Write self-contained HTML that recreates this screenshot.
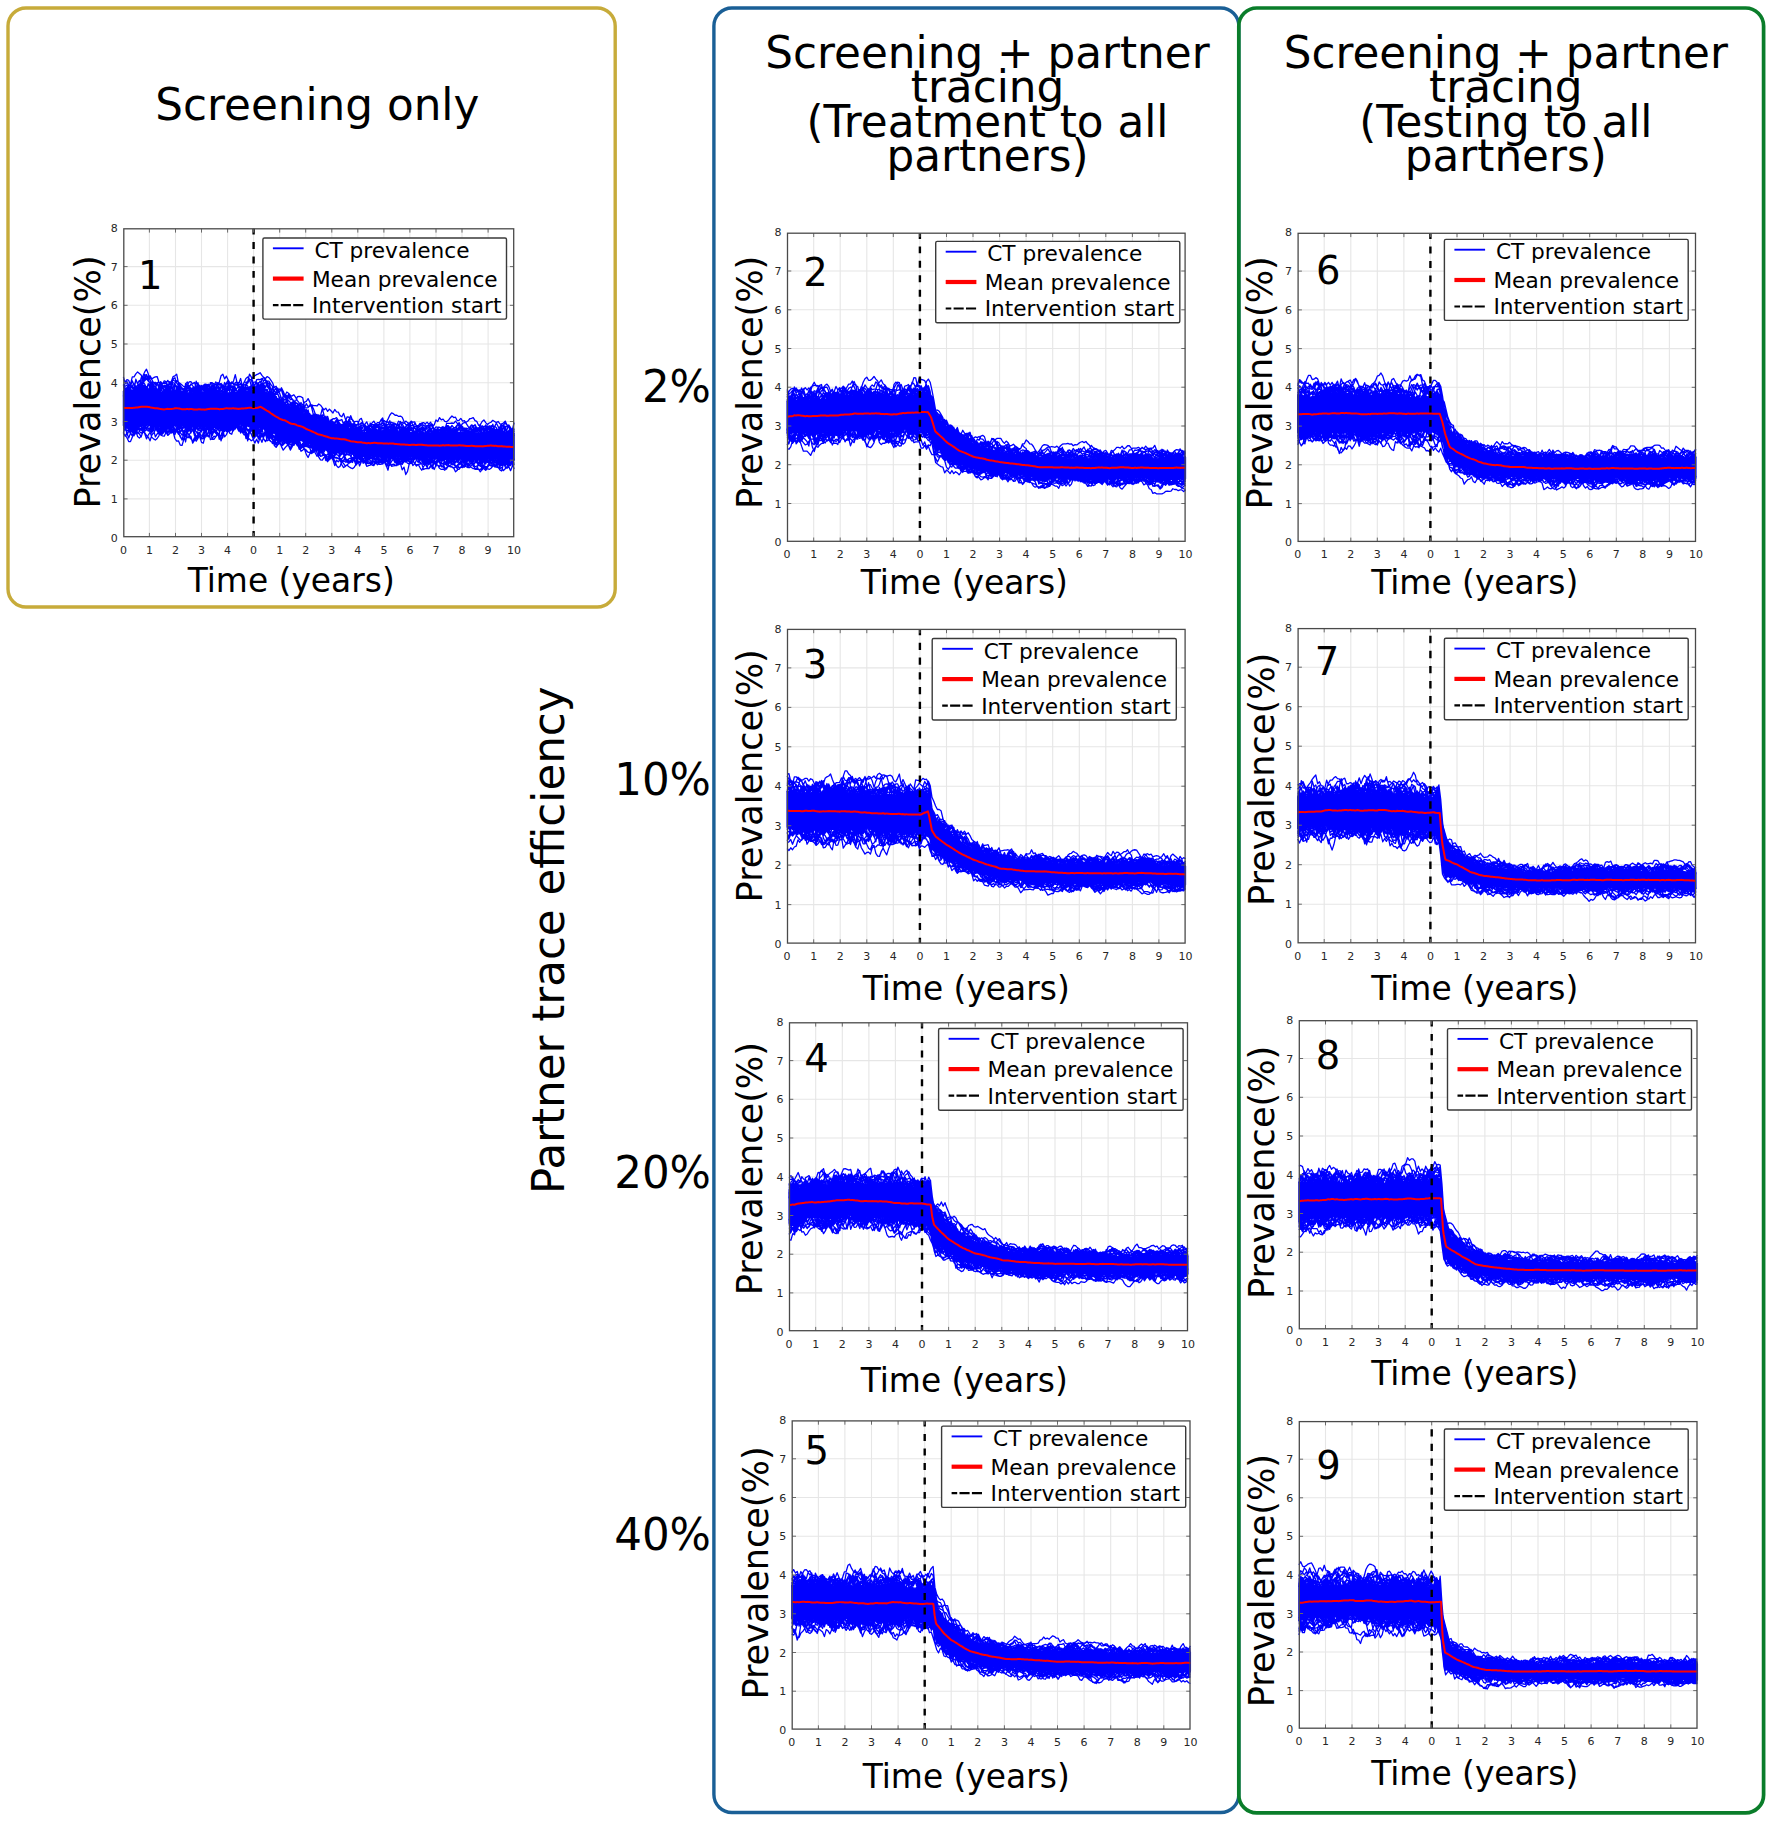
<!DOCTYPE html>
<html lang="en"><head><meta charset="utf-8"><title>Partner trace efficiency</title>
<style>
html,body{margin:0;padding:0;background:#fff}
body{width:1772px;height:1821px;overflow:hidden}
svg{display:block}
text{font-family:'DejaVu Sans','Liberation Sans',sans-serif;fill:#000}
.tk text{font-size:11px;fill:#262626}
.lg text{font-size:21.66px}
.num{font-size:38.5px}
.xl{font-size:32.9px}
.yl{font-size:35.1px}
.hd{font-size:43.7px}
.sd{font-size:43.55px}
</style></head><body>
<svg width="1772" height="1821" viewBox="0 0 1772 1821">
<rect width="1772" height="1821" fill="#fff"/>
<rect x="8" y="8" width="607.2" height="599" rx="18" fill="none" stroke="#c7ab3a" stroke-width="3.4"/>
<rect x="713.9" y="8" width="524.9" height="1804.5" rx="18" fill="none" stroke="#1a5f96" stroke-width="3.4"/>
<rect x="1238.8" y="8" width="524.8" height="1804.9" rx="18" fill="none" stroke="#0a7d2a" stroke-width="3.7"/>
<text class="hd" text-anchor="middle" x="317.3" y="119.8">Screening only</text>
<g class="hd" text-anchor="middle"><text x="987.5" y="67.9">Screening + partner</text><text x="987.5" y="101.9">tracing</text><text x="987.5" y="136.9">(Treatment to all</text><text x="987.5" y="170.9">partners)</text></g>
<g class="hd" text-anchor="middle"><text x="1505.8" y="68.3">Screening + partner</text><text x="1505.8" y="102.3">tracing</text><text x="1505.8" y="137.3">(Testing to all</text><text x="1505.8" y="171.3">partners)</text></g>
<text class="sd" text-anchor="middle" transform="translate(563.5 940.2) rotate(-90)">Partner trace efficiency</text>
<text class="sd" text-anchor="end" x="711" y="401.5">2%</text>
<text class="sd" text-anchor="end" x="711" y="794.6">10%</text>
<text class="sd" text-anchor="end" x="711" y="1187.6">20%</text>
<text class="sd" text-anchor="end" x="711" y="1550">40%</text>
<g>
<path d="M149.4 228.8V536.7M175.5 228.8V536.7M201.5 228.8V536.7M227.6 228.8V536.7M253.6 228.8V536.7M279.7 228.8V536.7M305.7 228.8V536.7M331.8 228.8V536.7M357.8 228.8V536.7M383.9 228.8V536.7M409.9 228.8V536.7M436 228.8V536.7M462 228.8V536.7M488.1 228.8V536.7M123.8 498.9H513.7M123.8 460.2H513.7M123.8 421.5H513.7M123.8 382.8H513.7M123.8 344H513.7M123.8 305.3H513.7M123.8 266.6H513.7" stroke="#e6e6e6" stroke-width="1.1" fill="none"/>
<g transform="translate(123.4 537.6) scale(1.77591 -0.38713)" fill="none" stroke="#00f" stroke-width="1.3" stroke-linejoin="round"><path d="M0 378L1 378L2 378L3 378L4 379L5 380L6 381L7 382L8 383L9 383L10 384L11 385L12 385L13 385L14 384L15 383L16 382L17 380L18 379L19 378L20 377L21 376L22 376L23 377L24 377L25 376L26 377L27 379L28 379L29 378L30 378L31 378L32 377L33 377L34 377L35 375L36 374L37 374L38 374L39 374L40 374L41 375L42 374L43 375L44 376L45 376L46 376L47 376L48 376L49 376L50 375L51 375L52 374L53 374L54 374L55 374L56 374L57 374L58 374L59 374L60 374L61 375L62 375L63 376L64 375L65 376L66 377L67 377L68 378L69 379L70 379L71 380L72 380L73 381L74 382L75 381L76 380L77 380L78 379L79 377L80 375L81 373L82 370L83 366L84 363L85 360L86 357L87 354L88 352L89 349L90 346L91 343L92 341L93 340L94 338L95 336L96 333L97 331L98 329L99 328L100 326L101 323L102 320L103 318L104 316L105 314L106 311L107 309L108 307L109 305L110 304L111 302L112 300L113 298L114 297L115 295L116 293L117 291L118 290L119 289L120 287L121 287L122 286L123 286L124 285L125 285L126 284L127 283L128 282L129 281L130 280L131 278L132 276L133 275L134 274L135 273L136 272L137 272L138 271L139 271L140 272L141 273L142 273L143 274L144 275L145 275L146 276L147 276L148 277L149 277L150 277L151 277L152 277L153 276L154 276L155 275L156 275L157 274L158 273L159 273L160 272L161 272L162 272L163 272L164 271L165 270L166 270L167 269L168 268L169 268L170 267L171 267L172 267L173 268L174 268L175 269L176 270L177 271L178 271L179 272L180 272L181 273L182 273L183 273L184 273L185 273L186 273L187 273L188 273L189 272L190 272L191 272L192 271L193 271L194 270L195 270L196 269L197 269L198 269L199 269L200 269L201 269L202 270L203 270L204 271L205 272L206 273L207 273L208 273L209 274L210 274L211 273L212 273L213 272L214 272L215 271L216 270L217 270L218 269L219 269L220 269L220 200L219 200L218 200L217 200L216 200L215 200L214 200L213 199L212 199L211 200L210 201L209 201L208 201L207 201L206 201L205 201L204 202L203 202L202 202L201 202L200 201L199 201L198 202L197 202L196 202L195 201L194 201L193 202L192 202L191 203L190 203L189 203L188 203L187 203L186 204L185 204L184 203L183 203L182 203L181 203L180 204L179 204L178 204L177 204L176 204L175 205L174 205L173 205L172 206L171 206L170 207L169 208L168 208L167 209L166 209L165 209L164 209L163 209L162 209L161 208L160 208L159 208L158 207L157 207L156 208L155 208L154 209L153 209L152 209L151 210L150 210L149 209L148 210L147 209L146 209L145 208L144 208L143 209L142 209L141 210L140 210L139 211L138 211L137 212L136 213L135 213L134 213L133 214L132 214L131 215L130 216L129 216L128 217L127 218L126 219L125 221L124 221L123 222L122 222L121 223L120 223L119 224L118 225L117 225L116 226L115 226L114 228L113 229L112 230L111 231L110 233L109 234L108 235L107 237L106 239L105 242L104 244L103 246L102 248L101 249L100 251L99 252L98 253L97 254L96 255L95 255L94 256L93 257L92 258L91 259L90 260L89 262L88 264L87 265L86 267L85 270L84 273L83 276L82 278L81 280L80 281L79 283L78 284L77 284L76 284L75 284L74 284L73 285L72 285L71 286L70 288L69 289L68 290L67 291L66 293L65 293L64 294L63 294L62 294L61 294L60 294L59 294L58 293L57 292L56 292L55 291L54 291L53 290L52 290L51 290L50 289L49 289L48 288L47 287L46 287L45 286L44 286L43 286L42 287L41 287L40 287L39 287L38 287L37 288L36 288L35 288L34 288L33 288L32 287L31 288L30 289L29 290L28 290L27 289L26 289L25 289L24 288L23 289L22 289L21 289L20 288L19 289L18 290L17 291L16 292L15 293L14 294L13 294L12 295L11 295L10 294L9 293L8 293L7 291L6 291L5 291L4 290L3 290L2 290L1 290L0 289Z" fill="#00f" stroke="#00f" vector-effect="non-scaling-stroke"/><path d="M0 289l1-4 1 9M9 297l1-6 1-1 1 3 1 9M33 302l1-19 1 5M36 292l1-17 1 14M64 357l1 21 1 3 1 10 1-15M88 351l1 6 1-20M105 312l1 1 1 6 1-17M110 301l1 3 1 8 1-21M124 275l1 11 1 3 1-6M131 272l1 6 1 7 1-1 1 2 1 6 1-7 1-20M140 272l1 13 1 2 1-2 1 1 1 3 1 14 1-1 1-4 1 8 1 10 1 6 1-2 1-4 1 0 1-3 1 1 1-3 1-11 1-8 1 0 1-15 1 0 1-1 1-2 1-4M1 372l1 12 1 1 1 3 1-16M7 370l1 19 1-3 1 7 1 7 1 12 1 1 1-5 1-10 1-5 1-5 1-21M18 367l1 16 1-6M20 377l1 17 1 4 1 1 1-1 1 8 1-8 1-7 1-17M43 371l1 15 1 2 1 4 1 4 1-2 1-7 1 8 1-21M72 379l1 20 1-7 1 16 1 1 1-1 1 3 1-6 1 5 1-21 1 3 1-11 1 3 1-21 1-3 1-11M20 315l1-32 1 14M41 302l1-21 1 4 1 14M124 282l1 7 1 8 1-8 1-5 1-2 1-2M130 280l1 4 1-7 1-5M147 270l1 16 1-10M6 379l1 30 1-11 1 8 1-11 1 23 1 10 1 7 1-12 1-15 1-13 1-10 1-7M19 371l1 11 1-19M29 372l1 17 1-1 1-7 1-4M64 309l1-21 1-10 1 0 1 11 1 13M116 238l1-24 1 17M168 266l1 17 1-10 1-4 1 6 1 4 1-8 1 2 1 6 1 3 1-3 1 2 1-14M184 217l1-17 1-7 1-7 1-9 1-1 1 6 1 8 1 5 1-5 1 14M195 205l1-10 1 12M201 203l1-14 1-5 1-6 1 3 1 8 1 14M207 203l1-8 1-12 1 7 1 9 1-11 1-2 1 4 1-6 1 11 1 11M53 292l1-11 1 29M55 310l1-24 1 17M85 282l1-16 1-7 1-10 1 8 1 5M90 262l1-15 1-4 1-6 1-11 1 8 1 14 1-2 1-3 1 10M99 253l1-13 1-4 1 0 1-1 1 3 1-7 1-14 1 4 1 9 1-11 1-11 1-7 1-1 1 7 1-1 1-4 1 15 1-7 1 6 1 4 1-3 1 4 1 4M203 267l1 12 1-6 1 0M211 271l1 3 1 3 1 4 1 3 1-9 1 0 1 5 1-10 1-8M34 359l1 21 1 11 1-7 1-3 1-7M101 249l1-5 1-4 1-1 1 16M106 243l1-7 1-8 1 8M205 265l1 12 1 12 1-1 1-7 1-20M1 293l1-10 1 8M29 366l1 25 1-6 1 1 1 1 1-5 1-2 1-12M40 366l1 14 1-2 1-5M73 360l1 29 1-5 1 5 1 2 1 17 1 6 1-6 1-13 1 5 1-17 1 0 1-3 1 6 1 0 1-14 1-12 1-14M109 242l1-13 1-4 1 7M177 207l1-13 1-7 1-3 1 7 1-4 1 11 1 0 1 0 1-4 1 17M211 267l1 9 1 15 1-1 1-3 1-1 1 5 1-7 1-6 1 19M37 288l1-18 1 11 1-17 1-9 1 5 1 0 1-5 1 17 1-14 1 22 1 1 1 10M50 300l1-27 1 4 1-8 1 0 1 17 1 17M109 243l1-13 1-20 1 2 1 1 1-3 1-14 1 7 1 5 1-7 1-15 1 14 1-4 1 5 1-13 1-7 1 3 1 4 1 4 1 3 1 6 1 7 1 6 1 9M132 223l1-14 1-8 1 1 1-2 1-7 1-2 1 3 1-7 1-1 1 7 1 15 1-15 1 7 1-4 1 7 1-18 1 6 1-4 1 10 1 6 1 3 1 17M160 210l1-7 1-2 1-15 1 5 1-6 1 4 1 1 1 1 1-15 1 2 1 0 1 0 1 5 1 3 1 13 1 6M27 302l1-16 1-11 1 9 1 8M96 329l1 6 1 2 1-12M123 229l1-9 1-8 1 3 1-2 1 7M190 268l1 5 1 8 1-4 1-7M196 268l1 8 1 5 1 2 1-4 1-7 1 7 1-2 1 6 1-3 1-2 1-4 1-1M0 271l1-9 1 9 1-14 1 13 1-5 1-2 1 16 1-18 1-4 1 5 1 10 1 3 1 3 1 10 1 4 1-22 1 13 1 22M42 296l1-13 1-3 1 3 1 8M86 280l1-24 1 4 1-4 1 2 1-8 1 5 1 0 1 2M108 236l1-9 1 11M112 237l1-16 1 10M118 227l1-5 1-7 1-3 1-7 1-2 1 7 1-9 1 1 1-5 1 3 1 6 1-3 1-8 1 17 1-10 1 3 1-13 1 3 1-11 1 2 1 1 1 10 1 7 1 0 1-3 1-3 1 1 1 2 1-6 1-9 1-12 1 22 1-12 1 1 1 1 1 0 1 5 1 0 1-16 1 7 1-19 1 8 1 21 1 7 1 2 1-10 1-3 1 1 1-8 1-7 1 9 1 7 1-9 1-3 1 9 1 0 1-11 1 11 1 0 1-3 1 9 1 11M180 204l1-11 1 4 1 8M0 409l1-7 1 6 1-2 1-12 1-5 1-8M23 370l1 13 1-6 1 11 1 7 1 14 1 4 1-14 1-6 1-17M35 371l1 13 1 3 1-19M48 376l1 1 1 3 1 12 1-9 1-10M81 368l1 9 1-10 1-26M87 349l1 14 1-18M89 345l1 20 1 2 1 0 1-31M106 311l1 8 1 0 1-18M11 378l1 12 1-2 1-10M15 375l1 10 1-2 1 2 1-14M34 373l1 23 1 6 1-16 1 11 1-5 1-5 1-6 1-6 1 5 1 0 1 2 1 0 1-2 1 1 1-2 1 15 1-20M74 287l1-6 1-2 1 2 1 0 1 11M79 292l1-14 1-12 1-12 1-5 1-6 1 12 1-13 1 9 1 5 1 7M103 318l1 6 1-11M123 286l1 10 1 5 1-15 1 15 1-7 1-16M194 206l1-7 1-8 1-2 1-13 1 0 1 1 1-7 1 7 1 10 1-4 1 1 1 10 1-1 1-7 1-2 1 2 1 6 1-11 1 21M216 201l1-18 1-10 1 11 1 20M73 376l1 9 1 7 1 7 1 4 1-7 1 2 1-28M81 364l1 9 1 3 1 13 1-11 1-2 1 1 1 0 1 8 1-13 1-8 1-5 1-5 1-5 1-10 1-22M143 272l1 6 1 5 1-3 1 0 1 2 1 2 1 1 1-4 1-7M152 274l1 3 1 5 1 0 1 2 1 2 1-3 1-1 1-5 1-1 1-14M192 268l1 8 1-8M14 300l1-12 1 4M16 292l1-4 1-3 1-1 1-2 1 3 1 14M26 291l1-15 1-5 1 9 1-6 1-5 1 17 1-6 1-17 1 23 1 5M39 289l1-16 1 11 1-7 1 10M50 362l1 17 1 7 1-6 1-16M68 360l1 22 1 2 1-6M171 248l1 27 1-2 1-6M174 267l1 10 1-7M182 271l1 4 1 3 1-3 1 9 1-3 1-9M39 364l1 17 1 23 1-16 1 6 1-18M46 373l1 9 1 10 1 5 1-1 1-24M67 374l1 12 1-2 1 1 1 3 1-14M123 281l1 16 1-3 1 5 1-5 1-3 1 0 1 5 1-19M27 290l1-7 1 9M29 292l1-10 1 7M64 297l1-9 1 8M72 287l1-9 1 17M121 283l1 4 1 5 1-18M190 214l1-18 1-1 1 5 1 3M29 372l1 10 1-1 1 2 1-13M51 375l1 4 1-5M103 253l1-14 1-4 1 8M106 243l1-11 1 8M0 292l1-9 1 12M2 295l1-17 1 18M28 290l1-11 1-3 1 6 1 13M53 369l1 12 1 5 1 4 1 2 1-19M115 295l1 4 1-3 1-5 1 3 1-6 1 0 1 2 1 2 1-8M124 284l1 8 1-6 1-9M172 206l1-6 1 6M176 214l1-17 1 5 1 5M190 206l1-8 1 14M192 212l1-17 1 3 1 12M1 364l1 21 1-14M19 309l1-26 1-4 1 25M22 304l1-18 1-10 1 18M30 291l1-11 1-2 1-3 1-1 1-12 1-4 1 1 1-4 1-6 1 9 1-9 1 7 1 16 1 1 1 22M55 294l1-14 1 6 1 8M115 288l1 10 1 7 1-17M137 265l1 24 1 1 1-7 1 5 1 2 1 7 1 0 1 5 1 3 1-10 1-10 1-8M0 377l1 10 1-12M38 369l1 18 1-4 1-7 1 17 1-3 1 0 1 3 1 4 1-9 1-32M68 366l1 23 1-4 1 5 1-7 1-10M113 296l1 18 1-24M192 207l1-11 1 5M195 204l1-8 1 3 1 8M3 352l1 36 1-17M71 296l1-13 1-15 1-5 1 6 1-14 1 6 1 18 1 16M95 327l1 16 1 3 1 1 1-7 1 0 1-12 1 4 1-9 1 6 1-19M105 310l1 6 1-5 1 0 1-5 1 1 1-3 1-3 1-10M121 283l1 11 1-5 1 5 1 1 1 0 1 8 1 12 1-12 1-7 1-9 1 6 1 12 1 3 1-13 1-11 1 3 1 0 1-8 1 0 1-5 1 6 1-13M147 276l1 2 1 0 1 0 1 6 1 0 1-2 1-1 1-19M162 266l1 11 1 7 1-8 1 4 1-10 1-1 1-3M173 255l1 18 1 7 1-9 1-2M180 269l1 10 1-8M15 302l1-22 1 10 1-5 1-5 1-11 1 4 1 21M83 358l1 7 1 7 1-12 1-28M90 335l1 14 1-10M94 321l1 27 1-5 1-7 1 7 1-8 1 1 1 1 1-11 1-4 1-8M66 377l1 3 1-1 1 7 1-2 1-9M75 379l1 6 1-5M93 339l1 2 1 6 1-1 1-9 1-22M113 298l1 4 1 10 1-20M116 292l1 0 1 2 1 1 1-4 1-22M164 216l1-14 1-8 1 14 1-3 1 8M0 282l1-4 1 10 1-12 1-7 1-6 1 15 1 29M58 368l1 19 1-2 1-5 1-23M124 224l1-12 1 4 1-3 1 11M140 211l1-3 1-8 1 3 1-14 1 0 1 4 1 12 1-7 1 16M151 210l1-2 1-10 1-4 1 11 1-5 1 2 1 2 1 15M167 219l1-20 1-10 1 4 1-11 1 11 1 0 1 8 1 13M8 293l1-12 1 1 1-5 1-6 1-7 1-4 1-10 1 15 1 5 1 8 1 3 1-13 1 0 1 9 1 3 1-7 1 2 1-3 1 17M186 270l1 6 1 14 1 7 1-9 1-1 1-11 1-9M194 267l1 8 1-5 1-5M197 265l1 16 1-4 1-2 1 6 1-10 1-2M205 268l1 8 1 6 1-6 1-10M18 290l1-4 1-12 1 1 1 12 1-13 1-2 1 11 1 6M31 296l1-12 1-4 1 5 1 12M39 295l1-15 1-6 1-1 1-13 1-14 1-2 1 18 1 8 1-10 1 14 1 26M62 306l1-19 1 6 1 13M96 255l1-5 1-1 1-14 1 1 1 7 1-4 1 0 1 2 1-8 1 0 1 0 1 2M129 220l1-10 1-2 1 4 1 0 1-2 1 0 1 10M140 220l1-13 1-2 1-1 1 1 1-7 1 11M158 214l1-13 1 16M168 208l1-9 1 9M1 295l1-6 1-9 1 15M9 310l1-23 1 6 1-5 1 1 1-6 1-10 1-14 1-4 1-3 1 4 1 7 1 16 1-10 1 10 1 21M44 293l1-17 1 3 1-18 1 16 1-3 1-20 1 0 1 6 1 12 1-18 1 11 1 12 1-17 1 6 1 10 1 18M64 301l1-11 1-9 1 1 1 8M68 290l1-15 1-11 1 14 1-11 1-11 1-12 1 10 1-10 1 17 1 5 1-11 1-7 1 9 1 13 1 0 1 18M119 287l1 5 1 9 1-7 1-7 1-3M142 259l1 18 1 6 1 0 1 7 1 3 1-9 1 1 1 1 1-9M159 266l1 11 1-5M73 380l1 10 1-7 1-1 1-5M131 276l1 10 1 0 1 2 1 4 1-2 1-15 1-13M159 216l1-14 1 13M165 211l1-4 1-5 1 11M0 394l1-21M2 376l1 16 1-1 1 14 1-12 1-1 1-23M10 382l1 5 1 5 1-5 1-7M31 364l1 20 1-23M146 269l1 12 1 16 1 2 1-7 1 6 1-2 1-1 1-6 1 2 1 3 1 0 1-9 1 1 1-1 1 0 1-4 1-1 1-8 1 1 1-5M167 269l1 6 1-11M0 415l1-16 1 0 1-5 1-2 1 0 1-11M7 380l1 8 1-4 1-1M10 383l1 19 1-5 1-11 1-27M60 302l1-16 1-10 1 17 1 6M68 301l1-14 1-12 1 1 1 25M74 288l1-11 1 4 1 10M77 291l1-10 1-16 1 3 1-18 1 3 1 9 1 2 1-1 1-9 1 15M87 269l1-10 1-11 1-8 1 16 1-10 1 6 1-12 1 1 1 4 1 13M105 258l1-25 1-11 1 9 1 0 1-13 1 9 1 17M2 378l1 5 1-6M8 366l1 27 1-25M13 377l1 19 1-7 1 13 1-9 1-5 1 13 1-1 1-2 1-5 1-5 1 6 1 2 1 0 1-1 1 5 1-2 1-11 1-9M64 373l1 11 1-3 1-41M135 218l1-11 1-11 1 2 1-7 1 2 1 3 1 3 1 14M149 258l1 20 1 0 1 2 1-3 1 5 1 4 1 14 1-16 1-4 1 7 1 6 1 2 1-5 1-1 1-3 1 3 1-15 1 2 1-4 1-7M172 259l1 10 1 16 1-4 1-12M176 269l1 11 1-2 1 2 1-8M181 273l1 5 1 3 1-8M184 273l1 7 1-2 1-7M187 271l1 9 1 6 1-16M195 259l1 12 1 3 1-22M0 365l1 18 1 3 1 2 1-3 1 8 1 4 1-10 1 7 1-3 1-8M14 374l1 10 1 13 1-28M19 370l1 22 1-24M23 368l1 14 1 13 1-6 1-13M90 332l1 17 1 2 1 13 1-8 1 3 1-13 1-5 1-3 1-18M116 292l1 8 1-11M138 264l1 12 1-9M152 212l1-9 1-3 1-1 1-4 1 5 1 7M219 261l1 15M0 300l1-17 1-7 1 1 1 5 1 5 1 9M6 296l1-24 1 16 1-12 1 3 1-5 1 20 1 11M61 299l1-22 1 6 1 2 1-2 1 5 1 8M45 290l1-9 1 4 1-9 1-23 1 3 1 6 1-2 1 6 1 0 1-13 1 6 1 35M57 294l1-2 1-9 1-7 1 2 1 4 1 20M82 279l1-8 1-5 1 11M92 259l1-12 1 4 1-5 1 9M97 254l1-9 1 8M158 272l1 8 1 3 1-2 1-3 1-3 1-11M12 310l1-21 1 19M57 373l1 5 1 17 1-14 1 11 1-18M101 322l1 8 1-7 1 7 1-18M150 215l1-9 1-4 1-9 1 12 1-1 1-3 1 5 1-8 1 7 1-3 1-8 1-3 1 5 1 8 1 12M189 206l1-11 1 8M30 366l1 17 1 1 1-10M144 218l1-11 1-4 1 1 1 15M149 218l1-23 1 14 1 0M32 301l1-19 1-15 1 7 1-2 1-7 1 8 1 3 1 15M48 290l1-9 1-4 1 12 1 4M58 297l1-9 1 12M95 316l1 18 1 2 1-6 1-15M126 284l1 8 1-2 1-3 1 4 1 1 1-1 1 2 1 4 1-3 1-4 1-9 1-24M6 307l1-17 1-5 1 21M91 266l1-17 1 7 1 9M132 219l1-8 1-5 1-4 1 8 1 3M154 217l1-17 1 4 1 10M160 209l1-7 1-1 1 0 1-11 1 10 1 14M177 207l1-11 1-1 1-6 1 12 1 14M83 282l1-16 1 9M126 284l1 4 1 1 1-17M133 259l1 20 1 8 1 6 1 6 1-11 1 4 1 4 1 5 1-8 1-9 1 2 1-23M154 276l1 16 1-14 1-8M170 267l1 3 1 7 1 15 1-6 1-4 1-7 1-2 1 3 1 8 1 3 1-20M181 267l1 10 1 7 1-16M214 271l1 12 1-15M48 293l1-12 1 14M102 311l1 14 1-6 1-9M124 281l1 9 1-26M171 260l1 21 1 9 1 3 1-14 1 7 1-1 1 0 1-2 1-6 1 0 1 10 1-10 1 2 1 1 1-6 1-8M18 302l1-19 1-4 1 2 1 6 1 2M23 289l1-15 1 8 1 11M26 293l1-9 1-11 1 7 1 0 1-8 1-12 1-7 1 16 1-22 1 24 1 8 1 10M39 292l1-11 1 17M54 297l1-13 1-11 1 7 1 10 1-6 1 19M151 211l1-3 1 0 1-4 1 6M14 298l1-7 1-17 1 6 1 13M20 296l1-8 1-9 1 14M168 256l1 17 1-12M51 372l1 11 1 17 1-3 1 1 1-5 1-7 1 13 1 8 1-7 1-2 1 6 1 17 1-21 1 1 1-3 1-15 1-8M68 375l1 22 1-6 1-9 1 4 1 3 1-11M74 378l1 9 1 11 1 6 1-10 1 12 1 1 1-3 1 0 1-8 1-6 1-2 1-5 1-12 1-13 1-5 1 7 1-21M152 272l1 9 1-9M7 309l1-28 1 8 1 6M10 295l1-16 1 16M37 369l1 18 1-6 1 2 1 5 1 12 1-21 1 1 1 14 1-5 1 7 1-19 1-1M49 376l1 1 1 20 1-3 1 3 1-3 1 0 1-11 1-2 1-18M74 295l1-19 1-2 1 6 1 23M93 267l1-16 1-5 1 8 1-6 1 8M102 265l1-27 1-3 1 26M187 213l1-11 1-7 1-2 1 2 1 9M201 203l1-8 1 2 1 0 1 7M33 373l1 12 1-14M40 371l1 8 1 4 1-14M106 309l1 7 1 0 1-1 1 2 1-5 1-16M142 225l1-18 1-4 1-3 1-2 1 10 1-5 1-11 1 11 1 6 1-8 1-2 1-10 1 8 1-2 1-6 1 8 1-2 1 17M173 211l1-13 1-2 1 15M206 273l1 1 1 4 1 8 1 10 1-9 1-12 1 0 1-17M4 315l1-29 1-14 1 12 1-2 1 13M11 311l1-26 1-3 1-7 1 9 1 4 1 7M17 295l1-10 1 8M57 369l1 17 1 3 1-4 1 6 1 1 1-30M65 368l1 12 1 1 1 5 1 6 1 9 1 8 1-1 1-17 1-1 1-6 1 4 1 4 1-12 1 17 1 5 1-12 1-6 1 0 1-13 1-12M90 336l1 10 1 12 1 13 1-8 1-5 1-8 1 3 1 11 1 1 1-1 1-3 1-25 1 10 1-8 1 1 1 4 1-2 1 0 1-1 1 5 1-3 1-6 1-6 1 4 1-8 1 6 1-5 1-5 1 9 1-6 1-1 1-9 1-3 1 9 1-15 1-7 1-5 1-8 1-4 1 6 1-10M131 278l1 6 1-8 1 0 1-12M138 270l1 6 1-10M148 271l1 7 1 7 1-3 1-3 1-7M196 208l1-11 1 6M203 203l1-13 1 13M208 204l1-4 1-11 1-7 1-7 1-3 1 19 1 3 1 3 1 12M14 360l1 39 1-23M16 376l1 7 1-2 1 0 1 7 1 10 1-7 1-15M179 272l1 9 1 4 1-7 1-5M183 273l1 13 1-8 1-16M206 205l1-12 1 2 1 5 1-1 1-3 1 6M214 207l1-14 1-5 1-3 1 10 1-4 1-4M77 286l1-6 1-16 1 14 1 11M97 254l1-7 1-10 1-3 1 2 1 5 1 8M137 268l1 13 1 7 1 4 1 0 1-2 1-2 1-7 1-5 1-7M168 213l1-13 1 15M177 209l1-13 1 7 1 2M183 206l1-9 1 19M188 205l1-13 1-2 1-9 1 5 1 5 1 15M195 204l1-5 1-15 1 11 1 6M204 210l1-10 1-9 1-6 1 2 1 1 1-1 1 3 1 8 1 0 1-7 1-2 1 1 1 4 1 6M20 375l1 4 1 8 1-8 1-6M101 252l1-10 1 1 1-10 1-1 1-14 1 6 1 20M108 244l1-18 1 0 1 7M161 214l1-12 1 11M173 212l1-10 1-9 1 0 1 4 1 3 1-1 1 8M42 371l1 19 1-13 1-8M49 372l1 6 1 15 1-21M52 372l1 7 1-10M54 369l1 11 1-5 1-6M88 269l1-13 1 14M92 262l1-9 1-7 1 5 1 11M107 304l1 11 1-11M215 271l1 0 1 0 1 3 1 1 1-1M34 306l1-25 1-11 1-5 1-6 1-13 1 9 1 7 1 2 1 7 1-9 1-1 1 29M84 358l1 7 1-6 1-3 1-4M89 345l1 6 1-6 1 9 1-18M96 329l1 7 1-10M112 290l1 10 1 5 1 8 1-14 1 3 1 5 1 0 1 3 1-7 1 0 1 2 1-13 1 1 1-29M146 210l1-7 1-13 1-5 1 5 1-2 1 2 1-2 1-1 1 8 1 12 1-3 1 6M170 210l1-15 1 5 1 1 1 3 1 19M8 383l1 12 1-3 1 1 1 1 1-14M14 368l1 17 1 9 1-17M77 363l1 26 1-12M82 367l1 11 1-10 1-11M100 325l1 0 1 0 1-16M111 235l1-14 1 0 1 11M122 226l1-10 1 5M127 226l1-17 1 10M204 266l1 19 1-6 1-2 1-8M213 270l1 3 1 5 1-6 1-5M12 370l1 20 1-12M14 378l1 14 1-8 1-7M54 295l1-11 1-2 1 6 1-9 1 18M80 286l1-27 1 5 1-7 1-5 1-14 1-5 1 7 1 4 1 7 1 1 1 1 1 2 1 1 1 9M94 265l1-18 1 6 1 5M97 258l1-15 1-15 1 5 1 11 1-16 1-13 1-8 1 10 1 3 1 3 1 2 1 6 1-1 1-3 1-4 1 14M213 272l1 16 1-9 1-11M216 268l1 6 1 9 1-8 1-2M50 299l1-14 1 11M53 294l1-11 1 22M55 305l1-18 1 9M94 261l1-11 1 2 1 0 1-14 1-5 1 8 1-2 1 2 1 6M103 247l1-10 1-6 1 5 1-12 1 2 1 8M109 234l1-10 1 2 1-11 1-2 1 1 1-6 1-7 1 5 1 1 1 9 1 0 1 6 1-6 1 9M123 225l1-11 1-7 1-12 1 9 1 1 1-5 1 11 1 0 1 6M147 216l1-9 1-9 1 11 1-2 1-4 1 5 1-9 1-7 1 0 1-2 1 10 1-2 1 4 1-5 1-2 1 10 1-3 1 7M165 209l1-7 1 4 1-5 1-6 1 10 1-3 1 7M172 209l1-13 1 1 1-2 1-3 1 6 1 0 1 7M179 205l1-6 1 9M184 203l1-5 1 7M206 201l1-10 1-5 1 7 1 2 1 6M156 274l1 5 1-15M5 305l1-21 1 16M74 371l1 18 1-1 1 6 1-1 1-16M88 349l1 4 1 13 1 1 1-11 1-12 1 1 1 5 1-9 1-4 1-14M130 220l1-15 1 0 1 11M156 208l1-7 1 7M166 211l1-9 1 9M168 211l1-10 1 0 1-11 1 3 1 16M6 307l1-21 1 8M50 373l1 16 1-4 1-5 1-23M58 363l1 35 1-1 1 5 1-6 1 1 1-4 1-6 1 0 1-1 1-3 1-4M81 369l1 3 1 1 1-9 1-4M86 356l1 3 1-12M135 220l1-10 1-10 1 10 1 3M160 216l1-15 1 0 1 7 1 3M187 264l1 11 1 4 1 10 1-12 1-1 1 0 1-3 1 13 1-12 1 5 1-5 1 5 1 3 1-7 1-7M0 282l1 1 1 8M2 291l1-15 1 3 1-7 1 0 1 2 1 16 1 8M47 292l1-10 1-3 1 17M91 272l1-19 1 3 1-1 1-6 1-11 1 11 1 4M157 213l1-10 1-5 1-6 1-2 1 7 1 10 1 7M164 214l1-11 1 10M200 202l1-9 1-18 1 6 1 0 1 1 1 5 1-1 1 2 1-5 1-1 1-1 1-3 1 3 1-8 1 5 1 5 1 8 1-5 1 8 1-17M49 298l1-18 1 9 1-3 1 18M59 298l1-10 1 19M92 258l1-18 1-10 1 15 1 20M134 219l1-22 1-1 1-5 1 2 1-2 1 1 1 33M187 268l1 9 1 4 1-3 1 4 1 1 1-2 1-8 1 7 1 0 1-11M197 269l1 3 1 9 1 1 1 8 1-7 1-12 1 20 1-12 1 10 1-4 1-4 1-1 1-4 1 0 1 4 1-2 1-9M219 261l1 19M1 296l1-9 1-11 1-1 1 5 1 5 1 0 1-6 1 1 1-1 1-7 1 9 1 22M31 295l1-9 1-2 1 2 1-3 1-5 1 37M39 297l1-17 1-6 1-9 1 7 1 6 1 8M45 286l1-11 1 7 1 8M48 290l1-4 1-14 1 4 1 0 1-11 1 3 1-18 1 22 1 2 1 11 1 9M68 292l1-12 1-2 1 2 1 7M72 287l1-11 1 8M74 284l1-19 1 10 1-17 1 3 1 3 1 15 1-2 1 12M108 305l1 5 1 7 1-9 1-1 1-13M117 285l1 11 1 2 1 7 1-8 1-12M16 296l1-13 1-3 1 9M23 290l1-13 1-9 1 16 1 26M64 314l1-30 1-14 1 33M72 292l1-16 1-3 1-1 1 7 1-7 1-4 1-8 1 8 1 10 1 1M152 265l1 16 1 2 1 2 1-10M177 205l1-8 1-5 1-1 1-11 1-1 1 5 1 0 1-2 1-3 1 3 1 5 1 1 1 5 1-6 1 0 1-4 1-2 1 0 1 6 1 4 1-8 1 2 1-9 1 0 1 5 1-3 1-4 1 4 1-2 1 3 1 6 1 10 1-4 1 3 1 2 1-6 1 1 1 7 1-3 1-7 1 15M25 300l1-23 1-6 1 0 1-5 1 12 1 9 1 20M63 327l1-38 1-3 1 15M67 305l1-20 1 10M108 303l1 8 1 1 1 1 1 4 1-3 1-8 1-2 1-13M207 206l1-14 1-3 1-4 1 5 1 7 1 6M9 366l1 30 1-19M24 374l1 9 1-2 1-12M94 277l1-29 1 11M149 277l1 12 1-3 1 5 1-8 1-10M155 274l1 3 1 7 1-2 1-2 1-13M176 266l1 10 1-4 1 2 1 3 1 1 1 17 1 0 1 0 1 1 1-1 1 6 1-6 1-8 1-5 1-1 1 1 1 1 1-2 1-1 1 1 1-7 1-12M217 266l1 7 1 3 1 6M45 288l1-10 1 4 1-5 1 20M50 299l1-22 1-8 1 17 1-12 1 8 1 14M58 295l1-15 1-11 1-2 1 15 1 16M63 298l1-10 1-7 1 8 1-12 1-6 1 13 1-7 1 0 1 6 1 2M98 316l1 14 1 5 1-23M102 313l1 10 1-19M215 209l1-15 1 9M0 285l1-1 1 3 1 9M37 367l1 19 1-18M45 371l1 11 1-1 1 0 1-4 1-2M56 365l1 16 1-4 1-13M60 372l1 6 1 7 1-1 1-5 1-1 1-8M165 263l1 12 1-5 1 2 1 10 1-2 1 2 1 4 1-3 1-13 1 4 1 3 1-15M178 271l1 3 1 7 1-15M184 268l1 9 1 2 1-10M218 268l1 6 1-5M6 292l1-8 1-14 1 4 1-4 1 3 1 17 1-10 1-4 1 2 1 5 1-4 1-19 1 8 1 3 1-3 1-1 1 7 1 16M25 295l1-10 1-3 1 3 1-12 1 9 1 0 1-11 1-6 1 7 1 10 1 1 1 8M53 294l1-8 1 11M67 291l1-9 1 23M106 310l1 2 1 8 1-25M133 268l1 9 1-1 1 2 1-4 1-2 1 5 1 5 1-10M164 264l1 13 1 11 1 7 1-5 1-9 1-1 1-19M106 246l1-21 1 10M144 272l1 8 1 1 1 7 1 6 1-13 1-2 1 0 1-6M195 203l1-5 1-13 1 9 1 0 1-8 1 18M201 204l1-12 1 16M52 311l1-32 1-2 1 0 1 22M59 307l1-17 1-8 1-1 1 18M80 372l1 7 1-7 1 4 1 12 1-10 1-8 1 0 1-13 1-10M99 320l1 14 1-18M106 307l1 8 1-15M123 283l1 14 1 3 1 12 1-1 1-5 1-1 1-6 1 1 1 0 1-17 1-9M137 271l1 2 1 9 1-8 1 6 1 8 1 4 1-3 1-6 1 1 1-2 1 11 1-2 1 11 1-13 1 7 1-14 1 10 1 9 1-5 1 2 1-3 1 6 1-4 1-2 1 6 1-3 1 1 1-10 1-2 1-11 1-20M23 292l1-7 1-2 1 1 1 10M31 292l1-10 1 15M35 288l1-5 1 4 1 4M41 291l1-13 1-1 1 15M46 290l1-6 1-3 1-3 1-11 1 5 1 12 1 18M63 300l1-16 1-9 1 6 1-1 1 11M116 279l1 24 1-4 1-7 1-8M24 294l1-13 1 21M28 294l1-17 1 5 1 14M45 297l1-20 1 5 1 4 1 0 1 1 1 13M127 224l1-14 1-6 1-5 1-12 1 6 1 2 1 10 1-4 1 6 1 5M205 271l1 5 1 7 1-7 1 0 1-8M1 294l1-29 1 10 1 5 1-2 1-10 1 0 1 3 1-3 1-8 1 15 1-6 1-14 1 10 1 7 1 8 1 13M19 289l1-13 1 7 1-3 1 10M79 367l1 15 1 1 1-19M89 338l1 14 1 6 1-6 1-7 1-8M114 291l1 14 1-17M118 286l1 9 1 6 1-13 1-17M155 208l1-6 1 8M214 269l1 9 1-2 1-2 1 2 1 4 1 1M3 294l1-16 1 5 1 4 1 13M8 294l1-8 1 24M56 307l1-18 1-4 1-11 1 1 1 6 1 10 1 15M68 291l1-13 1 21M122 272l1 16 1-1 1 8 1-1 1 12 1-8 1-13 1 13 1-14 1-3 1 0 1 14 1 0 1-16 1-5 1 0 1-12M153 272l1 13 1-3 1-10M184 203l1-8 1 2 1-2 1 7 1 2M218 263l1 11 1 0M56 371l1 5 1 10 1-6 1 8 1 13 1-5 1-1 1 1 1 0 1-1 1-2 1 8 1 10 1 4 1-6 1-17 1 5 1-7 1-2 1-8M78 377l1 14 1-22M84 356l1 10 1-1 1-12M91 339l1 5 1-2 1 4 1-5 1 10 1-2 1-4 1-4 1 8 1-7 1-17 1-4 1-15M157 215l1-12 1-4 1 2 1 1 1 10M212 264l1 24 1 3 1 5 1-6 1 0 1-10 1-14M219 266l1 9M2 298l1-16 1 3 1 10M49 296l1-8 1-1 1-5 1 9M53 291l1-7 1-8 1 9 1 6 1-5 1 2 1-2 1 0 1-7 1 7 1 14M66 316l1-28 1-1 1-3 1 11M101 323l1 8 1-2 1-10 1 1 1-11M132 271l1 9 1-20M164 214l1-12 1 8M168 213l1-9 1-11 1 17M173 208l1-13 1-4 1-1 1-3 1-8 1-3 1 1 1-3 1 7 1 6 1-1 1 6 1-3 1-4 1 0 1-4 1 1 1-1 1 7 1 13 1 1M195 201l1-4 1 0 1 13M200 203l1-14 1-7 1 5 1 12 1-4 1 3 1 5M8 371l1 26 1-17M10 380l1 17 1 10 1 11 1-2 1 2 1-8 1 3 1 2 1 1 1-14 1-9 1-6 1-4 1-9M30 371l1 12 1 10 1-6 1-11M163 215l1-12 1 1 1-1 1-10 1 3 1-1 1-3 1-1 1-2 1 2 1-13 1 19 1-13 1 13 1-3 1-11 1 0 1-5 1-1 1 12 1-6 1 0 1-3 1-10 1 4 1 20 1-4 1-6 1-2 1 8 1-8 1 7 1 6 1 19M0 391l1 7 1 5 1-9 1-6 1 2 1-3 1 2 1-1 1 2 1 23 1-4 1-4 1 5 1-6 1-4 1-2 1-17 1-11M48 367l1 16 1-1 1-27M98 329l1 5 1-12M110 236l1-10 1 0 1 1 1 3M115 229l1-8 1 3 1-2 1 8M179 208l1-7 1-6 1-2 1 8 1-6 1-7 1 1 1-6 1 4 1 5 1-1 1-2 1-7 1 11 1-6 1 0 1 9 1 7M213 202l1-8 1-12 1-3 1 4 1 9 1 8M219 200l1-10M24 288l1-2 1-12 1-4 1 11 1-10 1 4 1-8 1 5 1 8 1-5 1-1 1 1 1 16M37 291l1-11 1-4 1 6 1 23M82 285l1-12 1-19 1-13 1 13 1 4 1 8M129 279l1 9 1-3 1-3 1 0 1 0 1-2 1 1 1-6 1-9M143 266l1 16 1-3 1-14M147 270l1 13 1-12M151 272l1 11 1-11M47 372l1 11 1-11M55 362l1 29 1-8 1 14 1 3 1-12 1-12 1 4 1 15 1 2 1 2 1 12 1-22 1-7 1-8M155 275l1 2 1 9 1-19M171 251l1 18 1 9 1-3 1-5 1 7 1 6 1-7 1-2 1 3 1 4 1 0 1-10M183 271l1 8 1 11 1-6 1 1 1 6 1 0 1-3 1-6 1-9 1-9M193 264l1 12 1 9 1 6 1-2 1 1 1-8 1-19M11 304l1-25 1 5 1 4 1 21M45 287l1-7 1 7M56 308l1-18 1-5 1-3 1 2 1 8 1-5 1 9M113 240l1-13 1-4 1-2 1-2 1 10M178 263l1 15 1 6 1 0 1 5 1 0 1-8 1-7 1 3 1-3 1 7 1 3 1 4 1 7 1 2 1 1 1 3 1 6 1 1 1 2 1-8 1-2 1-10 1 2 1 8 1 4 1-7 1-5 1 4 1 2 1 5 1-3 1-3 1 3 1-6 1-3 1-5 1-11 1 4 1 10 1-10 1-8 1-2M9 297l1-12 1-2 1 16M17 297l1-11 1-11 1-7 1-3 1-2 1-1 1 10 1-8 1 4 1 6 1-1 1-17 1-7 1 1 1-11 1-1 1 15 1 12 1 12 1 13M40 289l1-8 1 8M176 268l1 12 1-8 1-10M205 202l1-8 1 4 1 8M64 299l1-22 1-5 1 1 1 3 1-2 1-21 1 2 1-5 1 3 1 6 1 9 1-6 1-5 1-11 1 14 1 10 1 9 1-19 1 0 1-1 1-17 1-3 1 3 1 6 1 6 1 13M96 260l1-12 1 2 1 11M113 296l1 10 1 1 1-9 1-18M118 284l1 12 1-10M120 286l1 5 1-3 1 3 1-9M138 270l1 6 1-7M140 269l1 11 1 2 1-6 1-7M194 255l1 16 1 3 1 7 1 3 1 0 1-2 1-10 1-9M207 273l1 5 1-1 1 1 1-1 1 9 1 8 1 2 1 5 1-10 1-2 1-19 1 8 1-10M0 280l1 7 1 7M47 299l1-23 1 5 1-17 1 12 1 7 1 15M63 297l1-10 1 20M79 285l1-13 1-12 1 11 1-10 1 11 1 4M127 218l1-8 1-4 1 2 1 0 1-6 1 12M141 215l1-14 1 3 1 9M197 203l1-3 1-3 1-9 1-4 1 2 1 0 1 26M19 369l1 20 1 6 1 1 1 9 1-2 1-11 1 8 1-11 1-2 1 12 1 6 1-3 1-10 1-9 1 1 1 0 1-12M25 300l1-13 1-3 1 2 1 25M75 373l1 20 1-8 1-8M92 331l1 12 1 3 1 1 1-10 1-20M110 238l1-13 1 16M129 220l1-12 1 11M138 263l1 9 1 9 1 4 1-14M143 273l1 7 1-12M16 300l1-10 1-2 1-11 1 13M20 290l1-5 1-5 1 6 1-5 1 15M25 296l1-12 1-3 1-5 1-1 1 0 1-7 1-5 1-11 1 5 1 4 1 2 1-1 1 0 1-18 1 7 1 7 1-2 1 12 1-6 1 0 1 20 1 4 1 11M55 292l1-6 1 4 1-16 1 8 1 9 1 9M103 318l1 5 1-6 1-5 1 4 1-14M108 302l1 12 1-8 1 6 1-12M112 300l1 6 1-5 1-4 1-5M172 210l1-6 1-5 1 14M202 269l1 8 1 3 1 0 1-2 1 5 1-6 1 11 1-4 1-9 1 4 1 4 1-13M37 292l1-14 1 16M39 294l1-20 1-14 1 2 1 1 1-8 1 1 1 20 1 14M81 302l1-29 1-3 1-18 1-5 1 16 1-15 1-2 1 25M134 217l1-6 1-3 1 5M139 212l1-8 1 6M141 210l1-10 1 4 1 16M154 210l1-22 1 3 1 2 1 6 1 3 1-4 1 7 1-1 1-3 1 5 1 4M165 210l1-3 1-6 1 11M168 212l1-6 1-5 1 0 1-5 1 2 1-2 1 5 1 5M181 212l1-13 1-4 1 4 1-5 1 7 1 3M108 299l1 9 1 0 1 4 1 1 1-6 1-5 1-14M198 262l1 14 1 5 1 3 1-1 1-2 1-5 1-5M208 266l1 9 1 4 1-3 1-2 1-2M23 366l1 23 1-14M37 374l1 8 1-11M52 373l1 16 1-6 1-30M81 293l1-20 1-8 1-3 1-1 1-4 1-13 1 2 1 5 1 5 1-4 1 3 1-14 1 12 1-8 1 5 1-2 1-9 1-3 1-13 1 3 1 4 1-6 1-3 1-1 1-2 1 2 1 15M199 266l1 4 1 7 1 9 1 1 1 2 1-1 1-3 1-6 1 14 1-16 1-5M96 255l1-6 1 5M98 254l1-5 1-19 1 4 1-5 1-3 1-6 1 1 1 3 1 3 1-8 1-9 1 4 1-4 1 1 1 6 1-18 1 0 1 7 1 4 1 0 1-4 1-1 1-1 1-3 1-4 1-6 1-6 1 2 1-4 1-3 1-2 1 4 1 7 1 11 1-15 1 11 1 20M212 203l1-10 1-3 1 8 1-5 1 6 1 9M3 378l1 16 1-6 1-12M6 376l1 14 1-11M76 364l1 21 1-20M79 370l1 14 1-6 1-11M83 360l1 9 1-5 1 9 1 2 1 2 1 10 1-9 1-11 1 9 1-3 1-5 1-12 1-1 1-15 1-3 1 9 1-3 1-10 1 3 1-1 1 1 1 7 1-1 1-9 1-13 1-5 1-2 1-2 1 0 1-8 1 6 1-3 1-21M35 299l1-16 1 5M56 293l1-14 1 16M63 305l1-16 1-8 1 0 1 0 1-3 1 0 1 2 1-8 1-4 1-12 1 10 1 9 1 8 1 5M85 274l1-14 1 7M87 267l1-21 1-11 1-9 1 6 1 5 1 3 1 5 1 4 1-5 1 0 1-7 1 10 1 10M104 247l1-12 1 5M114 244l1-20 1-14 1-1 1 4 1-2 1 6 1 4 1-11 1 16M136 221l1-18 1 2 1 7M187 204l1-10 1 7 1 5M190 206l1-8 1 0 1-1 1-6 1-6 1-4 1-3 1 1 1 0 1 14 1 4 1 4 1-6 1 13M24 374l1 8 1 8 1 12 1 5 1-3 1 1 1-4 1-3 1-4 1-4 1-2 1-11 1 6 1-7 1-12M49 371l1 14 1-9 1-7M80 282l1-15 1-9 1 39M123 231l1-17 1-13 1-7 1 4 1 0 1 6 1 5 1-5 1-6 1-4 1 3 1 6 1-7 1 6 1 0 1 2 1 2 1-11 1-2 1-4 1 4 1 4 1 4 1-6 1 11 1 18M181 204l1-3 1-10 1 2 1 4 1 6 1 6M195 205l1-5 1-4 1-1 1 8M199 203l1-13 1 4 1-4 1 9 1 1 1 12M41 364l1 20 1-7 1-1M46 356l1 21 1 6 1 1 1 6 1 1 1-21M58 374l1 9 1 1 1 6 1-2 1-9 1 7 1 6 1-3 1-2 1-2 1-2 1 4 1-3 1 7 1 4 1 1 1 1 1 3 1-11 1-3 1-24M10 295l1-5 1 18M112 298l1 3 1 3 1-23M158 265l1 9 1 10 1-17M164 270l1 5 1 1 1-7M180 209l1-12 1-5 1 3 1-1 1 3 1-2 1-2 1 14M204 269l1 8 1-21M209 268l1 7 1 4 1-8M53 315l1-26 1-4 1-8 1 17M67 292l1-8 1-28 1 3 1 12 1 7 1 2 1-13 1-5 1 7 1 0 1 22M82 287l1-14 1-10 1-5 1 0 1-6 1-5 1-9 1 14 1 8M168 259l1 13 1-4 1 6 1-4 1-2M24 372l1 10 1-8M29 362l1 18 1 13 1-11 1 3 1-1 1 0 1 4 1-5 1-3 1 5 1 0 1-8 1 2 1 5 1-2 1 8 1-7 1 8 1-13 1 22 1 0 1-4 1-16 1-8M64 370l1 10 1-1 1 1 1 14 1 3 1 2 1 9 1 1 1 5 1 4 1 3 1 2 1 3 1-7 1-5 1-3 1 5 1-3 1-6 1-7 1-12 1 3 1-11 1 4 1-3 1-15 1-4 1 5 1-2 1 2 1-1 1 3 1-7 1-8 1-6 1-16 1 7 1 11 1 2 1 7 1-9 1-14 1-19 1-16M108 301l1 6 1 8 1-6 1-7 1-13M180 266l1 14 1 6 1 2 1-4 1-11M6 292l1-8 1-6 1 7 1 4 1 12M76 380l1 4 1 0 1 12 1-8 1 15 1-19 1-13 1-30M135 266l1 11 1 1 1-8M3 366l1 19 1-16M35 300l1-16 1-2 1 28M61 297l1-17 1 7 1-1 1-8 1 2 1-8 1-7 1 5 1-20 1 24 1 16M72 290l1-12 1 2 1-7 1 7 1-3 1 0 1 5 1-3 1 23M140 267l1 11 1-14M185 204l1-5 1 8M190 206l1-9 1 5M192 202l1-8 1-6 1 8 1 3 1-7 1 1 1 6 1 16M212 199l1-3 1-1 1-4 1 3 1 10M67 293l1-17 1 18M72 285l1-13 1 2 1 3 1 19M112 292l1 12 1-8M151 270l1 17 1 5 1 1 1 0 1-7 1-4 1-5 1 5 1-8 1 10 1 16 1-9 1-8 1 0 1 5 1-1 1 9 1 1 1-3 1 4 1-5 1 5 1-11 1-9 1-12M0 269l1-5 1-6 1-10 1 0 1 11 1 18 1 0 1 18M46 372l1 19 1-7 1 2 1 4 1 1 1 11 1-7 1-10 1 6 1-6 1 16 1-12 1 1 1-16M118 235l1-16 1-2 1 15M121 232l1-20 1 3 1 6M140 221l1-15 1-3 1-15 1 5 1 1 1 1 1-1 1 2 1 2 1 2 1 4 1 14M204 268l1 10 1 8 1-11 1-5M208 270l1 7 1 3 1-5 1-13M217 269l1 5 1-22M66 374l1 15 1 13 1-1 1 2 1 19 1-7 1-15 1 2 1 0 1-24M83 366l1 6 1-13M112 230l1-7 1 5M186 262l1 12 1 6 1 1 1-7 1 6 1 3 1-10 1-3M195 263l1 20 1 2 1 7 1-9 1-2 1 0 1 8 1-6 1-6 1 8 1-7 1 1 1 0 1-22M0 367l1 13 1 8 1-6 1-12M6 363l1 20 1 1 1 13 1-1 1-17M39 358l1 18 1 4 1-1 1 10 1-15M59 308l1-30 1 19M100 312l1 20 1-5 1 4 1-15M106 310l1 0 1 3 1 5 1-13 1 10 1 18 1-17 1-21M185 263l1 15 1-9M18 376l1 4 1 10 1 13 1-6 1 3 1 3 1-20 1 0 1 2 1 0 1-11M33 366l1 12 1 5 1-3 1-1 1-7M38 372l1 15 1-13M43 374l1 14 1-5 1 4 1-1 1 10 1-9 1-28M53 369l1 20 1-9 1-2 1 3 1-3 1 4 1 6 1 14 1-3 1-11 1-11 1-2M96 327l1 10 1-12M138 213l1-4 1-6 1 5 1-13 1 0 1 8 1 0 1 5 1 8M213 201l1-2 1-1 1-1 1 1 1-7 1 8 1-6M0 269l1 23M2 294l1-16 1-7 1 19 1 3M23 372l1 12 1-5 1 0 1 19 1-18 1-3M39 363l1 21 1 1 1-14M42 371l1 9 1-3 1-2M46 368l1 15 1-12M57 297l1-15 1 13M115 235l1-15 1 3 1-3 1 3 1 1M129 218l1-7 1-7 1 6 1 0 1-4 1-7 1-1 1-8 1 14 1-5 1-2 1 7 1 8M166 211l1-12 1 6 1-13 1 2 1 5 1 3 1 8M173 210l1-17 1 8 1-8 1 15M13 300l1-12 1 6M15 294l1-8 1-6 1 1 1-1 1-5 1 11 1-5 1 0 1 26M114 229l1-7 1-13 1 0 1 17M130 273l1 12 1-11M193 202l1-2 1-4 1 5 1 4M200 214l1-14 1-5 1 10M204 205l1-11 1 2 1 19M208 211l1-17 1 1 1 11M211 206l1-13 1-4 1 13M77 375l1 11 1-7 1-29M138 212l1-6 1-1 1 10M144 213l1-6 1-4 1 5 1-5 1 11M154 209l1-14 1 11 1-11 1 12M160 208l1-7 1 10M209 264l1 17 1-10M216 262l1 15 1 2 1-15M109 236l1-13 1 9M115 226l1-7 1-9 1-2 1-10 1-12 1-5 1 3 1 14 1 2 1-5 1 2 1-4 1 4 1-3 1 13 1-4 1 6 1-5 1 14M135 213l1-1 1-5 1 15M16 374l1 22 1-10 1 12 1-5 1 3 1-22M24 373l1 16 1 14 1-3 1-6 1-3 1-2 1 2 1-13 1-6M40 371l1 6 1 8 1 2 1 6 1-13 1 0 1 13 1 1 1-11 1-6 1 5 1 6 1 10 1 3 1 17 1 4 1-12 1 7 1-10 1-20 1-6 1 4 1 16 1 0 1-9 1-8 1-2 1-5M68 377l1 8 1-2 1 3 1 8 1-9 1-15M141 270l1 14 1 0 1 7 1 3 1 2 1-8 1-10 1 7 1 5 1-13M0 397l1-14 1-2 1 13 1 2 1 19 1 0 1 8 1 5 1-4 1-4 1-15 1 16 1-3 1-3 1 1 1-8 1-8 1 1 1-4 1-10 1-11M23 372l1 22 1-13 1-29M119 235l1-18 1 17M137 271l1 6 1-12M162 262l1 13 1 0 1 2 1-3 1 9 1-1 1 2 1 3 1-8 1-6 1-13M0 395l1-4 1 3 1-13 1 0 1-2M8 381l1 8 1 10 1-23M13 384l1 14 1-7 1-4 1-18M29 378l1 6 1 0 1-1 1 1 1-1 1 7 1 1 1-5 1-6 1 0 1-5 1-11M143 219l1-15 1-7 1-7 1 6 1 12 1-3 1 12M219 205l1-18M2 362l1 19 1 3 1-18M14 317l1-26 1-12 1 26M62 304l1-12 1-4 1 9M71 296l1-20 1-4 1 6 1 9M91 274l1-22 1 1 1 14M101 253l1-7 1-4 1-9 1-1 1 1 1-10 1 0 1 8 1 14M129 270l1 11 1 3 1-10M132 274l1 10 1-19M166 252l1 19 1 13 1-23M180 267l1 7 1 5 1-6M183 273l1 7 1 0 1 4 1-7 1-24M40 290l1-7 1-4 1 4 1-3 1 16M145 226l1-23 1-9 1-5 1 3 1 4 1 11 1 8M34 369l1 29 1-5 1 9 1 1 1-6 1 4 1-14 1 0 1-8 1-2 1-1M76 374l1 14 1-4 1 2 1-38M115 285l1 11 1 1 1 0 1 1 1-12M137 271l1 5 1 20 1-10 1 4 1 4 1-8 1 8 1 10 1 5 1-18 1-9 1 0 1-4 1 0 1-1M164 266l1 7 1-1 1 8 1 5 1-8 1 5 1 5 1 3 1-12 1-6 1-1 1 2 1-12M14 375l1 14 1-16M20 370l1 15 1 3 1 6 1-8 1-16M28 363l1 30 1-1 1-4 1-4 1-9M76 376l1 12 1 3 1-13 1-13M84 359l1 6 1-6 1-8M90 341l1 5 1 5 1-14M100 318l1 6 1 0 1 1 1-28M110 241l1-14 1-7 1-3 1-9 1 8 1-5 1-1 1 3 1-5 1-1 1-2 1-1 1-5 1-2 1 18 1 4M135 219l1-7 1-4 1 2 1-11 1-7 1-3 1 6 1 0 1-1 1 11 1 13M156 209l1-8 1 17M158 218l1-15 1 1 1 10M1 369l1 15 1 0 1-11M5 378l1 8 1 23 1-12 1-3 1 5 1-9 1 2 1-3 1-8M51 366l1 9 1 13 1 1 1-10 1-2 1-15M122 281l1 6 1 2 1 4 1-4 1 6 1-1 1 0 1-5 1-3 1-8 1-18M139 267l1 12 1-21M159 265l1 18 1 11 1-9 1-3 1 13 1-6 1 1 1 2 1 4 1-7 1 2 1-3 1 4 1-3 1-1 1 3 1 13 1-4 1 10 1-6 1 2 1-6 1-1 1 4 1 6 1 5 1-4 1 1 1-9 1 1 1 5 1-7 1 1 1-7 1-7 1-8 1 11 1-7 1-22M207 212l1-12 1-5 1 12M215 202l1-8 1-3 1-5 1 8 1 0M37 290l1-9 1 19M50 308l1-22 1-2 1-4 1 6 1 16M59 308l1-18 1-7 1 16M62 299l1-19 1 21M80 289l1-20 1-17 1-4 1-1 1 1 1 8 1-7 1-5 1-8 1 4 1 5 1-2 1 5 1 5 1 27M198 210l1-14 1 15M218 208l1-11 1-11M76 371l1 15 1-19M122 285l1 3 1 3 1-1 1-5 1-6M163 214l1-11 1 0 1 14M166 217l1-12 1 1 1-11 1 2 1-7 1 7 1-8 1 14 1 12M10 371l1 27 1 13 1 10 1-9 1-4 1-13 1 0 1 4 1-24M19 375l1 7 1-15M21 367l1 10 1 4 1 2 1 4 1 15 1 1 1 13 1 2 1 4 1-23 1-9 1-5 1-7 1 14 1-5 1 6 1-12 1 0 1-11M109 237l1-20 1 1 1 25M131 275l1 11 1-16M177 206l1-8 1 7M179 205l1-2 1-9 1-3 1 11 1 8M185 205l1-5 1-3 1 0 1 15" vector-effect="non-scaling-stroke"/><path d="M0 335.1L0.37 335.1L0.73 335L1.1 335L1.47 334.9L1.83 334.9L2.2 334.7L2.57 334.6L2.93 334.5L3.3 334.5L3.67 334.6L4.03 334.8L4.4 334.7L4.77 334.7L5.13 334.8L5.5 335.1L5.87 335.4L6.23 335.6L6.6 335.7L6.97 335.8L7.33 335.9L7.7 335.9L8.07 336.1L8.43 336.5L8.8 336.9L9.17 337.3L9.53 337.5L9.9 337.7L10.27 337.8L10.63 337.9L11 337.9L11.37 337.8L11.73 337.8L12.1 337.8L12.47 337.8L12.83 337.8L13.2 337.8L13.57 337.7L13.93 337.6L14.3 337.4L14.67 337.1L15.03 336.6L15.4 336.2L15.77 335.8L16.13 335.4L16.5 335.2L16.87 334.9L17.23 334.6L17.6 334.3L17.97 334L18.33 334L18.7 334L19.07 334L19.43 333.6L19.8 333.3L20.17 332.9L20.53 332.5L20.9 332.1L21.27 331.9L21.63 331.7L22 331.5L22.37 331.4L22.73 331.2L23.1 331.2L23.47 331.6L23.83 331.9L24.2 332.2L24.57 332.4L24.93 332.6L25.3 332.5L25.67 332.5L26.03 332.4L26.4 332.3L26.77 332.3L27.13 332.3L27.5 332.5L27.87 332.7L28.23 333.1L28.6 333.5L28.97 334L29.33 334.2L29.7 334.3L30.07 334.3L30.43 334L30.8 333.8L31.17 333.5L31.53 333.2L31.9 332.9L32.27 332.5L32.63 332.1L33 331.8L33.37 331.7L33.73 331.5L34.1 331.5L34.47 331.6L34.83 331.8L35.2 331.8L35.57 331.9L35.93 331.9L36.3 331.9L36.67 331.8L37.03 331.7L37.4 332L37.77 332.3L38.13 332.3L38.5 332L38.87 331.7L39.23 331.4L39.6 331.1L39.97 330.8L40.33 330.8L40.7 330.8L41.07 330.8L41.43 331L41.8 331.2L42.17 331.4L42.53 331.5L42.9 331.5L43.27 331.4L43.63 331.2L44 331.1L44.37 331.1L44.73 331.2L45.1 331.1L45.47 330.8L45.83 330.5L46.2 330.6L46.57 331.1L46.93 331.6L47.3 331.8L47.67 332L48.03 332.2L48.4 332.4L48.77 332.6L49.13 332.8L49.5 332.7L49.87 332.7L50.23 332.8L50.6 332.8L50.97 332.8L51.33 332.8L51.7 332.7L52.07 332.6L52.43 332.6L52.8 332.7L53.17 332.5L53.53 332.2L53.9 331.8L54.27 331.8L54.63 331.9L55 331.9L55.37 332L55.73 332.1L56.1 332.3L56.47 332.7L56.83 333.2L57.2 333.6L57.57 333.8L57.93 334L58.3 334L58.67 333.8L59.03 333.7L59.4 333.6L59.77 333.4L60.13 333.4L60.5 333.6L60.87 333.8L61.23 333.8L61.6 333.9L61.97 333.9L62.33 333.7L62.7 333.4L63.07 333.2L63.43 333.2L63.8 333.1L64.17 332.9L64.53 332.7L64.9 332.4L65.27 332.6L65.63 332.8L66 333.1L66.37 333.2L66.73 333.2L67.1 333.3L67.47 333.5L67.83 333.7L68.2 333.8L68.57 334L68.93 334.1L69.3 334.4L69.67 334.6L70.03 334.9L70.4 335.1L70.77 335.4L71.13 335.5L71.5 335.4L71.87 335.3L72.23 335.1L72.6 334.7L72.97 334.3L73.33 334.2L73.7 334.5L74.07 334.7L74.43 334.8L74.8 334.9L75.17 335.1L75.53 335.4L75.9 335.7L76.27 336.4L76.63 337.1L77 337.8L77.37 337.4L77.73 336.6L78.1 335.7L78.47 334.6L78.83 333.6L79.2 332.5L79.57 331.4L79.93 330.3L80.3 329.3L80.67 328.3L81.03 327.4L81.4 326.5L81.77 325.5L82.13 324.5L82.5 323.1L82.87 321.7L83.23 320.5L83.6 319.4L83.97 318.3L84.33 317.2L84.7 316.1L85.07 315L85.43 313.9L85.8 312.9L86.17 312L86.53 311.2L86.9 310.4L87.27 309.4L87.63 308.2L88 307.1L88.37 306.3L88.73 305.6L89.1 304.9L89.47 304.4L89.83 303.8L90.2 303.4L90.57 303.2L90.93 302.9L91.3 302.1L91.67 301.1L92.03 300.2L92.4 299.2L92.77 298.2L93.13 297.2L93.5 296.3L93.87 295.4L94.23 294.8L94.6 294.3L94.97 293.9L95.33 293.7L95.7 293.6L96.07 293.3L96.43 292.9L96.8 292.4L97.17 291.7L97.53 290.7L97.9 289.8L98.27 289.3L98.63 288.9L99 288.5L99.37 288.1L99.73 287.7L100.1 287.2L100.47 286.6L100.83 286L101.2 285.3L101.57 284.4L101.93 283.6L102.3 282.6L102.67 281.4L103.03 280.5L103.4 279.8L103.77 279.1L104.13 278.4L104.5 277.8L104.87 277.1L105.23 276.3L105.6 275.5L105.97 274.6L106.33 273.9L106.7 273.3L107.07 272.6L107.43 271.9L107.8 271.3L108.17 270.4L108.53 269.3L108.9 268.2L109.27 267.5L109.63 266.9L110 266.4L110.37 266.1L110.73 265.7L111.1 265.4L111.47 265L111.83 264.6L112.2 264L112.57 263.3L112.93 262.6L113.3 262.2L113.67 261.8L114.03 261.4L114.4 260.9L114.77 260.5L115.13 260L115.5 259.3L115.87 258.7L116.23 258.2L116.6 257.6L116.97 257.1L117.33 256.8L117.7 256.8L118.07 256.7L118.43 256.4L118.8 256.1L119.17 256L119.53 256.1L119.9 256.2L120.27 256L120.63 255.7L121 255.4L121.37 255.1L121.73 254.8L122.1 254.5L122.47 254.3L122.83 254.2L123.2 254.1L123.57 254L123.93 254L124.3 253.8L124.67 253.5L125.03 253.3L125.4 252.7L125.77 252.1L126.13 251.6L126.5 251.1L126.87 250.6L127.23 250.1L127.6 249.5L127.97 248.9L128.33 248.6L128.7 248.3L129.07 248.1L129.43 248.1L129.8 248.1L130.17 247.9L130.53 247.5L130.9 247.1L131.27 246.8L131.63 246.5L132 246.2L132.37 246.1L132.73 246.1L133.1 246L133.47 246.1L133.83 246.2L134.2 246L134.57 245.4L134.93 244.9L135.3 244.8L135.67 244.7L136.03 244.6L136.4 244.2L136.77 243.9L137.13 243.8L137.5 243.9L137.87 244.1L138.23 244.1L138.6 244L138.97 243.9L139.33 244L139.7 244.1L140.07 244.3L140.43 244.5L140.8 244.7L141.17 244.8L141.53 244.7L141.9 244.7L142.27 244.5L142.63 244.2L143 243.9L143.37 243.8L143.73 243.7L144.1 243.6L144.47 243.7L144.83 243.7L145.2 243.7L145.57 243.5L145.93 243.4L146.3 243.2L146.67 243L147.03 242.8L147.4 243L147.77 243.2L148.13 243.3L148.5 243.1L148.87 242.8L149.23 242.7L149.6 242.8L149.97 242.8L150.33 242.9L150.7 243L151.07 243.1L151.43 243.1L151.8 243.1L152.17 242.9L152.53 242.3L152.9 241.8L153.27 241.6L153.63 241.6L154 241.5L154.37 241.4L154.73 241.4L155.1 241.2L155.47 240.9L155.83 240.6L156.2 240.4L156.57 240.4L156.93 240.4L157.3 240.4L157.67 240.4L158.03 240.4L158.4 240.2L158.77 240L159.13 239.9L159.5 239.8L159.87 239.7L160.23 239.6L160.6 239.4L160.97 239.3L161.33 239.4L161.7 239.5L162.07 239.6L162.43 239.8L162.8 240L163.17 240L163.53 239.8L163.9 239.6L164.27 239.4L164.63 239.3L165 239.1L165.37 239.4L165.73 239.8L166.1 240L166.47 239.8L166.83 239.7L167.2 239.6L167.57 239.7L167.93 239.9L168.3 239.6L168.67 239.3L169.03 239.1L169.4 238.9L169.77 238.8L170.13 238.7L170.5 238.5L170.87 238.3L171.23 238.1L171.6 238.1L171.97 238L172.33 237.9L172.7 237.9L173.07 237.8L173.43 237.7L173.8 237.6L174.17 237.6L174.53 237.6L174.9 237.7L175.27 237.7L175.63 237.7L176 237.7L176.37 237.9L176.73 238.1L177.1 238.1L177.47 237.8L177.83 237.5L178.2 237.4L178.57 237.6L178.93 237.7L179.3 238L179.67 238.4L180.03 238.6L180.4 238.4L180.77 238.2L181.13 238.1L181.5 238.3L181.87 238.5L182.23 238.6L182.6 238.7L182.97 238.9L183.33 238.7L183.7 238.4L184.07 238.2L184.43 238L184.8 237.8L185.17 237.6L185.53 237.6L185.9 237.6L186.27 237.7L186.63 237.8L187 238L187.37 237.9L187.73 237.8L188.1 237.8L188.47 238.2L188.83 238.5L189.2 238.5L189.57 238.3L189.93 238.1L190.3 238L190.67 237.8L191.03 237.7L191.4 237.6L191.77 237.5L192.13 237.4L192.5 237.1L192.87 236.8L193.23 236.7L193.6 236.5L193.97 236.4L194.33 236.5L194.7 236.5L195.07 236.6L195.43 236.9L195.8 237.2L196.17 237.2L196.53 237L196.9 236.8L197.27 236.6L197.63 236.4L198 236.2L198.37 236.1L198.73 235.9L199.1 235.9L199.47 235.9L199.83 235.9L200.2 235.9L200.57 235.9L200.93 235.9L201.3 235.8L201.67 235.7L202.03 235.6L202.4 235.8L202.77 236L203.13 236.2L203.5 236.3L203.87 236.3L204.23 236.6L204.6 236.9L204.97 237.2L205.33 237.3L205.7 237.4L206.07 237.5L206.43 237.6L206.8 237.7L207.17 237.7L207.53 237.4L207.9 237.1L208.27 237L208.63 237L209 236.9L209.37 237L209.73 237L210.1 236.9L210.47 236.5L210.83 236.2L211.2 236L211.57 235.9L211.93 235.9L212.3 236L212.67 236.2L213.03 236.3L213.4 235.9L213.77 235.5L214.13 235.2L214.5 235.2L214.87 235.2L215.23 235L215.6 234.8L215.97 234.5L216.33 234.7L216.7 234.9L217.07 235L217.43 234.8L217.8 234.5L218.17 234.3L218.53 234.2L218.9 234.1L219.27 234L219.63 233.9L220 233.7" stroke="#f00" stroke-width="2" vector-effect="non-scaling-stroke"/></g>
<path d="M253.6 228.8V536.7" stroke="#000" stroke-width="2.4" stroke-dasharray="6.95 7.5" stroke-dashoffset="1.25" fill="none"/>
<path d="M149.4 536.7v-3.8M149.4 228.8v3.8M175.5 536.7v-3.8M175.5 228.8v3.8M201.5 536.7v-3.8M201.5 228.8v3.8M227.6 536.7v-3.8M227.6 228.8v3.8M253.6 536.7v-3.8M253.6 228.8v3.8M279.7 536.7v-3.8M279.7 228.8v3.8M305.7 536.7v-3.8M305.7 228.8v3.8M331.8 536.7v-3.8M331.8 228.8v3.8M357.8 536.7v-3.8M357.8 228.8v3.8M383.9 536.7v-3.8M383.9 228.8v3.8M409.9 536.7v-3.8M409.9 228.8v3.8M436 536.7v-3.8M436 228.8v3.8M462 536.7v-3.8M462 228.8v3.8M488.1 536.7v-3.8M488.1 228.8v3.8M123.8 498.9h3.8M513.7 498.9h-3.8M123.8 460.2h3.8M513.7 460.2h-3.8M123.8 421.5h3.8M513.7 421.5h-3.8M123.8 382.8h3.8M513.7 382.8h-3.8M123.8 344h3.8M513.7 344h-3.8M123.8 305.3h3.8M513.7 305.3h-3.8M123.8 266.6h3.8M513.7 266.6h-3.8" stroke="#6a6a6a" stroke-width="1" fill="none"/>
<rect x="123.8" y="228.8" width="389.9" height="307.9" fill="none" stroke="#4a4a4a" stroke-width="1.3"/>
<g class="tk" text-anchor="middle"><text x="123.4" y="553.7">0</text><text x="149.4" y="553.7">1</text><text x="175.5" y="553.7">2</text><text x="201.5" y="553.7">3</text><text x="227.6" y="553.7">4</text><text x="253.6" y="553.7">0</text><text x="279.7" y="553.7">1</text><text x="305.7" y="553.7">2</text><text x="331.8" y="553.7">3</text><text x="357.8" y="553.7">4</text><text x="383.9" y="553.7">5</text><text x="409.9" y="553.7">6</text><text x="436" y="553.7">7</text><text x="462" y="553.7">8</text><text x="488.1" y="553.7">9</text><text x="514.1" y="553.7">10</text></g>
<g class="tk" text-anchor="end"><text x="117.8" y="541.6">0</text><text x="117.8" y="502.9">1</text><text x="117.8" y="464.2">2</text><text x="117.8" y="425.5">3</text><text x="117.8" y="386.8">4</text><text x="117.8" y="348">5</text><text x="117.8" y="309.3">6</text><text x="117.8" y="270.6">7</text><text x="117.8" y="231.9">8</text></g>
<rect x="262.9" y="238" width="243.6" height="81.1" rx="1.5" fill="#fff" stroke="#3a3a3a" stroke-width="1.4"/>
<path d="M272.9 248.3H303.6" stroke="#00f" stroke-width="1.9"/>
<path d="M272.9 278.6H303.6" stroke="#f00" stroke-width="4.2"/>
<path d="M272.9 305.1H303.6" stroke="#000" stroke-width="2.2" stroke-dasharray="10.1 2.3" stroke-dashoffset="4.5"/>
<g class="lg"><text x="314.4" y="258">CT prevalence</text><text x="311.9" y="286.5">Mean prevalence</text><text x="311.9" y="313">Intervention start</text></g>
<text class="num" text-anchor="middle" x="150.3" y="288.7">1</text>
<text class="xl" text-anchor="middle" x="291.2" y="591.9">Time (years)</text>
<text class="yl" text-anchor="middle" transform="translate(99.5 382) rotate(-90)">Prevalence(%)</text>
</g>
<g>
<path d="M813.7 233.2V541.3M840.2 233.2V541.3M866.8 233.2V541.3M893.3 233.2V541.3M919.9 233.2V541.3M946.5 233.2V541.3M973 233.2V541.3M999.6 233.2V541.3M1026.1 233.2V541.3M1052.7 233.2V541.3M1079.3 233.2V541.3M1105.8 233.2V541.3M1132.4 233.2V541.3M1158.9 233.2V541.3M787.5 503.5H1185.1M787.5 464.7H1185.1M787.5 426H1185.1M787.5 387.2H1185.1M787.5 348.5H1185.1M787.5 309.8H1185.1M787.5 271H1185.1" stroke="#e6e6e6" stroke-width="1.1" fill="none"/>
<g transform="translate(787.1 542.2) scale(1.81091 -0.38737)" fill="none" stroke="#00f" stroke-width="1.3" stroke-linejoin="round"><path d="M0 365L1 365L2 365L3 366L4 367L5 367L6 367L7 367L8 367L9 367L10 367L11 367L12 367L13 367L14 367L15 368L16 368L17 368L18 368L19 369L20 369L21 369L22 369L23 369L24 369L25 370L26 371L27 371L28 372L29 372L30 373L31 374L32 374L33 375L34 376L35 376L36 377L37 378L38 378L39 379L40 379L41 380L42 380L43 380L44 380L45 379L46 379L47 379L48 378L49 378L50 376L51 376L52 375L53 375L54 375L55 374L56 373L57 372L58 372L59 372L60 373L61 374L62 374L63 374L64 374L65 375L66 377L67 378L68 379L69 380L70 380L71 381L72 382L73 382L74 382L75 381L76 379L77 375L78 368L79 362L80 354L81 347L82 338L83 329L84 321L85 313L86 308L87 303L88 299L89 295L90 291L91 287L92 284L93 280L94 276L95 273L96 270L97 267L98 265L99 263L100 260L101 258L102 256L103 254L104 253L105 251L106 250L107 248L108 246L109 244L110 242L111 241L112 239L113 238L114 237L115 235L116 234L117 233L118 233L119 233L120 232L121 231L122 230L123 229L124 228L125 227L126 226L127 225L128 224L129 224L130 224L131 224L132 223L133 223L134 223L135 223L136 222L137 222L138 221L139 220L140 219L141 219L142 219L143 219L144 219L145 220L146 220L147 220L148 220L149 220L150 220L151 220L152 219L153 219L154 218L155 217L156 217L157 217L158 217L159 217L160 217L161 216L162 217L163 217L164 217L165 217L166 217L167 217L168 217L169 217L170 217L171 217L172 218L173 218L174 218L175 218L176 217L177 217L178 216L179 216L180 216L181 217L182 217L183 217L184 217L185 217L186 218L187 218L188 218L189 218L190 218L191 218L192 218L193 219L194 219L195 219L196 219L197 219L198 219L199 218L200 217L201 217L202 217L203 217L204 217L205 217L206 217L207 217L208 218L209 218L210 218L211 218L212 219L213 219L214 220L215 219L216 220L217 220L218 220L219 220L220 220L220 164L219 164L218 163L217 163L216 162L215 162L214 162L213 162L212 162L211 162L210 162L209 163L208 163L207 163L206 164L205 164L204 165L203 165L202 165L201 166L200 166L199 166L198 166L197 166L196 166L195 166L194 166L193 166L192 166L191 166L190 166L189 166L188 166L187 165L186 166L185 165L184 165L183 165L182 165L181 165L180 165L179 165L178 165L177 165L176 165L175 165L174 164L173 164L172 163L171 163L170 163L169 163L168 162L167 162L166 163L165 164L164 165L163 166L162 166L161 167L160 167L159 168L158 168L157 168L156 168L155 167L154 167L153 167L152 166L151 167L150 166L149 166L148 166L147 166L146 166L145 166L144 165L143 165L142 165L141 165L140 166L139 166L138 167L137 167L136 168L135 169L134 170L133 171L132 172L131 173L130 174L129 175L128 176L127 177L126 177L125 178L124 179L123 179L122 180L121 180L120 181L119 181L118 182L117 182L116 183L115 183L114 184L113 184L112 185L111 185L110 185L109 185L108 185L107 185L106 186L105 186L104 187L103 189L102 190L101 192L100 194L99 195L98 198L97 200L96 202L95 204L94 205L93 208L92 210L91 213L90 217L89 220L88 224L87 228L86 232L85 238L84 245L83 251L82 258L81 264L80 270L79 276L78 281L77 286L76 289L75 290L74 291L73 291L72 291L71 291L70 291L69 291L68 291L67 291L66 290L65 290L64 290L63 289L62 288L61 287L60 286L59 285L58 285L57 286L56 286L55 287L54 288L53 290L52 291L51 291L50 291L49 292L48 291L47 291L46 290L45 289L44 288L43 287L42 288L41 288L40 288L39 288L38 288L37 288L36 288L35 288L34 288L33 288L32 287L31 287L30 287L29 287L28 286L27 286L26 286L25 286L24 286L23 286L22 285L21 284L20 283L19 282L18 282L17 281L16 281L15 281L14 282L13 282L12 283L11 284L10 285L9 285L8 285L7 283L6 283L5 282L4 282L3 282L2 281L1 281L0 281Z" fill="#00f" stroke="#00f" vector-effect="non-scaling-stroke"/><path d="M23 349l1 22 1 15 1 3 1 13 1-9 1 6 1-9 1 0 1-3 1-4 1 3 1-10M35 376l1 6 1-3 1 7 1-9M39 377l1 9 1 7 1-11 1 0 1-2M58 371l1 8 1-38M67 292l1-7 1-4 1 0 1-2 1 25M124 221l1 16 1-3 1-9M127 225l1 8 1-12M144 217l1 10 1 4 1-3 1 3 1 2 1-4 1-11M151 218l1 15 1-8 1 2 1-2 1-5 1-13M175 166l1-7 1 20M187 166l1-6 1 3 1-7 1 15M200 212l1 10 1-11M209 206l1 14 1 7 1-7 1 1 1 3 1 5 1 0 1 9 1-4 1-6 1 3M19 282l1-5 1 13M36 292l1-9 1-3 1-9 1 2 1 13 1-17 1-6 1-17 1 12 1 11 1 8 1-10 1 1 1 22 1-7 1-9 1-1 1 12 1 11M70 310l1-30 1-17 1-1 1 14 1-5 1 13 1-9 1 3 1 3M98 198l1-12 1 1 1-3 1-3 1-1 1-4 1 7 1 4M108 189l1-9 1 5M111 190l1-13 1-5 1 6 1 0 1 6M134 213l1 16 1-4 1-17M142 215l1 7 1 6 1-5 1-5M0 370l1-7M55 360l1 16 1 6 1-3 1 0 1 2 1-18M64 372l1 5 1 15 1 7 1-7 1-15M69 377l1 9 1 0 1-6M153 183l1-22 1 7M155 168l1-9 1 13M157 172l1-12 1 3 1 4M178 169l1-13 1-5 1-7 1 5 1-1 1-8 1-3 1 6 1 5 1 6 1 2 1 2 1 6 1 2M53 372l1 10 1 7 1-17M77 369l1 2 1-3 1-31M204 174l1-12 1-3 1-3 1 5 1-11 1 9 1-3 1-1 1-2 1 3 1-9 1-3 1 1 1-4 1-3 1-2M0 279l1-5 1 24M2 298l1-30 1 11 1 0 1-3 1 3 1 12M8 291l1-12 1 9M10 288l1-5 1-13 1 16M13 286l1-13 1 0 1-9 1 10 1 1 1 6 1-10 1 0 1 12 1-16 1-6 1 2 1 0 1-3 1 4 1 10 1 11 1 4M75 377l1 12 1 10 1 5 1-15 1-34 1-14M86 298l1 6 1 1 1-3 1-8 1 1 1-11M92 284l1 1 1-3 1-6 1-7M97 262l1 14 1-2 1-4 1-7 1 12 1-13 1-12M165 216l1 5 1-1 1 0 1 4 1-1 1 5 1-9 1 2 1-4M218 165l1-6 1 13M12 346l1 23 1 6 1-3 1-7M61 289l1-11 1 11M66 306l1-18 1 1 1-13 1 11 1 26M124 179l1-10 1 2 1 13M147 220l1 7 1 3 1 0 1-4 1-7M159 216l1 8 1 7 1 1 1 4 1-2 1-1 1 5 1-4 1-3 1 6 1-5 1-7 1-7M172 218l1 3 1 9 1-1 1-7 1 7 1-5 1 13 1-2 1 4 1 6 1 0 1-2 1 5 1-7 1 3 1 5 1 0 1-6 1-10 1-6 1 1 1 7 1 1 1-1 1-2 1-3 1-5 1-8M53 293l1-11 1 7M55 289l1-18 1-9 1 10 1 9 1 7M72 371l1 14 1 0 1 5 1-6 1-11M77 373l1 5 1 9 1-23 1-22M85 309l1 6 1-5 1 5 1-11 1-9 1-24M126 218l1 14 1-13M162 216l1 9 1-1 1 7 1 1 1 3 1-9 1 1 1 8 1-4 1-3 1 4 1-2 1-11 1-4M177 217l1 3 1 5 1-8 1 4 1-5M184 216l1 8 1-9M205 206l1 16 1 13 1-9 1 9 1-10 1-8M213 211l1 15 1 1 1-2 1-3 1-1 1-4M32 363l1 17 1-1 1 6 1-8M42 377l1 5 1 1 1 2 1-4 1-2M122 187l1-11 1-2 1 2 1-2 1 2 1-1 1 13M14 287l1-12 1 10M82 259l1-15 1 1M88 232l1-14 1-13 1 10M116 192l1-16 1-6 1 5 1 6M152 166l1-1 1-5 1 3 1 4 1 4M56 372l1 3 1 3 1 29 1 6 1-2 1-11 1 7 1-14 1-2 1-8 1 2 1-8M87 303l1 8 1-8 1-4 1-3 1 1 1-16 1-8M150 171l1-5 1-5 1 14M158 169l1-11 1 9M162 169l1-4 1-9 1 4 1 3M166 163l1-7 1-2 1 1 1-4 1 3 1 3 1 0 1 2 1 8M39 291l1-7 1-13 1-2 1 17 1 5M51 304l1-14 1-3 1-4 1 3 1 10M85 248l1-29 1 10M88 230l1-16 1-4 1-2 1-3 1 1 1 3M147 217l1 8 1-4 1-6M184 208l1 17 1-6 1-3M193 219l1 5 1-5M5 359l1 10 1 12 1-4 1-5 1-5M10 367l1 10 1 15 1-5 1-15 1 11 1-12 1 5 1-2 1 6 1-11M20 369l1 6 1 11 1-3 1-3 1 3 1 4 1 0 1 0 1-15M101 198l1-14 1 8M106 187l1-7 1-1 1 3 1-8 1-2 1 2 1 8 1-2 1-6 1 8 1-8 1-9 1-4 1 6 1-2 1 2 1-6 1 2 1-6 1 1 1 10 1 13M130 178l1-10 1 4M189 171l1-8 1 0 1-4 1-7 1 3 1 3 1-2 1-8 1 3 1-2 1-11 1-2 1-10 1 2 1-3 1 0 1 0 1 0 1 2 1 4 1 1 1-1 1 1 1 6 1-2 1 0 1-3 1 2 1 0 1-4 1 4M20 298l1-17 1-3 1 8M26 296l1-12 1-7 1-5 1-4 1 8 1 12M153 219l1 12 1-8 1-1 1 1 1-2 1-7M182 211l1 11 1-18M190 218l1 8 1 2 1 1 1-3 1-11M214 219l1 9 1-3 1 5 1-6 1 11 1-6M116 232l1 10 1-3 1-5 1 13 1-7 1 2 1-10 1-5M129 220l1 10 1 0 1 3 1-3 1-9M172 165l1-5 1-8 1 8 1 9M5 353l1 18 1-2 1 11 1-21M18 355l1 16 1 8 1-13M61 302l1-15 1-3 1-1 1 26M146 166l1-5 1 6M194 175l1-11 1-4 1 17M44 368l1 19 1-24M94 267l1 9 1 3 1-2 1 1 1 3 1-4 1 7 1-16 1-11 1-5M123 185l1-14 1 3 1-8 1-2 1-11 1 1 1-2 1 5 1 0 1-1 1-2 1 9 1-1 1 4 1-5 1 0 1 2 1-6 1 6 1-1 1-1 1 5M51 301l1-27 1 13 1 9M57 293l1-13 1-2 1 3 1 8M64 294l1-14 1 10M67 292l1-14 1 5 1 3 1 17M93 214l1-21 1-3 1 0 1-10 1 12 1-5 1-9 1 13 1-9 1-4 1-9 1-3 1 8 1-5 1-1 1 1 1 1 1-4 1 9 1 1 1 13M184 216l1 6 1-3 1-6M190 218l1 9 1-4 1 1 1-3 1-4M51 299l1-18 1 13M53 294l1-23 1 0 1 12 1-3 1 3 1-8 1-3 1 6 1 0 1 2 1 9 1-9 1 14M196 173l1-8 1-12 1 1 1-6 1 2 1 18M28 368l1 10 1 8 1 6 1-19M69 294l1-10 1 3 1 6M94 206l1-12 1-2 1-4 1 9 1 7M128 182l1-8 1-9 1-8 1 3 1 3 1 0 1-3 1 0 1-4 1-11 1-5 1 0 1 5 1-6 1 2 1 12 1 1 1 0 1 3 1 4 1 10M15 364l1 15 1 14 1-10 1 8 1 4 1-7 1-16 1-3M23 369l1 8 1 1 1 1 1-8M85 307l1 10 1 0 1-11 1-8 1 5 1-2 1-11 1-2 1 8 1-15 1-15M117 229l1 19 1-6 1 1 1 1 1-12 1-8M151 168l1-10 1-5 1-8 1 6 1 5 1 6 1 6M161 169l1-8 1 14M178 165l1-3 1-4 1 1 1 9M53 372l1 18 1-6 1-4 1-5 1 4 1 0 1-16M128 183l1-14 1 1 1 6M137 167l1-6 1 7M191 173l1-14 1 1 1 1 1 7M47 373l1 7 1 15 1 15 1 3 1 6 1-10 1-3 1-7 1-3 1-7 1-2 1-7 1 7 1 18 1-4 1-19 1-1 1-10M73 379l1 15 1-2 1-21M77 361l1 9 1-4 1-4 1-10 1-13 1-7 1-2 1-12 1-8 1-7M168 170l1-12 1 1 1-1 1 2 1 4M177 168l1-6 1-1 1-6 1-1 1-2 1 1 1-3 1 1 1 0 1 1 1 0 1-1 1 9 1-8 1 2 1 4 1-5 1 10 1-3 1 4 1-4 1-2 1-6 1 1 1 11 1 5M31 364l1 15 1-3 1-3M39 358l1 24 1 3 1 14 1-2 1-6 1 5 1-16 1-7M84 246l1-11 1-8 1-2 1 1M192 180l1-15 1-6 1 5 1 12M203 213l1 6 1 1 1 2 1-1 1-3M12 290l1-23 1-1 1-1 1 16M16 281l1-5 1-14 1 0 1 9 1 0 1-10 1 3 1-6 1 19 1 10M30 293l1-12 1 2 1 10M72 381l1 8 1-5 1 7 1 10 1-6 1-16 1-2 1-17 1-21M109 186l1-2 1-3 1 3 1-5 1 19M124 183l1-7 1-2 1-9 1-2 1-3 1-11 1 5 1 9 1 1 1 0 1-1 1 5M206 213l1 8 1 6 1 2 1-8 1 1 1 8 1-1 1-1 1-6 1 2 1 1 1-6M55 291l1-9 1-16 1 24M66 291l1-20 1-4 1-6 1 3 1 1 1 24 1-16 1-9 1-14 1 9 1-13 1 5 1-2 1 14 1 11M81 274l1-24 1-3 1-1M84 246l1-17 1 3M86 232l1-11 1 3M178 213l1 4 1 2 1 8 1-5 1-6M116 184l1-6 1-6 1-7 1-2 1 0 1-7 1 11 1-4 1-6 1 13 1-2 1 11M0 277l1-7 1 12M5 284l1-13 1 3 1-7 1 6 1 0 1 4 1-9 1-3 1-10 1-3 1 12 1 1 1 17M20 285l1-3 1-1 1 3 1 0 1 0 1-15 1 19M58 362l1 16 1 5 1-19M77 363l1 6 1 4 1-7 1-31M143 208l1 13 1 4 1-4 1-3M1 364l1 14 1 8 1 15 1-15 1 3 1-10 1-7 1-8M9 364l1 7 1 0 1-1 1 3 1-21M20 287l1-12 1-2 1 16M23 289l1-9 1 19M27 288l1-10 1 22M34 299l1-23 1 27M39 291l1-5 1-11 1 21M43 294l1-13 1-6 1-11 1 8 1-6 1 1 1 6 1-16 1-5 1 4 1-1 1 14 1-13 1 4 1-7 1-9 1 16 1 0 1 1 1 12 1 2 1 8 1 4 1-10 1-9 1 7 1-18 1 2 1 0 1 0 1-16 1 0 1 7 1-10 1 8 1-13 1-9 1 0 1-9 1-10 1 10 1 6 1-7 1-5 1-17 1-6 1 8 1-2 1 12 1 1 1 5M210 215l1 5 1 0 1 3 1 3 1-1 1 6 1 10 1-8 1-4 1-1M0 251l1 9 1 13 1-5 1 6 1 15M7 287l1-8 1 0 1-4 1 3 1 14M24 368l1 15 1-10 1-14M144 170l1-7 1 0 1-6 1 4 1-3 1 3 1 5 1 1M152 167l1-6 1-4 1 8 1 16M177 170l1-8 1-3 1-7 1-1 1 7 1 1 1 1 1 7M185 167l1-4 1-6 1-2 1 4 1-8 1-2 1 6 1 8 1 0 1 1 1-1 1 1 1-2 1-3 1-5 1-1 1-7 1-2 1 3 1 1 1-8 1 9 1 2 1 10 1 1M30 295l1-17 1 13M68 378l1 18 1-9 1 16 1 7 1-12 1-16M74 382l1 4 1-12M160 169l1-7 1 7M175 216l1 7 1-6M182 209l1 20 1-14M184 215l1 7 1 4 1-6 1-13M209 164l1-7 1-1 1-2 1-4 1 4 1 0 1-3 1 1 1-6 1 5 1 0M1 348l1 23 1 0 1-7M74 293l1-14 1 2 1-12 1-7 1 2 1 2 1 3M81 269l1-21 1 1 1-5 1 6M130 213l1 22 1-3 1-7 1 2 1-19M197 166l1-5 1 5M199 166l1-2 1-6 1-5 1-3 1 8 1-3 1 5 1-9 1 2 1 10M210 163l1-7 1 8M218 168l1-12 1 16M0 270l1 6 1-15 1 5 1 0 1-8 1 6 1 6 1 21M28 294l1-19 1 4 1 11M33 296l1-27 1-20 1 12 1-4 1 16 1-3 1 6 1 11 1 11M42 298l1-12 1-6 1 24M56 298l1-22 1-11 1-7 1-2 1-2 1 5 1-5 1 10 1 0 1 4 1 10 1 9 1 12M182 214l1 16 1-17M197 169l1-8 1-7 1 4 1-4 1 11M202 165l1-8 1-1 1 1 1 5 1 5M0 366l1 3 1 2 1 17 1 10 1-14 1-10 1 4 1-5 1-5 1-1M11 361l1 9 1 20 1 15 1 8 1-10 1 0 1-10 1 5 1-3 1 5 1 0 1-10 1-8 1-5 1-15M101 254l1 3 1-1 1 4 1-10M120 223l1 12 1-1 1 3 1 4 1 0 1-2 1-15M213 162l1-7 1 7M1 351l1 26 1 1 1 5 1-32M7 362l1 10 1-9M9 363l1 17 1-8 1 6 1-11M13 367l1 11 1-2 1 7 1-23M17 360l1 13 1 5 1 7 1-3 1-3 1-14M23 365l1 8 1 4 1-5 1 1 1-1M39 375l1 9 1 5 1-36M70 370l1 16 1 11 1-12 1-10M110 187l1-4 1-5 1 3 1-2 1-8 1 8 1-2 1-5 1 0 1 5 1-5 1 8M165 164l1-4 1 0 1-3 1 9M169 166l1-4 1-7 1 0 1-2 1-4 1 7 1 1 1 13M72 380l1 14 1 10 1-12 1-12 1-9M89 293l1 10 1-17M93 280l1 4 1-20M105 239l1 13 1 6 1 0 1-19M118 224l1 13 1 4 1 5 1 8 1-10 1-12 1 4 1 2 1-1 1-7 1 6 1 2 1-1 1-7 1-6 1-1M187 209l1 16 1 1 1-15M191 216l1 7 1-7M22 352l1 26 1-9M39 373l1 8 1 4 1-8M60 353l1 28 1-7M62 374l1 12 1 3 1 14 1 1 1 3 1-12 1 18 1-4 1-11 1-12 1-13M89 289l1 9 1-8 1-14M93 280l1 3 1 0 1-5 1 11 1-8 1-4 1-8 1-9 1 6 1 3 1 3 1-2 1 3 1-6 1-1 1-6 1-1 1-3 1-7 1 19 1-2 1-9 1-1 1-16 1 0 1-10M189 213l1 11 1 8 1-6 1-1 1 7 1 7 1-11 1-9M198 219l1 6 1 14 1 2 1-7 1-4 1 3 1-3 1-4 1 2 1-6 1 4 1-16M44 293l1-17 1 18M46 294l1-8 1 3 1 2 1-8 1-14 1 4 1-8 1 0 1-8 1 5 1 8 1-2 1 13 1 27M87 303l1 4 1-7 1-17M109 237l1 11 1-3 1-12M112 233l1 10 1 3 1-2 1-5 1-7M161 167l1-8 1 4 1-5 1-1 1-5 1 6 1 0 1 1 1-7 1 10 1 4M6 357l1 15 1-3 1-3M16 368l1 5 1-37M29 372l1 5 1 5 1-16M39 367l1 16 1 2 1-4 1-8M127 224l1 7 1-3 1 1 1-9M131 220l1 10 1-1 1-10M134 219l1 13 1 1 1 2 1-5 1 5 1 6 1 8 1 3 1-1 1-1 1-5 1-13 1-1 1-1 1-1 1 7 1 2 1 5 1-8 1-4 1 4 1-9 1-2 1-3 1 5 1-3 1-5 1 5 1-14M213 167l1-9 1 2 1-9 1-1 1-1 1 17M0 284l1-13 1-3 1-13 1 18 1 3 1 19M17 283l1-7 1 7M21 288l1-6 1-6 1 22M81 267l1-16 1 9M110 188l1-8 1 18M193 210l1 11 1 1 1 5 1 6 1 3 1-1 1 0 1-3 1-3 1-2 1-3 1 11 1-9 1-14M3 365l1 8 1-16M121 181l1-2 1-6 1 4 1 0 1 4M126 181l1-9 1 11M141 168l1-13 1 3 1 6 1 7M149 173l1-12 1 0 1 3 1 3M164 216l1 11 1-1 1-3 1-5 1 4 1 10 1 1 1-7 1-1 1-10M0 379l1 10 1 6 1 2 1-5 1 1 1-4 1 1 1-22 1 6 1-13M10 361l1 8 1 13 1-6 1-6 1 2 1-21M20 366l1 19 1-6 1-15M23 364l1 21 1-22M28 371l1 12 1-5 1 14 1 5 1-5 1-4 1 2 1 12 1 13 1-11 1-2 1-20 1 16 1 15 1 9 1 4 1-8 1 0 1 4 1 6 1-7 1-5 1-11 1-6 1-4 1 2 1 0 1-27M118 186l1-10 1-9 1-4 1 7 1 1 1-2 1 8 1-4 1 6M135 174l1-8 1-7 1 9M138 168l1-18 1 5 1-2 1-2 1 0 1 1 1 0 1-2 1-2 1-3 1 0 1-6 1 12 1 7 1 5 1 6M159 170l1-11 1-1 1 6 1 5M165 164l1-10 1 2 1-5 1-5 1 2 1 9 1 7M215 219l1 3 1-1 1 4 1 0 1-1M0 367l1 10 1-19M10 353l1 22 1-7 1 6 1 14 1-2 1-2 1-23M40 371l1 15 1 14 1-14 1-5 1 2 1 2 1-4 1 9 1-12M62 363l1 22 1-16M126 223l1 9 1-7 1-8M132 219l1 9 1-13M142 215l1 12 1-12M193 216l1 5 1 7 1-9M3 361l1 8 1 14 1-9 1 2 1-16M19 368l1 7 1-16M22 357l1 25 1-9 1-6M74 375l1 11 1 9 1 8 1-6 1-37M82 321l1 13 1-9 1 5 1-17 1 3 1-10 1-12M89 294l1 2 1-8 1-2 1-3 1-5 1-8M111 190l1-8 1-3 1 1 1-7 1-4 1 11 1-12 1 8 1 6M40 301l1-23 1-6 1-13 1-7 1-6 1-2 1 5 1 8 1 21 1-4 1-11 1 7 1 3 1 12 1-18 1 7 1 2 1 3 1-11 1 25M168 207l1 12 1 0 1 6 1 4 1-2 1-3 1-1 1-5 1-1M216 167l1-10 1 6M218 163l1-2 1-6M170 214l1 5 1 2 1 4 1-1 1-16M196 219l1 6 1-9M198 216l1 4 1 4 1-11M204 217l1 14 1-2 1 11 1-4 1-3 1-11 1 6 1 2 1 1 1 5 1 3 1-1 1-1 1 0 1-3 1 2M31 294l1-13 1 16M34 303l1-20 1-12 1 10 1-11 1-2 1 30M147 218l1 3 1 10 1 4 1-3 1 3 1-2 1-2 1 3 1 4 1-4 1-3 1-4 1 0 1-10 1 3 1 0 1-6M169 214l1 10 1-5 1 4 1 4 1-5 1 2 1 6 1-3 1 1 1 2 1 4 1-11 1 2 1 1 1-2 1 0 1-9M6 289l1-21 1 14 1-1 1 0 1 23M26 360l1 25 1-2 1-18M30 367l1 16 1-3 1-7M91 285l1 1 1-4 1 5 1-4 1-12 1 6 1-7 1 0 1-5 1-18M29 291l1-9 1 11M76 372l1 15 1 6 1-15 1-21 1-8 1-13M105 249l1 4 1-2 1 0 1-3 1-3 1 5 1-7 1-8M113 235l1 12 1 7 1 6 1-4 1-7 1-5 1 3 1-3 1 1 1-13 1-3 1-11M58 362l1 15 1-22M130 221l1 13 1 4 1-2 1-4 1-4 1-6M136 222l1 2 1-1 1 1 1 3 1-7 1-3M146 213l1 8 1 5 1-7M0 276l1 7M1 283l1-18 1-10 1 6 1 0 1 5 1 18M7 284l1-23 1 9 1-5 1-5 1-12 1 34M13 282l1-2 1-23 1 0 1 16 1 10M41 307l1-24 1 15M61 359l1 28 1-20M68 376l1 15 1-2 1-14M71 375l1 9 1 10 1-20M76 370l1 16 1-6 1-2 1-18 1-22M90 280l1 16 1 0 1-9 1-9 1 3 1 0 1-20M198 210l1 15 1-4 1 2 1-8M5 335l1 37 1 0 1-7M34 358l1 19 1 16 1-10 1 4 1-29M40 370l1 16 1-5 1-10M44 379l1 14 1-14M47 377l1 6 1 6 1-1 1-1 1 6 1-13 1-3 1 2 1-5 1-5M57 369l1 9 1-3 1-4M60 371l1 8 1-1 1 7 1 1 1 10 1-4 1 10 1 2 1-16 1 9 1-17M77 371l1 1 1-4 1-6 1-22M93 213l1-10 1-9 1 1 1 3 1 4M216 211l1 16 1 7 1-8 1-2M0 267l1-1 1 0 1-7 1 16 1-21 1 6 1 3 1-15 1-13 1 0 1 0 1-5 1-6 1 11 1 6 1 7 1-3 1 6 1 4 1 0 1 27 1 11M42 301l1-18 1-9 1-8 1 6 1-3 1-10 1 11 1 14 1-13 1 4 1 5 1 8M54 288l1-21 1 0 1-3 1-6 1-5 1 13 1 8 1 10 1-7 1-6 1 10 1 5 1-8 1-10 1 1 1 7 1 23M80 283l1-30 1-3 1-15 1 6 1-10 1-4 1-17 1 3 1 0 1-15 1 4 1 10M92 212l1-12 1 2 1-1 1 6M99 198l1-14 1-3 1 3 1-6 1-1 1 9M105 186l1-12 1 2 1 6 1 2 1 8M42 300l1-25 1 0 1 17M45 292l1-11 1 15M51 300l1-14 1 12M89 293l1 4 1-7 1-5 1-7M94 271l1 12 1-7 1-9M97 267l1 6 1 3 1 6 1-4 1-7 1-6 1-9 1 0 1-8M106 248l1 5 1-5 1 5 1 2 1 4 1-5 1-1 1 9 1 3 1 3 1 0 1 0 1-8 1-5 1 6 1-4 1-9 1 2 1 3 1-6 1-9 1 0 1 4 1 9 1-6 1-3 1-15 1-12M138 211l1 11 1 6 1 9 1 1 1 4 1 4 1-1 1 2 1-1 1-1 1 3 1-4 1-7 1 8 1-19 1-7 1 7 1 6 1 2 1 1 1 1 1 3 1-5 1-1 1 7 1 6 1-11 1 3 1-2 1 0 1 4 1 0 1-2 1-4 1-2 1-7 1 5 1 1 1-10 1 4 1 5 1-14M33 375l1 4 1 7 1-14M54 295l1-11 1-2 1-15 1-3 1-5 1 4 1 17 1-12 1 14 1 16M69 294l1-11 1-5 1-13 1 17 1 13M74 295l1-12 1 10M133 220l1 11 1-10M191 214l1 14 1 3 1-7 1-2 1-8M2 296l1-29 1 5 1-5 1 5 1 14M95 271l1 4 1-1 1-3 1-21M122 222l1 11 1 3 1-8 1-4M209 163l1-5 1-9 1 1 1 8 1 3 1-2 1 3M0 272l1-2 1 5 1-15 1 14 1 7 1 17M7 285l1-5 1-10 1 12 1 5M12 293l1-14 1-1 1-16 1-10 1-1 1 18 1 9 1-17 1-5 1 8 1 1 1-5 1 2 1 23 1-9 1 7 1 4M46 298l1-12 1-4 1 18M49 300l1-17 1-4 1 1 1 11M84 320l1-4 1-1 1-19M26 309l1-32 1-3 1 23M63 365l1 12 1 0 1 6 1-12M107 238l1 9 1 1 1 4 1-2 1-10 1 2 1 5 1-8 1 1 1-4 1-1 1 6 1-10M124 226l1 2 1 8 1-8 1 3 1 0 1-17M185 175l1-14 1-1 1 10M0 242l1-2 1 6 1 16 1 1 1-5 1 10 1-10 1 14 1 19M43 375l1 8 1 6 1 12 1 5 1-4 1 12 1-5 1-9 1 6 1-9 1 8 1-15 1 7 1-3 1 0 1 3 1 9 1 7 1-1 1-20 1-13 1 0 1 5 1-9M70 371l1 24 1-3 1-8 1 13 1 0 1-3 1-4 1-21 1 13 1-7 1-24 1-29M88 296l1 3 1 3 1-13 1-5M101 254l1 12 1-3 1-8 1 11 1-3 1 11 1 2 1-4 1-15 1-7 1 8 1 6 1 3 1-3 1-20 1 7 1-2 1-1 1 0 1 4 1-6 1-8 1 1 1 4 1-2 1-8 1-10M54 359l1 16 1 7 1 1 1 5 1-20M77 373l1 2 1-14M86 305l1 3 1-15M89 293l1 1 1 3 1-13M103 238l1 22 1-7 1-7M107 248l1 0 1-1 1 7 1 7 1-5 1-2 1-6 1-8 1 5 1 0 1-1 1-2 1-4 1-7M133 223l1 5 1-4 1-8M142 205l1 16 1 1 1 5 1-2 1-5M147 220l1 13 1-10 1-1 1-3M153 212l1 7 1 3 1-4 1-11M7 301l1-20 1-1 1-7 1 7 1 9M46 295l1-10 1 7M153 213l1 8 1 5 1-4 1-3 1 2 1 9 1-3 1-10 1 0M175 207l1 11 1 4 1-2 1-3 1-1M181 215l1 10 1-13M187 214l1 7 1 7 1-1 1-10M191 217l1 9 1-2 1-8M207 209l1 13 1 4 1 6 1 0 1-2 1-15M0 389l1-10 1-10 1-19M22 295l1-10 1-10 1 9 1 6M32 288l1-9 1-10 1 17 1 6M74 380l1 17 1 3 1-13 1-18 1-5 1-13M89 222l1-11 1-3 1-12 1-5 1 0 1 9 1-3 1-2 1 7M110 192l1-13 1-5 1-9 1 14 1-9 1 6 1-1 1-6 1 1 1-6 1 6 1-8 1 4 1 16M16 356l1 15 1 21 1 9 1-2 1 6 1 3 1-6 1-12 1 5 1-19 1-7M27 369l1 10 1-2 1-7M30 370l1 9 1-16M78 367l1-1 1 7 1-14 1-24M83 312l1 12 1 3 1-17 1 2 1-1 1-14 1-5 1 6 1-3 1-22M169 163l1-10 1 2 1 5 1 5M176 174l1-21 1-2 1 5 1-2 1-3 1 3 1 5 1-1 1 3 1-1 1-4 1 17M45 377l1 23 1-6 1 1 1 1 1-3 1 3 1-23M52 373l1 7 1-23M102 190l1-8 1-13 1 1 1-3 1-6 1 2 1 4 1 0 1-6 1 17 1 10M132 177l1-8 1-5 1 1 1 2 1 13M137 180l1-16 1-4 1 2 1 3M141 165l1-7 1 3 1 6M144 167l1-11 1 0 1 1 1 8 1-9 1 8 1 11M163 217l1 3 1 3 1-12M167 214l1 10 1-13M3 355l1 20 1-28M17 288l1-11 1-2 1 1 1 4 1 3 1 2 1 19M155 216l1 8 1 3 1-2 1 6 1 3 1 0 1 8 1-6 1-2 1-3 1 9 1 1 1 9 1-6 1-2 1-1 1-5 1 2 1-10 1 7 1 2 1-7 1-7 1-15M22 365l1 7 1 8 1-9 1-12M78 367l1 2 1-36M94 276l1 0 1 2 1-4 1-10M98 264l1 9 1 9 1-8 1-9 1 3 1-7 1-2 1-7 1 8 1-9 1 9 1-11 1 6 1-11 1 3 1 3 1-13 1-2 1-7M131 217l1 8 1 4 1 1 1-1 1-3 1 4 1 0 1-10M147 216l1 7 1 2 1 13 1 4 1-7 1-15 1 3 1-5 1 1 1-8M162 217l1 5 1-5M188 208l1 17 1 3 1-7 1-2 1 2 1 2 1 0 1 2 1-5 1-8M47 303l1-21 1 6 1 9M94 269l1 14 1-16M126 178l1-7 1 4 1 4M130 178l1-10 1 4M205 212l1 12 1 2 1-14M133 222l1 7 1-3 1 3 1 2 1 1 1-7 1-2 1-2 1-1 1-4M145 219l1 4 1 10 1-14M149 218l1 7 1-3 1 11 1-4 1-3 1-3 1 4 1 5 1-5 1-11M25 361l1 16 1 7 1-20M61 288l1-23 1-2 1-10 1 4 1 12 1 13 1 1 1 0 1-10 1-3 1 4 1 10 1 8M74 292l1-4 1-12 1-8 1 5 1-15 1-2 1-19 1-12 1 4 1 17M123 220l1 13 1 8 1 7 1-3 1-4 1 1 1 12 1 0 1 10 1-4 1-6 1-1 1-6 1-9 1-6 1 1 1 9 1-13 1 1 1 5 1 6 1-8 1 1 1-7 1 6 1-9 1-14M159 212l1 11 1-5 1 2 1 2 1-13M0 369l1 2 1-20M19 284l1-11 1 29M63 374l1 6 1-12M114 229l1 8 1-1 1 5 1-6 1-4M175 205l1 19 1-3 1-7M0 363l1 6 1 3 1-19M191 167l1-5 1-2 1 6M196 172l1-15 1 5 1 5M199 167l1-9 1 3 1-17 1 3 1-1 1-2 1-7 1 4 1 10 1-4 1 6 1-6 1 2 1 3 1 1 1-1 1 0 1 8 1-3 1 2 1 5M50 376l1 12 1-8 1-15M54 370l1 13 1-5 1-8M58 371l1 12 1-7 1-6M137 167l1-6 1 2 1 8M22 367l1 17 1-24M31 361l1 23 1 3 1-22M38 367l1 21 1-12M49 365l1 25 1-10 1-18M55 371l1 12 1-7 1 0 1-10M98 261l1 6 1 0 1-4 1-18M115 232l1 8 1-8M125 221l1 16 1 6 1-12 1-8M140 213l1 8 1 2 1 1 1-4 1-13M160 173l1-12 1 5M162 166l1-1 1-5 1-9 1-5 1 6 1 4 1 12M188 167l1-7 1-6 1 6 1-4 1 1 1 2 1 5 1 4M207 167l1-8 1-1 1-1 1 4 1 3M11 354l1 15 1 27 1-17 1 1 1-2 1 12 1-7 1 0 1-22M22 365l1 16 1 7 1 4 1-6 1-15M28 365l1 11 1 11 1-1 1 7 1-5 1 9 1 3 1 1 1 6 1 0 1-30M39 377l1 8 1 3 1-16M161 174l1-12 1-7 1 8 1 4M17 283l1-7 1 10M22 294l1-13 1-18 1-12 1 11 1 4 1-2 1 13 1 12M30 289l1-15 1-15 1 8 1-4 1 10 1 6 1-10 1 9 1-7 1 10 1 2 1 8M42 291l1-15 1 18M44 294l1-12 1 3 1 8M89 225l1-14 1 1 1 0M93 212l1-12 1-1 1-1 1 9M97 207l1-12 1-3 1-12 1 0 1 7 1 14M35 372l1 15 1-2 1-4 1-16M136 168l1-6 1 0 1 2 1 0 1-3 1 2 1-3 1-7 1-3 1 11 1 6M147 167l1-3 1-10 1 4 1-8 1-4 1 3 1 5 1 12 1-3 1 16M31 357l1 18 1 9 1 3 1 5 1-3 1-10 1 2 1 2 1-2 1-4M45 376l1 7 1 2 1 4 1-22M63 369l1 12 1 3 1-3 1 17 1-13 1 0 1 3 1-7M189 216l1 6 1 2 1-5 1 4 1-4M6 365l1 14 1 2 1 11 1 7 1-6 1 5 1-9 1-12 1 14 1-2 1 7 1 9 1 2 1-21 1-6 1-12M22 368l1 9 1-6 1-16M26 370l1 2 1 21 1 5 1-1 1 6 1-5 1-9 1-5 1 7 1-20M36 371l1 12 1 5 1-11M64 367l1 27 1-2 1-1 1 13 1 4 1 17 1-1 1-22 1 3 1-7 1-6 1 9 1-9 1-15 1-3 1-10 1-15 1-29M155 169l1-10 1 2 1 0 1 5 1-5 1 0 1 1 1-1 1 9M70 298l1-15 1-5 1 16M85 245l1-23 1 0 1 12M116 184l1-7 1-7 1 8 1 7M122 191l1-15 1-3 1 2 1 3M126 178l1-5 1-8 1 3 1-1 1-7 1 7 1 0 1-11 1-3 1-2 1-1 1-5 1-6 1 6 1-4 1 6 1 3 1-4 1-2 1 8 1 1 1-1 1 4 1-4 1 0 1-1 1 5 1 10 1 1M155 167l1-8 1 7 1 5M208 165l1-10 1 5 1-4 1-8 1 7 1 3 1 3 1-6 1-6 1 5 1-4 1 13M77 356l1 19 1-8 1-26M101 192l1-6 1-6 1 0 1 1 1 0 1-2 1 0 1 4 1 19M115 189l1-12 1 5M127 185l1-10 1-10 1 6 1-2 1 2 1-6 1-9 1-3 1-8 1-3 1 2 1-1 1-1 1 6 1-9 1 3 1 0 1 7 1 8 1 4 1 5M173 164l1-5 1-3 1 7 1-2 1 4M178 165l1-13 1-3 1 7 1-7 1 11 1-7 1-5 1 5 1-4 1 8 1-2 1-1 1-1 1-2 1 9 1-6 1 8 1-4 1 9M211 216l1 8 1-2 1-2M214 220l1 2 1 7 1-3 1 1 1-15M2 364l1 16 1 13 1 5 1-6 1 1 1-5 1-30M77 362l1 7 1 5 1 1 1-24 1-23M114 230l1 7 1 7 1-7 1 5 1-1 1 5 1-2 1-11 1-3 1-7M125 227l1 7 1-13M138 221l1 8 1 4 1 2 1-11 1-14M183 209l1 15 1 14 1-13 1 5 1-3 1-11M44 365l1 18 1 4 1-4 1-1 1 1 1-9M50 374l1 14 1-13M52 375l1 16 1 7 1-24M75 380l1 0 1 7 1-8 1-27M151 218l1 7 1-2 1-9M183 209l1 13 1 3 1-8M186 217l1 3 1-1 1 2 1 4 1 6 1 7 1-1 1 2 1-1 1 7 1-4 1-2 1 2 1-4 1-3 1-1 1 6 1-5 1-3 1 6 1 1 1-3 1-3 1-6 1-9M1 364l1 6 1 0 1 5 1-4 1 9 1 7 1 11 1-14 1-10 1-1 1-16M25 361l1 23 1 1 1-8 1 16 1-8 1 15 1-9 1 9 1 8 1 0 1 8 1-15 1-11 1-1 1 0 1 13 1-8 1 12 1-7 1-8 1 7 1-18 1-14M70 293l1-11 1 3 1-1 1-1 1 16M75 299l1-29 1 8 1 26M80 275l1-12 1-15 1 11M101 196l1-16 1 1 1-5 1 3 1 0 1 4 1 2M8 354l1 16 1 5 1-6 1 7 1-6 1-6M14 364l1 9 1-1 1 2 1-13M28 368l1 8 1 8 1 5 1 0 1-6 1 2 1 1 1 5 1-3 1-22M84 246l1-10 1-9 1 7M87 234l1-15 1-1 1-13 1 10M91 215l1-7 1-1 1-4 1-8 1-12 1 1 1-1 1 0 1-5 1 4 1-1 1-3 1 3 1-1 1 8M106 188l1-4 1-5 1 8M133 176l1-16 1 5 1 2 1-7 1 13M183 213l1 6 1 14 1 1 1-1 1-5 1 10 1 1 1 4 1 0 1 0 1 2 1-4 1 3 1-3 1 7 1-5 1-1 1 1 1 0 1 7 1-12 1-3 1-4 1-2 1 9 1-9 1 4 1-7 1-3 1-4M80 284l1-24 1-22 1 2 1 5M88 231l1-14 1-10 1 15M182 166l1-4 1-4 1 8M185 166l1-12 1 5 1-1 1 11M190 166l1-5 1 5M201 166l1-6 1 6M21 360l1 17 1 13 1-10 1-4 1-2 1-28M38 372l1 12 1 6 1 9 1-3 1-11 1-3 1 9 1-5 1-2 1-14M49 369l1 11 1 2 1-3 1-4M76 364l1 12 1-2 1-13M80 352l1 0 1-42M109 187l1-20 1 0 1-2 1 0 1 5 1 9 1 23M140 169l1-11 1 1 1 12M154 167l1-11 1-11 1 5 1 13 1-2 1 13M161 167l1-11 1 7 1-2 1 4M199 167l1-6 1-2 1-3 1 1 1 4 1 13M74 303l1-17 1 0 1-5 1-8 1-14 1-4 1-25 1-24 1-4 1-4 1-3 1-1 1-15 1 7 1-3 1-6 1 8 1-8 1 5 1-3 1-5 1 6 1 17 1 10M99 207l1-20 1-9 1 7 1-4 1-4 1-3 1 4 1 7M205 169l1-14 1 4 1 2 1 6M49 372l1 5 1 7 1-14M57 366l1 15 1 13 1-1 1-1 1 2 1-3 1 2 1-19M10 363l1 10 1-12M42 373l1 11 1 5 1 3 1-13M48 362l1 18 1 5 1-10M51 375l1 4 1 15 1 0 1 1 1-2 1-9 1-1 1 15 1-24 1-7M66 374l1 6 1 3 1 3 1 7 1 6 1 7 1 18 1-4 1-1 1-2 1-11 1-14 1-20 1-11 1-27M125 184l1-14 1-7 1 4 1-3 1 3 1-2 1-6 1-4 1 7 1 10M137 168l1-4 1-6 1-6 1 0 1-10 1 0 1 6 1 3 1 11 1 6M147 168l1-9 1-1 1 4 1 11M155 173l1-11 1 10M13 348l1 20 1 15 1 3 1 13 1-10 1-8 1-8 1-16M42 372l1 13 1 7 1-4 1-12M101 249l1 19 1-8 1-5 1-17M141 217l1 11 1-9M143 219l1 7 1-3 1 1 1-9M215 214l1 7 1 4 1-7M24 288l1-20 1-13 1 1 1-4 1 19 1 10 1-2 1 10M44 297l1-10 1 2 1-8 1 19M104 195l1-18 1 1 1 8M116 201l1-21 1-5 1-6 1 9 1 3M121 181l1-10 1-10 1 5 1 2 1 11M131 177l1-15 1-3 1 5 1-1 1 0 1 2 1-6 1 4 1-4 1 3 1 3M143 166l1-12 1-6 1 3 1 5 1 3 1 11M162 168l1-8 1 0 1 4M166 167l1-12 1 0 1 10M169 165l1-5 1-4 1 12M22 296l1-12 1-27 1 21 1 15M27 293l1-14 1-2 1 20M39 290l1-4 1-11 1 14M61 294l1-17 1 9 1 8M66 294l1-9 1-5 1 13M69 293l1-12 1 9 1-15 1 5 1 13M95 210l1-19 1 1 1 10M189 166l1-5 1 0 1 2 1 8M2 358l1 12 1 2 1-8M6 357l1 19 1-3 1-8M9 365l1 14 1-24M28 290l1-4 1-2 1-12 1 4 1 5 1 1 1 17M90 223l1-17 1-5 1 2 1 8M101 194l1-8 1-7 1-2 1 8 1-10 1 4 1 0 1 13M133 223l1 5 1-11M161 214l1 9 1 2 1-1 1-16M57 292l1-17 1-7 1-10 1-4 1-6 1 1 1 19 1 15 1-9 1-6 1 17 1 2 1 7M70 294l1-6 1 2 1-14 1 19M78 293l1-19 1-13 1-8 1-12 1-7 1-3 1 6 1-11 1-13 1 6 1-5 1-3 1-4 1-7 1 7 1 7M109 232l1 16 1-3 1 6 1-7 1-13M158 217l1 7 1-5 1-3M161 216l1 8 1-12M164 216l1 4 1 0 1 6 1-7 1 1 1-9M172 217l1 7 1-8M182 209l1 14 1-9M184 214l1 10 1-2 1 4 1-5 1-4M195 219l1 7 1-2 1 4 1-4 1 4 1-3 1-11M11 296l1-19 1 8M38 301l1-17 1-6 1 0 1-10 1-6 1 15 1 3 1 4 1 0 1-3 1 28M76 368l1 22 1-14 1-11 1-20M97 214l1-26 1 14M174 171l1-13 1-4 1-7 1 8 1-7 1-5 1 10 1-4 1 2 1-5 1 7 1-3 1 7 1 12M197 171l1-12 1 5 1 8M0 253l1 1 1 19 1-11 1 2 1 17 1 7M6 288l1-27 1 2 1-6 1-6 1 2 1 7 1 7 1-22 1-11 1 16 1 9 1 4 1 16 1 12M131 174l1-7 1 2 1-3 1 13M23 362l1 14 1-8M45 296l1-9 1-15 1 21M52 294l1-14 1-16 1-3 1 29M99 261l1 0 1 6 1-1 1-7 1-5 1-2 1-4M138 214l1 8 1 8 1-7 1 3 1 1 1 2 1 1 1 2 1 0 1-19M149 219l1 2 1 6 1 1 1-2 1-4 1 15 1 1 1-4 1 8 1-6 1-2 1 8 1-9 1-6 1 3 1 4 1 1 1-7 1 5 1-8 1 2 1-4 1-17M200 209l1 10 1 6 1-6 1 9 1-5 1-5 1-2M0 293l1-25 1-5 1 7 1 9 1 14M63 370l1 9 1 12 1-10 1-1 1-4M68 376l1 10 1 12 1-9 1 0 1 0 1 9 1 0 1-3 1 20 1 6 1-8 1-21 1-24 1-27 1 0 1-3 1-8 1-8 1-32M129 223l1 10 1-7 1-6M133 219l1 9 1 2 1-1 1 2 1-17M178 169l1-5 1-6 1-2 1-2 1 6 1 1 1 3 1 3M216 169l1-11 1-1 1-7 1-4M10 295l1-19 1 3 1 2 1 1M67 370l1 16 1-6M69 380l1 9 1-14M73 368l1 15 1 1 1 4 1-9 1-1 1-12 1-36M144 216l1 13 1 5 1-11 1 3 1 4 1 13 1 6 1 4 1 1 1 0 1 1 1-2 1 1 1-5 1 3 1-1 1 4 1 3 1 2 1-3 1 3 1-6 1-4 1-10 1-14 1 8 1 0 1 4 1-3 1-3 1-2 1-6 1-1 1 1 1 0 1 0 1 2 1-8 1 7 1 0 1 7 1 4 1-3 1-9 1-2 1 0 1-4M0 378l1-4 1-4 1 5 1 6 1-25M25 359l1 29 1-11 1 1 1-3 1 0 1-19M109 190l1-14 1 4 1-1 1 8M208 213l1 7 1 3 1 3 1-3 1-5M214 218l1 10 1-11M68 298l1-11 1-9 1 19M71 297l1-14 1-5 1 8 1 19M80 280l1-19 1-18 1-4 1 10M87 237l1-19 1-13 1 3 1 15M194 216l1 9 1 9 1-2 1 1 1 3 1 1 1-6 1-6 1 8 1-1 1 1 1-14 1-6M208 214l1 6 1 18 1-8 1-14M63 357l1 27 1-3 1-25M136 169l1-7 1 3 1 4M163 172l1-12 1-2 1-5 1 9M167 162l1-11 1 4 1 2 1-2 1 1 1 2 1 3 1-4 1-2 1-3 1 0 1 6 1-9 1-5 1-1 1 7 1 8 1 8M186 169l1-10 1-2 1-2 1-4 1 8 1 3 1 15M200 173l1-13 1-4 1-8 1 11 1 3 1-10 1 8 1-2 1 5M209 163l1-2 1-10 1-3 1 1 1 1 1 11 1 5M29 291l1-17 1-8 1-2 1-1 1 7 1 24M39 290l1-11 1-2 1 11M79 292l1-23 1-10 1-8 1 3M160 184l1-19 1-9 1 6 1-3 1-8 1-7 1 2 1-1 1 8 1 0 1 7 1 0 1-1 1 16M206 215l1 9 1 1 1-2 1-6M26 298l1-19 1 13M44 295l1-7 1-6 1 5 1-19 1 12 1 10 1 1M54 306l1-30 1 9 1 7M80 297l1-35 1-16 1 1 1 3M99 263l1 2 1-11M120 229l1 3 1 6 1-12M135 203l1 24 1-3 1-13M198 213l1 6 1 3 1 2 1 3 1-10M203 217l1 2 1 1 1 4 1-8M207 216l1 5 1 7 1-2 1-10M211 216l1 5 1 7 1 8 1-12 1-6M84 321l1-2 1-16M96 268l1 6 1 2 1-4 1 3 1-19M101 256l1 4 1 2 1-17M105 249l1 5 1 1 1 1 1 0 1-4 1-5 1-10M134 221l1 3 1 0 1 4 1-21M147 173l1-13 1-5 1-5 1 4 1 9 1-8 1-3 1 3 1 1 1 9 1-1 1-2 1 3 1-6 1 5 1 5M216 208l1 15 1-1 1 7 1-10M0 377l1-13M33 295l1-17 1-1 1 0 1 25M38 295l1-15 1-5 1-5 1 10 1-8 1 12 1-1 1 9M78 294l1-30 1 9M80 273l1-22 1-18 1-5 1-5 1 1 1-6 1-4 1 0 1-4 1 10M91 213l1-8 1-1 1-4 1-1 1 3M187 218l1 6 1-4 1-5M211 163l1-8 1 5 1-2 1-3 1 0 1 5 1-3 1 2 1 7M14 285l1-19 1 19M16 285l1-11 1-1 1-6 1 2 1 5 1 9 1-5 1 11M29 288l1-9 1-1 1-1 1 3 1 8M34 288l1-1 1-17 1 10 1-13 1-1 1 33M45 290l1-13 1 11 1-13 1 0 1 3 1 7 1 6M52 291l1-22 1-3 1-4 1-3 1 4 1-4 1 5 1-18 1 6 1 8 1 5 1 2 1 16 1 4 1 2 1-3 1-4 1 16M70 298l1-12 1 8M72 294l1-14 1-7 1 14 1 14M130 218l1 8 1 3 1-1 1 1 1-1 1-11M160 212l1 11 1 2 1-9M204 165l1-6 1 5M206 164l1-7 1-6 1 10 1-2 1 2 1-5 1 1 1-1 1-4 1-5 1-3 1-5 1 6 1 1M2 287l1-14 1 9M33 300l1-25 1 12 1 4M53 300l1-20 1 12M104 191l1-7 1-6 1 0 1 1 1 12M127 211l1 18 1-3 1 3 1 3 1 2 1 2 1-10 1-5M135 221l1 6 1-3 1-14M43 362l1 24 1-11M62 365l1 11 1 14 1-16M78 366l1 2 1 0 1-17 1-15M92 284l1 2 1 4 1-12 1-3 1-4 1-3 1-3 1-6M174 213l1 8 1 5 1 2 1-3 1-8 1-14M182 203l1 15 1 5 1-3 1-6M197 214l1 10 1-1 1-17M11 292l1-14 1 0 1 1 1-11 1 1 1 2 1 8 1 12M25 290l1-9 1 12M37 296l1-21 1-1 1 13 1-11 1 13M42 289l1-15 1 4 1-1 1 15M59 285l1-12 1 14M145 170l1-8 1-1 1 0 1-9 1 0 1 6 1-1 1-5 1 12 1 5M49 368l1 23 1-9 1 1 1 9 1-17M54 375l1 9 1-3 1 7 1 3 1-26M62 374l1 3 1 9 1-11M112 186l1-7 1 12M32 287l1-10 1-13 1 3 1-5 1 4 1 3 1 9 1-10 1 2 1-7 1 29M101 194l1-13 1 1 1 2 1 4M114 186l1-8 1-2 1 7M117 183l1-3 1-7 1-1 1-2 1 7 1 3M155 171l1-8 1 4 1 5M173 171l1-16 1 6 1-6 1 4 1-2 1-4 1 8 1 0 1 4M4 291l1-14 1 0 1 5 1 2 1-1 1 10M38 375l1 9 1 10 1-4 1 2 1-8 1-15M46 367l1 16 1 0 1 6 1-6 1-23M100 254l1 7 1-1 1 2 1-9M168 172l1-18 1-1 1 8 1-6 1 1 1 0 1 7 1 1 1 7M181 176l1-12 1-7 1 1 1 6 1-7 1 0 1-5 1 3 1-1 1-2 1 0 1 1 1 6 1 0 1 4 1 5M197 168l1-12 1 11M199 167l1-7 1-8 1 1 1 12M203 165l1-8 1 5 1-2 1 1 1 11M10 294l1-17 1-6 1 9 1-6 1-7 1-6 1-1 1 14 1-8 1-10 1 9 1 7 1 2 1 13M27 286l1-1 1-3 1-3 1 11M158 177l1-11 1-2 1-3 1 0 1 1 1-10 1 4 1 2 1-2 1-4 1 3 1-2 1-1 1 4 1 13M0 394l1-11 1 3 1 6 1-9 1-13 1 5 1 2 1 11 1 8 1-16 1 3 1 4 1 13 1 3 1 2 1 0 1-1 1-2 1-4 1 0 1-8 1-9 1-21M34 376l1 10 1 6 1 0 1-10 1-21M75 293l1-11 1 5M80 284l1-24 1-24 1-15 1-2 1 3 1 10M86 232l1-7 1-6 1-9 1-11 1 7 1-5 1-1 1 1 1 6M95 207l1-10 1-5 1 5 1-2M99 195l1-6 1 1 1 3M102 193l1-15 1 21M175 213l1 5 1 2 1 3 1 3 1-3 1-3 1 8 1-2 1 1 1-2 1-3 1 5 1-1 1-14M209 212l1 12 1 0 1 0 1-20M40 372l1 19 1-10 1-6M44 374l1 9 1 7 1-17M47 373l1 11 1 4 1-2 1-25M86 239l1-21 1 2 1 3M152 171l1-8 1-2 1 13M193 215l1 11 1-3 1 2 1-10M8 291l1-11 1-4 1 4 1 0 1 13M24 293l1-9 1-7 1 12M27 289l1-15 1-17 1 10 1 12 1 6 1 8M39 295l1-12 1-3 1 9M124 185l1-10 1-7 1-5 1-8 1 11 1 1 1 20M162 169l1-12 1 1 1 6M170 163l1-1 1 0 1-6 1 8M174 164l1-5 1 1 1-7 1-5 1 17M179 165l1-5 1 6" vector-effect="non-scaling-stroke"/><path d="M0 324.8L0.37 324.7L0.73 324.7L1.1 324.7L1.47 325L1.83 325.2L2.2 325.4L2.57 325.4L2.93 325.4L3.3 326.1L3.67 326.9L4.03 327.6L4.4 327.4L4.77 327.1L5.13 327.1L5.5 327.5L5.87 327.9L6.23 327.9L6.6 327.7L6.97 327.4L7.33 327.1L7.7 326.8L8.07 326.6L8.43 326.4L8.8 326.2L9.17 325.9L9.53 325.6L9.9 325.3L10.27 325.4L10.63 325.6L11 325.8L11.37 325.6L11.73 325.4L12.1 325.2L12.47 325.1L12.83 325.1L13.2 325.2L13.57 325.3L13.93 325.5L14.3 325.6L14.67 325.6L15.03 325.6L15.4 325.7L15.77 325.7L16.13 325.8L16.5 326L16.87 326.1L17.23 326.2L17.6 326.4L17.97 326.5L18.33 326.8L18.7 327.1L19.07 327.3L19.43 327.2L19.8 327.1L20.17 327.1L20.53 327.2L20.9 327.3L21.27 327L21.63 326.7L22 326.3L22.37 326.4L22.73 326.6L23.1 326.7L23.47 326.9L23.83 327.1L24.2 327.2L24.57 327.2L24.93 327.2L25.3 327.2L25.67 327.2L26.03 327.1L26.4 327.2L26.77 327.3L27.13 327.3L27.5 327.1L27.87 326.9L28.23 327.2L28.6 327.6L28.97 328.1L29.33 328.5L29.7 328.8L30.07 329.1L30.43 329.1L30.8 329.1L31.17 329.2L31.53 329.4L31.9 329.6L32.27 329.6L32.63 329.7L33 329.7L33.37 329.7L33.73 329.6L34.1 329.6L34.47 329.9L34.83 330.2L35.2 330.4L35.57 330.5L35.93 330.7L36.3 331.1L36.67 331.6L37.03 332L37.4 332.1L37.77 332.1L38.13 332.1L38.5 331.9L38.87 331.8L39.23 331.7L39.6 331.6L39.97 331.5L40.33 331.6L40.7 331.8L41.07 331.9L41.43 331.9L41.8 331.8L42.17 331.8L42.53 332L42.9 332.1L43.27 332.1L43.63 332.1L44 332L44.37 332L44.73 332L45.1 332L45.47 331.9L45.83 331.8L46.2 331.9L46.57 332.2L46.93 332.5L47.3 332.4L47.67 332.2L48.03 332.1L48.4 332.3L48.77 332.6L49.13 332.7L49.5 332.4L49.87 332.1L50.23 332L50.6 332L50.97 332L51.33 331.6L51.7 331.1L52.07 330.7L52.43 330.8L52.8 330.8L53.17 330.8L53.53 330.7L53.9 330.5L54.27 330.7L54.63 330.9L55 331.1L55.37 330.8L55.73 330.4L56.1 330.1L56.47 330L56.83 329.8L57.2 329.7L57.57 329.6L57.93 329.5L58.3 329.8L58.67 330.2L59.03 330.5L59.4 330.3L59.77 330L60.13 329.9L60.5 330.2L60.87 330.4L61.23 330.8L61.6 331.3L61.97 331.8L62.33 332L62.7 332.1L63.07 332.3L63.43 332.8L63.8 333.3L64.17 333.5L64.53 333.3L64.9 333.2L65.27 333.2L65.63 333.4L66 333.6L66.37 333.9L66.73 334.2L67.1 334.4L67.47 334.3L67.83 334.2L68.2 334.2L68.57 334.3L68.93 334.5L69.3 334.5L69.67 334.4L70.03 334.4L70.4 334.5L70.77 334.6L71.13 334.7L71.5 334.8L71.87 334.9L72.23 334.9L72.6 334.9L72.97 334.9L73.33 335.2L73.7 335.7L74.07 336.2L74.43 336.3L74.8 336.4L75.17 336.4L75.53 336.4L75.9 336.4L76.27 336.1L76.63 335.8L77 335.5L77.37 335.8L77.73 336.2L78.1 333.5L78.47 330.6L78.83 327.7L79.2 324.9L79.57 321.6L79.93 315.8L80.3 310L80.67 304.3L81.03 298.5L81.4 292.8L81.77 287.1L82.13 284.8L82.5 283.3L82.87 281.8L83.23 280.2L83.6 278.6L83.97 277.1L84.33 275.4L84.7 273.8L85.07 272.2L85.43 270.7L85.8 269.3L86.17 267.6L86.53 265.8L86.9 263.9L87.27 262.2L87.63 260.6L88 259L88.37 257.6L88.73 256.2L89.1 254.9L89.47 253.8L89.83 252.8L90.2 251.7L90.57 250.6L90.93 249.6L91.3 248.4L91.67 247.3L92.03 246.1L92.4 244.9L92.77 243.7L93.13 242.5L93.5 241.2L93.87 239.9L94.23 238.7L94.6 237.7L94.97 236.6L95.33 235.7L95.7 235.1L96.07 234.4L96.43 233.7L96.8 233L97.17 232.4L97.53 231.8L97.9 231.2L98.27 230.5L98.63 229.7L99 228.9L99.37 228.1L99.73 227.3L100.1 226.5L100.47 225.7L100.83 225L101.2 224.2L101.57 223.5L101.93 222.7L102.3 221.8L102.67 221L103.03 220.5L103.4 220L103.77 219.6L104.13 219.2L104.5 218.9L104.87 218.6L105.23 218.3L105.6 217.9L105.97 217.5L106.33 217.2L106.7 216.9L107.07 216.7L107.43 216.5L107.8 216.3L108.17 216L108.53 215.6L108.9 215.2L109.27 214.7L109.63 214.1L110 213.5L110.37 213L110.73 212.5L111.1 212.1L111.47 211.7L111.83 211.3L112.2 211.1L112.57 211L112.93 210.9L113.3 210.6L113.67 210.3L114.03 210L114.4 209.6L114.77 209.2L115.13 208.8L115.5 208.6L115.87 208.4L116.23 208.1L116.6 207.8L116.97 207.4L117.33 207L117.7 206.7L118.07 206.4L118.43 206.3L118.8 206.1L119.17 205.8L119.53 205.5L119.9 205.1L120.27 205L120.63 204.8L121 204.7L121.37 204.7L121.73 204.6L122.1 204.5L122.47 204L122.83 203.6L123.2 203.3L123.57 203.2L123.93 203.2L124.3 203L124.67 202.9L125.03 202.7L125.4 202.5L125.77 202.3L126.13 202.1L126.5 201.7L126.87 201.3L127.23 201.1L127.6 201.1L127.97 201.1L128.33 200.7L128.7 200.4L129.07 200L129.43 199.8L129.8 199.6L130.17 199.5L130.53 199.3L130.9 199.2L131.27 199L131.63 198.7L132 198.4L132.37 198.5L132.73 198.5L133.1 198.5L133.47 198.2L133.83 197.9L134.2 197.6L134.57 197.3L134.93 197L135.3 196.7L135.67 196.5L136.03 196.3L136.4 196.1L136.77 195.9L137.13 195.5L137.5 195.1L137.87 194.6L138.23 194.3L138.6 194L138.97 193.8L139.33 193.6L139.7 193.4L140.07 193.3L140.43 193.3L140.8 193.3L141.17 193.3L141.53 193.4L141.9 193.4L142.27 193.4L142.63 193.4L143 193.4L143.37 193.5L143.73 193.5L144.1 193.6L144.47 193.5L144.83 193.5L145.2 193.4L145.57 193.5L145.93 193.5L146.3 193.4L146.67 193.2L147.03 193L147.4 192.9L147.77 192.7L148.13 192.7L148.5 192.9L148.87 193L149.23 193L149.6 192.9L149.97 192.8L150.33 193L150.7 193.1L151.07 193.3L151.43 193.4L151.8 193.5L152.17 193.5L152.53 193.2L152.9 192.9L153.27 192.8L153.63 192.7L154 192.6L154.37 192.7L154.73 192.8L155.1 192.9L155.47 192.7L155.83 192.5L156.2 192.5L156.57 192.5L156.93 192.6L157.3 192.5L157.67 192.3L158.03 192.2L158.4 192.2L158.77 192.3L159.13 192.4L159.5 192.7L159.87 193L160.23 192.9L160.6 192.7L160.97 192.5L161.33 192.5L161.7 192.5L162.07 192.5L162.43 192.4L162.8 192.3L163.17 192.2L163.53 191.9L163.9 191.7L164.27 191.7L164.63 191.7L165 191.7L165.37 191.7L165.73 191.6L166.1 191.5L166.47 191.5L166.83 191.4L167.2 191.3L167.57 191.2L167.93 191.1L168.3 191.3L168.67 191.4L169.03 191.6L169.4 191.6L169.77 191.6L170.13 191.7L170.5 192L170.87 192.3L171.23 192.5L171.6 192.7L171.97 193L172.33 192.8L172.7 192.7L173.07 192.5L173.43 192.6L173.8 192.6L174.17 192.6L174.53 192.4L174.9 192.3L175.27 192.3L175.63 192.4L176 192.5L176.37 192.3L176.73 192.1L177.1 191.8L177.47 191.5L177.83 191.2L178.2 191.2L178.57 191.6L178.93 191.9L179.3 192L179.67 192.1L180.03 192.2L180.4 192.1L180.77 192.1L181.13 192.1L181.5 192.2L181.87 192.3L182.23 192.4L182.6 192.6L182.97 192.8L183.33 193L183.7 193.2L184.07 193.3L184.43 193.4L184.8 193.5L185.17 193.5L185.53 193.3L185.9 193.2L186.27 193.1L186.63 193L187 193L187.37 193L187.73 193.1L188.1 193L188.47 192.7L188.83 192.3L189.2 192.1L189.57 192L189.93 191.8L190.3 191.7L190.67 191.6L191.03 191.6L191.4 191.8L191.77 192L192.13 192L192.5 191.9L192.87 191.8L193.23 191.8L193.6 192L193.97 192.2L194.33 192.4L194.7 192.5L195.07 192.6L195.43 192.7L195.8 192.7L196.17 192.7L196.53 192.6L196.9 192.5L197.27 192.5L197.63 192.5L198 192.5L198.37 192.5L198.73 192.5L199.1 192.4L199.47 192.1L199.83 191.9L200.2 191.8L200.57 191.8L200.93 191.7L201.3 191.7L201.67 191.7L202.03 191.7L202.4 191.6L202.77 191.6L203.13 191.5L203.5 191.5L203.87 191.4L204.23 191.3L204.6 191.2L204.97 191.1L205.33 191.2L205.7 191.3L206.07 191.3L206.43 191.3L206.8 191.3L207.17 191.4L207.53 191.5L207.9 191.6L208.27 191.7L208.63 191.7L209 191.8L209.37 191.6L209.73 191.4L210.1 191.3L210.47 191.5L210.83 191.6L211.2 191.7L211.57 191.6L211.93 191.6L212.3 191.6L212.67 191.6L213.03 191.6L213.4 191.8L213.77 192L214.13 192.2L214.5 192.4L214.87 192.6L215.23 192.6L215.6 192.4L215.97 192.2L216.33 192L216.7 191.9L217.07 191.8L217.43 192L217.8 192.1L218.17 192.2L218.53 192.2L218.9 192.1L219.27 192.2L219.63 192.4L220 192.5" stroke="#f00" stroke-width="2" vector-effect="non-scaling-stroke"/></g>
<path d="M919.9 233.2V541.3" stroke="#000" stroke-width="2.4" stroke-dasharray="6.95 7.5" stroke-dashoffset="1.25" fill="none"/>
<path d="M813.7 541.3v-3.8M813.7 233.2v3.8M840.2 541.3v-3.8M840.2 233.2v3.8M866.8 541.3v-3.8M866.8 233.2v3.8M893.3 541.3v-3.8M893.3 233.2v3.8M919.9 541.3v-3.8M919.9 233.2v3.8M946.5 541.3v-3.8M946.5 233.2v3.8M973 541.3v-3.8M973 233.2v3.8M999.6 541.3v-3.8M999.6 233.2v3.8M1026.1 541.3v-3.8M1026.1 233.2v3.8M1052.7 541.3v-3.8M1052.7 233.2v3.8M1079.3 541.3v-3.8M1079.3 233.2v3.8M1105.8 541.3v-3.8M1105.8 233.2v3.8M1132.4 541.3v-3.8M1132.4 233.2v3.8M1158.9 541.3v-3.8M1158.9 233.2v3.8M787.5 503.5h3.8M1185.1 503.5h-3.8M787.5 464.7h3.8M1185.1 464.7h-3.8M787.5 426h3.8M1185.1 426h-3.8M787.5 387.2h3.8M1185.1 387.2h-3.8M787.5 348.5h3.8M1185.1 348.5h-3.8M787.5 309.8h3.8M1185.1 309.8h-3.8M787.5 271h3.8M1185.1 271h-3.8" stroke="#6a6a6a" stroke-width="1" fill="none"/>
<rect x="787.5" y="233.2" width="397.6" height="308.1" fill="none" stroke="#4a4a4a" stroke-width="1.3"/>
<g class="tk" text-anchor="middle"><text x="787.1" y="558.3">0</text><text x="813.7" y="558.3">1</text><text x="840.2" y="558.3">2</text><text x="866.8" y="558.3">3</text><text x="893.3" y="558.3">4</text><text x="919.9" y="558.3">0</text><text x="946.5" y="558.3">1</text><text x="973" y="558.3">2</text><text x="999.6" y="558.3">3</text><text x="1026.1" y="558.3">4</text><text x="1052.7" y="558.3">5</text><text x="1079.3" y="558.3">6</text><text x="1105.8" y="558.3">7</text><text x="1132.4" y="558.3">8</text><text x="1158.9" y="558.3">9</text><text x="1185.5" y="558.3">10</text></g>
<g class="tk" text-anchor="end"><text x="781.5" y="546.2">0</text><text x="781.5" y="507.5">1</text><text x="781.5" y="468.7">2</text><text x="781.5" y="430">3</text><text x="781.5" y="391.2">4</text><text x="781.5" y="352.5">5</text><text x="781.5" y="313.8">6</text><text x="781.5" y="275">7</text><text x="781.5" y="236.3">8</text></g>
<rect x="935.7" y="241.4" width="244.1" height="81.3" rx="1.5" fill="#fff" stroke="#3a3a3a" stroke-width="1.4"/>
<path d="M945.7 251.7H976.4" stroke="#00f" stroke-width="1.9"/>
<path d="M945.7 282H976.4" stroke="#f00" stroke-width="4.2"/>
<path d="M945.7 308.5H976.4" stroke="#000" stroke-width="2.2" stroke-dasharray="10.1 2.3" stroke-dashoffset="4.5"/>
<g class="lg"><text x="987.2" y="261.4">CT prevalence</text><text x="984.7" y="289.9">Mean prevalence</text><text x="984.7" y="316.4">Intervention start</text></g>
<text class="num" text-anchor="middle" x="815.5" y="286.1">2</text>
<text class="xl" text-anchor="middle" x="964.3" y="593.6">Time (years)</text>
<text class="yl" text-anchor="middle" transform="translate(762 382.3) rotate(-90)">Prevalence(%)</text>
</g>
<g>
<path d="M813.7 629.4V943.1M840.2 629.4V943.1M866.8 629.4V943.1M893.3 629.4V943.1M919.9 629.4V943.1M946.5 629.4V943.1M973 629.4V943.1M999.6 629.4V943.1M1026.1 629.4V943.1M1052.7 629.4V943.1M1079.3 629.4V943.1M1105.8 629.4V943.1M1132.4 629.4V943.1M1158.9 629.4V943.1M787.5 904.6H1185.1M787.5 865.1H1185.1M787.5 825.7H1185.1M787.5 786.2H1185.1M787.5 746.8H1185.1M787.5 707.4H1185.1M787.5 667.9H1185.1" stroke="#e6e6e6" stroke-width="1.1" fill="none"/>
<g transform="translate(787.1 944) scale(1.81091 -0.39437)" fill="none" stroke="#00f" stroke-width="1.3" stroke-linejoin="round"><path d="M0 387L1 387L2 386L3 386L4 386L5 385L6 385L7 385L8 385L9 384L10 383L11 383L12 384L13 383L14 384L15 383L16 383L17 383L18 383L19 384L20 384L21 384L22 384L23 385L24 385L25 386L26 387L27 388L28 387L29 387L30 387L31 387L32 386L33 385L34 385L35 384L36 383L37 382L38 382L39 382L40 381L41 381L42 380L43 379L44 379L45 378L46 378L47 378L48 378L49 379L50 378L51 378L52 378L53 377L54 378L55 379L56 379L57 379L58 378L59 378L60 378L61 378L62 379L63 379L64 378L65 377L66 375L67 374L68 375L69 374L70 373L71 373L72 373L73 373L74 374L75 372L76 368L77 361L78 355L79 348L80 339L81 330L82 321L83 311L84 304L85 298L86 293L87 289L88 285L89 282L90 279L91 275L92 271L93 267L94 264L95 261L96 258L97 255L98 252L99 249L100 247L101 245L102 243L103 241L104 239L105 237L106 234L107 233L108 231L109 230L110 228L111 226L112 225L113 224L114 223L115 221L116 220L117 219L118 218L119 218L120 217L121 216L122 216L123 216L124 215L125 215L126 214L127 214L128 213L129 212L130 211L131 211L132 211L133 211L134 211L135 211L136 211L137 211L138 211L139 211L140 211L141 211L142 211L143 210L144 209L145 208L146 208L147 207L148 206L149 206L150 205L151 205L152 205L153 205L154 205L155 205L156 205L157 205L158 205L159 205L160 205L161 204L162 204L163 204L164 204L165 205L166 205L167 205L168 204L169 204L170 204L171 204L172 204L173 204L174 203L175 203L176 203L177 204L178 204L179 204L180 204L181 205L182 205L183 205L184 204L185 204L186 205L187 205L188 205L189 205L190 205L191 206L192 206L193 207L194 207L195 207L196 207L197 206L198 206L199 205L200 204L201 203L202 202L203 202L204 201L205 201L206 200L207 200L208 200L209 200L210 200L211 200L212 200L213 200L214 200L215 200L216 200L217 199L218 199L219 198L220 198L220 150L219 151L218 151L217 151L216 151L215 151L214 152L213 152L212 152L211 153L210 153L209 153L208 153L207 154L206 154L205 155L204 156L203 156L202 157L201 157L200 158L199 158L198 158L197 158L196 158L195 157L194 157L193 156L192 156L191 156L190 156L189 156L188 156L187 156L186 156L185 155L184 155L183 155L182 154L181 154L180 154L179 153L178 153L177 153L176 153L175 153L174 153L173 153L172 153L171 153L170 153L169 153L168 153L167 154L166 154L165 154L164 154L163 154L162 154L161 154L160 154L159 154L158 153L157 153L156 154L155 153L154 154L153 154L152 154L151 154L150 155L149 155L148 156L147 156L146 156L145 156L144 156L143 156L142 156L141 156L140 155L139 155L138 156L137 156L136 156L135 157L134 158L133 159L132 160L131 161L130 161L129 162L128 162L127 163L126 163L125 164L124 164L123 164L122 164L121 165L120 165L119 166L118 166L117 167L116 167L115 168L114 169L113 171L112 172L111 174L110 175L109 177L108 179L107 181L106 183L105 185L104 187L103 189L102 191L101 193L100 195L99 197L98 199L97 201L96 203L95 205L94 207L93 209L92 212L91 214L90 216L89 219L88 222L87 225L86 228L85 230L84 234L83 241L82 248L81 256L80 262L79 268L78 272L77 277L76 282L75 285L74 286L73 285L72 284L71 283L70 283L69 283L68 284L67 284L66 284L65 283L64 283L63 282L62 282L61 282L60 283L59 283L58 283L57 284L56 284L55 285L54 286L53 287L52 288L51 288L50 289L49 289L48 289L47 290L46 291L45 292L44 292L43 291L42 292L41 291L40 291L39 290L38 290L37 290L36 290L35 290L34 290L33 290L32 291L31 291L30 292L29 292L28 291L27 291L26 291L25 291L24 290L23 289L22 289L21 289L20 288L19 289L18 289L17 290L16 289L15 289L14 290L13 290L12 290L11 291L10 291L9 291L8 291L7 293L6 295L5 295L4 295L3 296L2 296L1 296L0 296Z" fill="#00f" stroke="#00f" vector-effect="non-scaling-stroke"/><path d="M166 158l1-6 1-4 1-3 1-9 1 6 1 3 1-6 1-1 1 6 1 2 1 13M87 229l1-13 1-4 1 7M91 214l1-10 1-5 1-1 1-2 1 2 1-10 1-2 1 8 1 9M131 165l1-7 1-6 1 11M134 163l1-9 1-1 1 1 1-6 1 4 1 4M165 156l1-5 1-4 1 7M168 154l1-5 1-5 1-7 1-1 1 12 1 10M182 154l1-1 1-5 1 1 1-4 1 4 1 4 1-7 1-3 1 6 1 0 1 9M193 158l1-5 1 0 1 4 1-5 1 13M71 286l1-8 1-1 1 5 1 23M79 268l1-20 1-9 1 4 1-4 1 21M115 180l1-23 1-3 1 4 1 4 1 5M120 167l1-7 1-1 1 10M183 204l1 4 1-1 1 6 1-1 1-5 1 3 1-2 1-9M0 274l1-1 1 18 1 5M25 367l1 21 1 10 1-20M99 235l1 13 1 4 1-1 1-17M179 203l1 5 1 0 1 2 1-2 1 8 1-1 1 3 1-1 1-9 1-9M190 201l1 7 1 6 1-7M200 200l1 15 1-5 1 2 1-13M0 403l1 5 1 3 1-4 1 2 1 4 1 10 1-4 1-4 1 2 1 3 1 0 1-7 1 6 1-2 1-10 1-16 1-16M64 363l1 15 1 2 1-3 1 4 1-10M73 373l1 16 1-25M76 362l1 5 1-26M98 200l1-10 1 13M107 224l1 10 1 8 1-9 1 0 1 9 1-4 1-2 1 2 1-11 1-6 1-4M118 217l1 7 1-8M120 216l1 2 1 2 1-1 1 3 1-7M128 203l1 12 1 3 1-1 1-9M66 302l1-26 1 2 1 3 1-7 1-6 1 14 1-11 1 17M118 216l1 5 1-1 1 2 1 9 1 7 1-4 1 1 1-11 1-9 1-18M203 159l1-7 1-14 1-1 1 1 1 6 1 0 1-1 1 2 1 1 1-9 1-1 1 0 1 1 1 0 1 2 1 0 1 1M28 384l1 7 1-2 1 3 1-10M205 191l1 14 1-13M80 266l1-15 1-11 1 1M88 222l1-9 1 2 1-10 1 6 1 7M105 186l1-6 1-10 1 0 1-10 1 1 1-3 1 13 1-8 1 2 1-9 1 5 1-2 1 4 1 2 1 12M189 156l1-10 1 2 1 3 1 4 1 17M17 296l1-21 1-14 1-17 1 1 1 7 1 7 1-14 1-6 1 27 1-7 1 13 1 7 1-2 1-8 1 10 1-10 1 4 1-9 1 4 1-3 1-7 1 33M39 291l1-5 1 11M73 302l1-23 1-7 1 19M111 175l1-8 1 6M115 171l1-7 1-9 1-3 1-5 1 4 1-1 1 3 1 3 1 2 1 12M137 161l1-10 1-5 1 6 1-2 1 3 1 4M144 156l1-2 1-9 1 6 1 8M172 155l1-9 1-3 1-1 1 2 1 0 1 1 1-6 1 9 1-3 1 3 1-8 1 9 1 7M34 293l1-8 1-3 1 0 1 16M56 374l1 17 1 12 1-3 1-8 1-9 1-19M63 375l1 8 1-4 1-23M76 367l1 14 1-11 1-9 1-42M83 309l1 0 1-11M128 212l1 4 1-2 1 6 1 7 1-9 1-2 1-3 1 2 1 9 1 2 1-12 1 0 1 1 1 1 1-13M16 293l1-6 1-7 1 12M19 292l1-23 1-9 1 5 1 2 1-2 1 9 1 10 1 5 1 10M30 307l1-18 1-6 1 20M41 291l1-22 1-13 1 10 1-6 1 9 1 8 1 21M80 266l1-26 1 8M95 207l1-13 1-1 1 5 1 1M100 203l1-15 1 6M167 199l1 6 1 9 1 6 1 1 1-10 1-4 1-5M176 202l1 5 1 4 1-3 1-12M17 379l1 9 1 16 1-3 1 0 1-2 1 0 1-23M64 284l1-13 1 1 1 3 1 6 1 0 1 16M104 198l1-17 1-3 1-1 1-1 1-5 1-8 1-4 1-4 1-5 1 3 1-3 1 9 1 2 1 2 1-3 1 2 1 8M122 169l1-14 1 8 1-5 1 13M174 200l1 7 1 10 1-4 1-2 1-8M79 275l1-27 1-7 1 2 1 5M97 208l1-12 1-7 1-1 1-3 1 3 1-1 1-7 1 0 1 4M106 184l1-13 1-4 1-3 1 6 1 7M140 201l1 14 1 2 1 2 1-6 1 0 1 0 1-4 1-1 1-15M184 156l1-10 1-5 1-1 1 10 1-5 1-4 1 1 1-1 1-2 1-3 1-4 1-5 1 3 1-2 1-2 1 0 1 4 1-1 1 13 1 8 1-5 1 1 1 7 1-6 1 1 1 5M210 153l1-7 1 3 1 2 1-3 1 1 1 12M17 383l1 13 1-15M110 220l1 12 1-5 1-11M195 158l1-6 1 8M197 160l1-3 1-4 1 13M218 192l1 11 1-4M9 300l1-14 1-18 1 4 1-2 1-8 1 4 1 3 1 10 1-9 1-1 1-13 1 3 1 10 1-2 1-8 1 7 1-9 1 20 1 4 1 4 1 17M43 361l1 29 1-9 1-9M47 367l1 25 1-17M50 367l1 22 1 3 1-17M57 366l1 21 1 3 1-5 1 7 1 6 1 5 1-2 1-7 1 6 1-13 1-17M76 365l1 4 1-4 1-33M131 166l1-12 1 8M179 196l1 12 1 7 1 4 1 7 1 0 1-6 1-11 1-9M188 198l1 9 1 6 1-6 1 5 1 0 1-2 1 6 1-8 1 1 1-9M54 286l1-12 1 7 1-21 1 14 1-8 1 20M80 267l1-14 1-17 1 0 1-9 1-12 1 4 1 13M111 224l1 2 1 0 1 11 1-9 1-4 1 0 1-4 1-7M120 209l1 8 1 4 1 9 1-1 1 1 1-12 1-1 1-5M155 205l1 9 1 0 1 0 1-9M159 205l1 4 1 7 1 6 1 3 1 1 1-2 1-6 1-10 1 0 1 4 1-1 1-1 1 1 1-1 1-9M38 301l1-17 1 6 1-9 1 15M43 302l1-14 1-24 1 7 1 15 1 6M81 256l1-16 1 7M136 160l1-7 1 0 1-1 1-2 1 3 1 5M143 157l1-7 1 3 1 7M0 413l1-2 1 3 1-10 1 20 1 0 1-5 1-5 1 0 1-10 1-7 1-12 1-9M64 361l1 20 1-2 1 12 1-11 1 2 1-7 1-3M137 207l1 9 1-4 1-12M143 195l1 15 1-1 1 2 1 4 1 1 1 4 1 4 1-6 1-7 1-2 1-14M0 403l1-8 1-9M83 306l1 2 1 1 1 2 1 2 1-13 1-15 1 1 1-9 1-14M106 224l1 14 1 13 1-1 1 1 1 1 1-13 1-6 1-10M157 203l1 9 1 1 1 1 1 1 1-3 1-3 1-3 1-4M165 202l1 4 1 2 1 11 1-8 1 3 1 3 1-6 1-1 1 3 1-8 1-6M52 291l1-18 1 6 1 10M74 295l1-22 1-2 1 15M78 283l1-20 1-23 1-3 1 15M119 212l1 7 1-2 1 2 1-2 1 0 1 3 1-1 1-8M129 207l1 6 1 5 1-5 1 7 1-6 1 6 1 1 1 1 1 1 1 5 1-5 1-12M195 159l1-3 1-3 1-3 1 8M202 158l1-8 1 1 1 12M29 377l1 18 1-4 1-21M65 292l1-15 1 16M97 255l1 13 1-13 1-18M156 202l1 11 1-13M79 280l1-26 1-7 1-21 1 11 1 3M86 228l1-23 1 1 1 12 1-1M90 217l1-11 1-1 1 5M105 186l1-9 1 12M141 209l1 3 1 0 1 9 1-16M3 377l1 14 1-1 1-1 1 2 1-1 1 13 1 11 1-13 1-12 1 0 1 5 1 3 1 15 1-12 1 2 1 6 1-3 1 15 1 4 1 2 1 5 1-14 1-11 1-14 1 11 1 2 1 1 1 5 1-12 1-14M50 290l1-7 1 2 1 7M88 232l1-16 1-9 1 10M123 170l1-11 1 2 1 3M140 209l1 6 1-3 1 9 1-4 1-1 1 4 1-7 1 2 1-6 1 6 1-3 1-8M167 193l1 13 1 11 1 0 1 8 1-3 1 0 1-1 1-2 1 1 1 4 1-7 1-7 1-13M15 383l1 3 1 7 1-26M137 210l1 8 1-5 1-2M27 363l1 33 1 1 1-18M30 379l1 12 1 13 1 8 1 6 1 1 1-8 1 5 1-8 1 7 1 0 1 2 1-7 1 15 1-25 1 3 1 1 1-9 1-3 1 4 1-8 1-1 1-2 1 10 1-13 1-11M59 378l1 18 1 2 1-5 1-14M113 219l1 9 1-3 1 8 1-1 1 4 1 1 1 1 1 0 1 1 1-2 1 4 1-13 1-1 1-15M127 212l1 6 1-8M129 210l1 10 1 1 1 8 1-1 1 1 1 10 1-10 1 2 1-9 1 4 1 2 1 2 1-6 1-5 1-3 1-2 1-1 1 0 1 1 1 1 1-2 1 3 1-6 1-3 1-8M162 160l1-12 1 5 1 7M172 160l1-14 1 2 1 3 1-5 1-1 1 5 1 9M14 379l1 13 1-5 1-16M75 364l1 17 1 2 1 6 1-32 1-23M110 183l1-11 1-3 1-6 1 4 1 3M186 205l1 8 1-1 1 6 1-3 1-8 1-2M193 206l1 5 1 7 1-7 1-3 1-5M7 379l1 11 1 11 1-8 1 12 1-8 1-10 1 18 1-18 1-4M16 383l1 6 1 9 1 17 1-19 1-15M22 381l1 9 1-9M24 381l1 11 1 4 1-18M39 361l1 26 1 13 1-16 1 14 1-5 1 16 1-21 1-7 1 0 1 7 1 2 1-7 1 12 1-8 1-10M74 358l1 16 1 12 1-15 1-1 1-17 1-26M97 242l1 15 1-1 1-5 1-8M155 202l1 13 1-6 1 7 1 2 1 5 1 1 1-5 1 4 1-10 1-1 1-5 1 0 1-7M201 198l1 9 1-11M206 192l1 16 1 4 1-6 1 4 1 1 1 13 1 4 1-4 1-4 1-5 1-6 1 0 1-6 1 3M10 304l1-17 1-8 1 17M26 300l1-22 1 17M75 362l1 12 1 16 1 1 1-35 1-21M85 288l1 8 1-6 1 2 1-14M91 273l1 5 1-10 1-2 1-5M58 358l1 25 1 4 1 5 1-19M68 375l1 2 1 11 1 8 1 5 1 7 1-5 1-4 1 13 1-8 1 9 1-11 1-30 1-10 1-12 1-9 1 0 1-3 1-19 1-21 1-1 1 4 1-18 1-10M92 269l1 5 1-10M169 164l1-13 1 1 1-11 1-1 1 10 1-1 1-9 1 10 1 1 1 6M179 157l1-7 1-3 1 6 1-1 1 9M7 376l1 22 1-18M9 380l1 14 1-8 1-8M82 250l1-18 1 1 1 15M86 237l1-18 1-1 1-1 1 1M90 218l1-8 1-12 1 2 1-4 1 16M0 286l1-1 1-8 1 6 1-4 1 21M9 300l1-28 1 5 1-2 1-15 1 0 1-3 1-7 1 4 1 6 1-4 1-4 1 3 1-1 1-3 1 14 1 16 1 7 1 15M160 162l1-10 1-6 1 2 1 3 1-4 1-2 1 3 1 4 1 3M5 300l1-9 1-12 1 3 1 17M11 292l1-15 1-3 1-6 1 7 1-13 1-2 1 20 1 12M36 304l1-15 1-5 1-15 1 15 1 12M54 363l1 20 1 2 1 1 1-9M64 377l1 2 1 14 1 7 1-16 1-11M71 363l1 29 1-15 1-8M75 355l1 15 1-5 1 17 1-22 1-32M93 263l1 3 1-3 1 24 1-9 1 2 1-7 1-7 1-11 1-2 1 7 1-12 1-2 1 5 1-13 1-1 1-12M164 204l1 3 1 5 1 4 1-4 1-5 1 2 1 1 1-11M186 159l1-8 1-7 1 3 1 7 1-3 1 10M215 195l1 8 1-1 1 5 1-4 1 8M0 262l1 9 1 7 1 0 1 1 1 7 1 15M26 385l1 11 1-22M29 386l1 11 1-10M41 375l1 16 1-11 1-2M44 378l1 7 1 1 1-3 1 3 1 2 1 3 1-15M123 168l1-5 1-10 1-4 1-3 1-7 1-9 1 5 1 6 1 6 1 16M53 291l1-19 1-5 1-4 1 4 1-6 1 2 1-7 1 8 1-6 1 8 1 46M99 237l1 17 1 3 1-5 1 2 1-19M166 160l1-7 1-10 1-5 1-7 1 4 1 11 1 8M33 383l1 8 1 6 1-4 1-2 1 0 1 4 1-15M150 190l1 16 1 2 1 2 1-12M160 202l1 8 1 1 1 3 1 2 1-7 1 3 1 4 1-1 1-4 1-5 1 6 1-4 1-4M173 204l1 6 1 4 1 4 1-7 1 6 1-9 1-6M182 203l1 8 1 6 1-6 1-9M5 381l1 18 1 14 1 0 1-13 1-4 1-1 1 8 1-14 1 0 1-26M78 302l1-39 1-10 1-14 1-11 1-8 1-10 1-7 1-1 1 7 1 9 1 2M91 219l1-13 1-1 1-1 1 5M109 178l1-15 1 1 1-2 1 0 1 2 1 3 1-4 1-1 1-5 1 3 1-3 1-2 1 5 1 9M123 169l1-6 1-4 1 6M210 156l1-4 1-2 1-5 1-6 1 18M215 157l1-9 1-5 1 1 1 4 1-2M18 291l1-12 1-3 1 5 1 7 1-9 1-7 1 9 1 0 1 9 1 5M158 157l1-15 1-1 1 2 1 6 1-3 1 5 1 0 1 6M194 198l1 10 1 9 1-9 1-11M27 294l1-31 1 27 1 11M31 306l1-21 1 0 1-15 1-8 1 1 1-7 1-11 1-4 1 16 1 17 1 20M79 288l1-30 1-3 1-25 1 14M83 244l1-14 1-2 1-8 1-4 1-5 1 1 1 16M106 225l1 13 1 0 1-2 1-8M110 228l1 9 1-7 1-2 1 3 1 2 1 1 1-12 1-1 1 3 1-1 1-5 1-8M164 202l1 9 1 5 1 6 1-3 1-7 1 0 1-1 1-8M177 195l1 15 1 4 1 7 1-10 1-6M186 200l1 8 1 5 1 4 1-10 1-3M201 158l1-6 1 9M0 402l1 6 1-16 1-6M3 386l1 5 1 0 1-12M72 291l1-11 1-3 1 4 1 29M79 287l1-43 1-8 1-2 1 5 1-1M115 218l1 7 1 5 1-10 1-7M121 216l1 3 1 4 1-10M152 205l1 5 1 3 1 12 1 4 1 1 1 5 1-3 1-2 1-6 1-8 1 2 1-3 1 0 1 1 1 1 1 2 1-3 1-4 1-14M179 201l1 9 1-8M215 199l1 8 1 2 1 3 1-9 1 3M0 257l1 2 1 6 1-12 1 12 1 9 1 8 1 0 1 8 1 0 1-6 1 0 1 1 1-7 1-1 1 21M22 293l1-11 1 20M71 364l1 18 1 14 1-7 1-7 1-4 1 1 1 3 1-28 1-23M82 310l1 11 1-14 1-9M86 293l1 10 1-3 1-6 1 7 1-5 1-13 1-6 1 3 1-13 1-11M102 239l1 9 1-2 1-4 1-8M106 234l1 6 1-11M108 229l1 6 1 9 1-10 1-5 1-14M132 205l1 11 1-1 1 8 1 0 1-11 1-7M156 205l1 2 1 4 1 3 1-6 1-1 1-11M180 160l1-8 1 1 1 0 1 1 1-6 1 13M191 161l1-12 1 3 1-3 1-6 1 0 1 12 1-3 1 5 1 4M34 303l1-18 1-5 1-2 1 18M41 300l1-15 1 5 1 13M44 303l1-14 1-5 1 5 1 18M48 307l1-26 1-12 1 3 1-4 1 16 1 3M219 158l1-13M0 290l1 15M23 385l1 5 1 2 1 16 1-12 1 3 1 2 1 3 1 21 1 14 1 0 1-8 1-4 1-12 1-7 1 7 1-11 1-6 1 10 1-9 1-33M49 378l1 10 1 2 1-1 1 3 1-17M75 365l1 18 1 1 1-30M129 167l1-10 1 1 1 0 1-15 1 3 1-1 1-2 1 4 1-2 1 7 1-1 1 3 1 1 1 13M147 157l1-6 1 0 1 5M64 352l1 36 1 0 1 15 1-9 1-3 1-10 1-23M74 372l1 26 1 1 1 2 1 10 1-30 1-38 1-8 1-10 1 3 1-8 1-6 1 4 1-11 1-2 1-9 1-18M100 247l1 7 1 2 1-13 1-3 1-2 1 1 1-5 1 11 1-4 1-5 1-10M111 226l1 7 1-8 1-4M151 155l1-6 1-3 1-10 1-2 1 8 1-6 1-3 1 5 1-1 1 7 1 10M11 380l1 9 1-20M31 297l1-16 1-13 1-4 1-12 1 16 1 5 1 3 1 5 1-10 1-7 1 0 1 5 1 6 1-4 1-4 1-14 1 3 1 8 1 5 1 7 1 14M85 245l1-22 1 7M189 156l1-9 1 5 1 5M192 157l1-7 1 4 1-5 1-4 1 7 1 11M0 430l1 2 1-20 1-4 1-18 1-6M5 384l1 15 1 1 1 1 1-12 1-10M10 379l1 12 1-7M12 384l1 5 1 1 1 4 1-10 1 0 1-22M58 371l1 13 1-2 1 3 1 5 1-31M72 359l1 16 1 12 1 2 1-13 1-8 1-9 1-19M100 202l1-14 1-7 1 14M178 201l1 7 1 3 1 3 1-2 1 2 1-7 1-10M194 206l1 4 1 10 1-2 1 9 1-7 1-3 1 0 1 1 1-9 1 2 1-4 1 2 1-11M36 381l1 8 1 10 1-3 1-5 1 3 1 0 1-10 1 0 1 5 1-14M76 348l1 31 1-11 1-20M84 304l1 6 1-12 1 1 1 5 1-7 1-3 1-1 1 3 1-18 1-8 1-6 1 7 1-1 1-2 1-10 1-17M177 160l1-10 1-7 1 1 1 0 1-1 1-3 1 2 1-5 1 3 1-1 1 4 1-3 1 6 1-3 1-4 1 3 1-2 1 1 1-1 1-7 1 0 1 0 1-2 1-2 1 12 1 0 1-10 1 12 1-11 1-2 1 0 1 1 1 2 1-3 1 6 1-3 1 4 1 10 1-6 1-1 1-4 1-1 1 5M3 301l1-11 1 1 1 14M71 358l1 26 1-21M75 365l1 10 1 2 1 5 1-34M100 247l1 4 1-4 1-8M105 233l1 6 1-10M129 162l1-4 1-2 1-5 1 3 1 2 1 0 1-6 1 0 1 1 1-3 1 0 1-1 1-5 1 5 1 12M3 299l1-9 1 13M95 213l1-14 1-9 1 5 1 2M99 197l1-4 1-4 1 0 1-12 1 8 1 7M132 205l1 8 1-1 1 0 1 9 1-1 1 4 1-8 1 2 1-2 1-2 1-6M146 207l1 11 1-5 1-8M9 296l1-22 1-21 1 8 1 7 1-7 1 2 1-3 1 14 1 5 1 7 1 5M39 292l1-6 1-15 1-4 1-1 1-13 1-10 1-4 1 13 1-7 1 1 1 5 1 0 1-2 1 19 1-4 1 6 1-16 1 18 1-20 1 1 1 5 1 13 1-14 1 2 1-8 1 5 1-9 1 7 1 3 1 6 1 8 1-20 1 4 1 22 1 16M129 208l1 9 1-13M135 209l1 3 1 8 1 1 1-1 1 2 1-4 1-4 1 4 1 0 1 4 1-2 1-4 1 1 1-10 1-11M28 295l1-9 1-4 1-2 1-5 1 20M33 295l1-17 1 9 1 7M42 295l1-5 1-11 1-5 1-4 1 9 1-1 1 2 1 21M137 206l1 11 1-7M189 158l1-8 1-1 1 3 1-1 1-3 1 4 1 4 1 4M74 371l1 9 1-4 1-17M77 359l1 2 1-29M154 158l1-6 1-9 1-6 1-2 1 9 1 13M21 310l1-25 1-6 1-10 1 15 1-10 1 13 1 4M30 312l1-29 1 28M73 293l1-19 1 13M88 223l1-9 1 1 1-6 1 0 1 7M202 163l1-11 1-1 1-6 1-1 1-1 1 4 1 1 1-3 1-4 1 2 1-4 1 8 1 3 1 4M216 154l1-12 1 8 1-1 1 6M75 355l1 16 1 1 1 1 1-27M87 277l1 14 1-11M90 278l1-1 1 0 1-1 1 14 1-10 1-12 1-3 1 8 1-6 1-10 1-4 1-8 1-5M103 240l1 6 1 4 1-16M112 212l1 13 1 4 1-8M122 206l1 13 1 4 1 1 1-6 1-2 1 1 1 4 1-4 1-4 1-5M29 310l1-27 1 5 1-1 1 13M36 291l1-16 1 7 1 16M86 231l1-7 1-4 1-9 1-12 1-13 1 5 1-2 1-8 1 8 1 21M101 199l1-16 1-10 1 19M166 156l1-3 1-11 1 6 1-1 1-2 1 5 1 9M174 155l1-10 1 6 1-3 1 1 1 13M199 202l1 14 1-8 1-11M205 200l1 6 1-1 1 6 1 6 1 3 1-6 1-12 1-5M4 302l1-15 1 4 1 7M65 289l1-16 1-16 1 13 1 6 1-9 1 8 1-11 1 4 1-11 1 10 1 3 1 5 1-2M112 179l1-9 1-9 1 4 1 0 1-2 1-6 1 2 1-5 1 5 1 4 1-6 1-2 1 8 1 7M149 155l1-5 1 8M199 198l1 13 1 4 1-2 1 0 1 2 1 0 1 4 1 3 1 7 1-9 1 4 1-12 1-4 1-3 1 2 1-4 1 1 1-2 1-3M114 221l1 6 1-4 1 0 1-1 1-2 1-2 1-5M122 213l1 11 1-1 1-1 1-3 1-7M140 211l1 2 1 4 1-6 1-5M147 205l1 9 1-1 1 1 1 3 1-5 1-2 1 1 1 5 1-6 1-1 1-11M161 201l1 9 1-9M172 188l1 17 1 3 1-5M179 200l1 9 1-8M189 199l1 12 1-2 1-9M201 202l1 5 1 0 1-3 1 2 1 0 1-6M207 200l1 6 1-3 1-6M87 227l1-12 1-17 1 2 1-4 1 0 1 0 1-9 1 6 1 13M96 206l1-12 1-8 1-4 1-4 1 2 1 8 1 1M179 156l1-13 1 1 1 2 1 10M29 297l1-11 1 2 1 12M72 298l1-16 1-3 1 6M132 169l1-13 1-1 1-4 1-1 1 9M69 371l1 5 1 7 1-7 1 20 1-16 1 12 1-7 1-11 1 3 1-21 1-26M99 243l1 5 1-2 1 1 1-3 1-4 1-2 1 7 1-2 1 11 1-12 1 1 1-2 1-8 1 12 1-12 1-10 1-6M116 217l1 3 1 9 1-4 1 0 1-8 1 5 1 11 1-5 1-4 1 6 1-6 1-5 1 8 1-4 1-6 1 2 1-5 1-6M136 208l1 6 1 6 1 3 1-7 1-7M201 161l1-9 1 6M203 158l1-8 1 15M16 370l1 22 1 8 1 8 1 6 1-25 1 5 1 6 1-10 1-14M164 203l1 10 1-3 1-7M186 170l1-15 1-1 1-1 1-6 1 9M212 152l1-6 1 12M12 384l1 7 1 3 1-22M20 383l1 8 1 2 1-10M23 383l1 9 1 2 1 2 1 13 1 0 1 1 1 11 1-7 1-18 1 8 1 18 1-23 1-1 1-2 1-15M79 289l1-35 1-3 1 0M102 192l1-6 1-7 1 6M205 198l1 8 1 1 1-3 1-1 1 2 1 3 1 2 1-6 1-7M214 197l1 8 1 6 1 11 1-7 1 4 1-3M11 373l1 16 1-25M32 379l1 7 1 11 1 1 1-15M36 383l1 11 1-8 1-11M85 290l1 6 1-6 1-3 1 2 1-13M91 273l1-1 1 0 1 2 1 4 1-3 1-20M102 235l1 10 1-1 1-8M157 167l1-15 1-7 1 4 1 10M28 297l1-12 1 18M36 302l1-17 1-5 1 13M41 299l1-15 1 14M57 292l1-10 1-11 1 3 1 9M28 294l1-13 1 6 1 21M76 368l1 15 1-4 1-38M200 158l1-9 1-3 1 8 1 1 1 2M218 156l1-11 1 4M22 300l1-17 1 16M50 365l1 22 1-5 1 13 1 3 1-7 1 5 1 5 1 10 1-6 1-14 1-3 1-4 1-5M65 358l1 20 1 10 1-1 1 0 1-18M70 369l1 9 1 3 1-5 1-15M75 372l1 11 1-5 1-22 1-21M95 208l1-13 1-7 1-2 1 9 1 8M197 206l1 1 1-1 1 4 1-8M0 283l1-17 1 12 1-4 1 5 1 6 1-7 1 19M10 295l1-15 1 2 1 19M73 285l1-6 1 7M84 234l1-10 1 14M173 204l1 0 1 9 1 5 1 2 1-13 1-2 1-4M211 153l1-6 1 4 1 0 1 11M215 162l1-13 1-6 1 2 1 1 1-6M0 385l1 11 1 2 1-14M4 385l1 7 1 3 1-12M7 383l1 14 1-1 1-2 1-10 1 5 1 11 1-4 1-18M22 381l1 25 1-12 1 8 1-9 1-4 1 2 1-1 1 19 1 16 1-10 1-1 1 7 1 1 1-9 1 4 1 3 1-14 1-22 1 7 1 8 1-9 1-5 1 6 1 1 1-2 1-6 1-1 1-12M50 371l1 26 1-15 1-11M53 371l1 9 1 18 1 2 1 8 1-9 1-2 1 9 1 0 1-9 1-7 1 17 1-17 1-10 1-7M71 373l1 5 1 15 1-2 1 2 1-17 1 5 1-18 1-13 1-26M98 204l1-8 1-2 1-10 1-7 1-17 1 5 1-6 1 6 1-2 1 2 1-8 1 2 1-2 1 3 1 4 1 8M143 209l1 1 1 4 1-5 1 1 1 1 1 4 1-4 1-7M156 201l1 11 1-6 1-3M174 199l1 12 1-8M0 290l1 12M1 302l1-14 1-14 1 25M5 295l1-14 1 1 1-11 1 7 1-15 1 6 1 1 1-5 1 3 1 6 1-21 1 15 1-5 1-11 1 0 1 2 1 6 1 11 1-3 1-9 1 5 1-14 1 1 1 14 1-1 1 3 1-8 1-6 1 18 1-3 1 3 1 1 1-19 1 7 1-1 1 8 1-13 1 0 1 7 1 10 1 9 1 9 1-1 1-6 1-7 1-11 1 2 1-21 1 14 1 24 1-16 1-6 1 8 1-15 1 1 1 19 1-11 1-9 1-1 1 13 1 9 1 1 1-2 1-4 1 2 1-18 1 2 1-14 1 7 1-1 1-3 1 5 1 3 1-17 1-10 1-1 1-11 1 8 1 4 1 5M109 177l1-9 1 1 1-4 1 19M165 154l1-8 1 6 1-2 1 1 1 1 1-3 1 11M70 287l1-11 1-8 1-11 1 5 1 10 1-5 1-1 1-11 1-7 1-16 1-3 1-5 1 3 1-1 1-6 1 1 1 3 1-2M88 222l1-8 1-5 1 12M105 185l1-3 1-6 1-1 1 3M143 160l1-13 1-3 1 5 1 2 1 3 1 4M151 161l1-9 1-3 1-2 1 3 1 2 1 5M181 205l1 3 1 4 1-6 1 5 1 1 1 0 1-14M212 154l1-7 1-5 1 12M215 154l1-5 1-9 1 7 1 1 1-2M3 386l1 6 1-15M7 385l1 2 1 5 1 5 1-9 1 8 1-10 1-9M46 294l1-6 1-11 1 1 1-5 1-7 1 14 1 22M79 280l1-28 1 1 1 2M107 182l1-12 1-11 1 3 1-2 1-8 1 6 1 8 1 5M116 174l1-8 1-8 1 0 1 10M173 203l1 5 1 5 1-11M193 207l1 3 1 4 1 5 1-2 1-5 1 1 1-10M96 250l1 15 1 5 1-6 1-7 1-6 1 2 1-1 1 2 1-11 1-9M106 234l1 2 1 0 1-11M216 152l1-3 1-6 1 3 1 7M7 294l1-12 1-4 1-2 1 7 1 17M19 296l1-18 1 6 1 2 1 11M28 293l1-6 1 0 1-9 1 1 1 13M46 374l1 15 1-5 1 10 1-8 1-8M52 367l1 14 1-1 1 14 1 1 1-5 1-5 1 0 1-14M60 371l1 19 1 0 1 3 1-6 1 5 1 0 1-1 1-16M202 159l1-4 1-4 1-3 1 6M208 157l1-8 1-14 1 0 1 5 1-2 1-5 1 6 1 0 1-4 1 2 1 2 1 0M13 295l1-19 1 18M34 294l1-15 1-2 1 8 1 12M38 297l1-13 1 17M42 298l1-13 1-13 1 6 1-7 1 14 1-14 1 4 1 14M53 296l1-12 1-4 1 7M62 285l1-15 1-4 1-9 1 5 1-4 1 2 1-7 1 6 1 0 1 1 1-12 1 12 1 6 1 11 1-3 1 19M96 212l1-12 1-12 1-6 1 3 1 9M105 186l1-5 1-5 1 10M115 170l1-9 1 5 1-1 1-8 1 0 1 2 1 5M150 194l1 18 1-2 1 3 1 7 1-6 1-6 1-3M175 153l1-8 1-7 1 5 1 2 1-4 1-1 1-2 1 5 1-1 1 11 1 5M10 302l1-18 1 3 1 10M14 290l1-15 1-12 1 11 1-1 1 10 1-3 1 14M25 302l1-14 1-12 1 8 1-4 1-7 1-30 1 7 1 8 1-3 1 5 1 8 1 15 1-8 1 6 1 6 1 4M113 217l1 8 1 13 1-1 1-12 1-10M195 157l1-4 1 2 1 15M213 199l1 3 1 9 1 1 1-11 1 8 1-3 1-4M19 384l1 1 1 1 1 14 1-4 1-9 1-11M26 385l1 18 1-29M50 378l1 2 1 3 1 7 1-2 1-4 1 12 1-10 1 7 1 13 1-17 1-7 1-9M65 374l1 12 1-7 1-1 1-7M93 263l1 10 1-5 1 9 1-6 1-17 1 0 1-13M145 164l1-22 1-6 1 7 1 1 1-2 1 3 1-9 1 8 1 3 1-1 1 4 1 7M193 205l1 3 1 9 1-15M28 387l1 6 1 10 1-19M33 382l1 12 1-9 1-12M89 275l1 5 1 7 1 3 1-3 1-4 1 0 1 3 1-5 1 5 1-8 1 4 1-7 1-10 1-4 1-3 1-4 1-9 1-1 1 1 1-4 1-9 1-15M123 214l1 6 1-7M125 213l1 8 1-3 1 1 1-4 1 6 1-9 1 1 1 2 1 1 1 4 1 0 1 6 1-3 1-4 1-5 1-1 1-1 1-2M202 159l1-7 1-5 1 4 1 2 1 2M210 154l1-7 1-2 1 3 1 6M2 304l1-14 1 13M62 287l1-6 1-8 1-4 1 7 1 17M68 289l1-15 1 5 1 25M98 199l1-7 1 9M72 284l1-12 1 0 1 19M117 168l1-4 1 1 1-4 1-6 1 5 1 5M124 166l1-7 1-3 1 0 1 5 1-16 1 3 1 7 1 0 1 2 1 3M137 156l1-8 1-3 1 6 1 1 1 6M146 160l1-12 1 11M149 157l1-7 1 2 1 5M162 160l1-10 1-4 1-2 1 7 1-2 1-7 1-4 1 3 1 1 1-10 1 6 1 5 1 0 1-4 1 11 1 4M208 195l1 10 1 2 1 0 1-6 1 6 1 8 1-2 1-2 1 3 1-12 1-7M23 291l1-13 1-3 1 2 1 4 1 15M30 295l1-22 1 2 1 0 1 21M38 291l1-6 1 1 1 15M79 281l1-24 1-15 1 2 1-7 1-6 1 7M86 232l1-19 1 0 1 3 1 6M90 222l1-11 1-9 1-1 1-8 1 1 1-10 1 4 1 1 1 2 1 4M104 187l1-7 1 1 1 2M121 174l1-13 1-1 1-2 1 5 1 2M152 198l1 9 1 0 1 5 1-12M162 198l1 12 1-7M164 203l1 10 1-11M166 202l1 9 1 2 1 6 1-5 1 1 1 8 1-2 1-6 1 3 1 7 1 7 1-5 1-3 1 11 1-7 1 5 1-1 1-5 1 3 1 4 1 0 1 5 1-9 1 5 1 3 1 1 1-1 1-7 1-7 1-6 1 10 1-1 1 2 1-3 1 2 1-7 1 2 1 1 1-1 1-4 1-3 1-12 1-13M26 375l1 18 1 11 1-5 1-7 1-13M41 367l1 22 1-2 1-11M44 376l1 16 1-25M50 372l1 17 1-1 1 11 1 6 1 1 1-2 1-12 1-9 1 4 1-15M60 372l1 16 1-1 1-13M65 377l1 4 1-19M97 241l1 14 1 6 1-5 1-16M139 162l1-10 1-8 1 0 1 2 1 3 1-2 1 5 1 1 1 0 1 7M3 386l1 13 1-12 1-11M40 377l1 12 1 6 1 9 1 13 1 8 1-2 1-9 1-17 1 16 1 8 1-3 1 8 1 3 1-1 1-3 1 2 1 1 1-3 1-11 1-3 1 9 1 11 1-26 1 12 1-10 1-12 1 2 1-9 1-7 1-10M76 364l1 4 1-11 1-28M92 215l1-13 1 4 1-16 1 8 1-2 1 4M194 206l1 5 1 2 1 5 1-3 1-2 1-3 1-17M0 426l1-8 1-22 1 6 1-9 1 12 1-8 1-26M14 369l1 15 1 6 1-3 1-28M56 294l1-26 1-9 1-2 1 11 1 28M64 283l1-5 1 6M67 284l1-3 1-5 1 17M77 358l1 3 1-38M91 219l1-11 1-6 1 2 1 6M210 194l1 9 1 1 1 5 1-10M18 295l1-14 1 0 1-6 1-9 1-3 1 14 1-3 1-1 1-5 1 23M49 364l1 28 1-1 1-8 1-11M53 372l1 13 1-11M66 369l1 13 1-14M177 159l1-14 1 1 1 8M28 386l1 11 1-8 1 18 1-4 1-1 1-5 1-10 1 2 1 10 1 15 1-3 1-14 1-10 1-14M86 229l1-15 1 5 1 21M93 217l1-12 1-2 1-3 1-14 1 14M98 200l1-7 1-6 1-2 1-6 1 1 1-9 1-2 1-3 1-7 1 3 1 0 1-1 1-8 1 2 1-9 1-1 1 6 1-1 1-6 1 1 1 15 1-3 1 0 1 5 1 10M184 198l1 11 1 11 1-4 1-2 1 5 1-1 1-6 1 4 1 4 1-1 1 4 1-6 1-3 1-2 1-2 1-1 1-2 1-9M204 200l1 10 1 0 1-10M211 198l1 11 1-9M216 200l1 1 1 5 1-7 1-2M18 299l1-14 1-11 1 13 1 4M80 268l1-26 1-3 1-4 1 3M85 239l1-13 1-13 1-3 1-15 1 5 1-4 1 8 1 5M153 203l1 7 1 1 1-9M23 292l1-10 1 13M79 288l1-33 1-10 1-6 1 3M154 196l1 11 1 6 1-7 1-7M174 198l1 13 1 5 1-2 1 1 1-1 1 1 1 10 1-11 1-1 1 3 1 3 1-3 1 9 1 5 1 1 1-5 1-16 1 0 1 4 1-5 1 0 1-3M199 205l1 3 1 0 1-9M83 301l1 11 1-2 1-5 1 3 1-2 1-10 1-7 1 13 1-11 1-16 1-11M122 214l1 9 1-4 1-5M197 165l1-12 1-3 1-6 1 7 1-5 1-4 1 10 1 0 1-5 1 9M15 306l1-32 1 17M202 161l1-12 1 2 1-1 1 7M217 156l1-8 1-4 1 8M68 368l1 9 1 6 1-33M79 293l1-42 1-3 1 2M100 203l1-13 1-13 1-5 1-2 1 3 1-13 1-1 1-1 1-9 1-1 1-1 1 7 1 6 1 10M122 164l1-5 1-3 1 17M161 160l1-7 1-5 1 6M190 199l1 14 1-1 1-4 1 7 1-4 1 3 1-10M26 299l1-15 1-1 1-16 1 14 1 3 1-3 1 6 1-15 1 13 1-17 1-11 1-9 1 20 1-8 1-16 1-8 1-8 1 4 1 1 1-5 1 15 1 7 1-20 1-7 1-1 1 13 1 8 1-9 1-8 1 15 1 11 1 0 1 2 1 2 1 0 1 2 1 15 1-8 1 6 1-9 1 10 1 1 1 2 1 20M139 208l1 13 1-6 1 3 1-2 1 0 1 0 1-10M157 204l1 4 1 4 1-5 1-1 1-13M205 196l1 12 1 5 1-3 1-6 1 1 1-2 1 2 1-4 1 3 1-9M28 383l1 12 1 10 1-11 1 3 1 2 1 11 1-4 1 19 1-15 1 3 1 5 1 4 1-6 1 0 1 8 1-6 1 0 1 3 1 1 1 4 1-6 1 10 1 3 1-4 1-11 1 8 1 0 1-16 1-5 1-21 1 1 1 7 1-13 1-3M62 376l1 9 1-1 1-14M67 368l1 8 1 2 1 2 1 7 1-8 1-10M74 357l1 21 1 18 1-10 1-14 1-11 1-30M83 308l1 7 1-9 1-7 1-14M90 271l1 14 1-6 1-9 1-24M102 240l1 6 1-10M7 300l1-12 1-4 1 8M11 298l1-19 1 5 1 10M58 291l1-18 1 1 1 10M79 293l1-36 1-5 1-6 1 2M119 170l1-10 1 7M121 167l1-6 1-6 1-3 1-3 1-5 1 0 1 4 1 2 1 11M132 161l1-6 1-5 1 1 1-1 1 4 1 6M47 290l1-15 1-16 1 26 1-18 1-12 1-1 1-4 1 8 1-7 1 3 1 14 1 0 1 1 1 6 1-4 1 7 1-12 1 4 1-19 1-7 1 11 1-6 1 1 1-1 1 2 1 6 1-3 1 15 1 7 1-12 1-5 1-8 1-29 1 0 1 6 1 15M83 243l1-16 1-7 1 4 1 9M94 221l1-21 1 6M96 206l1-6 1-11 1-2 1 10M111 225l1 3 1 3 1-10M115 217l1 9 1-7M117 219l1 9 1-8 1-2 1-4M166 157l1-8 1-6 1-1 1 6 1-8 1-6 1-7 1 6 1 7 1 4 1-6 1 12 1-3 1 4 1 10M213 191l1 10 1 2 1 2 1-3 1-3M0 242l1-5 1 7 1-5 1 7 1 2 1 16 1-6 1 7 1 12 1-3 1 16 1-2 1 6M13 294l1-12 1-8 1 7 1 13M17 294l1-13 1 1 1 3 1 11M44 364l1 26 1-7 1 0 1-9M65 288l1-15 1 3 1 11M70 284l1-10 1-4 1-2 1 2 1-5 1 21M79 279l1-29 1-9 1-13 1 7 1 8M92 266l1 5 1-2 1 4 1-4 1-4 1-8 1-21M184 161l1-11 1 11M14 371l1 16 1 5 1 4 1-7 1-8M49 312l1-27 1-31 1 5 1-4 1 9 1 11 1 24M84 238l1-15 1 8M107 233l1 4 1-9M113 219l1 5 1-2 1 5 1-7 1-12M178 198l1 16 1-8 1-2M194 207l1 6 1-12M9 379l1 14 1 11 1-17 1 10 1 5 1-17 1 14 1 11 1 0 1-8 1-5 1-9 1 10 1-2 1-2 1 8 1-12 1-16M41 374l1 7 1 18 1-1 1-15 1-21M160 202l1 7 1-3 1-1 1-6M181 159l1-8 1 2 1-2 1-4 1 2 1 10M62 378l1 5 1-3 1 2 1-3 1-1 1-16M69 365l1 17 1 10 1-10 1-16M75 369l1 3 1 6 1-8 1-26M104 239l1 21 1-15 1-18M190 200l1 11 1 2 1 0 1-3 1 5 1 0 1-7 1-5M198 203l1 14 1-6 1-5 1-4M204 196l1 13 1-11M13 381l1 4 1 8 1 13 1-6 1 13 1-17 1 16 1-21 1-3 1 4 1 4 1-2 1 1 1 4 1-22M29 381l1 22 1 7 1-6 1-10 1-4 1-11M38 374l1 11 1 1 1-10M56 284l1-12 1-2 1 0 1 10 1 2M68 285l1-12 1 18M105 233l1 3 1 4 1 9 1-6 1-5 1 4 1-18M144 207l1 5 1 6 1 2 1-3 1-7 1 1 1 0 1 4 1-6 1-5M169 202l1 9 1-5 1 0 1 0 1-9M176 189l1 17 1 4 1 2 1-6 1 2 1 1 1 1 1-8M211 197l1 7 1 6 1-1 1-14M32 304l1-21 1 3 1-19 1 12 1 2 1 1 1 20M77 360l1 15 1-39M121 165l1-4 1-1 1-6 1 0 1-4 1 2 1 2 1-11 1 2 1-8 1 1 1 0 1 1 1-1 1-1 1 6 1-2 1 0 1-5 1 9 1-3 1-4 1 1 1-2 1 1 1-1 1-3 1-1 1 1 1 5 1 2 1-1 1-4 1-3 1-2 1 4 1 0 1 8 1-7 1 4 1-5 1 12 1 0 1-3 1-1 1 6 1 10M181 154l1-6 1 4 1 12M1 380l1 7 1 10 1 14 1-11 1-12 1-1 1 14 1-14 1 9 1 7 1-13 1-4 1 8 1 10 1-3 1-10 1 5 1 9 1 5 1-15 1 12 1-18 1-9M71 368l1 20 1-27M114 222l1 8 1 7 1 7 1-14 1-6 1-7M196 159l1-6 1 11M79 274l1-22 1-1 1-12 1-1 1 1M179 157l1-7 1 2 1-4 1 2 1 0 1-5 1 1 1-2 1-9 1 3 1-4 1 8 1 3 1-5 1 8 1 3 1-2 1 3 1 5 1 0 1 4M14 377l1 16 1-16M132 200l1 14 1 3 1 8 1-9 1-2 1 0 1-13M167 199l1 9 1 5 1 0 1 2 1 1 1-2 1-5 1-13M49 296l1-16 1-5 1 4 1 9M53 288l1-10 1-6 1-11 1 5 1 11 1 3 1 17M63 292l1-14 1 4 1 20M122 212l1 9 1 1 1-2 1-11M138 211l1 9 1 3 1 2 1-1 1 0 1-6 1-9 1-4M183 156l1-5 1-2 1-6 1-6 1 3 1 6 1 7 1 0 1 4M0 392l1-12M1 380l1 21 1 12 1-4 1 2 1-1 1-4 1-17 1-4 1-9M61 290l1-11 1-9 1 28M75 359l1 17 1-7 1-3 1-12 1-29M84 293l1 11 1-14M191 159l1-4 1-9 1 4 1 5 1 6M203 156l1-7 1 8M4 299l1-14 1 8 1 0M58 292l1-14 1 14M134 164l1-8 1-2 1-2 1-11 1 6 1-1 1-10 1 2 1-6 1-8 1 2 1 2 1 0 1 9 1 10 1 6 1 1M151 154l1-6 1 8M163 154l1-8 1 6 1-5 1 2 1-1 1 2 1-4 1 0 1 2 1 11M205 157l1-10 1-4 1-1 1-2 1-2 1 5 1 9M212 152l1-7 1 0 1 3 1-2 1 10M44 368l1 15 1-4 1 12 1-1 1 8 1 0 1 7 1 15 1-22 1-6 1-19M132 161l1-9 1-3 1-4 1-2 1 0 1 4 1 12M140 155l1-2 1-7 1-1 1 3 1-7 1-4 1-3 1 0 1-1 1 0 1 3 1-3 1 9 1 10 1-3 1-6 1 2 1-4 1 4 1 2 1 3 1 11M183 196l1 15 1-1 1-4 1 3 1 4 1 4 1-13M202 166l1-13 1 0 1-2 1-1 1 2 1-2 1-7 1 3 1-2 1-7 1-4 1 2 1-3 1 2 1 0 1 2 1 5 1 8M8 292l1-24 1-1 1 0 1-5 1-1 1 10 1 5 1 12 1-4 1 8M18 292l1-12 1 29M40 301l1-22 1 11 1 19M71 373l1 5 1-5M75 368l1 10 1 19 1-4 1-24 1-26 1-22M86 275l1 15 1 1 1-11M120 216l1 6 1 1 1-3 1-14M149 204l1 6 1 2 1 0 1 4 1 5 1 1 1 0 1-8 1 5 1-3 1-3 1-2 1-6 1 2 1-10M176 201l1 12 1-2 1 2 1 3 1-12M183 205l1 1 1 0 1 1 1 8 1-6 1-4M198 206l1 6 1-8M200 204l1 9 1-7 1 3 1 2 1-11M205 200l1 5 1 1 1 2 1 3 1-9 1 9 1 5 1-14 1 3 1-2 1-11M0 291l1 2 1 17M14 376l1 24 1 11 1-1 1-21 1-6M19 383l1 7 1-10M22 373l1 19 1-3 1-6M64 366l1 18 1 4 1 7 1 11 1-7 1-7 1 24 1-1 1 0 1 0 1 5 1-3 1 1 1-10 1-30 1-33 1-21M85 291l1 7 1-9M216 157l1-9 1-4 1 2 1-3M55 378l1 31 1-10 1 4 1-14 1 10 1-4 1-18M84 293l1 9 1 3 1-11 1 4 1 3 1-6 1-2 1-8 1-2 1-11 1-21M103 231l1 9 1 2 1-4 1-12M118 218l1 2 1 12 1-13 1 5 1 8 1 1 1-8 1-16M218 152l1-9 1 11M4 302l1-26 1-6 1-5 1-2 1 7 1 2 1 6 1-16 1 13 1-2 1 1 1-2 1 16 1 9M18 297l1-11 1-4 1 0 1 20M30 368l1 28 1-5 1-33M57 290l1-20 1-5 1 7 1 4 1 2 1 18M79 277l1-21 1 19M91 231l1-23 1-22 1-7 1 5 1-1 1 1 1 0 1-2 1-2 1 9 1 3M124 169l1-11 1 6M126 164l1-5 1-6 1-5 1 2 1 12M155 201l1 10 1 9 1 4 1-2 1-6 1-5 1 2 1 3 1 2 1-4 1-1 1 0 1 3 1 0 1-10 1-4M46 306l1-19 1-3 1 3 1 15M79 282l1-22 1-19 1-1 1-13 1-15 1 1 1 8 1 5M130 164l1-6 1-2 1-4 1-8 1 0 1-1 1-2 1 7 1-2 1 4 1 2 1 0 1-1 1-6 1 13M150 158l1-6 1-1 1-8 1-3 1-6 1 4 1-6 1 5 1 1 1 0 1-1 1 9 1 11M170 153l1-5 1-8 1-4 1 4 1-7 1 10 1-6 1 7 1 5 1 1 1 4M186 159l1-9 1 4 1-1 1-8 1-5 1 3 1 9 1 9M198 159l1-8 1-4 1 1 1-7 1 14 1-3 1 6M209 159l1-9 1-3 1-3 1-1 1 1 1 9M0 388l1 6 1-8M37 377l1 10 1 0 1 4 1 23 1-20 1-17M76 365l1 11 1-8 1-23M143 157l1-6 1 16M150 156l1-6 1-7 1 5 1 0 1 3 1 3M156 154l1-6 1 8M49 292l1-7 1-5 1 14M153 157l1-10 1-2 1 11M160 157l1-11 1 11M198 160l1-7 1 7M73 312l1-31 1 2 1 6M100 196l1-12 1 13M107 183l1-5 1-9 1-6 1 5 1-1 1-9 1 0 1-1 1-1 1-6 1 2 1-3 1-7 1 4 1 0 1 4 1 4 1 3 1 3 1 3M127 163l1-7 1-6 1 2 1 8 1-6 1-6 1 7 1 3M136 157l1-6 1 4 1 9M174 153l1-3 1 1 1-2 1-2 1 7M185 155l1-4 1-1 1 5 1-1 1 0 1 6M193 157l1-5 1 5M21 370l1 21 1 8 1-13 1-2M25 384l1 8 1-4M36 377l1 8 1 2 1 8 1 0 1-19M41 376l1 14 1-9 1-1 1-10M70 286l1-10 1 9M87 231l1-14 1-8 1-2 1 7M91 214l1-8 1 3M149 203l1 8 1-3 1-4M3 299l1-6 1 0 1-1 1-10 1-6 1 16M10 296l1-32 1 1 1 29M38 293l1-10 1 4 1-8 1 1 1 7 1-7 1-1 1 18M105 237l1 8 1-5 1-14M195 204l1 6 1 0 1 9 1-5 1 4 1-9 1-13M0 289l1 9M1 298l1-21 1 7 1 0 1 10 1-8 1 4 1-8 1 9M114 221l1 6 1-4 1-4M124 211l1 9 1 1 1-5 1-4M155 163l1-16 1 5 1-6 1 1 1-9 1 4 1 8 1 7M183 198l1 11 1-5M188 203l1 4 1 2 1 3 1-8M193 207l1 3 1 9 1-6 1 1 1-6 1-1 1-5M205 195l1 11 1-2 1-1 1-12M212 198l1 4 1 5 1 1 1-1 1 1 1 5 1-10 1 0M0 407l1 8 1 1 1-6 1-17 1-2 1-1 1-11M76 353l1 16 1-23M130 210l1 6 1-7M145 157l1-9 1-5 1-4 1 0 1 1 1 10 1 4M152 154l1-5 1-6 1 2 1 9M156 154l1-13 1 6 1-2 1 0 1 2 1 2 1 10M163 159l1-7 1-4 1 7M168 156l1-6 1-6 1 4 1-6 1-1 1-3 1 11 1 5M202 199l1 8 1-11M214 198l1 11 1-3 1-5 1-2M25 385l1 8 1 1 1 8 1-2 1 6 1-15 1-2 1-21M51 297l1-19 1-8 1 0 1-2 1 14 1-9 1 18M137 162l1-9 1-4 1 11M168 193l1 18 1-12" vector-effect="non-scaling-stroke"/><path d="M0 337L0.37 337.3L0.73 337.6L1.1 337.7L1.47 337.5L1.83 337.2L2.2 337.2L2.57 337.3L2.93 337.4L3.3 337.4L3.67 337.3L4.03 337.3L4.4 337.4L4.77 337.5L5.13 337.4L5.5 337.2L5.87 337L6.23 337L6.6 337.2L6.97 337.3L7.33 337.1L7.7 336.8L8.07 336.6L8.43 336.7L8.8 336.7L9.17 337L9.53 337.4L9.9 337.8L10.27 337.8L10.63 337.7L11 337.6L11.37 337.4L11.73 337.3L12.1 337.2L12.47 337.3L12.83 337.3L13.2 337.4L13.57 337.6L13.93 337.8L14.3 337.9L14.67 337.9L15.03 337.8L15.4 337.4L15.77 336.9L16.13 336.5L16.5 336.4L16.87 336.2L17.23 335.9L17.6 335.7L17.97 335.5L18.33 335.7L18.7 335.9L19.07 336.1L19.43 336.3L19.8 336.4L20.17 336.4L20.53 336.3L20.9 336.2L21.27 336.3L21.63 336.3L22 336.4L22.37 336.7L22.73 336.9L23.1 337L23.47 336.8L23.83 336.6L24.2 336.5L24.57 336.6L24.93 336.8L25.3 336.8L25.67 336.9L26.03 336.9L26.4 336.7L26.77 336.5L27.13 336.3L27.5 336.2L27.87 336L28.23 335.8L28.6 335.7L28.97 335.5L29.33 335.9L29.7 336.3L30.07 336.7L30.43 336.5L30.8 336.3L31.17 336.3L31.53 336.4L31.9 336.5L32.27 336.4L32.63 336.1L33 335.9L33.37 335.9L33.73 335.9L34.1 335.9L34.47 335.8L34.83 335.6L35.2 335.5L35.57 335.4L35.93 335.3L36.3 335.5L36.67 335.7L37.03 335.8L37.4 335.7L37.77 335.7L38.13 335.6L38.5 335.5L38.87 335.5L39.23 335.1L39.6 334.6L39.97 334.1L40.33 333.8L40.7 333.6L41.07 333.4L41.43 333.4L41.8 333.5L42.17 333.6L42.53 333.8L42.9 334L43.27 333.7L43.63 333.3L44 332.9L44.37 332.8L44.73 332.7L45.1 332.6L45.47 332.5L45.83 332.4L46.2 332.1L46.57 331.7L46.93 331.3L47.3 331.4L47.67 331.6L48.03 331.8L48.4 331.6L48.77 331.5L49.13 331.4L49.5 331.3L49.87 331.3L50.23 331.2L50.6 331.1L50.97 331L51.33 331L51.7 331L52.07 331.1L52.43 331.2L52.8 331.4L53.17 331.3L53.53 330.9L53.9 330.5L54.27 330.5L54.63 330.6L55 330.8L55.37 330.6L55.73 330.5L56.1 330.3L56.47 330L56.83 329.8L57.2 329.8L57.57 329.8L57.93 329.9L58.3 329.8L58.67 329.8L59.03 329.7L59.4 329.6L59.77 329.4L60.13 329.4L60.5 329.6L60.87 329.8L61.23 330L61.6 330L61.97 330.1L62.33 329.8L62.7 329.5L63.07 329.3L63.43 329.3L63.8 329.4L64.17 329.2L64.53 328.9L64.9 328.5L65.27 328.6L65.63 328.8L66 329L66.37 328.7L66.73 328.4L67.1 328.2L67.47 328.2L67.83 328.2L68.2 328.3L68.57 328.4L68.93 328.4L69.3 328.4L69.67 328.2L70.03 328.1L70.4 328.2L70.77 328.3L71.13 328.3L71.5 328.3L71.87 328.3L72.23 328.3L72.6 328.3L72.97 328.3L73.33 327.9L73.7 328.2L74.07 328.6L74.43 329.5L74.8 330.4L75.17 331.3L75.53 332.1L75.9 332.8L76.27 333.5L76.63 334.1L77 334.8L77.37 335.6L77.73 336.5L78.1 330L78.47 323.2L78.83 315.1L79.2 306.1L79.57 297.2L79.93 288.3L80.3 285.6L80.67 282.8L81.03 280.1L81.4 277.3L81.77 274.6L82.13 272L82.5 270.9L82.87 269.8L83.23 268.5L83.6 267.1L83.97 265.7L84.33 264.5L84.7 263.2L85.07 262L85.43 260.7L85.8 259.4L86.17 258.1L86.53 256.9L86.9 255.7L87.27 254.4L87.63 253L88 251.7L88.37 250.8L88.73 249.8L89.1 248.9L89.47 247.9L89.83 246.9L90.2 245.9L90.57 244.9L90.93 243.9L91.3 242.8L91.67 241.6L92.03 240.5L92.4 239.3L92.77 238.2L93.13 237.1L93.5 236.1L93.87 235.1L94.23 234L94.6 232.9L94.97 231.7L95.33 230.7L95.7 229.9L96.07 229L96.43 228.1L96.8 227.2L97.17 226.4L97.53 225.7L97.9 224.9L98.27 224.1L98.63 223.3L99 222.5L99.37 221.6L99.73 220.8L100.1 220L100.47 219.3L100.83 218.6L101.2 217.8L101.57 216.8L101.93 215.8L102.3 215L102.67 214.1L103.03 213.6L103.4 213L103.77 212.5L104.13 211.9L104.5 211.3L104.87 210.7L105.23 210L105.6 209.3L105.97 208.6L106.33 208.1L106.7 207.6L107.07 207.2L107.43 206.7L107.8 206.3L108.17 205.7L108.53 204.8L108.9 203.9L109.27 203.3L109.63 202.8L110 202.2L110.37 201.7L110.73 201.3L111.1 200.8L111.47 200.3L111.83 199.8L112.2 199.3L112.57 198.9L112.93 198.4L113.3 198L113.67 197.5L114.03 197L114.4 196.7L114.77 196.4L115.13 196L115.5 195.3L115.87 194.6L116.23 193.8L116.6 193L116.97 192.2L117.33 191.5L117.7 191.2L118.07 190.9L118.43 190.7L118.8 190.6L119.17 190.5L119.53 190.5L119.9 190.5L120.27 190.4L120.63 190.1L121 189.9L121.37 189.7L121.73 189.4L122.1 189.3L122.47 189.6L122.83 189.8L123.2 189.8L123.57 189.7L123.93 189.5L124.3 189.2L124.67 188.8L125.03 188.5L125.4 188.2L125.77 188L126.13 187.7L126.5 187.4L126.87 187.2L127.23 187L127.6 186.8L127.97 186.7L128.33 186.4L128.7 186.1L129.07 185.8L129.43 185.8L129.8 185.8L130.17 185.6L130.53 185.3L130.9 185L131.27 184.8L131.63 184.5L132 184.3L132.37 184.3L132.73 184.3L133.1 184.3L133.47 184.3L133.83 184.2L134.2 184.2L134.57 184.3L134.93 184.3L135.3 184.4L135.67 184.4L136.03 184.5L136.4 184.4L136.77 184.2L137.13 184.1L137.5 184.1L137.87 184L138.23 184L138.6 184L138.97 184L139.33 184L139.7 184L140.07 184L140.43 184L140.8 184L141.17 184L141.53 184.1L141.9 184.2L142.27 184.1L142.63 183.9L143 183.7L143.37 183.6L143.73 183.4L144.1 183.3L144.47 183.1L144.83 182.9L145.2 182.7L145.57 182.4L145.93 182.2L146.3 182L146.67 181.9L147.03 181.8L147.4 181.7L147.77 181.7L148.13 181.6L148.5 181.4L148.87 181.3L149.23 181.1L149.6 180.9L149.97 180.7L150.33 180.6L150.7 180.6L151.07 180.6L151.43 180.5L151.8 180.5L152.17 180.4L152.53 180.2L152.9 180.1L153.27 180L153.63 179.9L154 179.8L154.37 179.7L154.73 179.7L155.1 179.7L155.47 179.7L155.83 179.7L156.2 179.7L156.57 179.8L156.93 179.9L157.3 179.9L157.67 179.8L158.03 179.8L158.4 179.7L158.77 179.6L159.13 179.7L159.5 179.9L159.87 180.1L160.23 180.2L160.6 180.1L160.97 180.1L161.33 180.1L161.7 180L162.07 179.9L162.43 180L162.8 180.1L163.17 180L163.53 179.7L163.9 179.5L164.27 179.5L164.63 179.6L165 179.7L165.37 179.7L165.73 179.8L166.1 179.8L166.47 179.7L166.83 179.6L167.2 179.6L167.57 179.5L167.93 179.5L168.3 179.6L168.67 179.7L169.03 179.7L169.4 179.6L169.77 179.4L170.13 179.3L170.5 179.4L170.87 179.4L171.23 179.4L171.6 179.4L171.97 179.3L172.33 179.3L172.7 179.2L173.07 179.2L173.43 179.1L173.8 179L174.17 179L174.53 179.1L174.9 179.2L175.27 179.2L175.63 179.1L176 179L176.37 179.1L176.73 179.2L177.1 179.3L177.47 179.4L177.83 179.4L178.2 179.5L178.57 179.4L178.93 179.4L179.3 179.2L179.67 179L180.03 178.8L180.4 179L180.77 179.1L181.13 179.2L181.5 179.2L181.87 179.3L182.23 179.1L182.6 178.9L182.97 178.7L183.33 178.9L183.7 179.2L184.07 179.4L184.43 179.4L184.8 179.4L185.17 179.5L185.53 179.7L185.9 179.8L186.27 179.9L186.63 180L187 180.1L187.37 180L187.73 179.9L188.1 179.8L188.47 179.7L188.83 179.6L189.2 179.5L189.57 179.5L189.93 179.5L190.3 179.4L190.67 179.4L191.03 179.3L191.4 179.1L191.77 179L192.13 179L192.5 179.2L192.87 179.5L193.23 179.6L193.6 179.8L193.97 179.9L194.33 180L194.7 180.1L195.07 180.2L195.43 180.3L195.8 180.4L196.17 180.3L196.53 180.1L196.9 179.9L197.27 179.7L197.63 179.6L198 179.4L198.37 179.6L198.73 179.7L199.1 179.7L199.47 179.6L199.83 179.4L200.2 179.3L200.57 179.3L200.93 179.3L201.3 179.2L201.67 179L202.03 178.9L202.4 178.9L202.77 178.9L203.13 178.8L203.5 178.5L203.87 178.2L204.23 178.1L204.6 178.1L204.97 178.2L205.33 178.3L205.7 178.3L206.07 178.4L206.43 178.4L206.8 178.4L207.17 178.3L207.53 178.2L207.9 178L208.27 177.8L208.63 177.7L209 177.6L209.37 177.7L209.73 177.7L210.1 177.9L210.47 178.1L210.83 178.4L211.2 178.4L211.57 178.4L211.93 178.3L212.3 178.2L212.67 178L213.03 177.8L213.4 177.9L213.77 178.1L214.13 178.2L214.5 178.2L214.87 178.2L215.23 178L215.6 177.7L215.97 177.5L216.33 177.3L216.7 177.1L217.07 176.9L217.43 176.9L217.8 176.9L218.17 176.8L218.53 176.7L218.9 176.7L219.27 176.6L219.63 176.5L220 176.5" stroke="#f00" stroke-width="2" vector-effect="non-scaling-stroke"/></g>
<path d="M919.9 629.4V943.1" stroke="#000" stroke-width="2.4" stroke-dasharray="7.09 7.65" stroke-dashoffset="1.27" fill="none"/>
<path d="M813.7 943.1v-3.8M813.7 629.4v3.8M840.2 943.1v-3.8M840.2 629.4v3.8M866.8 943.1v-3.8M866.8 629.4v3.8M893.3 943.1v-3.8M893.3 629.4v3.8M919.9 943.1v-3.8M919.9 629.4v3.8M946.5 943.1v-3.8M946.5 629.4v3.8M973 943.1v-3.8M973 629.4v3.8M999.6 943.1v-3.8M999.6 629.4v3.8M1026.1 943.1v-3.8M1026.1 629.4v3.8M1052.7 943.1v-3.8M1052.7 629.4v3.8M1079.3 943.1v-3.8M1079.3 629.4v3.8M1105.8 943.1v-3.8M1105.8 629.4v3.8M1132.4 943.1v-3.8M1132.4 629.4v3.8M1158.9 943.1v-3.8M1158.9 629.4v3.8M787.5 904.6h3.8M1185.1 904.6h-3.8M787.5 865.1h3.8M1185.1 865.1h-3.8M787.5 825.7h3.8M1185.1 825.7h-3.8M787.5 786.2h3.8M1185.1 786.2h-3.8M787.5 746.8h3.8M1185.1 746.8h-3.8M787.5 707.4h3.8M1185.1 707.4h-3.8M787.5 667.9h3.8M1185.1 667.9h-3.8" stroke="#6a6a6a" stroke-width="1" fill="none"/>
<rect x="787.5" y="629.4" width="397.6" height="313.7" fill="none" stroke="#4a4a4a" stroke-width="1.3"/>
<g class="tk" text-anchor="middle"><text x="787.1" y="960.1">0</text><text x="813.7" y="960.1">1</text><text x="840.2" y="960.1">2</text><text x="866.8" y="960.1">3</text><text x="893.3" y="960.1">4</text><text x="919.9" y="960.1">0</text><text x="946.5" y="960.1">1</text><text x="973" y="960.1">2</text><text x="999.6" y="960.1">3</text><text x="1026.1" y="960.1">4</text><text x="1052.7" y="960.1">5</text><text x="1079.3" y="960.1">6</text><text x="1105.8" y="960.1">7</text><text x="1132.4" y="960.1">8</text><text x="1158.9" y="960.1">9</text><text x="1185.5" y="960.1">10</text></g>
<g class="tk" text-anchor="end"><text x="781.5" y="948">0</text><text x="781.5" y="908.6">1</text><text x="781.5" y="869.1">2</text><text x="781.5" y="829.7">3</text><text x="781.5" y="790.2">4</text><text x="781.5" y="750.8">5</text><text x="781.5" y="711.4">6</text><text x="781.5" y="671.9">7</text><text x="781.5" y="632.5">8</text></g>
<rect x="932.2" y="638.5" width="244.1" height="81.5" rx="1.5" fill="#fff" stroke="#3a3a3a" stroke-width="1.4"/>
<path d="M942.2 648.8H972.9" stroke="#00f" stroke-width="1.9"/>
<path d="M942.2 679.1H972.9" stroke="#f00" stroke-width="4.2"/>
<path d="M942.2 705.6H972.9" stroke="#000" stroke-width="2.2" stroke-dasharray="10.1 2.3" stroke-dashoffset="4.5"/>
<g class="lg"><text x="983.7" y="658.5">CT prevalence</text><text x="981.2" y="687">Mean prevalence</text><text x="981.2" y="713.5">Intervention start</text></g>
<text class="num" text-anchor="middle" x="815" y="678.1">3</text>
<text class="xl" text-anchor="middle" x="966.2" y="1000.3">Time (years)</text>
<text class="yl" text-anchor="middle" transform="translate(762 775.8) rotate(-90)">Prevalence(%)</text>
</g>
<g>
<path d="M815.7 1022.8V1330.7M842.3 1022.8V1330.7M868.9 1022.8V1330.7M895.4 1022.8V1330.7M922 1022.8V1330.7M948.6 1022.8V1330.7M975.2 1022.8V1330.7M1001.8 1022.8V1330.7M1028.4 1022.8V1330.7M1055 1022.8V1330.7M1081.6 1022.8V1330.7M1108.1 1022.8V1330.7M1134.7 1022.8V1330.7M1161.3 1022.8V1330.7M789.5 1292.9H1187.5M789.5 1254.2H1187.5M789.5 1215.5H1187.5M789.5 1176.8H1187.5M789.5 1138H1187.5M789.5 1099.3H1187.5M789.5 1060.6H1187.5" stroke="#e6e6e6" stroke-width="1.1" fill="none"/>
<g transform="translate(789.1 1331.6) scale(1.81273 -0.38713)" fill="none" stroke="#00f" stroke-width="1.3" stroke-linejoin="round"><path d="M0 367L1 368L2 368L3 369L4 370L5 371L6 371L7 371L8 372L9 371L10 371L11 372L12 373L13 373L14 373L15 374L16 374L17 375L18 376L19 377L20 377L21 378L22 380L23 381L24 382L25 384L26 385L27 385L28 385L29 386L30 386L31 386L32 385L33 385L34 384L35 383L36 383L37 383L38 383L39 382L40 382L41 381L42 381L43 381L44 380L45 380L46 379L47 378L48 378L49 378L50 377L51 377L52 378L53 378L54 378L55 378L56 378L57 379L58 379L59 379L60 378L61 377L62 377L63 377L64 375L65 375L66 374L67 374L68 373L69 373L70 373L71 373L72 372L73 373L74 373L75 368L76 361L77 354L78 346L79 337L80 328L81 319L82 309L83 299L84 292L85 287L86 283L87 278L88 273L89 269L90 265L91 262L92 259L93 256L94 253L95 250L96 248L97 246L98 244L99 241L100 239L101 237L102 234L103 232L104 231L105 229L106 228L107 227L108 225L109 223L110 222L111 221L112 219L113 218L114 216L115 214L116 213L117 211L118 210L119 209L120 208L121 207L122 205L123 205L124 204L125 203L126 203L127 203L128 202L129 202L130 202L131 203L132 203L133 204L134 204L135 204L136 204L137 204L138 205L139 205L140 205L141 204L142 204L143 203L144 202L145 202L146 201L147 200L148 199L149 198L150 198L151 198L152 199L153 199L154 199L155 199L156 199L157 199L158 199L159 199L160 198L161 199L162 199L163 199L164 199L165 199L166 199L167 199L168 199L169 199L170 198L171 198L172 197L173 197L174 197L175 196L176 196L177 196L178 195L179 195L180 195L181 194L182 194L183 194L184 193L185 193L186 193L187 193L188 193L189 193L190 193L191 193L192 193L193 194L194 194L195 195L196 196L197 196L198 197L199 197L200 197L201 197L202 197L203 197L204 197L205 197L206 197L207 197L208 196L209 196L210 197L211 197L212 196L213 196L214 196L215 196L216 196L217 196L218 196L219 196L220 195L220 149L219 149L218 149L217 148L216 148L215 148L214 148L213 148L212 149L211 149L210 150L209 150L208 151L207 151L206 152L205 152L204 152L203 151L202 151L201 150L200 150L199 149L198 149L197 149L196 148L195 149L194 149L193 149L192 149L191 148L190 149L189 149L188 148L187 148L186 148L185 148L184 149L183 149L182 149L181 149L180 149L179 149L178 149L177 149L176 149L175 148L174 148L173 148L172 148L171 147L170 147L169 147L168 147L167 148L166 149L165 149L164 150L163 150L162 150L161 150L160 151L159 151L158 151L157 151L156 151L155 151L154 151L153 151L152 151L151 151L150 150L149 150L148 150L147 150L146 149L145 149L144 149L143 149L142 149L141 149L140 149L139 149L138 149L137 149L136 150L135 150L134 151L133 151L132 152L131 152L130 153L129 153L128 154L127 155L126 156L125 156L124 156L123 157L122 158L121 158L120 159L119 160L118 161L117 162L116 162L115 163L114 164L113 165L112 166L111 167L110 168L109 169L108 170L107 171L106 172L105 173L104 174L103 174L102 175L101 176L100 177L99 178L98 179L97 180L96 183L95 185L94 187L93 190L92 193L91 196L90 199L89 202L88 206L87 209L86 212L85 215L84 218L83 222L82 230L81 238L80 245L79 252L78 259L77 266L76 272L75 279L74 283L73 284L72 285L71 286L70 287L69 287L68 288L67 288L66 288L65 289L64 289L63 289L62 289L61 288L60 289L59 289L58 290L57 291L56 292L55 291L54 292L53 293L52 294L51 294L50 295L49 295L48 295L47 295L46 295L45 295L44 294L43 294L42 294L41 294L40 294L39 295L38 296L37 297L36 298L35 299L34 299L33 299L32 299L31 299L30 297L29 296L28 295L27 294L26 293L25 293L24 292L23 292L22 291L21 291L20 292L19 292L18 292L17 293L16 293L15 293L14 295L13 295L12 295L11 295L10 294L9 293L8 292L7 290L6 288L5 286L4 285L3 283L2 283L1 282L0 280Z" fill="#00f" stroke="#00f" vector-effect="non-scaling-stroke"/><path d="M46 305l1-16 1 1 1 4 1 3M50 297l1-17 1 2 1 15M71 289l1-12 1 16M78 265l1-34 1-3 1 6 1 5M98 183l1-14 1 3 1-6 1 10M119 164l1-13 1 10M138 156l1-8 1-4 1 0 1-1 1-2 1 5 1-13 1-3 1 4 1 5 1-4 1 0 1 14 1-3 1 6M23 378l1 17 1 16 1 2 1-6 1-13 1 15 1-14 1 12 1-8 1-6 1 4 1-8 1 4 1 2 1-11 1-28M43 375l1 12 1 6 1-11 1-9M88 263l1 7 1 8 1-11 1-10M94 253l1 1 1 1 1-3 1 1 1-1 1-11 1 4 1 3 1-13 1 0 1-4 1-10M109 220l1 11 1-6 1-3 1-8M115 214l1 4 1-4 1-8M173 195l1 5 1 0 1-3 1 3 1 12 1 0 1-4 1-4 1-6 1-4M0 252l1 4 1 13 1-10 1-1 1 7 1-4 1 7 1 14 1 12M21 370l1 17 1-6M24 381l1 8 1 2 1-4 1-12M45 373l1 10 1-4 1 20 1 6 1-13 1 10 1-3 1 8 1-11 1 3 1-17 1 11 1-6 1-6 1-8M64 371l1 9 1-13M67 372l1 14 1 11 1-17 1-23M74 360l1 14 1 5 1 11 1-16 1-36 1-22M102 175l1-2 1-11 1 12M105 174l1-10 1 15M0 381l1-18M1 363l1 13 1-3 1 4 1-15M79 268l1-28 1-5 1-2M106 176l1-7 1-2 1-11 1-1 1-3 1-4 1 7 1-1 1 15M45 302l1-14 1 9M55 300l1-16 1 1 1 11M64 305l1-22 1-4 1-6 1 9 1-9 1 23M72 298l1-22 1 14M78 281l1-43 1-16 1 4 1-27 1 2 1 6 1 7 1-4 1-4 1 3M119 204l1 7 1 4 1-8 1-4M168 148l1-3 1 0 1-5 1 5 1-1 1 0 1-2 1-2 1 2 1-4 1-2 1 0 1 5 1-3 1-2 1-3 1-9 1-5 1-3 1 0 1 6 1 6 1 3 1 4 1-9 1 3 1 7 1 4 1 1 1 3 1-5 1 2 1 9M213 154l1-13 1-7 1 0 1-2 1-6 1 2 1 9M17 313l1-27 1-5 1 19M57 291l1-9 1 18M77 344l1 11 1-32M167 197l1 4 1 6 1-6 1-10M8 368l1 10 1-3 1-14M56 301l1-13 1-7 1 7 1 13M88 267l1 3 1-2 1 2 1-20M130 157l1-13 1 6 1-4 1-5 1 0 1 5 1 9M138 149l1-5 1 5M140 149l1-6 1 6M142 149l1-2 1 1 1-5 1-4 1 4 1-7 1-1 1-1 1-9 1 5 1 4 1 6 1 2 1 6 1-1 1-5 1-1 1 6 1 10M0 376l1-2 1 11 1-18M79 258l1-40 1 4 1-4 1-15 1 19M185 181l1 17 1-2 1-7M196 151l1-4 1-6 1-5 1 5 1-1 1-6 1 8 1 1 1-3 1-5 1 2 1 1 1 5 1 6 1 14M13 304l1-10 1-10 1-11 1-3 1 6 1 1 1-9 1 0 1 26M64 298l1-14 1 11M68 290l1-5 1-4 1 4 1-4 1 14M79 266l1-34 1-3 1-1 1 12M103 184l1-18 1 17M1 295l1-14 1-14 1 21M35 383l1 6 1 0 1 18 1 9 1-26 1-10M41 380l1 10 1-22M77 351l1 2 1-35M87 278l1 0 1 7 1-12 1-2 1-10 1-4 1-7M185 191l1 11 1-3 1-8M209 194l1 5 1 6 1-3 1 5 1 4 1-9 1-1 1 2 1 0 1 5 1 1M21 301l1-17 1-6 1 14M36 303l1-14 1-6 1 13M39 296l1-3 1-7 1-19 1 1 1 1 1 2 1-10 1 7 1 4 1-6 1-6 1 22 1 17M62 299l1-13 1-8 1-15 1 12 1 16M67 291l1-16 1 16M129 200l1 11 1 3 1-1 1-9M165 149l1-6 1 0 1 10M44 303l1-17 1 1 1 16M53 358l1 28 1-14M55 372l1 14 1-12M60 378l1 9 1-11M62 376l1 7 1-1 1-7M69 365l1 17 1 10 1-8 1 12 1-10 1-13 1-30M172 193l1 5 1 5 1-11M193 179l1 16 1 6 1-11M32 377l1 13 1 17 1-13 1-4 1-3 1-1 1 8 1 8 1-1 1-2 1-5 1 5 1 0 1-13 1-7 1-9M116 211l1 6 1-1 1-5 1 1 1-7M156 199l1 12 1-11 1 6 1-8M171 149l1-6 1 3 1 4M178 155l1-11 1 1 1-3 1-5 1 5 1 3 1 2 1-1 1 5M2 349l1 21 1 11 1 12 1-9 1 16 1-6 1-1 1-7 1-19M17 375l1 10 1 7 1 8 1-10 1 2 1 1 1-9 1 14 1-8 1 8 1 1 1 10 1 11 1 1 1-2 1-2 1 2 1-20 1 0 1 3 1-8 1-2 1-1 1-13M75 359l1 7 1 8 1-10 1-53M149 198l1 3 1 2 1-2 1-1 1 3 1 0 1-5M175 195l1 2 1 7 1 4 1 2 1-9 1 2 1-6 1 4 1 11 1-5 1-4 1 4 1-4 1 6 1-4 1 3 1-3 1-6 1-3 1 5 1-1 1 2 1 0 1 3 1-1 1 1 1-5 1-1 1 0 1 2 1 5 1-8 1 19 1-7 1-2 1-5 1-4 1-3M1 361l1 15 1-10M3 366l1 18 1-1 1 8 1-5 1 0 1-12 1 3 1-8M12 372l1 7 1-2 1-11M79 271l1-37 1-12 1 11M85 220l1-11 1-8 1 16M93 253l1 2 1 0 1-8M101 234l1 4 1 7 1-15M107 226l1 3 1 3 1-1 1-2 1-7 1-11M144 152l1-7 1 1 1-1 1-3 1 6 1-2 1 12M189 190l1 16 1-4 1-17M215 157l1-10 1-4 1 1 1 3 1 3M0 383l1-25M6 366l1 16 1-14M11 366l1 9 1 4 1 0 1-2 1 6 1 5 1-16M26 365l1 27 1 10 1 4 1-21M54 292l1-20 1 7 1-6 1-17 1 8 1 12 1-8 1 18 1 35M78 288l1-47 1-4 1-16 1-5 1-11 1-1 1-3 1 9 1-7 1 0 1-2 1-12 1-4 1 0 1 3 1-2 1-3 1-5 1-11 1 1 1-10 1 1 1 0 1 6 1 5 1 4M128 201l1 9 1-5 1 1 1 0 1-2M189 151l1-12 1 2 1 5 1-2 1-1 1 7M14 296l1-16 1 16M55 366l1 39 1 3 1 10 1 2 1-17 1-10 1 8 1-6 1 9 1 3 1 6 1-9 1-5 1-18 1 10 1-14 1-5M72 372l1 12 1-2 1 18 1-16 1 15 1-10 1-51 1-20M81 317l1-4 1 3 1-4 1-17 1-6 1-7 1-10M109 172l1-10 1-3 1 7M146 149l1-8 1-4 1-4 1-4 1 3 1 12 1 10M156 151l1-10 1 5 1 1 1 5M176 152l1-10 1-2 1 8 1 2M186 151l1-6 1-11 1 3 1 9 1 3M191 149l1-8 1 11M207 151l1-3 1-3 1-10 1 13 1-3 1 0 1 0 1-11 1-8 1 6 1-1 1 5 1 3M3 357l1 20 1-4 1-7M31 376l1 18 1-10M34 381l1 23 1-15 1 4 1-19M75 365l1-3 1 2 1-1 1-53M187 163l1-17 1-7 1-6 1-2 1-2 1 4 1 7 1 4 1 15M7 356l1 18 1 23 1 3 1 3 1-9 1-9 1-12M16 371l1 13 1-11M32 306l1-21 1 9 1 6M35 300l1-15 1 3 1 7 1-11 1 4 1-1 1 16M43 305l1-12 1-1 1-3 1-10 1-4 1-6 1 15 1-3 1 4 1-7 1 11 1-3 1-4 1-2 1 11M62 298l1-18 1 12M76 354l1 31 1-15 1-31 1-39M93 249l1 9 1-4 1-11M99 241l1 4 1 1 1 0 1-12 1 2 1-2 1 0 1-11M140 204l1 6 1-8M157 195l1 5 1 2 1 2 1-10M19 302l1-11 1-15 1 3 1-10 1 5 1 4 1 23M27 303l1-22 1-1 1 10 1 21M61 320l1-39 1 8M63 289l1-8 1-2 1 9M167 148l1-3 1 1 1-8 1 3 1 6 1 4M188 151l1-4 1-6 1 0 1 6 1 9M217 192l1 12 1-7 1-5M43 295l1-8 1 4 1 15M113 181l1-20 1-6 1 3 1-3 1 1 1-5 1-3 1 4 1-3 1 1 1 0 1 1 1-10 1 8 1-6 1 0 1-3 1 5 1 1 1-3 1 9M140 152l1-10 1 5 1 14M39 376l1 19 1 1 1 13 1-9 1-16 1-6M45 378l1 3 1 9 1-15M64 370l1 18 1 0 1-13 1-10M75 364l1 8 1 11 1 6 1-40 1-27M81 311l1 7 1-3 1-14 1-2 1 9 1-16 1 3 1 2 1-3 1 4 1-4 1-10 1-4 1-4 1-6 1-5 1-5 1-5 1 0 1-6 1-7 1 8 1-7 1-1 1-8 1-2 1-2 1-3 1 2 1-4 1-3 1-12M147 191l1 14 1-1 1 2 1-5 1 0 1-4M164 199l1 8 1-7 1-7M184 152l1-10 1 3 1-5 1-8 1 0 1-1 1 0 1 1 1 9 1-4 1 6 1-12 1 7 1 3 1 11M24 375l1 29 1-4 1-3 1 0 1-1 1 0 1-17M31 379l1 13 1-10M146 198l1 6 1 8 1-7 1 8 1-2 1 5 1-2 1-7 1-11M157 196l1 16 1-5 1 1 1-4 1-6M38 365l1 19 1 6 1-1 1 4 1 3 1 1 1-3 1-14 1 5 1 16 1-13 1 11 1 16 1-1 1-20 1 14 1 1 1-1 1 4 1-13 1-10 1-16M111 167l1-10 1 8M114 166l1-10 1 0 1 1 1 2 1 8M156 154l1-7 1-6 1 2 1 0 1 1 1 10M176 192l1 12 1 8 1-8 1 2 1 5 1-4 1-1 1-6 1-4 1-2 1 0 1-2M22 371l1 16 1 5 1 1 1-3 1 1 1-6M28 385l1 4 1 10 1 2 1-8 1-13M92 251l1 11 1-9M94 253l1 15 1-8 1-8 1 0 1-8 1 1 1-12M166 194l1 10 1-4 1 1 1 0 1 1 1-3 1-2M173 197l1 1 1 7 1-7 1-4M177 194l1 4 1 5 1-2 1-11M5 371l1 9 1-21M43 296l1-11 1 19M108 174l1-12 1 1 1-1 1 8M132 158l1-10 1-1 1 1 1-5 1-7 1-8 1 13 1-7 1 5 1 5 1 6M143 150l1-11 1-3 1 3 1-8 1 6 1 5 1 3 1 2 1-5 1-2 1-7 1 4 1 14M156 151l1-6 1 0 1 3 1-3 1 7M164 154l1-6 1-5 1 1 1 3M24 307l1-20 1-2 1 6 1 14M44 295l1-1 1-2 1-11 1-6 1 7 1 3 1 0 1-9 1 9 1-6 1-2 1 11 1 7M58 298l1-15 1-12 1 2 1 5 1 1 1 17M66 293l1-18 1-16 1-2 1-6 1 6 1 10 1-2 1-1 1 2 1-3 1 0 1 2M78 265l1-23 1-15 1-11 1 1 1-6 1-8 1-1 1-5 1 4 1-4 1-2 1-1 1 1 1-1M92 194l1-12 1 0 1-1 1 15M40 297l1-13 1 13M62 292l1-6 1 2 1-3 1-9 1 4 1 18M142 158l1-17 1 5 1 8M198 154l1-12 1-5 1 6 1 14M36 376l1 12 1-2 1-18M42 376l1 16 1-33M45 374l1 8 1 8 1-5 1 4 1-3 1-14M133 158l1-8 1-7 1 1 1 3 1 2M12 360l1 14 1 11 1-4 1 10 1-13 1 8 1 3 1-1 1-1 1 3 1 7 1-16M25 384l1 18 1-11 1-5 1 16 1-5 1 1 1-5 1 6 1-4 1-1 1-4 1 3 1-15M39 380l1 20 1-8 1 3 1-25M50 377l1 2 1 7 1 2 1 11 1-15 1 24 1-7 1 10 1 3 1-14 1-6 1-14 1 8 1 4 1 1 1 3 1-1 1-3 1-12 1-3 1-12M75 360l1 3 1 2 1 2 1-36M180 193l1 7 1 3 1 3 1 3 1 1 1 2 1-5 1-11 1 1 1 4 1 6 1 0 1-4 1 3 1-6 1 0 1-8M197 192l1 17 1 1 1-3 1 1 1-1 1-1 1-4 1 0 1-1 1-1 1-8M10 350l1 27 1 3 1-8M43 294l1-5 1 10M121 196l1 14 1-1 1-8M130 196l1 12 1-5M132 203l1 14 1-1 1-5 1-4 1 1 1 5 1-5 1 1 1-7M141 202l1 9 1 4 1-3 1-6 1 3 1-9M147 200l1 12 1 1 1-7 1 5 1 1 1 4 1-3 1-9 1 11 1 8 1-1 1-5 1-3 1-6 1 3 1 2 1-7 1 0 1 0 1-7M167 199l1 3 1 8 1-5 1-8M171 197l1 7 1-3 1-12M176 194l1 4 1 4 1-5 1-5M44 375l1 19 1-9 1 0 1-10M206 196l1 6 1-3 1-4M0 375l1-11M1 364l1 9 1-13M7 364l1 13 1 16 1-15 1-10M16 360l1 21 1 11 1-14 1-9M39 372l1 24 1 3 1-1 1 2 1-18 1-3M46 378l1 8 1 8 1 9 1 3 1 1 1 8 1-7 1-6 1-3 1-7 1 9 1-24M44 380l1 3 1 9 1-25M66 291l1-14 1 16M68 293l1-21 1-1 1 2 1-3 1 13 1-2 1-21 1 2 1 2 1-10 1-24 1-1 1-3 1 18M86 272l1 7 1 2 1-1 1-9 1-18M113 171l1-10 1 0 1-5 1 2 1-5 1 7M126 158l1-6 1-4 1 0 1 3 1-5 1 6M135 152l1-9 1 1 1 8M0 372l1 5 1 1 1-9M50 306l1-25 1 7 1 6M131 197l1 7 1 3 1 3 1 3 1 0 1-9M163 192l1 8 1 7 1 2 1-7 1 6 1-9M26 299l1-19 1-7 1 5 1-7 1-6 1 4 1 9 1 6 1-5 1 0 1 21M37 300l1-12 1 12M39 300l1-11 1-2 1 19M79 268l1-26 1-14 1-6 1 5M108 171l1-7 1-3 1-11 1-11 1 11 1 1 1-2 1 1 1 0 1 0 1-1 1 15M7 308l1-18 1-15 1-9 1 7 1 8 1-7 1 3 1-4 1 7 1-3 1-15 1 5 1 1 1 26M21 294l1-4 1-7 1 19M29 302l1-11 1 11M98 239l1 7 1-10M100 236l1 8 1-4 1-4 1 1 1-9M4 351l1 28 1-3 1 5 1 1 1 3 1-2 1 15 1-14 1 12 1-24M14 372l1 9 1 11 1-30M38 379l1 8 1-6M83 239l1-28 1-3 1-1 1-14 1 7 1-6 1-4 1-12 1-5 1-7 1-2 1 5 1 2 1-4 1 4 1-2 1-8 1 0 1 0 1 3 1 10M141 157l1-9 1-8 1-2 1-6 1-3 1-1 1-1 1 0 1-4 1 4 1-6 1 9 1-7 1 6 1 5 1 7 1-2 1 8 1-10 1 12 1-1 1-3 1 2 1 1 1-2 1 15M190 187l1 8 1 5 1-6M0 266l1 5 1-8 1-3 1-1 1 16 1 13M6 288l1-2 1 0 1 8M56 296l1-10 1 11M59 300l1-26 1-29 1-9 1 12 1-7 1 13 1 2 1 2 1 1 1-6 1 1 1 2 1 0 1 12 1-4 1-1 1-10 1-4 1-13 1-9 1-15 1 5 1-5 1 12M131 201l1 7 1 0 1 3 1-15M135 196l1 17 1-4 1 7 1 6 1 5 1-9 1-11 1-1 1-6M4 308l1-25 1-4 1 7 1 5 1 2M32 371l1 22 1-4 1-6M52 364l1 19 1-2 1 3 1 15 1 8 1 4 1-6 1-19 1-3 1 1 1 0 1 15 1-8 1-25M66 366l1 18 1-18M70 372l1 4 1 3 1-41M82 302l1 5 1-19M94 247l1 4 1 1 1-5 1-1 1 1 1-17M108 222l1 3 1 0 1 1 1-8M113 215l1 7 1-14M170 149l1-9 1-1 1 6 1-4 1 8M193 149l1-5 1-3 1 2 1 2 1 0 1-6 1 7 1 14M0 251l1 15 1 3 1-6 1 7 1 17M25 307l1-19 1 33M69 363l1 19 1-6 1 10 1 10 1 0 1-1 1-8 1-19 1 8 1-49M83 289l1 12 1-7 1-7 1-3 1-4 1 0 1-4 1-5 1-4 1-22M109 218l1 5 1 2 1 0 1-4 1-3 1-8M139 197l1 14 1 4 1-3 1-7 1 11 1-15M157 198l1 8 1 2 1-4 1-3 1-10M164 194l1 7 1 8 1-5 1-4 1 9 1-13M173 196l1 7 1-1 1-1 1-5M179 192l1 11 1-3 1 0 1-4 1 0 1 3 1-4 1-9M24 309l1-21 1-8 1-7 1-1 1 11 1 10 1-5 1-23 1 19 1 4 1 8 1 2M36 298l1-11 1-4 1-8 1 11 1-5 1-4 1 8 1 18M57 366l1 15 1 1 1 7 1 1 1-13M213 148l1-1 1-6 1 4 1 3M22 374l1 13 1-9M76 355l1 5 1 14 1-51M98 242l1 5 1-3 1-13M101 231l1 12 1-9 1 7 1-3 1 4 1-2 1-4 1-11 1-1 1 2 1-9M157 152l1-11 1 1 1 0 1 7 1 5M165 151l1-12 1-4 1-1 1-4 1 1 1 4 1 0 1 2 1-6 1-3 1 10 1 4 1 13M178 155l1-8 1-1 1-9 1 5 1-2 1 2 1-2 1 11M189 155l1-14 1 11M1 294l1-17 1-6 1 24M23 374l1 12 1 6 1-3 1-6M45 376l1 17 1-1 1-15M53 378l1 4 1 0 1 3 1-13M93 202l1-17 1-7 1 7M107 176l1-10 1-2 1-3 1-1 1 1 1 8M115 163l1-4 1-8 1-3 1 7 1 6M164 153l1-9 1 0 1 5M168 152l1-13 1-7 1 4 1 15M174 151l1-6 1 2 1 1 1-3 1-3 1 5 1-7 1 9M24 380l1 14 1 4 1-21M79 259l1-22 1 2M124 160l1-6 1-6 1 0 1 5 1 13M133 151l1-5 1-4 1-3 1 0 1 7 1 4M210 154l1-16 1 2 1-3 1-1 1-2 1-2 1 3 1 8 1 4 1 3M20 307l1-19 1-8 1 8 1-10 1 15M63 292l1-16 1 1 1 14M86 213l1-11 1-5 1 1 1 1M120 160l1-7 1-3 1 2 1 1 1-2 1 1 1 1 1-5 1 3 1 5M154 154l1-9 1-5 1-5 1 8 1 1 1-1 1-5 1-1 1 1 1-3 1-1 1 2 1 9 1 11M168 156l1-14 1 4 1 5M0 280l1-5 1 0 1 17M3 292l1-16 1 20M23 296l1-11 1 3 1-4 1 10M54 296l1-12 1-10 1 0 1 8 1 11M61 293l1-13 1-1 1 0 1-6 1 19M91 199l1-17 1-8 1-1 1 1 1 4 1-4 1 5M21 377l1 9 1-11M23 375l1 14 1-5M25 384l1 2 1 6 1 1 1 6 1-13M32 375l1 20 1 5 1-3 1 6 1 4 1 0 1-14 1-16M217 156l1-10 1-2 1-1M2 367l1 9 1-2 1-1 1-15M7 367l1 11 1 4 1-11M54 363l1 29 1-18M56 374l1 10 1-13M73 294l1-18 1 10M112 215l1 8 1-3 1-2 1 0 1-7M122 204l1 6 1 1 1-2 1-1 1 4 1 3 1-8 1 2 1-5 1-11M135 202l1 7 1 0 1-6M140 200l1 5 1 6 1-4 1-4 1-9M180 151l1-3 1-12 1 5 1 1 1 12M186 154l1-11 1-1 1-1 1 6 1 4M193 154l1-6 1-9 1 8 1-3 1 9M69 356l1 26 1-9M75 368l1 5 1 0 1-13 1-42M106 224l1 17 1 2 1-3 1-6 1 1 1-2 1-3 1-1 1-11 1-9M125 191l1 17 1-5M138 201l1 9 1 2 1 8 1-7 1 2 1-4 1-11M195 152l1-5 1-1 1-3 1-2 1 7 1 5M203 153l1-3 1-13 1 5 1 3 1 9M215 153l1-10 1-4 1 3 1 1 1 3M0 354l1 16 1 2 1-2 1 3 1 1 1 2 1-26M41 295l1-8 1-7 1 5 1 9 1 3M60 301l1-19 1 1 1 0 1 8M177 193l1 8 1-8M44 309l1-22 1-7 1-13 1 3 1-1 1-8 1 8 1 11 1-12 1 5 1 15 1 11M85 218l1-11 1-5 1-9 1 4 1 6M93 191l1-12 1 2 1-1 1 4M103 176l1-10 1-1 1-9 1 5 1-3 1-6 1 9 1 3 1-8 1 5 1 4M145 149l1-11 1 0 1 11 1-1 1 10M217 192l1 12 1-3 1-2M12 367l1 16 1-4 1 14 1-5 1-12 1 6 1-20M28 375l1 13 1 4 1 2 1-2 1-1 1-5 1 7 1-12M37 373l1 15 1-17M50 369l1 25 1-4 1-7 1-12M74 371l1 12 1 2 1 0 1 6 1-49 1-31M80 311l1 11 1 1 1-12 1 0 1-4 1 2 1-13 1-12 1-12 1 8 1-8 1 1 1-16 1-15M126 161l1-9 1-11 1 4 1-2 1 1 1 0 1 6 1 7M138 151l1-12 1 4 1-1 1 3 1 5M170 151l1-6 1-3 1 5 1 8M16 293l1-11 1 5 1-8 1 27M79 281l1-38 1-9 1-10 1-8 1-6 1-5 1 3 1 11M134 204l1 3 1 2 1 0 1-9M169 189l1 11 1-1 1 2 1 5 1-1 1 0 1 14 1 2 1-3 1-3 1-2 1-2 1-4 1-11 1-1 1 2 1 2 1-4 1 0 1 4 1 0 1-6M206 191l1 13 1 6 1 1 1-2 1-13M211 196l1 11 1 6 1-7 1-7 1-8M0 397l1 6 1-11 1 1 1 9 1 9 1-13 1-11 1-10 1-6M49 297l1-13 1-8 1 2 1 11 1 3M57 291l1-3 1-6 1 10M75 352l1 13 1 1 1 8 1-43M80 324l1 1 1 5 1-5 1 10 1-11 1 9 1-14 1-11 1-12 1-20 1-2 1-5 1-5 1-14M118 162l1-12 1-2 1-1 1 3 1 1 1-3 1 1 1 0 1-1 1 1 1 0 1 5M130 154l1-6 1 0 1-8 1-1 1 2 1 2 1 9M137 152l1-4 1-5 1-1 1-5 1 0 1 5 1 5 1 8M160 153l1-7 1-6 1 4 1-11 1 6 1-3 1-1 1-3 1 3 1 5 1 15M0 276l1-3 1 13M5 301l1-24 1-6 1 21M8 292l1-2 1-8 1 7 1 14M41 381l1 6 1-18M78 269l1-39 1-13 1-13 1 10 1-9 1-12 1-5 1 4 1 14 1 2M98 184l1-17 1-3 1 1 1 9 1-4 1-1 1 2 1 0 1 4M109 172l1-8 1-2 1 6M112 168l1-9 1 3 1 1M123 158l1-9 1 8M130 158l1-7 1-1 1-6 1-6 1 6 1-8 1 5 1-3 1 4 1 3 1 4M141 149l1-6 1 6M143 149l1-6 1-7 1 3 1 1 1 0 1 6 1 1 1 6M153 159l1-11 1-2 1-2 1 3 1-6 1 5 1-1 1-4 1 0 1 2 1-6 1 4 1 4 1 11M168 147l1-6 1-5 1 4 1-10 1 3 1-4 1-2 1 2 1 0 1-2 1-2 1 7 1 6 1 9 1-1 1-2 1-2 1 8M217 192l1 8 1 7 1 2M9 301l1-22 1-2 1-1 1-1 1-7 1 11 1 11 1-22 1-9 1 15 1-9 1 5 1 6 1-9 1 9 1-7 1-11 1 9 1-6 1 29 1 3 1 26M44 380l1 21 1-3 1 5 1-27M49 361l1 22 1-5 1-10M58 373l1 11 1 7 1 9 1 15 1-10 1 8 1 4 1-14 1-9 1-6 1-3 1 1 1 4 1-22M77 341l1 26 1-43M74 362l1 20 1-12 1 4 1-9 1-46M81 315l1-4 1-7 1-6 1-8 1-9M177 152l1-9 1-1 1 8M198 160l1-16 1 5 1 0 1 2M203 154l1-4 1-8 1 2 1-11 1 4 1 8 1-4 1-2 1 6 1 12M32 305l1-20 1-1 1 19M88 206l1-5 1-9 1-6 1-22 1 10 1-2 1-8 1 2 1 0 1 3 1-5 1-2 1 2 1-1 1-1 1-7 1 0 1-1 1 8 1 6 1 1M111 168l1-10 1 3 1-10 1-5 1-3 1 0 1 6 1 7 1 13M143 201l1 6 1-10M157 188l1 12 1 11 1-7 1 2 1 1 1 7 1 1 1-2 1-6 1-2 1 6 1-11 1 1 1 3 1-1 1-1 1 4 1-3 1 5 1 4 1-1 1 0 1-12 1-8M215 150l1-8 1 8M83 298l1 7 1-10 1-25M112 167l1-20 1-1 1-2 1-1 1 0 1 2 1 8 1 8M121 158l1-2 1-5 1 2 1 3M125 156l1-1 1-7 1-4 1 22M25 382l1 10 1 11 1-12 1-7M56 301l1-15 1 1 1 12M62 305l1-19 1-5 1 9M65 290l1-5 1 2 1-7 1-12 1 7 1 6 1-8 1 5 1-4 1 1 1 4M78 268l1-35 1-24 1-15 1 4 1-3 1-3 1 0 1-1 1 5 1-4 1 3 1-6 1 3 1-10 1 3 1 4M99 178l1-6 1-5 1-4 1 10 1 0 1 5M127 194l1 9 1 6 1-11M18 295l1-10 1-17 1 7 1-5 1-5 1-10 1 15 1-4 1-13 1 16 1-1 1-3 1 1 1 4 1 21 1-27 1 14 1-9 1 1 1 9 1-1 1-2 1 10 1-1 1 5 1-6 1 3 1 30M69 289l1-10 1 10M72 286l1-10 1 16M74 292l1-22 1 11M90 265l1 2 1-11M95 244l1 10 1-5 1-9M137 195l1 11 1 3 1 2 1 1 1-2 1-11M143 199l1 8 1-9M167 193l1 13 1-10M214 151l1-5 1-9 1 8 1 4M218 149l1-4 1-3M62 289l1-12 1 22M79 266l1-28 1-2 1 11M92 195l1-14 1 2 1-6 1 1 1 5M0 401l1 1 1-4 1-10 1-7 1-20M6 363l1 9 1 6 1 10 1-5 1-3 1-4 1-10M18 362l1 25 1-1 1-12M64 295l1-15 1 8M117 166l1-9 1-2 1 1 1-2 1 3 1 3M191 187l1 8 1 10 1-7 1 2 1 2 1-8M198 187l1 16 1 7 1-1 1-7 1 7 1-4 1 2 1 3 1 1 1 4 1-4 1 5 1 6 1 2 1-1 1-6 1 5 1-1 1 2 1-25 1-3M0 282l1-2 1-2 1-11 1 8 1 9 1-2 1-3 1 7 1 26M32 382l1 15 1-4 1-6 1 8 1 8 1 17 1-10 1-7 1 3 1 3 1 4 1 6 1 3 1-24 1 6 1-1 1-9 1 11 1-23 1-9M61 374l1 12 1-6 1 4 1-6 1 0 1 15 1-25M68 368l1 7 1 9 1-16M71 368l1 14 1-6 1-1 1 0 1 4 1-15 1-7 1-31M95 189l1-13 1-2 1-12 1 6 1-8 1 1 1-5 1-1 1 3 1-4 1-3 1-3 1 2 1 0 1-1 1 6 1 3 1-6 1 1 1 3 1 2 1-6 1-3 1 10 1-2 1 2M8 302l1-11 1-7 1 8 1 6M76 360l1-5 1-3 1-48M99 240l1 7 1-6 1 1 1-7 1 1 1-12M143 189l1 18 1 4 1 6 1-3 1-12 1-6M24 381l1 10 1-28M79 261l1-38 1-4 1-7 1-10 1-10 1-7 1 0 1 3 1 2 1-2 1 2 1-5 1-15 1-9 1-2 1-4 1 2 1 8 1 1 1-2 1 0 1 0 1 12M102 176l1-7 1 7M170 192l1 12 1 1 1-3 1-3 1 13 1-6 1 2 1 7 1-1 1 0 1-9 1 2 1-7 1 1 1 3 1 11 1 3 1-6 1-5 1 7 1 8 1 4 1-9 1 0 1-2 1-1 1 1 1 2 1 2 1 3 1 1 1-4 1 2 1-8 1 5 1 4 1-1 1-5 1 0 1 0 1-4 1-8 1-17M15 350l1 25 1 36 1 6 1-9 1 1 1-11 1 9 1 4 1 3 1 5 1-6 1-1 1-16 1-16M29 380l1 12 1-13M31 379l1 11 1 16 1-11 1 5 1 2 1-17 1-15M73 366l1 11 1-4 1-32M77 352l1 12 1-40M108 225l1 4 1-15M175 149l1-2 1-3 1-6 1 2 1 9M180 149l1-3 1 0 1 0 1-3 1 4 1-2 1-4 1 5 1 6M0 274l1 15M1 289l1-12 1 31M107 176l1-13 1-8 1-5 1 4 1 7 1 1 1 2M146 152l1-12 1 4 1 4 1 6M169 194l1 7 1 3 1-7M172 197l1 8 1-8M14 369l1 21 1-11 1 12 1-11 1-11M67 301l1-23 1-7 1 2 1 5 1-16 1 0 1 13 1 2 1-20 1 20M78 277l1-38 1-15 1-3 1 2 1-4 1 4M111 168l1-4 1-4 1 6M120 163l1-17 1-1 1-1 1 7 1 0 1 4 1-5 1 3 1 5M130 158l1-10 1-8 1 10 1-1 1 1M148 196l1 6 1 0 1-3 1 8 1-2 1 4 1-6 1-4M196 196l1 6 1-1 1-3 1-4M143 151l1-14 1 9 1-4 1-6 1 5 1-4 1-1 1 4 1 4 1-7 1-1 1-6 1-6 1 3 1 0 1-3 1 0 1 5 1-1 1-1 1 3 1 7 1-2 1 9 1-1 1-1 1 0 1 0 1-2 1 10M0 357l1 17 1 1 1-2 1-8M25 298l1-6 1-14 1 12 1 16M41 297l1-12 1 11M101 183l1-9 1-9 1 12M8 294l1-10 1 12M12 298l1-16 1-8 1 5 1 9 1-8 1 3 1 3 1 0 1-3 1 7 1 9M69 367l1 17 1-10 1 6 1 8 1-4 1-5 1-10 1 5 1 3 1-43M113 216l1 1 1 13 1-7 1-6 1-3 1-5M126 197l1 9 1 2 1 3 1 8 1-11 1 0 1 1 1 9 1-10 1 6 1-12M196 195l1 7 1 3 1-5 1-7M201 197l1 5 1 0 1 6 1-4 1 5 1-3 1-2 1-13M219 193l1 8M0 291l1-15 1 4 1-10 1 2 1 0 1 13 1-8 1-10 1 6 1 4 1 2 1 10 1 5 1-19 1-3 1 1 1 12 1-7 1 5 1-4 1 10 1-13 1 4 1-4 1 7 1-4 1-11 1 2 1 10 1-3 1 7 1 9 1 2 1-15 1 0 1-4 1 7 1 0 1 6 1-10 1-1 1 17M42 295l1-16 1 4 1 27M48 301l1-18 1 15M67 373l1 12 1-9 1 0 1 4 1 4 1-24M77 351l1 9 1-48M153 197l1 3 1 6 1-6 1 6 1 3 1 4 1-5 1 2 1 2 1 0 1-5 1 6 1-5 1-12M182 190l1 6 1 1 1 3 1-13M197 196l1 11 1 6 1-11 1-6M208 190l1 10 1 4 1 7 1-8 1-2 1-5M5 293l1-17 1 22M34 310l1-19 1-8 1-1 1 15M134 203l1 4 1 5 1-10M170 156l1-16 1 7 1 7M182 153l1-9 1 20M211 150l1-6 1 4M6 293l1-7 1-2 1 12M34 314l1-18 1-3 1-12 1-3 1-12 1 21 1 5 1-14 1-3 1 12 1 14M71 288l1-14 1 18M106 175l1-7 1-3 1 8M4 368l1 12 1-6 1 2 1-9M10 370l1 14 1 0 1 3 1 7 1 5 1-8 1-22M74 370l1 17 1-18 1 2 1-16 1-28M40 376l1 22 1 3 1-11 1 1 1-6 1-7M47 369l1 15 1-3 1-1 1-3M51 377l1 6 1-12M55 362l1 21 1-8M75 368l1-4 1-6 1 1 1-41M106 217l1 11 1 3 1 2 1-9 1-8M150 195l1 7 1 3 1 7 1 2 1-5 1-7 1 2 1-1 1-3 1-1 1-12M75 358l1 4 1 8 1-10 1-45M84 292l1 2 1 8 1-11 1-2 1 4 1 2 1-8 1-4 1 2 1-9 1-8 1-6 1-3 1 6 1 9 1 2 1 1 1-6 1-1 1 2 1-3 1-3 1-3 1 3 1-10 1-6 1-3 1-3 1-6 1 5 1-6 1 3 1-8 1-7 1-1 1 6 1-11 1 1 1-2 1-3 1-15M182 190l1 9 1-5 1-4M0 372l1-8M44 371l1 17 1-12M130 202l1 9 1-11M180 193l1 10 1 6 1-4 1-8 1-2 1-1 1 2 1-5M189 193l1 3 1 3 1-4 1 7 1-4 1-4M203 156l1-10 1 5 1-1 1-6 1 0 1 3 1-1 1 0 1 4M165 151l1-5 1-8 1-6 1-1 1 6 1-7 1 8 1-1 1-1 1 3 1 3 1 13M191 191l1 6 1 13 1-8 1 7 1 1 1-4 1 3 1 2 1 0 1-9 1-6M202 196l1 6 1 1 1 9 1-8 1 2 1-1 1-9M213 196l1 6 1 2 1-2 1 0 1-7M17 375l1 3 1 2 1 1 1 4 1-8M48 375l1 10 1-23M65 375l1 8 1 7 1 2 1-15 1-1 1-12M75 368l1 11 1 6 1-4 1-44M84 288l1 6 1 11 1-20 1-3 1 3 1-8 1 2 1-4 1 8 1-4 1-6 1-7 1-1 1 3 1-10 1-5 1 2 1-1 1-9 1-6 1-4 1-2 1-4 1-1 1 2 1-3 1 2 1 3 1 4 1-7 1 7 1-2 1-6 1-4 1-5 1-7 1 0 1 0 1-6 1 0 1-5M134 199l1 10 1-15M214 194l1 7 1-11M75 368l1 12 1-2 1-11 1-38M166 151l1-9 1 1 1 1 1 8M205 157l1-13 1 7M209 156l1-15 1 2 1 9M41 305l1-20 1-20 1 2 1 6 1 4 1-1 1-4 1-11 1-2 1 20 1-3 1-7 1 3 1-8 1-4 1 2 1 8 1 4 1 12 1 2M93 201l1-21 1 3 1-7 1-2 1-1 1-8 1-1 1 4 1-6 1 1 1 0 1 0 1 4 1 3 1-4 1-4 1 6M0 258l1 3 1 8 1-17 1 12 1 6 1 5 1-18 1 1 1-9 1 3 1 8 1 6 1 2 1 2 1 4 1 14 1 2 1-12 1-1 1 7 1 7M26 295l1-12 1 0 1 16M34 307l1-11 1-12 1 18M98 188l1-16 1-5 1 9M156 198l1 6 1-1 1 5 1-9 1 2 1 6 1-4 1 6 1-11M168 198l1 6 1-4 1-3M211 193l1 10 1 1 1 1 1 11 1-9 1-4 1 4 1 0 1-12M0 267l1 3 1 6 1 6 1 1 1 16M57 371l1 15 1 17 1 22 1-11 1-9 1-26 1 15 1-27M65 367l1 9 1 4 1-12M93 247l1 7 1 0 1 2 1 2 1-6 1 2 1 11 1-6 1-12 1-5 1-5 1-12M106 228l1 6 1 1 1-11 1 5 1-3 1-16M142 203l1 15 1-1 1 1 1 3 1-2 1-12 1-7 1-4M161 198l1 9 1 0 1 6 1-2 1 7 1-6 1-9 1 10 1-13 1-10M207 193l1 6 1 6 1 0 1 0 1-6 1 7 1-6 1 9 1 2 1 0 1 6 1-5 1-6M64 298l1-19 1 20M68 288l1-15 1-3 1 9 1-11 1 10 1-10 1-10 1 10 1 0M78 270l1-25 1-14 1 15M109 181l1-14 1-1 1-8 1-7 1 11 1 3M118 169l1-14 1 8M120 163l1-11 1 11M196 194l1 13 1-3 1 1 1 0 1-6 1-2M0 278l1-1 1 15M6 288l1-7 1 24M45 379l1 5 1-19M66 370l1 10 1-19M76 356l1 10 1-3 1-35M206 164l1-16 1-3 1-3 1 4 1-3 1-2 1 7M217 150l1-15 1-4 1 2M23 302l1-13 1-3 1 0 1-1 1 7 1 7M29 299l1-7 1 3 1 11M36 299l1-7 1-8 1 13M39 297l1-9 1 11M47 304l1-15 1 16M116 200l1 14 1 6 1-4 1-2 1 2 1 3 1 1 1-7 1-8 1-1 1-8M161 198l1 6 1-6M163 198l1 8 1-5 1 4 1-8M64 296l1-13 1 19M83 235l1-19 1-10 1 1 1 16M123 167l1-16 1-7 1 6 1-11 1 3 1 1 1 8 1-3 1 0 1 10M137 150l1-2 1-9 1-2 1 9 1 3M142 149l1-7 1 0 1-2 1-1 1 1 1 9 1 1M150 150l1-1 1-6 1 8M153 151l1-7 1-4 1 1 1-2 1 3 1 11M195 193l1 4 1 2 1 6 1-2 1-2 1 9 1-6 1-1 1-10M204 193l1 8 1-3 1 6 1-4 1-8M217 148l1 0 1-4 1 2M3 291l1-7 1-3 1 1 1-4 1 23M57 375l1 9 1 3 1 7 1-4 1 7 1-2 1-27M74 369l1 2 1-5 1-6 1-2 1-41M194 150l1-7 1-6 1 2 1 3 1-5 1 2 1-4 1 7 1 5 1 4 1 2M205 153l1-6 1-2 1-1 1 5 1 2M210 151l1-6 1-11 1-1 1 8 1-6 1 1 1 5 1 5 1-1 1 4M35 306l1-11 1-3 1 0 1 3M39 295l1-25 1 12 1-7 1 2 1 10 1-3 1-7 1-16 1 12 1-8 1 0 1 15 1 19M54 294l1-16 1 12 1 3M153 192l1 10 1 3 1-2 1-4M48 299l1-5 1-7 1-2 1 26M52 311l1-20 1-14 1 5 1 10M120 166l1-11 1-1 1-3 1 9M131 154l1-8 1 1 1 6M199 150l1-3 1-4 1 1 1 2 1 7M13 366l1 10 1 3 1-1 1-16M24 371l1 23 1 11 1-19 1 15 1 0 1 7 1-7 1-16M35 373l1 20 1-10M118 161l1-7 1 0 1 1 1 2 1 7M139 205l1 5 1-4 1 8 1-6 1-5 1 6 1-11M189 192l1 2 1 10 1-3 1-3 1-15M202 191l1 11 1 0 1 1 1 3 1-3 1-2 1 5 1-12M210 194l1 5 1 1 1 13 1-4 1 2 1 5 1 3 1 0 1-9 1 5M7 296l1-21 1-4 1-1 1 0 1 11 1 1 1-6 1 3 1-12 1-3 1 1 1 18 1-2 1 22M46 308l1-23 1 2 1 16M115 211l1 9 1-6 1-8M123 200l1 13 1 2 1-1 1 5 1-11 1 4 1 1 1-3 1-10M188 152l1-7 1-1 1-2 1 7M197 150l1-8 1 4 1 5M25 381l1 16 1-6 1 9 1-7 1-10M30 383l1 10 1 8 1 6 1-16 1-18M53 293l1-13 1-4 1-1 1-12 1-9 1 4 1 7 1-10 1-5 1 13 1 10 1 17M68 290l1-9 1-4 1 13M72 289l1-11 1-9 1-13 1 4 1-5 1-6 1-7 1-15 1 2 1 9M93 190l1-6 1-16 1 8 1 5M136 150l1-11 1-2 1 1 1 4 1 5 1 0 1 3M161 192l1 9 1 2 1 1 1-1 1-8M91 260l1 4 1-5 1-8M128 202l1 11 1 8 1-7 1-2 1 9 1-12 1 8 1-4 1 0 1 10 1 3 1-15 1 2 1 4 1-1 1-9 1 2 1 7 1 2 1-12 1-9M149 197l1 6 1 12 1-7 1 0 1-2 1-3 1-5M198 150l1-5 1 0 1 1 1 1 1-3 1 2 1 7M213 150l1-10 1-2 1 2 1-6 1 10 1 2 1 17M0 376l1 6 1-8 1 8 1-16M72 293l1-16 1 3 1 15M91 196l1-11 1-1 1 5M94 189l1-17 1-5 1 1 1-3 1 11 1 11M137 151l1-5 1-2 1-8 1 11 1 6M0 344l1 42 1 5 1-1 1-2 1-20M8 359l1 15 1 12 1-8 1-2 1-11M25 293l1-9 1 16M27 300l1-10 1 17M62 293l1-10 1 9M60 375l1 9 1-10M70 372l1 8 1-26M86 217l1-10 1-10 1-14 1-1 1 2 1-2 1-1 1 1 1 5M124 203l1 4 1 2 1 2 1 2 1 4 1-5 1 1 1-7 1-5M167 149l1-7 1 9M190 188l1 18 1 4 1-3 1-4 1-8M197 193l1 9 1-4 1 3 1-9M18 361l1 27 1-7 1-10M22 377l1 8 1 11 1-30M51 303l1-14 1 7M60 293l1-6 1-5 1-3 1 27M160 197l1 8 1-9M32 378l1 17 1-6 1-13M36 372l1 17 1-17M105 226l1 4 1-2 1 4 1-9M174 197l1 9 1-9 1-14M49 377l1 9 1-9M74 366l1 22 1-12 1 4 1-19 1-44M114 206l1 9 1 2 1-1 1-1 1-7M135 192l1 15 1 8 1-2 1 9 1-1 1-7 1 8 1 0 1-4 1-1 1-4 1 6 1-3 1 4 1 1 1-5 1-6 1-4 1 2 1-3 1-1 1-2 1-1 1 0 1-2 1 3 1-2 1-3M165 199l1 2 1 8 1 3 1-3 1-11M171 197l1 7 1-11M6 350l1 24 1 2 1 8 1 1 1-8 1-3 1 4 1-3 1-9M15 366l1 20 1-7 1-22M7 367l1 8 1 6 1-14M78 275l1-26 1-13 1-3 1-4 1 2M103 175l1-13 1 9 1 5M110 173l1-13 1 4 1 0 1 3M193 149l1-11 1 5 1 4 1-7 1 0 1-7 1 4 1-2 1-4 1 12 1 1 1 3 1-9 1-1 1 7 1 0 1 12M37 383l1 20 1-7 1 4 1-1 1 0 1-1 1 2 1-24M46 375l1 20 1 3 1-19 1 7 1-10M52 376l1 23 1-16 1 9 1 6 1-5 1-15M59 374l1 7 1 3 1-6 1 0 1-2 1-14M107 174l1-8 1-2 1-2 1 5M126 201l1 9 1-1 1-10M178 152l1-7 1-6 1-5 1 7 1 7 1-9 1 0 1-1 1-2 1-5 1 2 1 0 1 13 1 1 1 7M198 157l1-15 1-1 1-9 1-4 1-4 1 0 1 6 1 4 1-3 1 2 1 6 1-6 1 3 1 4 1 6 1-1 1 9M12 314l1-24 1-2 1 3 1-11 1-4 1 11 1-1 1-10 1 27M94 190l1-11 1 4M114 216l1 0 1 2 1 3 1-3 1 6 1-2 1 0 1 5 1-1 1 0 1-2 1-6 1-12 1-7M129 193l1 14 1-2 1 3 1-11M133 197l1 8 1 4 1-1 1-3 1-1M142 204l1 3 1 0 1-9M193 154l1-10 1 0 1-2 1 3 1-1 1-7 1 5 1 9M0 237l1-1 1 17 1-3 1 21 1 1 1 12 1-4 1 12M8 292l1-8 1 18M57 295l1-11 1-16 1 3 1 10 1 15M70 292l1-17 1-2 1 4 1-3 1 7M115 208l1 11 1-9M117 210l1 6 1-3 1 4 1 3 1-9 1 8 1 0 1-11 1 7 1-1 1-13M149 151l1-9 1-2 1 8 1 2 1 3M159 151l1-6 1 6M211 191l1 10 1 2 1 3 1-5 1 7 1 0 1 3 1 4 1-1M12 297l1-5 1-11 1-11 1 10 1-2 1-13 1-12 1 7 1 11 1 5 1-1 1 11 1 7M29 303l1-19 1 1 1 17M32 302l1-8 1 14M34 308l1-20 1 26M51 377l1 15 1 0 1 9 1-16 1-21M70 362l1 14 1 6 1-2 1-8M74 372l1 5 1-13 1-10M77 354l1 8 1-44M85 285l1 4 1 0 1-12 1-15M116 213l1 10 1-11 1-8M9 298l1-18 1 10 1 6M127 159l1-12 1 0 1 7M130 154l1-13 1-4 1 4 1 6 1 1 1 1 1 0M138 150l1-5 1-1 1 13M33 384l1 11 1-15M107 216l1 14 1-1 1-4 1 4 1-6 1-18M166 156l1-11 1-2 1-5 1 3 1 0 1 5 1-5 1-4 1-1 1 2 1-4 1 7 1-3 1-1 1 1 1 5 1 1 1-4 1 2 1 0 1-3 1 1 1-4 1 9 1 2 1-2 1 3 1 1M66 361l1 16 1-2 1 12 1 3 1-11 1 9 1-20M101 182l1-12 1-4 1 0 1 11M0 393l1 0 1-1 1-15 1 7 1-8 1-18M10 360l1 14 1 2 1 17 1-6 1 10 1 14 1-1 1 5 1 6 1-19 1 4 1-6 1-36M71 368l1 6 1 6 1-2 1 2 1-21M77 353l1 22 1-42M82 297l1 5 1-5 1-6 1-25M145 151l1-4 1-3 1 13M170 195l1 9 1-5 1 2 1 1 1-2 1-2 1-9M205 194l1 6 1 3 1-2 1-4 1-12M214 193l1 12 1-5 1-1 1 3 1-9M24 295l1-9 1 14M32 299l1-11 1-6 1 0 1 8 1 21M38 299l1-15 1-6 1-14 1 24 1-5 1 10 1-12 1 10 1-7 1 1 1-7 1 9 1-10 1-1 1-10 1-16 1-6 1 1 1 1 1-2 1 7 1 2 1 6 1-3 1-10 1-4 1-1 1 10 1-3 1 17 1 0 1 18 1 1 1 4M94 239l1 13 1 3 1-9M114 166l1-8 1-1 1 6M175 160l1-19 1-5 1-3 1 9 1 2 1 3 1 2M182 149l1-2 1-1 1-8 1 1 1-5 1 3 1-1 1-1 1 8 1 2 1 4M194 149l1-13 1 8 1-4 1 12M56 295l1-16 1 9 1-4 1 2 1 13M128 162l1-14 1 1 1-2 1 1 1-8 1 8 1 5M137 150l1-10 1-4 1 9 1 6M200 190l1 13 1-8M2 284l1-7 1 26M122 205l1 8 1-3 1 4 1-8 1 1 1 5 1-5 1-3 1-3M131 201l1 4 1 3 1-1 1 0 1 2 1 8 1 2 1-5 1-1 1-10M142 204l1 3 1 1 1 6 1-8 1-7M147 199l1 2 1 10 1 4 1-6 1-6 1 2 1-4 1 0 1-3M166 199l1 5 1 1 1-14M21 303l1-21 1-4 1-17 1-6 1-2 1 7 1 2 1 21 1-8 1 17 1 20M80 247l1-17 1-13 1-6 1 2 1 4M155 153l1-4 1-1 1-3 1 7M159 152l1-2 1-6 1 1 1-2 1 3 1-7 1 3 1 9M167 151l1-7 1-3 1 0 1 5 1 5M10 370l1 14 1-3 1-13M14 353l1 26 1 9 1 9 1 5 1 8 1-24 1 6 1-19M49 367l1 15 1 3 1-2 1 3 1 9 1 5 1-13 1-4 1-6M58 377l1 6 1 2 1-9M76 360l1 0 1 1 1-15 1-32M84 292l1 8 1-20M134 204l1 5 1 3 1-3 1-5M138 204l1 5 1 0 1 4 1-4 1-1 1-3 1-4M148 197l1 5 1 4 1-2 1-6M25 298l1-12 1 9M27 295l1-2 1-6 1 8 1 5M31 300l1-2 1-5 1 2 1 4M36 298l1-7 1 8M60 364l1 18 1 2 1 8 1-4 1-6 1-8M68 372l1 22 1-13 1-5 1-9M146 192l1 14 1-1 1 2 1-7 1-3M177 187l1 14 1-4 1-3M180 194l1 9 1 4 1-7 1-2 1-5M187 191l1 3 1 9 1-12M193 190l1 10 1 11 1 0 1 0 1-13 1 11 1-1 1 2 1-12 1 0 1-9" vector-effect="non-scaling-stroke"/><path d="M0 326.8L0.37 327L0.73 327.1L1.1 327.3L1.47 327.7L1.83 328L2.2 328.1L2.57 327.9L2.93 327.7L3.3 328.2L3.67 328.9L4.03 329.5L4.4 330L4.77 330.4L5.13 330.7L5.5 331L5.87 331.2L6.23 331.4L6.6 331.6L6.97 331.8L7.33 332L7.7 332.2L8.07 332.4L8.43 332.7L8.8 333L9.17 333.2L9.53 333.2L9.9 333.2L10.27 333.4L10.63 333.8L11 334.2L11.37 334.2L11.73 334.3L12.1 334.3L12.47 334.5L12.83 334.6L13.2 334.4L13.57 333.9L13.93 333.4L14.3 333.4L14.67 333.5L15.03 333.6L15.4 334L15.77 334.3L16.13 334.5L16.5 334.3L16.87 334L17.23 334.1L17.6 334.3L17.97 334.5L18.33 334.7L18.7 334.9L19.07 335L19.43 335.1L19.8 335.1L20.17 335.2L20.53 335.4L20.9 335.6L21.27 335.8L21.63 335.9L22 336.1L22.37 336.3L22.73 336.6L23.1 336.9L23.47 337.2L23.83 337.5L24.2 337.7L24.57 337.9L24.93 338L25.3 338.3L25.67 338.7L26.03 339L26.4 339L26.77 339.1L27.13 339.1L27.5 339.1L27.87 339.1L28.23 339.1L28.6 339.1L28.97 339.2L29.33 339.1L29.7 339L30.07 339L30.43 339.4L30.8 339.8L31.17 340L31.53 340.2L31.9 340.3L32.27 340.5L32.63 340.7L33 340.8L33.37 340.4L33.73 339.9L34.1 339.6L34.47 339.7L34.83 339.8L35.2 339.8L35.57 339.5L35.93 339.2L36.3 339L36.67 338.9L37.03 338.7L37.4 338.6L37.77 338.5L38.13 338.3L38.5 337.8L38.87 337.3L39.23 337L39.6 337L39.97 336.9L40.33 336.9L40.7 336.8L41.07 336.9L41.43 337.2L41.8 337.5L42.17 337.6L42.53 337.3L42.9 337.1L43.27 337L43.63 336.9L44 336.9L44.37 336.9L44.73 336.9L45.1 337L45.47 337L45.83 337.1L46.2 337L46.57 336.9L46.93 336.7L47.3 336.8L47.67 336.8L48.03 336.8L48.4 336.5L48.77 336.2L49.13 336.1L49.5 336.3L49.87 336.5L50.23 336.6L50.6 336.5L50.97 336.4L51.33 336.3L51.7 336.2L52.07 336.2L52.43 336.2L52.8 336.2L53.17 336.2L53.53 336.1L53.9 336L54.27 335.7L54.63 335.3L55 335L55.37 334.7L55.73 334.5L56.1 334.2L56.47 333.9L56.83 333.5L57.2 333.1L57.57 332.6L57.93 332.2L58.3 332.2L58.67 332.2L59.03 332.3L59.4 332.4L59.77 332.5L60.13 332.5L60.5 332.4L60.87 332.3L61.23 331.9L61.6 331.4L61.97 330.9L62.33 330.9L62.7 331L63.07 331.1L63.43 331.1L63.8 331L64.17 330.8L64.53 330.4L64.9 330L65.27 330.1L65.63 330.5L66 330.9L66.37 331.2L66.73 331.5L67.1 331.7L67.47 331.6L67.83 331.6L68.2 331.3L68.57 331L68.93 330.7L69.3 330.7L69.67 330.8L70.03 330.8L70.4 330.8L70.77 330.8L71.13 330.7L71.5 330.6L71.87 330.6L72.23 330.6L72.6 330.6L72.97 330.7L73.33 330.6L73.7 330.5L74.07 330.3L74.43 330.1L74.8 329.9L75.17 329.5L75.53 329.1L75.9 328.6L76.27 328.4L76.63 328.4L77 328.4L77.37 328.2L77.73 328L78.1 327.9L78.47 315.7L78.83 300.3L79.2 291.3L79.57 283.8L79.93 276.4L80.3 274.4L80.67 272.5L81.03 270.5L81.4 268.7L81.77 266.9L82.13 265.1L82.5 263.4L82.87 261.6L83.23 259.8L83.6 257.9L83.97 256.3L84.33 254.8L84.7 253.3L85.07 251.8L85.43 250.1L85.8 248.5L86.17 246.8L86.53 245.1L86.9 243.4L87.27 241.8L87.63 240.2L88 238.6L88.37 237.6L88.73 236.5L89.1 235.5L89.47 234.4L89.83 233.4L90.2 232.3L90.57 231.2L90.93 230L91.3 228.9L91.67 227.7L92.03 226.6L92.4 225.8L92.77 224.9L93.13 223.9L93.5 222.6L93.87 221.3L94.23 220.2L94.6 219.2L94.97 218.3L95.33 217.3L95.7 216.4L96.07 215.6L96.43 215L96.8 214.3L97.17 213.5L97.53 212.5L97.9 211.5L98.27 210.8L98.63 210.3L99 209.7L99.37 208.9L99.73 208.1L100.1 207.3L100.47 206.4L100.83 205.6L101.2 204.8L101.57 204L101.93 203.3L102.3 202.6L102.67 201.8L103.03 201.6L103.4 201.2L103.77 200.9L104.13 200.5L104.5 200.3L104.87 200L105.23 199.6L105.6 199.2L105.97 198.8L106.33 198.3L106.7 197.8L107.07 197.4L107.43 197L107.8 196.7L108.17 196.2L108.53 195.7L108.9 195.1L109.27 194.4L109.63 193.8L110 193.2L110.37 192.7L110.73 192.2L111.1 191.7L111.47 191.4L111.83 191.1L112.2 190.8L112.57 190.5L112.93 190.3L113.3 190L113.67 189.8L114.03 189.5L114.4 189.1L114.77 188.8L115.13 188.3L115.5 187.8L115.87 187.2L116.23 186.7L116.6 186.1L116.97 185.6L117.33 184.9L117.7 184.4L118.07 184L118.43 183.8L118.8 183.6L119.17 183.5L119.53 183.6L119.9 183.7L120.27 183.6L120.63 183.5L121 183.4L121.37 183.2L121.73 183L122.1 182.8L122.47 182.6L122.83 182.4L123.2 182.2L123.57 182L123.93 181.8L124.3 181.5L124.67 181.1L125.03 180.8L125.4 180.7L125.77 180.6L126.13 180.5L126.5 180.2L126.87 179.9L127.23 179.8L127.6 179.8L127.97 179.8L128.33 179.8L128.7 179.7L129.07 179.7L129.43 179.8L129.8 179.8L130.17 179.8L130.53 179.5L130.9 179.3L131.27 179L131.63 178.7L132 178.5L132.37 178.4L132.73 178.4L133.1 178.3L133.47 178L133.83 177.8L134.2 177.6L134.57 177.6L134.93 177.5L135.3 177.5L135.67 177.5L136.03 177.5L136.4 177.3L136.77 177.2L137.13 177.1L137.5 177.1L137.87 177.1L138.23 177L138.6 176.8L138.97 176.6L139.33 176.4L139.7 176.3L140.07 176.1L140.43 176.1L140.8 176.1L141.17 176L141.53 176L141.9 176L142.27 176.1L142.63 176.2L143 176.4L143.37 176.2L143.73 176.1L144.1 175.9L144.47 175.9L144.83 175.8L145.2 175.7L145.57 175.6L145.93 175.5L146.3 175.3L146.67 175L147.03 174.9L147.4 175L147.77 175.2L148.13 175.3L148.5 175.2L148.87 175.1L149.23 175.2L149.6 175.3L149.97 175.4L150.33 175.4L150.7 175.4L151.07 175.4L151.43 175.3L151.8 175.2L152.17 175.2L152.53 175.3L152.9 175.4L153.27 175.4L153.63 175.4L154 175.4L154.37 175.2L154.73 175.1L155.1 175.1L155.47 175.1L155.83 175.1L156.2 175.1L156.57 175.1L156.93 175.1L157.3 175L157.67 174.9L158.03 174.8L158.4 174.9L158.77 174.9L159.13 174.8L159.5 174.7L159.87 174.6L160.23 174.6L160.6 174.7L160.97 174.7L161.33 174.8L161.7 174.8L162.07 174.8L162.43 174.8L162.8 174.8L163.17 174.8L163.53 174.9L163.9 174.9L164.27 175L164.63 175.1L165 175.3L165.37 175.2L165.73 175.2L166.1 175.1L166.47 174.9L166.83 174.7L167.2 174.6L167.57 174.6L167.93 174.5L168.3 174.4L168.67 174.2L169.03 174L169.4 173.9L169.77 173.9L170.13 173.9L170.5 174L170.87 174.2L171.23 174.3L171.6 174.4L171.97 174.5L172.33 174.7L172.7 174.9L173.07 175L173.43 174.9L173.8 174.7L174.17 174.6L174.53 174.7L174.9 174.7L175.27 174.6L175.63 174.5L176 174.4L176.37 174.3L176.73 174.3L177.1 174.3L177.47 174.4L177.83 174.4L178.2 174.5L178.57 174.5L178.93 174.5L179.3 174.3L179.67 174.1L180.03 174L180.4 173.8L180.77 173.7L181.13 173.6L181.5 173.5L181.87 173.5L182.23 173.5L182.6 173.6L182.97 173.7L183.33 173.7L183.7 173.7L184.07 173.6L184.43 173.5L184.8 173.4L185.17 173.4L185.53 173.5L185.9 173.6L186.27 173.6L186.63 173.4L187 173.2L187.37 173.1L187.73 173L188.1 172.9L188.47 172.9L188.83 172.9L189.2 173L189.57 173.1L189.93 173.2L190.3 173.4L190.67 173.6L191.03 173.8L191.4 173.8L191.77 173.7L192.13 173.7L192.5 173.8L192.87 173.8L193.23 173.9L193.6 173.9L193.97 173.9L194.33 173.8L194.7 173.7L195.07 173.6L195.43 173.7L195.8 173.8L196.17 173.9L196.53 174L196.9 174.1L197.27 174L197.63 173.8L198 173.6L198.37 173.5L198.73 173.5L199.1 173.4L199.47 173.5L199.83 173.6L200.2 173.7L200.57 173.7L200.93 173.7L201.3 173.7L201.67 173.6L202.03 173.5L202.4 173.6L202.77 173.8L203.13 173.8L203.5 173.8L203.87 173.7L204.23 173.7L204.6 173.7L204.97 173.7L205.33 173.8L205.7 173.9L206.07 174L206.43 173.8L206.8 173.7L207.17 173.6L207.53 173.5L207.9 173.4L208.27 173.2L208.63 173.1L209 173L209.37 173L209.73 173L210.1 173L210.47 172.9L210.83 172.9L211.2 172.8L211.57 172.8L211.93 172.7L212.3 172.8L212.67 172.8L213.03 172.9L213.4 172.9L213.77 173L214.13 172.9L214.5 172.7L214.87 172.4L215.23 172.4L215.6 172.5L215.97 172.6L216.33 172.7L216.7 172.7L217.07 172.8L217.43 172.7L217.8 172.6L218.17 172.6L218.53 172.6L218.9 172.6L219.27 172.6L219.63 172.7L220 172.7" stroke="#f00" stroke-width="2" vector-effect="non-scaling-stroke"/></g>
<path d="M922 1022.8V1330.7" stroke="#000" stroke-width="2.4" stroke-dasharray="6.95 7.5" stroke-dashoffset="1.25" fill="none"/>
<path d="M815.7 1330.7v-3.8M815.7 1022.8v3.8M842.3 1330.7v-3.8M842.3 1022.8v3.8M868.9 1330.7v-3.8M868.9 1022.8v3.8M895.4 1330.7v-3.8M895.4 1022.8v3.8M922 1330.7v-3.8M922 1022.8v3.8M948.6 1330.7v-3.8M948.6 1022.8v3.8M975.2 1330.7v-3.8M975.2 1022.8v3.8M1001.8 1330.7v-3.8M1001.8 1022.8v3.8M1028.4 1330.7v-3.8M1028.4 1022.8v3.8M1055 1330.7v-3.8M1055 1022.8v3.8M1081.6 1330.7v-3.8M1081.6 1022.8v3.8M1108.1 1330.7v-3.8M1108.1 1022.8v3.8M1134.7 1330.7v-3.8M1134.7 1022.8v3.8M1161.3 1330.7v-3.8M1161.3 1022.8v3.8M789.5 1292.9h3.8M1187.5 1292.9h-3.8M789.5 1254.2h3.8M1187.5 1254.2h-3.8M789.5 1215.5h3.8M1187.5 1215.5h-3.8M789.5 1176.8h3.8M1187.5 1176.8h-3.8M789.5 1138h3.8M1187.5 1138h-3.8M789.5 1099.3h3.8M1187.5 1099.3h-3.8M789.5 1060.6h3.8M1187.5 1060.6h-3.8" stroke="#6a6a6a" stroke-width="1" fill="none"/>
<rect x="789.5" y="1022.8" width="398" height="307.9" fill="none" stroke="#4a4a4a" stroke-width="1.3"/>
<g class="tk" text-anchor="middle"><text x="789.1" y="1347.7">0</text><text x="815.7" y="1347.7">1</text><text x="842.3" y="1347.7">2</text><text x="868.9" y="1347.7">3</text><text x="895.4" y="1347.7">4</text><text x="922" y="1347.7">0</text><text x="948.6" y="1347.7">1</text><text x="975.2" y="1347.7">2</text><text x="1001.8" y="1347.7">3</text><text x="1028.4" y="1347.7">4</text><text x="1055" y="1347.7">5</text><text x="1081.6" y="1347.7">6</text><text x="1108.1" y="1347.7">7</text><text x="1134.7" y="1347.7">8</text><text x="1161.3" y="1347.7">9</text><text x="1187.9" y="1347.7">10</text></g>
<g class="tk" text-anchor="end"><text x="783.5" y="1335.6">0</text><text x="783.5" y="1296.9">1</text><text x="783.5" y="1258.2">2</text><text x="783.5" y="1219.5">3</text><text x="783.5" y="1180.8">4</text><text x="783.5" y="1142">5</text><text x="783.5" y="1103.3">6</text><text x="783.5" y="1064.6">7</text><text x="783.5" y="1025.9">8</text></g>
<rect x="938.6" y="1028.5" width="244.5" height="81.8" rx="1.5" fill="#fff" stroke="#3a3a3a" stroke-width="1.4"/>
<path d="M948.6 1038.8H979.3" stroke="#00f" stroke-width="1.9"/>
<path d="M948.6 1069.1H979.3" stroke="#f00" stroke-width="4.2"/>
<path d="M948.6 1095.6H979.3" stroke="#000" stroke-width="2.2" stroke-dasharray="10.1 2.3" stroke-dashoffset="4.5"/>
<g class="lg"><text x="990.1" y="1048.5">CT prevalence</text><text x="987.6" y="1077">Mean prevalence</text><text x="987.6" y="1103.5">Intervention start</text></g>
<text class="num" text-anchor="middle" x="816.4" y="1071.5">4</text>
<text class="xl" text-anchor="middle" x="964.2" y="1391.7">Time (years)</text>
<text class="yl" text-anchor="middle" transform="translate(762 1168.7) rotate(-90)">Prevalence(%)</text>
</g>
<g>
<path d="M818.4 1420.9V1729.1M844.9 1420.9V1729.1M871.5 1420.9V1729.1M898.1 1420.9V1729.1M924.7 1420.9V1729.1M951.2 1420.9V1729.1M977.8 1420.9V1729.1M1004.4 1420.9V1729.1M1031 1420.9V1729.1M1057.5 1420.9V1729.1M1084.1 1420.9V1729.1M1110.7 1420.9V1729.1M1137.3 1420.9V1729.1M1163.8 1420.9V1729.1M792.2 1691.2H1190M792.2 1652.5H1190M792.2 1613.8H1190M792.2 1575H1190M792.2 1536.2H1190M792.2 1497.5H1190M792.2 1458.8H1190" stroke="#e6e6e6" stroke-width="1.1" fill="none"/>
<g transform="translate(791.8 1730) scale(1.81182 -0.38750)" fill="none" stroke="#00f" stroke-width="1.3" stroke-linejoin="round"><path d="M0 373L1 374L2 374L3 374L4 374L5 374L6 374L7 374L8 374L9 374L10 373L11 373L12 373L13 374L14 375L15 375L16 375L17 375L18 374L19 374L20 373L21 373L22 373L23 372L24 372L25 372L26 371L27 371L28 372L29 372L30 372L31 373L32 373L33 372L34 372L35 373L36 373L37 373L38 373L39 372L40 371L41 371L42 371L43 372L44 372L45 372L46 372L47 373L48 373L49 374L50 375L51 376L52 375L53 376L54 376L55 376L56 376L57 376L58 375L59 374L60 372L61 371L62 370L63 368L64 367L65 367L66 367L67 366L68 366L69 366L70 367L71 366L72 367L73 366L74 366L75 362L76 355L77 347L78 340L79 331L80 322L81 312L82 301L83 290L84 283L85 278L86 274L87 269L88 265L89 261L90 257L91 254L92 250L93 247L94 244L95 240L96 238L97 235L98 233L99 232L100 230L101 228L102 226L103 225L104 224L105 223L106 222L107 220L108 219L109 217L110 217L111 216L112 216L113 214L114 214L115 213L116 212L117 211L118 210L119 209L120 208L121 208L122 207L123 207L124 207L125 207L126 207L127 206L128 207L129 207L130 206L131 206L132 206L133 205L134 205L135 205L136 205L137 205L138 204L139 204L140 204L141 204L142 204L143 203L144 202L145 202L146 202L147 202L148 203L149 203L150 203L151 204L152 204L153 205L154 205L155 205L156 205L157 204L158 204L159 203L160 203L161 203L162 202L163 202L164 202L165 202L166 202L167 202L168 202L169 201L170 200L171 200L172 199L173 199L174 199L175 198L176 198L177 198L178 197L179 197L180 198L181 197L182 197L183 197L184 196L185 195L186 195L187 195L188 195L189 195L190 195L191 195L192 196L193 196L194 197L195 196L196 197L197 197L198 198L199 198L200 198L201 198L202 198L203 198L204 199L205 198L206 198L207 198L208 197L209 197L210 197L211 197L212 197L213 198L214 198L215 199L216 199L217 200L218 200L219 200L220 201L220 151L219 151L218 150L217 150L216 149L215 148L214 148L213 147L212 147L211 146L210 147L209 147L208 148L207 148L206 149L205 149L204 150L203 150L202 150L201 150L200 150L199 150L198 150L197 150L196 150L195 149L194 149L193 149L192 149L191 148L190 148L189 148L188 148L187 148L186 148L185 148L184 149L183 149L182 149L181 149L180 149L179 148L178 148L177 148L176 148L175 148L174 147L173 147L172 147L171 147L170 147L169 148L168 148L167 149L166 149L165 149L164 149L163 150L162 151L161 151L160 151L159 152L158 152L157 153L156 154L155 154L154 154L153 154L152 154L151 154L150 154L149 153L148 153L147 153L146 153L145 153L144 153L143 153L142 153L141 153L140 154L139 154L138 154L137 154L136 154L135 154L134 154L133 155L132 155L131 156L130 156L129 157L128 157L127 158L126 159L125 160L124 161L123 161L122 162L121 162L120 162L119 162L118 162L117 162L116 162L115 162L114 162L113 162L112 162L111 163L110 164L109 165L108 166L107 168L106 169L105 170L104 171L103 171L102 172L101 173L100 175L99 176L98 176L97 178L96 180L95 182L94 185L93 187L92 190L91 192L90 195L89 198L88 202L87 205L86 209L85 213L84 217L83 222L82 231L81 239L80 247L79 254L78 261L77 267L76 272L75 278L74 282L73 282L72 283L71 283L70 283L69 285L68 285L67 286L66 287L65 287L64 287L63 287L62 287L61 287L60 286L59 286L58 285L57 284L56 283L55 284L54 283L53 283L52 282L51 282L50 281L49 281L48 281L47 282L46 281L45 280L44 281L43 282L42 282L41 282L40 283L39 283L38 284L37 285L36 286L35 286L34 287L33 288L32 288L31 289L30 288L29 288L28 287L27 286L26 286L25 285L24 284L23 283L22 282L21 283L20 282L19 283L18 285L17 285L16 285L15 285L14 286L13 286L12 286L11 286L10 285L9 284L8 285L7 285L6 285L5 285L4 285L3 285L2 286L1 287L0 287Z" fill="#00f" stroke="#00f" vector-effect="non-scaling-stroke"/><path d="M19 288l1-12 1 5 1 10M151 159l1-8 1 1 1-3 1 10M159 153l1-3 1-5 1 11M30 369l1 6 1 13 1-7 1 0 1-20M38 363l1 11 1 6 1-4 1 5 1-11M52 367l1 16 1 4 1 1 1-4 1 8 1 8 1-9 1-1 1-4 1-12 1-22M211 197l1 12 1-12M215 195l1 10 1-3 1 6 1 2 1 1M72 297l1-23 1 8M79 263l1-26 1-11 1-1 1-3M84 218l1-16 1 1 1-13 1 18M93 191l1-12 1-7 1-9 1 1 1-4 1 0 1 1 1 0 1-5 1 8 1-1 1-8 1 5 1 6 1-2 1-4 1-4 1 12M178 194l1 5 1 7 1 1 1 3 1-7 1 5 1 5 1 3 1 0 1-6 1 2 1 0 1-2 1 3 1-3 1-8 1-11M211 184l1 15 1 5 1-1 1 3 1 6 1-6 1-3 1-3M19 369l1 12 1-3 1-4 1 10 1 9 1 13 1-12 1-14 1 1 1 4 1-1 1-2 1-19M58 360l1 16 1 6 1-3 1 4 1-6 1 13 1-8 1-10 1 14 1 2 1 14 1 1 1-7 1 4 1-4 1 6 1-7 1 13 1 9 1 5 1-54 1-18 1-9 1-5 1 2 1-6 1-15 1-9 1-13 1-9 1-1 1-4 1 3 1-3 1-9 1-10 1-11 1-13M107 219l1 5 1 1 1 0 1 4 1 2 1-5 1-10 1-5M119 204l1 7 1 4 1-6 1 1 1-1 1-3M180 154l1-10 1 10M10 302l1-18 1-5 1 3 1 7M16 295l1-11 1-18 1 18M133 204l1 10 1-6 1-3M136 205l1 2 1 6 1-2 1-4 1-8M151 158l1-14 1 0 1 6 1-4 1-3 1 0 1 2 1-1 1-1 1 0 1-2 1 4 1-3 1 1 1 2 1 4M169 153l1-14 1 4 1-2 1-3 1-2 1-8 1 13 1 2 1 8M185 148l1-9 1-4 1 7 1 4 1 0 1-6 1 3 1 3 1 12M198 155l1-7 1-6 1-3 1-2 1 4 1 17M38 289l1-14 1-15 1 8 1 9 1-2 1-6 1 12M46 283l1-6 1 10M130 166l1-15 1-1 1 2 1 3M170 153l1-14 1 8M175 149l1-5 1-1 1 1 1 9M183 149l1-8 1 1 1-2 1 7 1 5M188 152l1-11 1 2 1 3 1-1 1 0 1-3 1 1 1-1 1-5 1 7 1-2 1-3 1-6 1-11 1 5 1 15 1 5 1 5M0 275l1 3 1 7 1 1M23 359l1 24 1 8 1-11 1-8 1-16M72 283l1-7 1 7M74 283l1-11 1 16M78 265l1-38 1-6 1-6 1 7 1 0M83 222l1-11 1 0 1 2M86 213l1-12 1-14 1 7 1 9M20 289l1-24 1 11 1-2 1-15 1 5 1-2 1 12 1-10 1 0 1 8 1 8 1-12 1-10 1 18 1 0 1-5 1 0 1 14M40 290l1-14 1 2 1 19M53 304l1-23 1-1 1-4 1 9M61 291l1-9 1-1 1 15M66 303l1-25 1 1 1 12M81 244l1-18 1-20 1-15 1-2 1 13 1 4M75 340l1 23 1-10 1 3 1-54M124 201l1 11 1-4 1-8M128 202l1 7 1 6 1 2 1 10 1-14 1-7 1-7M140 201l1 9 1-5 1 0 1-9M54 286l1-13 1 34M101 226l1 9 1 4 1-6 1-5 1 4 1-4 1-5 1 0 1-2 1 1 1-1 1-3 1-7M116 211l1 6 1-6 1-2M124 204l1 9 1-2 1-5M27 362l1 15 1-4 1-7M47 366l1 14 1-2 1 8 1 4 1 4 1-11 1 5 1 3 1 0 1 10 1-9 1 8 1-31M93 244l1 5 1-4 1-7M181 192l1 10 1-4 1-8M218 157l1-15 1 10M25 353l1 20 1 2 1 5 1 7 1-9 1 11 1 6 1-2 1 5 1-19 1-14M59 372l1 6 1-1 1 6 1 3 1-11 1-12M79 261l1-32 1 4 1-6 1-15 1-5 1 0 1-1 1-11 1 10M88 205l1-13 1 8M165 201l1 6 1-6M167 201l1 8 1-4 1-2 1-11M175 193l1 13 1-3 1 1 1-8M2 287l1-5 1-5 1-1 1-5 1 4 1 11M15 299l1-21 1 10M22 295l1-16 1-5 1 9 1 1 1-3 1 2 1-11 1 1 1-8 1-8 1 9 1 0 1 6 1 23M98 177l1-6 1 0 1 8M117 209l1 8 1-3 1 0 1 7 1 1 1 8 1-12 1 4 1-5 1-12M162 198l1 9 1-5M164 202l1 8 1-6 1 1 1 6 1 5 1 7 1 2 1-6 1 3 1 0 1-6 1-6 1-11 1-3M79 258l1-18 1 2M90 199l1-14 1 3 1-3 1 1M179 153l1-7 1-2 1 18M208 149l1-6 1 3 1-2 1-9 1 4 1-7 1 6 1 4 1 0 1 11M218 153l1-7 1-3M19 374l1 9 1-10M27 360l1 18 1-29M51 367l1 27 1-4 1-5 1-1 1 3 1-9 1-10M58 368l1 7 1 8 1-11 1 11 1-27M68 359l1 8 1 12 1-14M75 357l1 2 1-3 1-7 1-30M205 156l1-8 1-5 1-6 1 4 1 7M45 289l1-16 1-1 1-8 1-11 1 7 1 4 1 34M68 355l1 13 1 8 1 12 1-16 1-10M73 362l1 7 1 3 1-15 1-10M77 347l1 20 1-37M87 266l1 6 1-2 1-8 1-5 1-8M93 241l1 7 1-1 1-7 1-2 1 0 1-4 1-9M101 226l1 5 1 5 1 0 1-6 1 3 1 3 1-4 1 7 1-12 1-2 1-2 1-1 1-1 1 3 1-3 1-4 1 1 1-8 1 1 1 2 1-8M127 205l1 6 1 2 1 1 1 5 1 0 1-6 1-5 1-5M0 264l1 13 1-6 1 17M3 288l1-7 1-10 1 8 1 0 1-14 1 8 1 10 1 1 1 1 1-6 1 4 1-2 1 1 1-7 1-2 1 13M19 286l1-16 1 11 1-20 1-6 1 15 1-8 1 4 1 8 1 1 1 15M32 306l1-27 1-1 1 2 1-1 1 7M37 286l1-7 1 3 1 4M40 286l1-15 1-4 1-8 1 19 1-8 1 2 1-15 1-3 1 7 1 1 1 15 1-22 1 9 1 7 1 31M129 205l1 8 1-8M172 160l1-16 1-6 1 4 1 2 1 9M57 364l1 19 1-11M61 370l1 16 1-1 1 12 1-10 1-16 1-12M75 358l1 9 1 2 1 8 1-45 1-10M93 241l1 5 1 0 1-2 1 4 1-19M99 231l1 3 1 3 1-1 1-3 1-4 1 5 1 7 1-4 1 2 1-10 1-9 1 12 1-16M134 204l1 6 1 5 1 2 1-6 1-7M143 196l1 8 1 6 1 4 1 7 1-11 1-1 1 1 1 5 1-1 1 5 1 6 1-7 1 7 1 3 1 5 1-4 1-4 1-4 1 5 1 1 1-1 1 0 1-1 1 2 1-2 1 0 1-2 1-6 1 0 1 2 1-2 1-2 1 3 1-9 1-3 1-11M55 297l1-21 1-7 1 27M58 296l1-19 1 2 1 21M80 248l1-23 1 3 1-7 1-7 1-11 1 5 1-7 1 9M124 200l1 12 1-10M145 153l1-5 1 4 1 16M166 197l1 11 1-3 1-13M180 150l1-8 1-6 1-10 1-2 1 1 1 1 1 9 1 7 1 2 1-2 1-4 1 7 1-5 1 3 1-6 1-3 1 0 1 1 1 3 1 3 1-14 1-4 1 8 1-5 1 0 1 3 1 2 1 1 1 6 1 0 1 3 1-2 1 5 1-5 1 6 1-5 1-1 1 5 1 8M21 287l1-8 1-10 1-5 1 0 1 10 1 17M31 297l1-11 1-5 1-22 1 9 1 2 1-7 1-13 1 14 1 3 1 8 1-3 1-23 1-2 1 5 1 14 1 3 1 3 1-7 1-7 1-5 1-2 1 11 1-9 1-6 1 5 1-11 1 7 1-6 1 19 1 12 1-5 1 0 1 17 1 0 1 5M90 202l1-14 1-16 1-5 1 3 1-9 1-4 1-5 1 10 1 0 1 6 1-6 1 2 1 10M103 174l1-6 1-19 1-2 1 2 1 7 1 1 1 10M31 365l1 17 1 14 1-6 1-4 1 7 1-22M51 292l1-29 1 1 1 9 1 8 1 0 1 1 1 1 1-12 1 14 1 16M77 339l1 25 1-53M84 279l1 2 1-6 1-4 1 5 1-5 1 1 1 2 1-13 1-18M148 158l1-6 1-6 1-2 1 5 1 1 1 5M161 151l1-4 1-11 1-5 1 6 1 1 1-3 1-4 1-9 1 0 1 2 1 6 1 2 1 1 1-2 1-1 1 5 1 0 1 3 1 2 1-4 1 8 1 7M2 367l1 14 1-7M95 224l1 16 1 1 1-4 1 8 1 6 1-5 1 3 1-7 1-12 1-11M119 163l1-12 1-9 1 8 1-5 1 6 1-1 1 10M138 160l1-8 1-5 1 2 1 5M142 154l1-8 1 1 1-6 1 12M184 151l1-8 1 11M189 149l1-8 1 8M61 297l1-23 1 3 1-1 1 23M70 295l1-25 1 5 1 8M78 284l1-38 1-18 1-6 1 1 1 6M130 190l1 17 1 5 1-1 1-4 1-4M144 193l1 15 1 0 1-8M148 197l1 14 1-5 1-5M167 199l1 4 1 1 1 2 1-12M189 151l1-4 1-6 1 4 1 4M17 368l1 11 1-6M28 304l1-20 1-2 1 3 1 5M85 216l1-11 1-6 1-13 1-7 1-10 1-1 1-1 1 0 1 3 1 1 1 6 1-2 1 12M12 373l1 32 1-11 1-16 1 13 1 10 1-25 1-14M26 364l1 12 1-3 1-14M34 371l1 11 1 6 1-11 1-14M38 363l1 10 1 5 1-4 1-2 1 10 1 22 1-10 1 11 1-14 1-19M49 372l1 8 1-12M134 205l1 10 1-1 1 2 1-6 1-6M172 151l1-6 1 0 1 0 1 2 1-1 1-3 1 0 1 17M4 367l1 21 1-8 1-2 1-3 1 12 1 5 1 8 1-1 1-2 1-21 1-19M16 362l1 16 1 5 1-31M31 350l1 28 1 8 1-4 1 17 1 8 1-8 1 3 1-5 1-16 1 14 1-20 1-6M72 358l1 26 1-20M75 349l1 8 1-4 1-6 1-43M116 162l1-7 1 0 1 8M0 263l1-3 1-3 1 18 1 1 1 8 1-5 1 0 1 4 1 14M75 362l1 3 1-3 1-2 1-24 1-19M96 237l1 4 1 0 1-9M107 214l1 10 1-5 1-1 1-5M144 202l1 7 1-6 1-3M11 373l1 4 1 10 1-6 1-20M41 356l1 26 1-13M85 219l1-14 1-9 1-4 1-2 1 1 1-11 1 0 1-5 1-11 1-2 1-4 1-3 1-2 1 3 1 1 1 1 1 7 1-7 1-10 1 3 1 2 1 0 1 1 1-7 1 10 1 10M151 157l1-5 1-5 1 7M196 152l1-12 1 4 1 14M4 348l1 31 1-13M31 371l1 19 1 7 1-17 1-6 1-8M54 373l1 14 1-12M76 345l1 16 1 6 1-41M84 283l1 4 1-10 1-5 1 2 1 1 1-14 1 5 1 1 1-9 1-22M52 357l1 21 1 14 1-20M55 372l1 10 1 6 1 15 1 9 1-5 1 1 1-7 1-15 1 5 1 5 1-7 1 0 1 2 1-1 1-10 1-6 1 3 1-5 1 16 1-16 1-18M76 354l1 8 1 1 1-36M82 297l1 5 1-18 1-5 1-4 1-4 1-8M167 150l1-13 1 9 1-1 1 7M12 290l1-15 1 16M14 291l1-8 1-14 1-7 1 21 1-4 1 16M25 294l1-25 1 9 1 5 1 4 1 3M31 290l1-9 1 9M79 263l1-38 1-2 1 4 1 2M97 185l1-10 1-3 1 0 1-8 1 10M107 170l1-8 1-4 1 9M111 166l1-11 1 0 1 6 1-3 1-7 1 5 1 0 1-5 1 16M122 163l1-10 1 4 1-7 1 2 1-4 1 6 1 3M131 156l1-6 1 4 1-11 1 5 1-4 1 6 1 7M158 158l1-7 1-1 1-1 1 1 1-4 1-1 1 1 1-1 1-5 1 5 1 6M192 150l1-11 1-2 1 10 1 1 1 4M217 160l1-15 1 5 1-2M13 354l1 24 1 4 1-6 1 10 1 0 1-12M57 302l1-19 1-9 1 14M73 354l1 17 1-3 1 0 1 20 1 3 1-28 1-36 1-8 1 1 1-4 1 6 1-1 1 0 1-20 1-19 1-15 1-2 1 3 1-14 1-7M99 229l1 8 1 2 1-3 1 0 1-6 1-12M189 194l1 3 1 10 1-11M219 197l1 9M39 361l1 15 1-6M49 357l1 20 1 6 1-18M69 365l1 8 1-7M72 367l1 18 1-3 1 22 1-12 1 12 1-5 1-34 1-31 1-4 1-1 1-9 1-18 1 1 1-9 1-7 1 3 1-9 1 6 1-17 1-2 1 4 1-7 1-6 1-19 1 5 1-14M100 230l1 5 1 5 1-2 1-10 1-11M158 196l1 10 1 2 1 4 1-7 1 12 1 1 1 4 1-5 1-7 1-2 1-3 1-8M170 197l1 9 1-3 1 4 1-8M191 190l1 7 1 1 1 8 1-8 1-2M204 196l1 11 1-3 1 2 1-5 1-3 1 4 1-10M214 196l1 6 1 5 1 2 1 2 1-3 1 3M37 303l1-28 1-1 1-1 1 5 1 12M52 282l1-11 1-10 1-3 1 25M56 283l1-11 1 1 1-8 1 12 1 11M122 167l1-16 1-4 1-9 1-2 1 3 1 2 1-4 1-7 1-2 1 5 1 6 1 8 1 3 1 5M136 155l1-9 1-4 1-2 1 2 1 1 1-10 1 15 1 2 1 3M196 151l1-2 1-4 1-4 1-2 1 5 1-4 1 2 1-2 1 13M205 153l1-15 1-2 1-1 1-5 1-6 1 0 1 3 1 4 1 1 1 1 1 3 1 1 1-3 1 5 1-2M0 368l1 12 1-6M2 374l1 9 1-16M54 367l1 15 1-7M56 375l1 6 1-17M159 152l1-4 1-2 1-5 1 0 1 1 1-5 1 6 1 0 1-5 1 3 1 2 1 3 1-1 1 8M182 149l1-5 1 5M196 196l1 4 1 4 1 3 1-2 1 0 1-7M202 198l1 1 1 7 1 3 1-6 1 0 1-1 1 7 1 10 1-11 1-5 1 0 1-7M16 367l1 25 1 1 1-5 1 1 1 8 1-10 1 16 1-11 1-7 1-13 1 12 1-11 1 9 1-19M31 365l1 9 1 7 1-5 1 12 1 8 1-17 1 3 1 0 1-5 1-6M45 370l1 18 1 1 1-2 1-4 1 6 1-3 1 11 1-1 1-20M63 289l1-20 1-6 1 12 1 8 1 10M184 194l1 4 1-2 1 6 1 6 1-6 1-7M0 369l1 10 1 0 1-10M76 347l1 5 1-6 1-24M124 203l1 7 1 10 1-5 1-4 1-1 1 7 1 2 1 7 1-8 1 1 1-8 1-9M17 362l1 29 1-6 1-5 1-14M48 372l1 9 1-7M54 371l1 7 1 16 1 3 1-20 1-21M73 365l1 8 1-23M77 347l1 4 1-44M91 192l1-19 1 7 1-4 1 1 1-9 1-7 1 7 1 8M71 283l1-7 1-5 1 0 1 4 1 3M89 212l1-18 1-13 1-7 1 16M0 379l1-14M4 363l1 16 1 3 1-24M44 359l1 21 1 19 1-19 1 14 1 7 1-9 1-3 1-12 1-10M63 367l1 16 1 2 1-6 1 7 1 4 1 8 1-8 1 1 1 8 1-11 1 0 1-15 1 7 1 6 1 6 1-49 1-12 1-13 1-6 1-2 1-5 1-17 1-11 1-2 1-12M118 171l1-11 1-6 1 16M129 159l1-7 1-3 1-5 1 5 1 5M134 154l1-3 1 2 1-1 1-6 1-5 1 3 1 7 1-6 1-6 1 1 1 1 1 3 1-1 1-3 1 9 1 8M173 155l1-9 1-9 1 3 1 3 1-7 1 2 1-2 1 6 1 1 1 6M0 382l1-15M1 367l1 10 1 2 1-6M5 367l1 13 1-16M9 370l1 6 1 1 1 2 1-17M76 276l1-19 1 7M78 264l1-21 1-10 1-1 1-4 1-5M83 223l1-14 1-2 1-5 1-9 1-5 1 10M122 163l1-9 1 8M131 156l1-8 1-1 1 12M137 154l1-4 1-1 1 7M209 197l1 3 1 3 1 7 1-2 1-3 1-3 1 4 1-3 1-5M218 198l1 7 1-1M0 293l1-13 1 7M2 287l1-17 1 17M36 289l1-10 1 20M40 288l1-9 1-3 1 3 1-1 1 6M75 280l1-14 1 4M78 282l1-37 1-9 1 5M81 241l1-15 1-10 1 4M100 175l1-9 1-11 1-3 1-7 1-2 1-5 1 9 1-7 1 0 1 2 1 9 1 2 1 4 1 11M151 199l1 6 1 3 1 0 1 3 1 2 1 6 1-5 1-1 1-7 1-11M162 196l1 10 1 2 1-2 1-12M168 201l1 10 1-9 1-1 1 5 1 5 1-3 1-8 1-2M176 198l1 10 1-6 1-1 1 4 1 2 1-8 1 4 1 1 1-5 1 10 1-6 1-1 1-9M189 193l1 10 1-9M0 268l1-16 1 2 1-15 1 0 1 11 1 4 1 7 1 5 1-6 1-4 1-1 1 15 1-5 1-6 1 1 1-3 1-4 1-12 1 18 1-3 1-8 1 11 1 12 1 7 1-16 1 10 1 5 1 9 1-9 1-5 1 12 1 22M116 209l1 7 1-3 1-2 1-12M144 160l1-11 1-10 1-7 1 8 1 4 1-1 1 12M177 152l1-10 1-3 1-11 1 1 1-3 1 8 1-1 1 3 1-2 1 0 1 1 1-1 1 5 1 17M12 371l1 8 1 4 1-7 1-12M17 373l1 6 1 6 1-12M20 373l1 10 1 13 1 0 1-11 1 5 1-17 1-9M54 365l1 12 1 1 1 12 1 1 1-6 1-3 1-6 1-5 1-13M77 346l1 1 1-53M83 284l1 5 1-6 1-4 1 7 1-4 1 0 1-15 1-9 1-15M79 254l1-20 1-7 1 9M83 225l1-14 1-5 1-11 1 9 1-10 1 1 1-5 1-3 1-7 1 9M93 189l1-5 1-5 1-2 1-2 1-9 1 1 1-7 1 1 1 4 1 4 1-11 1 10 1-4 1 0 1 1 1-1 1 10M127 158l1-6 1 1 1 2 1 6M174 151l1-11 1-5 1 7 1-5 1-2 1 5 1 10M203 154l1-5 1-3 1-6 1-4 1 6 1 12M6 298l1-20 1-13 1-13 1-3 1 4 1 10 1-9 1-1 1 14 1 15 1 10M81 241l1-13 1-13 1-9 1-7 1 0 1-7 1 1 1 3 1 7M123 164l1-9 1 3 1 7M174 199l1 7 1 0 1-1 1 6 1 0 1-10 1-5M181 196l1 7 1-2 1-5M6 290l1-15 1-10 1 12 1-15 1 11 1-14 1 15 1-4 1 6 1 1 1 8M19 283l1-8 1-8 1 0 1 15 1 16M56 289l1-6 1-12 1 15M59 286l1-4 1-19 1-11 1-6 1 12 1 15 1 7 1-3 1-4 1 0 1-5 1 12 1-4 1-13 1 3 1 22M78 269l1-25 1-18 1 1 1-8 1 8M127 206l1 3 1 4 1-5 1-5M155 155l1-5 1-5 1 3 1 3 1 3M4 296l1-19 1 22M23 350l1 26 1 7 1 5 1 0 1-5 1-5 1 27 1-1 1-8 1-5 1-4 1 7 1 3 1-2 1-7 1 7 1 7 1-15 1 7 1 4 1-2 1 14 1 12 1-1 1-8 1 0 1-8 1-2 1-11 1 2 1-2 1-6 1 8 1-24M74 360l1 13 1 10 1-1 1 1 1-54M81 303l1 3 1-16M146 202l1 11 1-7 1 0 1 1 1-3M151 204l1 9 1 3 1-1 1 1 1 6 1 1 1-5 1-9 1-3 1-2 1 5 1 3 1-5 1 2 1-5 1-13M171 194l1 8 1-2 1 6 1-1 1 8 1 7 1-3 1-5 1-13 1 0 1-7M24 284l1-8 1 6 1 18M30 299l1-19 1 21M76 337l1 18 1-11 1-52M112 203l1 13 1 4 1-2 1 5 1-2 1-5 1-3 1 4 1-1 1 0 1 2 1-2 1-2 1 2 1 3 1-4 1-8M213 150l1-10 1-1 1 7 1 7M45 366l1 10 1 6 1-3 1 8 1-12M50 375l1 9 1-12M57 374l1 6 1-10M137 203l1 11 1-6 1-11M155 158l1-9 1 1 1 11M62 293l1-7 1-10 1-9 1 16 1 8M121 163l1-9 1 21M144 161l1-11 1-3 1 3 1-7 1-5 1 14 1-4 1 7M199 194l1 7 1 4 1 2 1 0 1-1 1 1 1-13M37 366l1 12 1 11 1-8 1 2 1-7 1-8M69 294l1-16 1 9M78 266l1-28 1-7 1-9 1-3 1 0 1 1M141 203l1 6 1 8 1-7 1-2 1-5 1-8M19 300l1-22 1-1 1 4 1 11M25 293l1-22 1 2 1 16M29 301l1-23 1 2 1 11M64 349l1 29 1 5 1-3 1 7 1-11 1 11 1-11 1 1 1-1 1-3 1-15M75 358l1-1 1 5 1-22M137 158l1-9 1 5M139 154l1-14 1 7 1 13M154 154l1-5 1 6M164 149l1-7 1 15M167 150l1-7 1 8M211 146l1 0 1-2 1-7 1 4 1 6 1 7M74 363l1 1 1 7 1-5 1-14 1-58M90 255l1 13 1 2 1-14 1-10 1-8M110 216l1 9 1 3 1-4 1 0 1-4 1 7 1-2 1-3 1 0 1-2 1 3 1 3 1 6 1-1 1-6 1 1 1-5 1-1 1 0 1 3 1-3 1-8 1-7M135 196l1 12 1 3 1 2 1-12M139 201l1 4 1 10 1 0 1-4 1-3 1-3 1-10M186 155l1-8 1-1 1-12 1 3 1 15M5 285l1-14 1-7 1-12 1 3 1 20 1-12 1-3 1-2 1-9 1 14 1 5 1 4 1 7 1-1 1 30M46 355l1 31 1-11 1-11M65 364l1 8 1 8 1 5 1-1 1-5 1 2 1-11 1 1 1 5 1-3 1-8 1 4 1 0 1-24 1-25M87 258l1 15 1-12M151 163l1-11 1-7 1-7 1 3 1 0 1 9 1 4M183 150l1-2 1-5 1 13M0 390l1-5 1-1 1-1 1 4 1-10 1-5M35 361l1 21 1-16M37 366l1 10 1 11 1-13 1 0 1 8 1-11M65 367l1 6 1 3 1 6 1 17 1 4 1 6 1-11 1-17 1-17M74 364l1 14 1-8 1 1 1 4 1-43 1-29M88 255l1 7 1-2 1 1 1-21M94 235l1 22 1-16 1-8M109 217l1 4 1 0 1-4 1 9 1-5 1-11M118 210l1 6 1-3 1 0 1-7M159 157l1-16 1-3 1-1 1-3 1-4 1-3 1-2 1-4 1 4 1 5 1 3 1 3 1 5 1 4 1 6M213 198l1 2 1 5 1-2 1 0 1 3 1 2 1 9M10 369l1 6 1 9 1-14M14 375l1 10 1 11 1-11 1 2 1-2 1 5 1-6 1 8 1-6 1-9 1-1 1 9 1-15M28 372l1 15 1-1 1 9 1 7 1-9 1 13 1 7 1-12 1 3 1 4 1-8 1-9 1-15 1 8 1 6 1-16 1-14M64 295l1-18 1 12M114 210l1 5 1 5 1-3 1-4 1-3 1-9M161 196l1 13 1-1 1-4 1-11M195 196l1 2 1 4 1 0 1 9 1-10 1 11 1-10 1-1 1 3 1 0 1 1 1-3 1-7M19 290l1-13 1 3 1 2M22 282l1-8 1-22 1 11 1 2 1 4 1-7 1 4 1-2 1 4 1 15 1-10 1 7 1 8M45 283l1-12 1-9 1 2 1 6 1 8 1 5M51 283l1-11 1 9 1-2 1-7 1 10 1 11M57 293l1-13 1-13 1 0 1 14 1 8M77 345l1 17 1-53M102 220l1 12 1-6 1-8M106 219l1 7 1-1 1-14M111 211l1 10 1 1 1-9M115 213l1 6 1-8M117 211l1 4 1 9 1 5 1 3 1 3 1 7 1-4 1-4 1 1 1-7 1-6 1-1 1-6 1 10 1-7 1 5 1 0 1 0 1 1 1 8 1 1 1 7 1-5 1 2 1-3 1 5 1 4 1-2 1-4 1 0 1-10 1 4 1 2 1-9 1-2 1 2 1 0 1-4 1-2 1-2 1-1 1-3 1 6 1 3 1-4 1 3 1-8 1 7 1-6 1-2 1-1 1-3 1-1 1-9M0 389l1 8 1-7 1 9 1-9 1-4 1 12 1-4 1-21M9 374l1 12 1 12 1-4 1-1 1 4 1-20 1-18M48 285l1-9 1 6M50 282l1-11 1 15M57 290l1-12 1 3 1-3 1 8 1 19M77 346l1 2 1-32M98 182l1-12 1 1 1 3M112 164l1-13 1 2 1 3 1 5 1-1 1 2M118 162l1-6 1-2 1 5 1 4M148 166l1-14 1-4 1 15M178 195l1 4 1 8 1 4 1-9 1-1 1 4 1 8 1 4 1 6 1-6 1-1 1-9 1-14M191 193l1 10 1 4 1 0 1-5 1 2 1-5 1-1M205 192l1 15 1 3 1 1 1-4 1 3 1 3 1-2 1-2 1 0 1 0 1 1 1-7 1 5 1-1 1-5M16 365l1 11 1 3 1-5M25 370l1 14 1-3 1-15M75 357l1 1 1-5 1-15M88 202l1-18 1-3 1 3 1-3 1 15M194 191l1 9 1 4 1-7M47 283l1-8 1 21M73 282l1-8 1-7 1-16 1 2 1-15 1-15 1-16 1-8 1 12 1-4 1 7 1 8M113 203l1 14 1 7 1-6 1-3 1-6M123 205l1 7 1 1 1-9M144 154l1-10 1 2 1 0 1 0 1 10M218 153l1-7 1-3M15 366l1 17 1 15 1-2 1-10 1-6 1-19M22 365l1 23 1 1 1 0 1 4 1-5 1 2 1-30M77 343l1 2 1-31M85 278l1 3 1-5 1-11M113 211l1 9 1-8M136 205l1 2 1 1 1-1 1 4 1-6 1-5M143 197l1 10 1-11M180 195l1 7 1-4 1 1 1 0 1 6 1 0 1 0 1-3 1 0 1-1 1 3 1-5 1 3 1 11 1-8 1-6 1-6M41 364l1 16 1-3 1-12M109 173l1-11 1-4 1-3 1 3 1 4M131 204l1 7 1-6M144 155l1-6 1-12 1-6 1 7 1 6 1 5 1 7M175 149l1-6 1-8 1 5 1 0 1-7 1-4 1 1 1-8 1 0 1 9 1 7 1 1 1 5 1-6 1-2 1 1 1 4 1 4 1-1 1 0 1 10M210 194l1 8 1-4 1-2M216 199l1 10 1 0 1-4 1-4M129 157l1-8 1 4 1-1 1 1 1-3 1 4M137 159l1-18 1 11 1 4M199 193l1 10 1 1 1 0 1-5 1 4 1-5M205 198l1 1 1 4 1 4 1-3 1 3 1 4 1-4 1-1 1 3 1 8 1 6 1-10 1 0 1-7 1 0M35 302l1-21 1-2 1 6M134 163l1-14 1 8M195 150l1-8 1 1 1 12M22 285l1-3 1-8 1 31M50 375l1 13 1-2 1-11M53 375l1 11 1 11 1-4 1 17 1 0 1-4 1-2 1 13 1-19 1-1 1-4 1 12 1-12 1 6 1-14 1-14 1-13M103 179l1-15 1 10M105 174l1-15 1 2 1-2 1-5 1-8 1 7 1 3 1 3 1-2 1 3 1-1 1 3M117 162l1-7 1 13M119 168l1-14 1 3 1 5M135 160l1-11 1 9M43 287l1-10 1-16 1-9 1-6 1 6 1-4 1 16 1 7 1-4 1 1 1 13 1-20 1 14 1 6 1 3 1 10M156 201l1 10 1-5 1-2 1-6M0 248l1-3 1 8 1 23 1-6 1 12 1-2 1-6 1-6 1 15 1-3 1 7M13 286l1-11 1 6 1-1 1 6M19 287l1-16 1-1 1 17M22 287l1-9 1 4 1-14 1-2 1 6 1 13 1 1 1 6M36 292l1-15 1-17 1 6 1-2 1 13 1-1 1 7M59 286l1-5 1 9M61 290l1-28 1 8 1 13 1 21M119 164l1-8 1 1 1 1 1-5 1 3 1-5 1 2 1 10M108 218l1 2 1 4 1-7 1-9M0 275l1 7 1-12 1 18M7 295l1-16 1 8M10 291l1-7 1-4 1 19M68 303l1-24 1 13M106 176l1-16 1 11M108 171l1-13 1-5 1-5 1 11 1 7M122 162l1-10 1 1 1 6 1 3M127 164l1-16 1 8 1-1 1-4 1 2 1-12 1 3 1-5 1 1 1-2 1 1 1-2 1 6 1 6 1-3 1 3 1-15 1 8 1 3 1 2 1 4 1-8 1-1 1 0 1 3 1-1 1 0 1-1 1-2 1 0 1 3 1-4 1-1 1 3 1 2 1 0 1-4 1 1 1 9M167 149l1-5 1-1 1-3 1-6 1 7 1 3 1 0 1 8M4 362l1 24 1 1 1 10 1-7 1 17 1-7 1 5 1-22 1 7 1-16M51 285l1-10 1-11 1-2 1-3 1 4 1 9 1-10 1-3 1-2 1 4 1-11 1 7 1 15 1-6 1 4 1-1 1-1 1 15 1 7M79 256l1-28 1 3 1 10M166 152l1-4 1-8 1-6 1-1 1 4 1-2 1-1 1-2 1-2 1 0 1-2 1 4 1 3 1 3 1 4 1-5 1 4 1-2 1 1 1 16M24 362l1 20 1-16M91 206l1-22 1 0 1 16M142 158l1-7 1-6 1-9 1 6 1 9 1 8M160 152l1-9 1 11M0 373l1 10 1 9 1-3 1 11 1-7 1 13 1-26 1-3 1 7 1 5 1-5 1-6 1-8M135 205l1 2 1 5 1 3 1 0 1-3 1 3 1 9 1-7 1-7 1-8M150 200l1 5 1 10 1 1 1-3 1 1 1 4 1-3 1-3 1-6 1 3 1 2 1-2 1-7M210 149l1-8 1 3 1-2 1-6 1 0 1 12 1 11M14 293l1-16 1-5 1 11 1 8M112 166l1-13 1-4 1 8 1 3 1 4M125 160l1-9 1 6 1 0M136 161l1-8 1-1 1-2 1-6 1-10 1 3 1 6 1-4 1 9 1 4 1 7M157 157l1-7 1-2 1-6 1 10M204 156l1-9 1-1 1-5 1 6 1-3 1-14 1-1 1 9 1 4 1-1 1 2 1 9M1 287l1-8 1 7M31 291l1-8 1-3 1 5 1 10M35 295l1-20 1 17M75 346l1 32 1-20 1-3 1-56M88 262l1 3 1-5 1-4 1-2 1 6 1-4 1-17M95 239l1 2 1 8 1-10 1 4 1 4 1 0 1 2 1-9 1-17M118 210l1 4 1-9M145 157l1-5 1-2 1-3 1 0 1-6 1 4 1 0 1-2 1 2 1 4 1 1 1 7M20 290l1-17 1 4 1-7 1 3 1 12M25 285l1-7 1 5 1 13M28 296l1-22 1-3 1 5 1-4 1 15 1 6M35 298l1-20 1 3 1 25M44 288l1-14 1 21M132 206l1 4 1-5M134 205l1 3 1 0 1-1 1 10 1 2 1 2 1-2 1 4 1 1 1-6 1-7 1-2 1 5 1-2 1-3 1-1 1-3 1 0 1-5M164 199l1 11 1-6 1-3M0 371l1 12 1 5 1 5 1-18 1 5 1-20M47 292l1-13 1-4 1 3 1 7M51 285l1-9 1 16M68 295l1-15 1 1 1 22M100 228l1 7 1 8 1-7 1-6 1-1 1 3 1 2 1 4 1-6 1 1 1-13 1-3 1-10M148 193l1 13 1 1 1 4 1-9M184 194l1 6 1 5 1-4 1-1 1-11M3 290l1-22 1 12 1-1 1 18M17 287l1-12 1-1 1 7 1-3 1-21 1 10 1 4 1 18M25 289l1-11 1 2 1 1 1-16 1-8 1 8 1 22 1 6M56 365l1 17 1-2 1-4 1-4M68 360l1 8 1 23 1-18 1-18M74 363l1 1 1 18 1 5 1-17 1-68M85 221l1-18 1 6M16 375l1 9 1 0 1 7 1-12 1-6M21 373l1 4 1-2 1 12 1-20M28 351l1 30 1-4 1-10M78 281l1-29 1-20 1-1 1 3M97 180l1-9 1-1 1-7 1-4 1 4 1 8M3 373l1 11 1 2 1-10 1-9M7 367l1 14 1-10M10 365l1 20 1-10 1 11 1 0 1-9 1 9 1-2 1-19M33 372l1 10 1-4 1-11M65 312l1-28 1 1 1-3 1-7 1-11 1 5 1-13 1 11 1-1 1-5 1 5 1-6 1 24M101 223l1 7 1 7 1-7 1-3 1-4 1 1 1 4 1-7 1-19M112 215l1 2 1 8 1-14M123 206l1 12 1 0 1-10 1 7 1-1 1-9M131 203l1 8 1-10M188 194l1 10 1-7 1 2 1-6M39 366l1 11 1 3 1-11M42 369l1 14 1-5 1-4 1 9 1 2 1-16M158 153l1-5 1-1 1-3 1 0 1 2 1 5M167 152l1-10 1 7M171 149l1-6 1-1 1-4 1-3 1 8 1 5M185 154l1-11 1-4 1 4 1 7M189 150l1-3 1-10 1 1 1 3 1 1 1 3 1-2 1 2 1 7M9 300l1-17 1-8 1 7 1 6M20 283l1-5 1 18M32 289l1-15 1 12 1-15 1 13 1 10M41 292l1-15 1 15M132 205l1 3 1 7 1-13M153 201l1 5 1 7 1-16M200 190l1 10 1 6 1 1 1-8M61 359l1 19 1 7 1-2 1-18M65 365l1 6 1 1 1 9 1 9 1-20 1-12M71 358l1 10 1 3 1-5M77 335l1 20 1-21 1-31M92 248l1 4 1-12M94 240l1 3 1 0 1-11M97 232l1 10 1-9 1-1 1-9M172 153l1-12 1 14M186 156l1-10 1-3 1 4 1-7 1 0 1-6 1 11 1 9M196 155l1-10 1-3 1 5 1-1 1-7 1-1 1 1 1 7 1-1 1 1 1-4 1-8 1 3 1-4 1-5 1-3 1 3 1 2 1-6 1 4 1-4 1 3 1-5 1-2M20 373l1 4 1 9 1 0 1-3 1-10 1-27M28 367l1 15 1-2 1-4 1 1 1 14 1 15 1 0 1 0 1 4 1 7 1-17 1-20 1 16 1-5 1 9 1 1 1 15 1-12 1-2 1 9 1 7 1-9 1 4 1-15 1-5 1 25 1-10 1-5 1 5 1-3 1 3 1-14 1-12 1-7 1-31M71 297l1-26 1 13M98 191l1-27 1-3 1 5 1-5 1 1 1 2 1-4 1-11 1-5 1-1 1 9 1-3 1-6 1-3 1 10 1 3 1-4 1-2 1 6 1 5 1 2 1-3 1 1 1 4M146 198l1 12 1-11M149 198l1 11 1-3 1 6 1 4 1 2 1 0 1 4 1-5 1-6 1 3 1-11M192 154l1-7 1-3 1-8 1-4 1-7 1-3 1-4 1 11 1 4 1 3 1-4 1 10 1-5 1 3 1 7 1-1 1-4 1 2 1 17M214 159l1-12 1-1 1-5 1-7 1 2 1 0M2 363l1 18 1 0 1 0 1 15 1-11 1-13M8 372l1 4 1 3 1 11 1-20M37 287l1-5 1-8 1 5 1-17 1 2 1 9 1-3 1-3 1-6 1 9 1 9 1 4M51 296l1-20 1 20M77 334l1 12 1-34M44 298l1-23 1-1 1-11 1 0 1 5 1 12 1 7M205 155l1-15 1 6 1-4 1 1 1 4M210 147l1-12 1 6 1 5 1-8 1 2 1-6 1 7 1-2 1 0 1 1M15 300l1-20 1 0 1 13M79 254l1-13 1-5 1-1M90 197l1-7 1-9 1-1 1 22M110 167l1-11 1 9M112 165l1-8 1-3 1 4 1 9M219 152l1-6M4 297l1-21 1 3 1-9 1-5 1 11 1 5 1-3 1 0 1 5 1 7M77 343l1 18 1-33M137 204l1 7 1-2 1-1 1 5 1-9M155 202l1 11 1-19M186 194l1 5 1-2 1 7 1 2 1-16M191 190l1 8 1 4 1-8M194 194l1 5 1 3 1 5 1 1 1-3 1 2 1 4 1 2 1-3 1-3 1-7 1-9M207 198l1 1 1 7 1-13M0 406l1 8 1-9 1 4 1-15 1 0 1 11 1 8 1 1 1-6 1 3 1-10 1-22 1 15 1 3 1-7 1-3 1-6 1 2 1-18M69 349l1 26 1 2 1-10M75 356l1 4 1 6 1-7 1-58M127 202l1 6 1 5 1 0 1 0 1-6 1-1 1 4 1-12M182 196l1 2 1 4 1-1 1-13M3 287l1-8 1 8M18 285l1-11 1 22M67 300l1-23 1 14M128 205l1 3 1 3 1-11M143 201l1 4 1 3 1-2 1 3 1 3 1-3 1-4 1 2 1-2 1-14M156 169l1-17 1-2 1-4 1 8M198 190l1 9 1 7 1 6 1-8 1-1 1 2 1 2 1-5 1-2 1-7M15 374l1 9 1 5 1-1 1-10 1-15M35 305l1-27 1-3 1 22M59 302l1-23 1 18M120 200l1 12 1 4 1-5 1 0 1-3 1-5M207 155l1-8 1-9 1 12M51 294l1-13 1 0 1-4 1 8M60 291l1-13 1 17M78 274l1-31 1-8 1-6 1-6 1-8 1 2M77 336l1 9 1-23M93 189l1-10 1-5 1 13M98 176l1-12 1-5 1 8 1 3 1 0 1 12M169 198l1 7 1 4 1-4 1 4 1-1 1-2 1 1 1 1 1 0 1-1 1-2 1-4 1-8M0 275l1-1 1 6 1 10M5 288l1-7 1-2 1 0 1 6M9 285l1-7 1 11M12 301l1-22 1-2 1 7 1-14 1 13 1-3 1 1 1 17M70 301l1-19 1-4 1-10 1 13 1 2M78 276l1-28 1-11 1 3M81 240l1-20 1-1 1 12M187 148l1-2 1-2 1-5 1 5 1 4 1 1M0 282l1-2 1-2 1 12M26 362l1 20 1-13M29 365l1 16 1-24M36 373l1 12 1-10 1-13M47 352l1 30 1 7 1-22M169 197l1 9 1-5 1-2M172 199l1 4 1 5 1 4 1 4 1-5 1 3 1-6 1 3 1 4 1-6 1-6 1-2 1 5 1-3 1 1 1-1 1 0 1 7 1 3 1 5 1 4 1-4 1-3 1 2 1-6 1 6 1 1 1-4 1-8 1 8 1 3 1-2 1 1 1-6 1 3 1-6 1-2 1-4 1-6M213 189l1 12 1 6 1-1 1-14M35 294l1-13 1-5 1-17 1-18 1 12 1 7 1-4 1-5 1 10 1 0 1-3 1-12 1-7 1 19 1-10 1 17 1 17M58 292l1-7 1-6 1 9M62 292l1-16 1-11 1 19 1 3M67 293l1-12 1-2 1-11 1-3 1-8 1 7 1 4 1 10M203 192l1 9 1 4 1-1 1-1 1-14M212 197l1 3 1 9 1-6 1 2 1-2 1-2 1-1M50 293l1-20 1-20 1 7 1-1 1-9 1-12 1-2 1-4 1 12 1 1 1 2 1 8 1-4 1 4 1 12 1 5 1-1 1-4 1 5 1-9 1 5 1-11 1 18 1-5 1-4 1-1 1 1 1 6M78 272l1-27 1-15 1 6 1 0M82 236l1-17 1-17 1-7 1-7 1-2 1-8 1 6 1 16M150 200l1 5 1 5 1 0 1-11M208 193l1 8 1-2 1 4 1 8 1-8 1 4 1-6 1 3 1 0 1 3 1-3 1 6M17 289l1-9 1-2 1 7M21 287l1-7 1 1 1-6 1 15M37 364l1 20 1-7 1 0 1 3 1-11M141 200l1 16 1-2 1 4 1-5 1 2 1 5 1 1 1 0 1 2 1-10 1 6 1 4 1-1 1 2 1 2 1-5 1 3 1-1 1 3 1-2 1 0 1 5 1-8 1-4 1-1 1-2 1-6 1-6 1 3 1-5M206 152l1-7 1-10 1 11 1-6 1 3 1 4M5 362l1 27 1-11 1 6 1-8 1-9M10 367l1 12 1-9M90 209l1-27 1 5 1 3M140 160l1-10 1 0 1-4 1 8M148 160l1-10 1-3 1 7M169 195l1 15 1-2 1-5 1-2 1-6M191 193l1 15 1 5 1 5 1 5 1-13 1-10 1 6 1-5 1-5M19 285l1-12 1 13M77 345l1 3 1-38M142 202l1 9 1 2 1 1 1-6 1 6 1-5 1-9M149 200l1 6 1 2 1-3 1 13 1-12 1 8 1 5 1 0 1 6 1-2 1-1 1-5 1-3 1-4 1 1 1 4 1 2 1-8 1-1 1-7M169 201l1 6 1 0 1-7 1 0 1-4M11 287l1-8 1 1 1 20M47 292l1-19 1 6 1 6M124 162l1-5 1-7 1-2 1-4 1 2 1-10 1 13 1 12M136 154l1-13 1 4 1-2 1 8 1 5M149 164l1-14 1-10 1 3 1 4 1 1 1 5 1 8M10 298l1-19 1 25M91 244l1 13 1 2 1 1 1 2 1-7 1 2 1-7 1-8 1 3 1-8 1 8 1 2 1-10 1-8 1-2 1-6 1 5 1 9 1-11 1 2 1-9 1 0 1-14M193 152l1-6 1 2 1-4 1 2 1 4M199 150l1-5 1-3 1 4 1-7 1 3 1-11 1-1 1 12 1 0 1-4 1 10M22 369l1 11 1 6 1-13 1 1 1-7M34 309l1-24 1-3 1-17 1 16 1-1 1-8 1 0 1 12M78 291l1-43 1 2M97 233l1 11 1-1 1-4 1-1 1 1 1-19M112 215l1 4 1-4 1-7M149 157l1-8 1 15M171 197l1 7 1-10M194 194l1 7 1-1 1 5 1 5 1-3 1 12 1-2 1-4 1 0 1 2 1-7 1-1 1-11M210 196l1 11 1-5 1-7M0 263l1-5 1-7 1-19 1 11 1 29 1 2 1-7 1 13 1 19M76 349l1 6 1 4 1-52M198 158l1-15 1-2 1 9M19 374l1 8 1-9M75 357l1 5 1 2 1 9 1-46M92 191l1-7 1-4 1 1 1-5 1 1 1 3M120 166l1-6 1-8 1 3 1-13 1-13 1 2 1 3 1 5 1 1 1-3 1 4 1 7 1 2 1-5 1-5 1-8 1 6 1 0 1-6 1-1 1 9 1 5 1 11M154 167l1-15 1-9 1-2 1-2 1-9 1-2 1 7 1 4 1 2 1-5 1-1 1 8 1-1 1-4 1 4 1-1 1-5 1-2 1 7 1 8M0 387l1-2 1 15 1 2 1-8 1 15 1-9 1-4 1-12 1 4 1-14 1-17M41 284l1-6 1-9 1 8 1-4 1-10 1 7 1 8 1-3 1 10M51 285l1-16 1 9 1 2 1 13M85 221l1-18 1-3 1 8M106 176l1-13 1 8M30 313l1-25 1-8 1 0 1 12M37 286l1-21 1-5 1-1 1 13 1-1 1 6 1-3 1 13M47 293l1-17 1 16M55 296l1-18 1 7M57 285l1-10 1 20M96 181l1-9 1 8M116 163l1-13 1-6 1 7 1-3 1 6 1 7 1 6M6 333l1 47 1 4 1-2 1 13 1-19 1 5 1-11M30 310l1-24 1-3 1 11M201 154l1-8 1 2 1-8 1 1 1 5 1-2 1 4M218 150l1-2 1-5M5 286l1-8 1 29M10 286l1-13 1 8 1 1 1 16M77 338l1 12 1-38M139 193l1 16 1 2 1-1 1-11M176 195l1 9 1-4 1 2 1 0 1-3 1-6M196 196l1 13 1-11M3 370l1 12 1-18M13 371l1 18 1 6 1 4 1 2 1-9 1-7 1-5 1 12 1-7 1-18M33 298l1-17 1-16 1 8 1-1 1 0 1 10 1 22M66 292l1-22 1-1 1-1 1-13 1-3 1 17 1 3 1 7 1 11M105 175l1-8 1-7 1 2 1 0 1-2 1 3M111 163l1-3 1-2 1 0 1-3 1-3 1-5 1-1 1-4 1-3 1-1 1 5 1-6 1 6 1 7 1 3 1 1 1-6 1 5 1 0 1-8 1-2 1-2 1-3 1 3 1 0 1 0 1-1 1-1 1 0 1 5 1 2 1 7M179 150l1-6 1 1 1 4M182 149l1-6 1 5 1-3 1 3M186 148l1-3 1-2 1-1 1-3 1-3 1 18M26 367l1 19 1 7 1 15 1 1 1 16 1 3 1-11 1-8 1 1 1-3 1-3 1 1 1-22 1 16 1-22 1-7M43 372l1 15 1-11 1 1 1 0 1 15 1 2 1 4 1-7 1-1 1 2 1-3 1-6 1 12 1-10 1 4 1-28M66 300l1-22 1 1 1-5 1 5 1-8 1-5 1-5 1 1 1 7 1 17M131 203l1 10 1-6 1-8M39 305l1-32 1 8 1 13M106 172l1-7 1 0 1-9 1-7 1 9 1 3 1 2M188 192l1 5 1 4 1-4 1 3 1-6M67 286l1-3 1-22 1 19 1-2 1 6M131 157l1-9 1-2 1-2 1 4 1-5 1-11 1 0 1 12 1 2 1 3 1 3 1 9M58 366l1 17 1-5 1 4 1 8 1-11 1 8 1-8 1 1 1-16M161 151l1-9 1 0 1-1 1-6 1-12 1 0 1-3 1 6 1 8 1 2 1 6 1-1 1 7M32 293l1-14 1-2 1 7 1 29M74 365l1 17 1-2 1-9 1-3 1-43M115 166l1-6 1-7 1 4 1 7M168 200l1 6 1 1 1-3 1-4 1 4 1-8M175 194l1 6 1 7 1 5 1-7 1-4 1 6 1-10M183 194l1 4 1 7 1-8 1 0 1-6M216 196l1 12 1-12M92 190l1-12 1-1 1-4 1 8M96 181l1-6 1-12 1 3 1 8 1-9 1 1 1 17M111 213l1 7 1 1 1 4 1-2 1-2 1-13M121 205l1 6 1 3 1-4 1-2 1 4 1-1 1-5M132 205l1 1 1 4 1-4 1-10M140 201l1 8 1-6M142 203l1 2 1 3 1-5 1 5 1-11M151 204l1 8 1 2 1-5 1-1 1 4 1-6 1-4M163 200l1 7 1-8M165 199l1 5 1 4 1 0 1 0 1-9M180 190l1 13 1 2 1-2 1-1 1-6 1-2M188 193l1 4 1 7 1 0 1 2 1-7 1 4 1 0 1 10 1-6 1 5 1-2 1-1 1-1 1-1 1-2 1-2 1 1 1 2 1-7 1 1 1-3M0 388l1 10 1-20 1 12 1-22M27 367l1 12 1-10M59 371l1 8 1-11M76 339l1 15 1 1 1-49M86 215l1-24 1-16 1 6 1 2 1-18 1 3 1-1 1-9 1 0 1-4 1 2 1 2 1 0 1 8 1 3 1 3M102 172l1-4 1 1 1-6 1 5 1 4M116 163l1-9 1 3 1-4 1 6 1 1 1 4M187 188l1 11 1 9 1-12 1-3" vector-effect="non-scaling-stroke"/><path d="M0 330.3L0.37 330.3L0.73 330.3L1.1 330.2L1.47 329.9L1.83 329.6L2.2 329.6L2.57 329.9L2.93 330.1L3.3 330L3.67 329.9L4.03 329.7L4.4 330L4.77 330.3L5.13 330.5L5.5 330.7L5.87 331L6.23 331L6.6 330.8L6.97 330.7L7.33 330.6L7.7 330.6L8.07 330.5L8.43 330.6L8.8 330.7L9.17 330.6L9.53 330.4L9.9 330.1L10.27 329.9L10.63 329.6L11 329.3L11.37 329.2L11.73 329.2L12.1 329.2L12.47 329.1L12.83 329L13.2 329.2L13.57 329.6L13.93 330L14.3 329.7L14.67 329.3L15.03 329L15.4 328.8L15.77 328.7L16.13 328.6L16.5 328.6L16.87 328.6L17.23 328.5L17.6 328.4L17.97 328.2L18.33 328L18.7 327.7L19.07 327.5L19.43 327.5L19.8 327.6L20.17 327.6L20.53 327.8L20.9 327.9L21.27 328L21.63 328L22 328L22.37 328L22.73 328.1L23.1 328.3L23.47 328.6L23.83 329L24.2 329.3L24.57 329.5L24.93 329.7L25.3 329.8L25.67 329.9L26.03 330L26.4 330L26.77 330L27.13 330L27.5 329.8L27.87 329.6L28.23 329.4L28.6 329.4L28.97 329.3L29.33 329.2L29.7 329.1L30.07 329.1L30.43 329L30.8 329L31.17 329.1L31.53 329.3L31.9 329.6L32.27 329.6L32.63 329.4L33 329.2L33.37 329L33.73 328.7L34.1 328.5L34.47 328.1L34.83 327.7L35.2 327.5L35.57 327.5L35.93 327.5L36.3 327.3L36.67 326.9L37.03 326.6L37.4 326.9L37.77 327.1L38.13 327.3L38.5 327.3L38.87 327.3L39.23 327.2L39.6 326.9L39.97 326.5L40.33 326.3L40.7 326.1L41.07 325.9L41.43 325.7L41.8 325.4L42.17 325.4L42.53 325.7L42.9 326L43.27 326.2L43.63 326.4L44 326.5L44.37 326.5L44.73 326.5L45.1 326.6L45.47 327L45.83 327.4L46.2 327.6L46.57 327.6L46.93 327.6L47.3 327.5L47.67 327.3L48.03 327.2L48.4 327L48.77 326.9L49.13 326.8L49.5 326.8L49.87 326.9L50.23 326.9L50.6 327L50.97 327L51.33 326.9L51.7 326.8L52.07 326.7L52.43 327L52.8 327.2L53.17 327.6L53.53 328.1L53.9 328.7L54.27 329L54.63 329.3L55 329.6L55.37 329.8L55.73 330.1L56.1 330.1L56.47 329.8L56.83 329.5L57.2 329.4L57.57 329.6L57.93 329.8L58.3 329.7L58.67 329.5L59.03 329.3L59.4 329.4L59.77 329.5L60.13 329.4L60.5 329.1L60.87 328.7L61.23 328.5L61.6 328.2L61.97 328L62.33 327.7L62.7 327.4L63.07 327.1L63.43 327L63.8 326.9L64.17 327L64.53 327.4L64.9 327.7L65.27 327.7L65.63 327.5L66 327.3L66.37 327L66.73 326.8L67.1 326.6L67.47 326.5L67.83 326.4L68.2 326.4L68.57 326.3L68.93 326.3L69.3 326.1L69.67 325.8L70.03 325.6L70.4 325.3L70.77 325L71.13 324.9L71.5 324.9L71.87 325L72.23 325.1L72.6 325.2L72.97 325.4L73.33 325.5L73.7 325.9L74.07 326.1L74.43 326.2L74.8 326.2L75.17 326.1L75.53 325.9L75.9 325.6L76.27 325.7L76.63 325.8L77 326L77.37 325.8L77.73 325.6L78.1 325.4L78.47 312L78.83 296.4L79.2 286.2L79.57 276.1L79.93 272.8L80.3 270.7L80.67 268.7L81.03 266.6L81.4 264.5L81.77 262.5L82.13 260.4L82.5 258.3L82.87 256.1L83.23 253.9L83.6 251.5L83.97 249.6L84.33 247.9L84.7 246.4L85.07 244.8L85.43 243.2L85.8 241.6L86.17 240L86.53 238.4L86.9 236.9L87.27 235.3L87.63 233.7L88 232.1L88.37 231.3L88.73 230.5L89.1 229.6L89.47 228.5L89.83 227.5L90.2 226.4L90.57 225.4L90.93 224.4L91.3 223.2L91.67 222L92.03 220.8L92.4 219.7L92.77 218.5L93.13 217.4L93.5 216.5L93.87 215.6L94.23 214.6L94.6 213.4L94.97 212.2L95.33 211.1L95.7 210.2L96.07 209.3L96.43 208.4L96.8 207.4L97.17 206.5L97.53 205.6L97.9 204.7L98.27 204L98.63 203.4L99 202.7L99.37 202.2L99.73 201.8L100.1 201.3L100.47 200.8L100.83 200.4L101.2 200L101.57 199.6L101.93 199.3L102.3 198.8L102.67 198.2L103.03 197.9L103.4 197.2L103.77 196.5L104.13 195.8L104.5 195.4L104.87 195L105.23 194.6L105.6 194.3L105.97 193.9L106.33 193.7L106.7 193.6L107.07 193.3L107.43 193.1L107.8 192.8L108.17 192.3L108.53 191.7L108.9 191L109.27 190.5L109.63 190.2L110 189.8L110.37 189.5L110.73 189.2L111.1 189L111.47 188.9L111.83 188.7L112.2 188.5L112.57 188.1L112.93 187.8L113.3 187.6L113.67 187.4L114.03 187.1L114.4 186.9L114.77 186.7L115.13 186.4L115.5 185.9L115.87 185.4L116.23 185.1L116.6 184.7L116.97 184.4L117.33 183.9L117.7 183.7L118.07 183.5L118.43 183.5L118.8 183.4L119.17 183.3L119.53 183.2L119.9 183.1L120.27 183L120.63 182.9L121 182.8L121.37 182.7L121.73 182.7L122.1 182.7L122.47 182.8L122.83 182.9L123.2 182.9L123.57 182.8L123.93 182.7L124.3 182.8L124.67 183L125.03 183.1L125.4 183.1L125.77 183.1L126.13 183L126.5 182.9L126.87 182.7L127.23 182.6L127.6 182.5L127.97 182.3L128.33 182.2L128.7 182.2L129.07 182.1L129.43 182L129.8 181.9L130.17 181.8L130.53 181.6L130.9 181.5L131.27 181.6L131.63 181.6L132 181.7L132.37 181.4L132.73 181.1L133.1 180.8L133.47 180.6L133.83 180.4L134.2 180.3L134.57 180.3L134.93 180.2L135.3 180.3L135.67 180.3L136.03 180.3L136.4 180L136.77 179.8L137.13 179.5L137.5 179.4L137.87 179.3L138.23 179.1L138.6 179L138.97 178.9L139.33 178.7L139.7 178.5L140.07 178.3L140.43 178.5L140.8 178.7L141.17 178.7L141.53 178.5L141.9 178.3L142.27 178.1L142.63 177.8L143 177.5L143.37 177.4L143.73 177.3L144.1 177.1L144.47 177L144.83 176.8L145.2 176.7L145.57 176.5L145.93 176.4L146.3 176.4L146.67 176.4L147.03 176.4L147.4 176.4L147.77 176.3L148.13 176.2L148.5 176.2L148.87 176.1L149.23 176.1L149.6 176.2L149.97 176.2L150.33 176.4L150.7 176.6L151.07 176.8L151.43 176.9L151.8 177L152.17 177L152.53 177L152.9 177L153.27 176.8L153.63 176.4L154 176.1L154.37 176.2L154.73 176.3L155.1 176.3L155.47 176.2L155.83 176.1L156.2 176L156.57 175.9L156.93 175.8L157.3 175.9L157.67 176L158.03 176.1L158.4 175.9L158.77 175.7L159.13 175.5L159.5 175.3L159.87 175.1L160.23 175L160.6 174.8L160.97 174.6L161.33 174.7L161.7 174.8L162.07 174.9L162.43 175L162.8 175L163.17 175L163.53 174.8L163.9 174.6L164.27 174.7L164.63 174.8L165 175L165.37 174.9L165.73 174.7L166.1 174.6L166.47 174.6L166.83 174.5L167.2 174.3L167.57 174.1L167.93 173.9L168.3 173.9L168.67 173.8L169.03 173.8L169.4 173.7L169.77 173.6L170.13 173.5L170.5 173.4L170.87 173.3L171.23 173.3L171.6 173.4L171.97 173.4L172.33 173.4L172.7 173.4L173.07 173.5L173.43 173.7L173.8 173.9L174.17 173.9L174.53 173.6L174.9 173.3L175.27 173.4L175.63 173.6L176 173.9L176.37 174L176.73 174L177.1 174L177.47 173.9L177.83 173.7L178.2 173.6L178.57 173.4L178.93 173.1L179.3 173.2L179.67 173.3L180.03 173.3L180.4 173.2L180.77 173L181.13 172.9L181.5 173L181.87 173L182.23 173L182.6 173.1L182.97 173.1L183.33 173.1L183.7 173.2L184.07 173.1L184.43 172.8L184.8 172.5L185.17 172.3L185.53 172.2L185.9 172.2L186.27 172.2L186.63 172.2L187 172.2L187.37 172.4L187.73 172.5L188.1 172.6L188.47 172.5L188.83 172.3L189.2 172.3L189.57 172.2L189.93 172.2L190.3 172L190.67 171.8L191.03 171.6L191.4 171.9L191.77 172.2L192.13 172.4L192.5 172.5L192.87 172.6L193.23 172.7L193.6 172.9L193.97 173.1L194.33 173.1L194.7 173.1L195.07 173.2L195.43 173.1L195.8 173.1L196.17 172.9L196.53 172.6L196.9 172.3L197.27 172.1L197.63 172L198 171.9L198.37 171.6L198.73 171.4L199.1 171.2L199.47 171.4L199.83 171.5L200.2 171.7L200.57 171.9L200.93 172.1L201.3 172.2L201.67 172.2L202.03 172.2L202.4 172.4L202.77 172.5L203.13 172.6L203.5 172.7L203.87 172.8L204.23 172.9L204.6 172.9L204.97 173L205.33 172.7L205.7 172.5L206.07 172.3L206.43 172.2L206.8 172.2L207.17 172.2L207.53 172.2L207.9 172.2L208.27 172.2L208.63 172.2L209 172.2L209.37 172.3L209.73 172.4L210.1 172.5L210.47 172.4L210.83 172.4L211.2 172.4L211.57 172.5L211.93 172.6L212.3 172.6L212.67 172.5L213.03 172.4L213.4 172.4L213.77 172.3L214.13 172.3L214.5 172.3L214.87 172.3L215.23 172.4L215.6 172.6L215.97 172.8L216.33 173L216.7 173.3L217.07 173.5L217.43 173.6L217.8 173.7L218.17 173.7L218.53 173.5L218.9 173.3L219.27 173.2L219.63 173.2L220 173.2" stroke="#f00" stroke-width="2" vector-effect="non-scaling-stroke"/></g>
<path d="M924.7 1420.9V1729.1" stroke="#000" stroke-width="2.4" stroke-dasharray="6.95 7.5" stroke-dashoffset="1.25" fill="none"/>
<path d="M818.4 1729.1v-3.8M818.4 1420.9v3.8M844.9 1729.1v-3.8M844.9 1420.9v3.8M871.5 1729.1v-3.8M871.5 1420.9v3.8M898.1 1729.1v-3.8M898.1 1420.9v3.8M924.7 1729.1v-3.8M924.7 1420.9v3.8M951.2 1729.1v-3.8M951.2 1420.9v3.8M977.8 1729.1v-3.8M977.8 1420.9v3.8M1004.4 1729.1v-3.8M1004.4 1420.9v3.8M1031 1729.1v-3.8M1031 1420.9v3.8M1057.5 1729.1v-3.8M1057.5 1420.9v3.8M1084.1 1729.1v-3.8M1084.1 1420.9v3.8M1110.7 1729.1v-3.8M1110.7 1420.9v3.8M1137.3 1729.1v-3.8M1137.3 1420.9v3.8M1163.8 1729.1v-3.8M1163.8 1420.9v3.8M792.2 1691.2h3.8M1190 1691.2h-3.8M792.2 1652.5h3.8M1190 1652.5h-3.8M792.2 1613.8h3.8M1190 1613.8h-3.8M792.2 1575h3.8M1190 1575h-3.8M792.2 1536.2h3.8M1190 1536.2h-3.8M792.2 1497.5h3.8M1190 1497.5h-3.8M792.2 1458.8h3.8M1190 1458.8h-3.8" stroke="#6a6a6a" stroke-width="1" fill="none"/>
<rect x="792.2" y="1420.9" width="397.8" height="308.2" fill="none" stroke="#4a4a4a" stroke-width="1.3"/>
<g class="tk" text-anchor="middle"><text x="791.8" y="1746.1">0</text><text x="818.4" y="1746.1">1</text><text x="844.9" y="1746.1">2</text><text x="871.5" y="1746.1">3</text><text x="898.1" y="1746.1">4</text><text x="924.7" y="1746.1">0</text><text x="951.2" y="1746.1">1</text><text x="977.8" y="1746.1">2</text><text x="1004.4" y="1746.1">3</text><text x="1031" y="1746.1">4</text><text x="1057.5" y="1746.1">5</text><text x="1084.1" y="1746.1">6</text><text x="1110.7" y="1746.1">7</text><text x="1137.3" y="1746.1">8</text><text x="1163.8" y="1746.1">9</text><text x="1190.4" y="1746.1">10</text></g>
<g class="tk" text-anchor="end"><text x="786.2" y="1734">0</text><text x="786.2" y="1695.2">1</text><text x="786.2" y="1656.5">2</text><text x="786.2" y="1617.8">3</text><text x="786.2" y="1579">4</text><text x="786.2" y="1540.2">5</text><text x="786.2" y="1501.5">6</text><text x="786.2" y="1462.8">7</text><text x="786.2" y="1424">8</text></g>
<rect x="941.6" y="1426.1" width="244.1" height="81.3" rx="1.5" fill="#fff" stroke="#3a3a3a" stroke-width="1.4"/>
<path d="M951.6 1436.4H982.3" stroke="#00f" stroke-width="1.9"/>
<path d="M951.6 1466.7H982.3" stroke="#f00" stroke-width="4.2"/>
<path d="M951.6 1493.2H982.3" stroke="#000" stroke-width="2.2" stroke-dasharray="10.1 2.3" stroke-dashoffset="4.5"/>
<g class="lg"><text x="993.1" y="1446.1">CT prevalence</text><text x="990.6" y="1474.6">Mean prevalence</text><text x="990.6" y="1501.1">Intervention start</text></g>
<text class="num" text-anchor="middle" x="816.8" y="1463.7">5</text>
<text class="xl" text-anchor="middle" x="966.2" y="1787.9">Time (years)</text>
<text class="yl" text-anchor="middle" transform="translate(768.4 1573) rotate(-90)">Prevalence(%)</text>
</g>
<g>
<path d="M1324.2 233.3V541.4M1350.8 233.3V541.4M1377.3 233.3V541.4M1403.9 233.3V541.4M1430.4 233.3V541.4M1457 233.3V541.4M1483.5 233.3V541.4M1510.1 233.3V541.4M1536.6 233.3V541.4M1563.2 233.3V541.4M1589.7 233.3V541.4M1616.3 233.3V541.4M1642.8 233.3V541.4M1669.4 233.3V541.4M1298.1 503.6H1695.5M1298.1 464.8H1695.5M1298.1 426.1H1695.5M1298.1 387.3H1695.5M1298.1 348.6H1695.5M1298.1 309.9H1695.5M1298.1 271.1H1695.5" stroke="#e6e6e6" stroke-width="1.1" fill="none"/>
<g transform="translate(1297.7 542.3) scale(1.81000 -0.38737)" fill="none" stroke="#00f" stroke-width="1.3" stroke-linejoin="round"><path d="M0 381L1 380L2 379L3 378L4 377L5 376L6 376L7 375L8 376L9 376L10 377L11 379L12 380L13 382L14 383L15 384L16 385L17 385L18 386L19 386L20 386L21 387L22 386L23 386L24 385L25 385L26 384L27 383L28 382L29 380L30 379L31 379L32 379L33 380L34 380L35 381L36 380L37 381L38 381L39 381L40 380L41 380L42 379L43 379L44 378L45 379L46 379L47 379L48 379L49 380L50 381L51 382L52 382L53 383L54 382L55 382L56 382L57 381L58 380L59 379L60 378L61 377L62 375L63 374L64 374L65 374L66 373L67 373L68 373L69 374L70 375L71 375L72 376L73 376L74 377L75 375L76 372L77 366L78 358L79 348L80 336L81 325L82 314L83 302L84 291L85 283L86 276L87 271L88 267L89 265L90 263L91 260L92 257L93 255L94 252L95 250L96 248L97 246L98 244L99 242L100 240L101 237L102 235L103 234L104 233L105 231L106 230L107 228L108 228L109 228L110 228L111 227L112 226L113 225L114 225L115 224L116 223L117 223L118 222L119 222L120 223L121 222L122 223L123 223L124 223L125 223L126 222L127 222L128 221L129 221L130 220L131 219L132 218L133 218L134 217L135 217L136 217L137 216L138 216L139 216L140 216L141 215L142 216L143 216L144 216L145 216L146 216L147 216L148 216L149 216L150 216L151 215L152 215L153 215L154 215L155 215L156 215L157 215L158 215L159 215L160 215L161 215L162 215L163 216L164 216L165 217L166 217L167 218L168 217L169 217L170 217L171 218L172 218L173 219L174 219L175 219L176 219L177 219L178 220L179 220L180 220L181 220L182 220L183 220L184 220L185 220L186 220L187 221L188 220L189 220L190 220L191 219L192 219L193 219L194 219L195 219L196 218L197 218L198 218L199 218L200 219L201 218L202 218L203 218L204 218L205 218L206 218L207 218L208 217L209 216L210 216L211 216L212 216L213 216L214 216L215 217L216 218L217 219L218 219L219 220L220 220L220 166L219 167L218 167L217 167L216 167L215 167L214 168L213 168L212 168L211 168L210 168L209 168L208 168L207 167L206 167L205 166L204 165L203 165L202 164L201 163L200 162L199 162L198 161L197 161L196 161L195 161L194 161L193 162L192 162L191 162L190 162L189 163L188 163L187 163L186 163L185 164L184 164L183 164L182 164L181 165L180 166L179 166L178 167L177 167L176 166L175 167L174 166L173 166L172 165L171 164L170 163L169 163L168 163L167 163L166 162L165 162L164 162L163 162L162 163L161 163L160 163L159 164L158 164L157 165L156 165L155 165L154 165L153 165L152 165L151 165L150 164L149 164L148 165L147 165L146 165L145 164L144 164L143 164L142 165L141 165L140 165L139 166L138 166L137 166L136 167L135 167L134 168L133 168L132 168L131 168L130 167L129 167L128 167L127 168L126 168L125 168L124 168L123 168L122 169L121 170L120 170L119 170L118 170L117 170L116 170L115 170L114 170L113 169L112 169L111 169L110 169L109 170L108 171L107 171L106 172L105 173L104 174L103 174L102 175L101 177L100 178L99 180L98 181L97 183L96 185L95 187L94 190L93 192L92 194L91 197L90 199L89 202L88 205L87 209L86 214L85 220L84 228L83 238L82 248L81 256L80 265L79 272L78 279L77 284L76 288L75 290L74 290L73 290L72 289L71 288L70 288L69 287L68 286L67 285L66 284L65 283L64 282L63 282L62 282L61 282L60 282L59 283L58 284L57 285L56 286L55 287L54 287L53 287L52 287L51 287L50 287L49 285L48 284L47 284L46 283L45 283L44 282L43 281L42 281L41 280L40 280L39 279L38 279L37 280L36 281L35 282L34 283L33 283L32 284L31 284L30 285L29 286L28 285L27 284L26 284L25 283L24 283L23 283L22 284L21 283L20 283L19 283L18 284L17 285L16 286L15 287L14 286L13 286L12 286L11 286L10 286L9 285L8 284L7 283L6 283L5 283L4 283L3 283L2 283L1 283L0 283Z" fill="#00f" stroke="#00f" vector-effect="non-scaling-stroke"/><path d="M13 299l1-25 1 10 1 2M16 286l1-30 1-5 1 0 1-3 1 13 1-20 1-9 1-1 1 5 1 9 1-5 1 9 1-1 1-7 1 7 1 9 1 15 1 14M34 286l1-10 1 18M38 283l1-10 1-1 1 7 1-19 1-3 1-6 1 11 1-7 1 19 1-4 1 6 1-10 1 12 1 11M61 293l1-16 1 17M98 182l1-7 1 2 1 8M167 217l1 4 1 3 1-6 1-2M196 217l1 3 1 3 1-2 1-14M3 372l1 8 1 8 1 3 1-8 1 2 1-17M16 372l1 24 1-26M58 287l1-11 1 1 1-4 1 8 1 1M79 337l1 5 1-12 1-18M107 180l1-12 1-2 1-6 1 7 1 0 1-13 1 5 1-1 1-9 1 4 1-3 1-6 1 1 1 12 1 2 1 10M132 173l1-7 1-3 1 3 1-2 1-2 1 0 1 12M155 175l1-11 1-7 1 5 1-5 1-2 1-4 1 0 1 3 1 10M164 164l1-5 1-6 1-1 1 1 1-10 1-1 1 3 1 4 1 16 1-8 1 4 1-8 1 14M179 166l1-6 1 1 1-2 1 8M199 213l1 7 1 3 1 11 1 0 1 4 1-1 1-7 1-2 1 8 1 12 1-4 1-4 1-3 1-4 1-9 1-1 1-5M15 371l1 24 1 3 1 1 1-6 1-29M75 373l1 11 1 2 1-4 1-2 1-35 1-22M87 264l1 4 1 4 1-7 1-16M204 171l1-7 1-8 1 8 1 13M0 274l1 16M37 380l1 3 1 9 1-19M70 375l1 14 1-6 1-5 1-1M74 377l1 24 1 2 1-2 1 11 1-9 1-25 1-32 1-16 1-13 1-10 1-22 1-9M87 267l1 1 1 4 1-7 1-16M104 232l1 14 1-2 1-1 1 2 1 9 1 6 1-5 1-5 1 10 1-6 1 1 1-1 1 4 1-5 1-3 1-1 1-4 1-4 1 1 1 1 1 2 1-1 1-6 1 1 1-7 1 1 1-7 1-7 1-3M135 209l1 9 1 3 1 1 1-1 1-3 1-1 1-9M217 216l1 5 1 1 1 8M38 380l1 6 1-9M48 363l1 19 1 12 1-23M155 214l1 2 1 1 1 4 1-11M200 165l1-10 1 0 1 10M36 360l1 33 1-12M38 381l1 14 1-1 1-7 1 1 1 4 1-16M46 378l1 11 1 4 1-20M50 379l1 5 1 3 1-5M153 213l1 4 1 3 1-1 1 3 1-12M196 168l1-8 1-15 1 2 1 6 1-2 1 2 1 3 1 3 1 1 1-1 1 2 1 0 1-4 1 0 1 10 1 8M0 403l1 13 1-5 1 1 1-6 1 15 1 10 1 0 1-11 1 1 1 4 1-3 1-14 1 0 1-5 1 10 1-6 1 6 1-7 1 7 1-10 1 5 1 8 1-18 1-8 1 1 1-6 1 22 1-2 1-7 1 1 1-11 1-10M66 284l1-4 1 1 1 21M70 295l1-12 1 9M72 292l1-12 1-15 1 2 1 7 1-3 1-7 1 0 1-5 1-2M91 203l1-11 1-9 1-7 1 4 1 9M120 214l1 13 1 0 1-1 1 10 1-1 1-7 1 0 1-1 1 1 1 4 1-6 1 6 1 2 1-7 1-9 1 6 1-8M160 215l1 5 1-7M162 213l1 14 1 1 1-12M167 215l1 7 1-3 1-6M173 219l1 3 1 2 1-2 1 2 1-14M185 218l1 10 1-2 1-14M0 389l1-18M93 247l1 6 1 4 1 5 1-9 1-4 1-5 1-1 1-3 1-1 1 4 1-7 1-1 1 2 1-8 1 2 1-4M183 164l1-9 1 0 1 5 1 8M0 279l1-5 1-5 1 10 1 1 1-3 1-6 1 16M23 286l1-19 1 23M32 289l1-15 1-16 1 15 1 3 1-7 1 7 1-14 1 15 1-11 1-11 1-3 1 3 1 16 1 23M61 290l1-11 1-13 1 2 1-7 1-7 1 15 1-10 1 1 1 3 1 1 1-5 1-10 1-5 1 2 1 2 1-1 1 26 1 8M82 253l1-32 1-1 1 2M88 207l1-12 1-2 1 11M115 223l1 7 1-9M117 221l1 18 1 4 1 7 1-2 1-1 1-2 1-4 1 0 1-7 1 5 1-4 1-16M129 219l1 7 1 7 1-5 1-4 1-1 1 3 1 0 1-1 1-5 1-5M139 215l1 7 1 4 1-9 1-1M165 164l1-5 1-4 1 0 1-1 1 2 1-1 1 3 1-2 1-5 1 6 1-1 1-2 1-2 1 0 1 9 1 17M215 179l1-15 1-2 1 10M56 287l1-13 1-5 1-10 1 7 1 6 1 2 1-7 1-1 1 8 1-17 1-10 1 2 1-3 1-2 1-8 1 1 1-4 1 15 1-11 1 7 1-7 1-4 1 10 1-14 1-10 1-12 1-4 1-3 1-1 1 5 1 8M121 173l1-10 1-8 1 6 1-1 1-2 1-1 1 4 1-2 1 0 1-1 1 4 1 8M140 168l1-12 1-6 1-5 1 8 1 1 1 3 1-4 1 9 1 12M210 170l1-4 1-6 1-2 1 1 1-1 1 2 1 6 1-1 1-12 1 2M30 285l1-15 1-8 1 4 1 7 1 1 1-1 1-8 1 18M38 283l1-21 1 13 1 3 1 0 1 14M48 296l1-15 1-2 1-11 1 1 1 17 1 16M76 364l1 11 1 7 1-12 1-37M93 201l1-17 1 4M105 174l1-5 1-7 1 15M155 169l1-12 1 8M200 163l1-6 1 5 1 3M203 165l1-3 1 0 1 2 1-8 1 9 1-2 1 8M10 298l1-16 1-3 1-18 1 2 1 18 1-6 1 7 1 3M18 285l1-11 1 2 1-2 1 2 1-1 1 0 1-6 1 6 1-4 1 14M30 289l1-11 1 5 1 1M33 284l1-8 1 2 1 8M86 276l1 2 1-6 1 4 1 3 1-3 1-11 1-12M93 253l1 6 1-1 1-10M167 168l1-12 1-2 1 7 1-5 1 7 1 9M202 215l1 11 1 8 1 5 1-9 1-7 1 0 1 9 1-4 1-12M211 216l1 4 1-3 1 3 1 2 1-6M217 218l1 4 1 6 1 1M144 164l1-3 1-2 1-1 1 2 1-3 1-2 1-2 1 13M193 168l1-11 1-5 1 1 1-1 1-5 1-6 1 9 1-3 1 2 1 4 1 2 1 3 1 2 1 8M207 168l1-5 1 1 1 4M142 173l1-15 1 0 1-1 1 8M191 164l1-4 1-1 1-2 1-10 1-3 1 5 1 2 1-9 1 2 1 5 1 6 1 3 1 8M208 171l1-10 1-3 1 3 1-4 1-1 1-4 1 1 1 4 1 6 1 0 1-1 1 8M17 385l1 4 1 2 1 0 1 1 1 8 1-7 1 2 1-12M32 366l1 29 1 1 1-13 1-7M85 269l1 13 1-4 1-11M132 217l1 8 1-5 1 4 1 8 1-3 1-4 1-5 1 1 1 8 1-3 1 2 1-4 1-18M149 214l1 7 1-4 1-5M164 209l1 10 1 4 1-4 1-2M168 217l1 11 1 0 1 5 1-3 1 1 1-5 1 6 1-1 1 2 1-5 1-4 1-1 1-4M206 177l1-12 1 2 1-4 1 14M35 372l1 10 1 7 1 3 1-4 1-13M51 374l1 12 1 12 1-14 1-6M61 352l1 32 1 13 1 10 1-2 1-12 1 8 1-11 1 0 1-2 1-10 1-14M86 270l1 11 1 5 1-15 1-6 1-6M96 242l1 10 1-7 1-4M99 241l1 6 1 2 1-3 1-7 1-2 1-15M155 169l1-10 1-3 1-10 1-6 1 4 1-7 1-1 1 2 1 5 1 2 1-8 1 2 1 3 1 0 1-2 1 9 1 0 1 12 1 3 1 4M175 168l1-13 1 0 1-5 1 2 1 18M198 169l1-8 1-1 1-9 1 11 1-6 1 10M210 170l1-11 1 13M217 168l1-4 1-7 1 9M7 291l1-14 1 8M71 289l1-9 1-6 1 0 1-10 1-14 1 3 1 7 1 2 1-2 1-5 1-31 1 8 1-1M181 172l1-17 1 4 1 7M185 170l1-12 1-12 1 8 1-1 1-3 1 0 1 7 1 3 1 0 1 7M0 274l1-16 1-9 1 6 1 1 1 15 1 2 1 10M29 379l1 9 1 10 1-11 1 5 1 3 1-3 1-2 1-1 1 4 1-12M53 379l1 4 1 11 1 4 1-2 1 1 1-7 1-5 1 5 1 0 1-10 1 3 1 14 1-1 1 1 1 3 1-13 1-10 1-17M113 171l1-6 1 4 1 3M143 164l1-1 1-11 1 9 1-1 1-10 1 12 1-5 1 5 1-4 1-13 1-4 1 0 1 4 1 7 1 6 1-4 1 0 1-2 1-1 1 6 1 5M181 219l1 7 1-1 1 1 1 2 1-4 1 6 1-5 1 7 1 0 1 10 1 2 1 1 1 0 1 0 1 1 1 4 1 1 1 0 1-1 1-7 1 1 1-6 1-5 1 1 1-9 1-3 1-5M36 295l1-28 1 0 1 22M40 281l1-6 1 5 1-4 1-17 1 14 1 9 1 1 1 3M49 292l1-12 1 12M54 296l1-13 1-12 1-13 1-7 1-4 1-3 1-1 1 1 1-8 1 11 1 17 1 1 1-14 1 1 1 0 1 11 1 2 1-1 1 1 1-3 1 11 1-5 1-4 1 11 1 2M80 271l1-22 1-20 1-21 1-14 1-1 1-8 1-7 1-3 1-3 1-6 1-2 1-14 1 7 1 5 1 1 1 6 1-12 1-3 1 8 1 6 1-10 1-2 1-6 1 11 1-2 1 6 1 5 1-3 1 1 1 9M113 170l1-5 1 2 1 14M138 172l1-7 1-14 1-1 1-5 1 6 1 18M145 170l1-7 1-9 1 7 1-3 1 7M190 219l1 5 1 9 1 8 1-2 1 2 1 5 1-15 1-5 1-11M20 293l1-22 1 14M26 297l1-16 1-2 1-6 1-1 1 6 1 4 1-16 1 8 1-3 1 10M36 281l1-10 1-8 1 8 1 23M76 367l1 1 1 11 1-18 1-22 1-35M158 169l1-11 1 7M194 164l1-9 1 6M196 161l1-1 1-2 1-10 1-2 1 6 1 9 1 7M203 168l1-9 1 9M209 169l1-12 1-2 1 2 1-6 1 2 1-2 1 0 1-8 1 8 1-2 1 1M60 374l1 15 1 0 1-8 1-2 1-11M80 269l1-23 1-15 1-9 1 7M94 252l1 4 1 6 1-6 1 4 1-14 1 5 1 5 1-4 1-6 1-6 1 5 1-3 1 5 1-15 1-7M138 213l1 14 1-4 1-3 1-1 1 6 1 2 1 0 1-3 1-3 1 4 1-11M163 208l1 12 1 1 1 3 1 0 1 6 1-3 1 2 1 2 1-7 1-15M33 369l1 19 1 5 1 10 1-7 1 10 1-2 1-4 1-2 1 10 1-1 1-9 1 16 1-7 1-1 1-10 1-3 1-6 1-5M57 374l1 7 1 8 1-21M0 398l1-7 1-8 1 7 1-11 1-10M8 373l1 13 1 3 1-6 1 3 1-3 1-4M14 379l1 12 1-5 1 14 1 2 1 0 1-11 1 12 1-9 1 3 1 5 1-8 1-9 1 0 1-1 1 6 1-3 1 6 1-7 1-12M56 378l1 13 1-2 1-6 1-4 1 13 1 5 1 10 1-7 1 2 1 2 1-3 1-3 1 4 1-12 1-8 1 19 1-6 1 13 1 10 1 0 1-5 1-13 1-5 1-29 1-26 1-23 1-7 1-28M115 221l1 11 1-8 1 9 1-4 1-7M158 214l1 4 1 11 1-3 1 8 1-14 1-5M0 382l1 5 1-7 1-4M34 376l1 11 1 7 1 0 1-1 1-1 1 10 1 1 1 2 1 6 1-8 1-11 1 1 1-5 1 3 1 3 1 20 1-9 1 7 1-13 1 1 1 1 1-8 1 13 1-7 1-11 1 5 1-28M107 224l1 9 1-12M110 224l1 13 1 12 1-5 1 4 1-1 1-6 1 3 1 5 1 0 1-2 1-2 1-8 1 3 1-6 1-6 1-2 1 1 1 12 1-5 1-5 1-12M131 217l1 12 1-14M206 168l1-13 1-6 1 4 1 1 1 8 1 10M0 407l1 13 1-4 1-6 1-2 1-9 1 3 1 5 1-11 1 15 1-20 1 8 1-4 1 1 1-7 1 11 1-6 1-20M21 386l1 12 1-15M24 384l1 13 1 13 1 4 1 2 1 3 1-9 1 10 1 2 1-10 1-8 1-2 1-1 1 11 1-17 1-13 1-20M74 292l1-9 1 15M137 168l1-5 1-8 1-10 1 4 1 5 1 12M145 172l1-8 1-4 1-1 1 11M185 216l1 9 1 3 1-7 1-2M192 213l1 10 1-2 1 3 1-1 1-11M28 286l1-8 1-11 1 9 1 3 1 12M33 291l1-15 1 8M35 284l1-15 1-5 1-7 1 2 1 15 1-3 1 12M59 293l1-16 1-4 1-22 1 6 1 17 1-1 1 5 1 4 1-22 1-2 1 13 1-6 1-1 1-1 1 0 1 4 1 22M78 290l1-27 1-13 1-25 1-11 1-6 1-19 1-7 1 12 1-12 1-4 1 10 1 4 1 2 1-3 1 7M96 188l1-17 1 1 1-2 1-5 1 13M113 180l1-22 1-8 1-6 1-1 1-2 1 1 1 6 1 3 1 8 1 1 1 0 1 3 1 4 1-1 1 3M129 171l1-18 1 11 1 8M146 166l1-4 1-2 1 0 1 16M17 384l1 10 1 8 1-2 1 4 1-11 1 10 1-5 1 1 1 1 1-18M65 289l1-6 1-3 1-8 1 7 1 12M71 301l1-21 1 15M135 171l1-5 1-1 1-2 1-2 1 7M168 197l1 21 1 2 1 7 1-3 1 6 1-1 1-6 1-7M178 216l1 9 1-2 1 2 1 0 1-1 1-2 1-1 1-3M34 284l1-9 1 5 1-4 1-4 1 1 1-11 1-5 1 6 1 12 1 10M112 175l1-12 1 0 1 8M150 172l1-8 1-3 1-1 1 3 1 6M62 369l1 7 1 0 1 12 1-9 1-20M74 372l1 12 1 4 1-3 1-8 1-14 1-25 1-24M110 224l1 11 1 11 1 2 1 1 1-4 1-1 1 0 1-4 1-2 1 1 1-8 1-12M218 169l1-12 1 6M0 398l1 6 1-5 1-14 1 7 1 4 1-16 1-20M11 360l1 27 1 5 1-17M20 385l1 11 1-5 1-16M28 364l1 26 1 6 1-5 1-10 1 3 1-5M34 379l1 11 1 0 1-15M157 175l1-16 1 0 1-9 1-4 1-2 1-4 1 9 1 2 1 6 1 2 1-6 1 5 1 2 1 8M6 295l1-16 1-5 1 1 1-1 1-11 1 2 1 0 1-10 1 5 1 3 1 5 1 8 1 7M21 289l1-13 1-4 1-6 1-1 1-7 1-4 1 11 1 3 1 5 1-12 1 4 1 0 1-5 1 6 1-5 1 14 1 0 1 3 1-11 1-13 1 6 1 0 1 14 1-5 1-2 1 9 1 1 1 14M62 291l1-11 1-5 1 2 1 18M74 297l1-13 1 0 1 8M130 170l1-6 1-5 1 10M155 169l1-7 1-4 1 7M160 163l1-6 1-2 1-8 1 3 1-1 1 14M170 164l1-1 1 1 1-3 1 9M44 364l1 21 1 15 1-8 1-17M68 358l1 17 1 13 1-14M72 371l1 7 1 5 1-27M88 264l1 8 1-23M6 296l1-17 1-9 1 5 1 7 1 10M58 299l1-21 1-9 1 5 1 22M125 222l1 8 1-7 1-7M129 214l1 7 1-1 1 3 1 5 1-11M138 215l1 7 1-12M144 212l1 9 1 1 1-3 1-8M191 203l1 18 1 3 1-4 1-6M195 214l1 7 1-2 1 3 1 2 1 13 1-4 1-3 1 3 1-4 1-5 1-10M208 211l1 17 1-8 1-6M217 217l1 10 1-3 1-6M70 374l1 8 1 6 1 3 1 3 1 6 1-31M117 172l1-7 1-2 1 2 1-12 1-7 1 3 1 5 1-4 1 3 1 1 1 12 1-4 1-4 1-5 1 2 1 2 1 6 1 12M138 171l1-10 1 4M140 165l1-12 1 5 1 7M146 165l1-1 1-3 1-5 1-3 1-2 1 0 1 9 1 4 1 8M214 215l1 14 1-8 1-1 1 12 1 3 1 6M3 285l1-11 1 20M14 300l1-26 1 7 1-4 1-3 1 2 1-8 1 3 1 15M25 293l1-22 1 11 1-5 1 11M94 207l1-23 1-2 1-4 1-1 1-2 1-7 1 4 1 5M119 174l1-11 1 5 1 6M22 285l1-6 1-12 1-12 1 4 1-3 1 13 1 26M41 285l1-21 1 2 1 34M93 255l1 8 1-6 1-7 1-3 1-2 1 5 1-1 1 0 1-20M162 208l1 18 1 0 1-8 1 0 1 2 1-3M168 217l1 12 1 4 1 0 1-2 1 10 1 9 1-3 1-1 1-8 1-6 1 1 1 7 1-1 1 0 1 2 1 8 1 0 1-1 1-6 1-8 1-1 1-1 1-1 1-13M199 210l1 13 1 5 1 2 1-6 1 0 1-12M0 288l1-8 1 1 1-11 1 2 1 9 1 3M6 284l1-4 1 0 1 1 1-12 1 25M26 284l1-4 1 0 1-2 1 27M51 289l1-12 1 21M55 301l1-25 1 11M66 288l1-6 1-11 1 3 1-2 1 0 1 0 1 6 1 5 1 17M81 264l1-18 1-10 1-16 1-8 1-15 1 9 1-3 1-8 1-2 1 2 1-14 1-4 1-9 1 5 1 10 1-2 1-13 1 5 1-2 1 3 1-2 1-8 1 10M104 174l1-11 1-5 1 5 1 0 1 2 1 9M110 174l1-6 1-5 1 11M116 173l1-4 1-4 1-2 1 1 1 5 1 4M158 212l1 12 1-5 1-7M161 212l1 10 1-1 1 13 1-8 1-5 1-8M203 216l1 8 1 7 1-3 1 10 1-3 1 0 1-2 1-8 1 10 1-6 1 8 1-1 1-6 1 2 1 1 1-1 1 7M95 245l1 12 1-2 1 0 1-2 1 0 1-2 1-6 1-6 1 1 1-13M106 228l1 10 1-4 1-2 1-7M3 287l1-14 1 7 1 0 1-10 1 9 1 19M23 377l1 14 1-18M51 290l1-14 1-3 1 1 1-7 1 6 1-1 1 8 1 0 1 10M76 362l1 5 1 12 1-14 1-14 1-23 1-11 1-17M81 271l1-33 1-18 1-10 1-1 1 0 1 2M128 219l1 6 1 1 1 4 1-5 1-1 1-5 1-12M164 204l1 14 1 4 1 4 1 11 1-8 1-1 1 4 1-4 1 4 1 16 1-7 1 1 1-2 1-18 1 8 1 1 1-13M181 218l1 8 1 0 1-5 1 3 1-7M22 372l1 26 1 24 1-12 1-2 1 6 1 1 1-7 1-6 1 8 1 13 1-7 1-15 1-7 1 6 1-2 1-4 1 10 1-8 1-6 1-5 1-1 1-9M57 300l1-20 1-5 1 3 1-7 1-25 1 13 1-8 1-5 1 1 1-3 1 13 1-7 1 12 1 13 1 22M90 259l1 8 1-11M100 236l1 4 1 4 1-9 1-12M46 292l1-24 1-3 1 22M78 352l1 12 1-17 1-16 1-23M100 240l1 10 1 1 1 1 1-5 1 4 1-3 1-3 1-7 1 2 1-12M110 228l1 3 1-3 1-1 1 5 1 0 1-20M125 171l1-9 1-7 1-4 1 0 1 2 1 8 1-1 1 4 1 12M60 371l1 12 1-4 1 4 1 15 1 1 1 12 1-9 1 4 1 0 1-8 1 0 1-7 1-4 1-13M98 182l1-3 1-13 1-5 1-1 1 8 1 8M52 376l1 11 1-2 1 0 1 5 1 6 1-8 1-2 1 2 1-13M74 372l1 8 1-7 1 0 1-15M102 177l1-10 1-2 1 8M110 170l1-3 1-3 1-9 1 9 1 7M115 171l1-6 1 8M128 167l1-4 1 3 1-5 1 7M179 177l1-14 1-6 1-8 1 11 1-6 1 5 1 0 1-4 1-1 1-4 1 4 1-5 1 0 1 5 1 2 1 5M195 161l1-11 1-1 1-1 1 10 1-4 1 9M210 176l1-13 1 9M85 232l1-23 1-15 1 4 1 4M150 213l1 7 1-8M0 252l1 10 1 9 1 14M3 285l1-3 1-9 1 4 1 3 1 5M81 258l1-17 1-7 1-14 1-14 1-4 1-14 1-4 1-3 1-2 1 3 1-7 1 9 1 0 1-4 1 2 1 4M110 174l1-8 1-9 1 6 1 15M118 179l1-13 1-7 1-5 1-6 1 3 1 5 1-2 1-4 1 7 1 7 1 4M85 274l1 13 1 5 1-12 1-3 1-7 1-6 1-1 1-1 1-2 1-1 1-7 1 6 1-12 1-3 1-13M34 284l1-20 1 6 1 12M37 282l1-4 1-8 1 8 1 13M63 374l1 5 1-11M75 372l1 2 1 15 1-27 1-5 1-34M88 205l1-16 1 12M5 283l1-9 1 4 1 8M59 288l1-18 1 7 1-19 1 1 1 0 1-6 1 19 1-5 1 4 1-1 1 14 1 6M71 290l1-2 1-4 1 1 1 7M75 292l1-10 1-3 1 13M81 269l1-23 1-9 1-16 1 0M88 205l1-9 1-4 1 0 1-10 1-7 1 0 1 7 1 2 1 16M102 188l1-16 1-2 1-2 1-6 1 5 1 7M162 212l1 6 1 5 1 5 1-6 1 5 1-7 1 7 1-13M174 219l1 4 1-2 1 5 1-3 1-5M190 220l1 10 1-4 1-2 1-1 1 8 1 3 1 6 1-11 1-1 1-6 1-1 1-1 1-10M8 301l1-22 1 1 1-1 1 7M53 375l1 14 1-9M76 368l1 6 1-10 1-6 1-29M126 222l1 2 1 5 1-8M132 218l1 5 1 2 1-12M15 293l1-10 1-4 1 5M19 303l1-28 1 5 1 17M24 288l1-17 1 17M34 287l1-18 1-8 1-5 1 0 1-2 1-3 1 29M42 282l1-11 1 13M45 289l1-7 1-12 1 0 1 6 1 0 1 15M97 196l1-17 1-15 1-1 1 7 1-6 1-2 1 16M104 178l1-11 1-3 1 2 1 8M108 174l1-10 1 2 1-6 1-1 1 2 1 6 1 4M213 178l1-15 1 3 1 13M219 168l1-9M82 255l1-24 1-11 1-6 1-11 1 1 1 6M98 189l1-13 1-7 1 1 1-3 1 7M112 170l1-6 1 10M138 171l1-8 1-13 1 0 1-5 1 3 1-3 1 13 1 3 1 1 1 7M174 211l1 14 1 0 1-3 1 0 1-4M179 218l1 8 1 4 1 4 1-1 1-1 1 5 1-10 1 4 1-8 1 4 1-12M190 215l1 10 1-3 1-4M193 218l1 7 1 1 1-9M196 217l1 5 1 1 1-6M120 214l1 11 1 7 1-10M147 165l1-1 1-10 1 3 1-13 1-3 1 5 1 6 1 6 1 0 1 6 1-4 1-5 1-1 1 2 1 0 1-9 1 6 1 9M12 291l1-23 1 3 1-6 1 13 1 4 1 9M20 285l1-9 1-10 1-10 1 5 1-2 1 9 1 14 1 0 1 0 1 10M32 295l1-30 1-17 1 20 1 16M55 298l1-21 1 13M103 231l1 3 1 0 1-1 1 12 1-5 1-4 1 6 1-1 1 0 1 2 1-3 1-1 1-3 1-4 1-10M118 222l1 8 1-4 1-3 1-3M122 220l1 11 1 1 1-2 1-12M129 213l1 14 1-6 1-2 1 5 1 7 1-3 1 3 1 2 1-11 1-8M139 214l1 3 1 4 1-1 1-8M178 168l1-10 1 3 1-2 1 0 1-5 1-3 1 1 1-11 1-4 1-1 1 2 1 0 1 1 1 7 1 4 1 1 1 10M195 161l1-5 1-3 1-1 1-4 1 2 1 4 1 8 1 21M10 376l1 17 1 8 1-13 1-5M14 383l1 12 1 3 1-13M17 385l1 5 1 10 1 1 1-27M22 380l1 10 1 0 1-3 1-2 1 4 1 2 1 5 1 12 1-8 1-11 1-28M56 361l1 25 1 8 1-21M88 229l1-28 1-18 1 5 1-1 1-8 1 3 1-4 1 1 1 3 1 9M131 219l1 6 1-6 1 2 1-7M151 211l1 9 1 1 1-12M129 175l1-9 1-4 1-7 1 2 1 0 1-4 1-17 1 3 1 4 1-4 1-1 1 4 1 3 1-10 1 3 1 2 1 3 1-3 1 4 1 12 1 4 1 0 1-10 1-1 1 1 1-3 1 7 1 2 1 4 1 13M171 167l1-9 1 7 1 14M200 217l1 8 1 2 1 2 1-6 1-2 1 0 1 4 1-11M133 172l1-11 1 14M207 218l1 1 1 2 1-1 1-10M22 284l1-2 1-6 1 20M31 303l1-26 1 8M168 175l1-16 1 3 1-3 1-9 1 4 1 5 1 0 1 5 1-8 1 5 1 5M179 166l1-2 1-8 1 8M213 171l1-8 1 15M57 381l1 0 1 5 1-20M70 374l1 24 1-11 1-15M83 240l1-18 1-5 1-11 1-6 1 4 1-1M97 187l1-11 1-2 1-2 1 5M130 176l1-12 1-3 1 8M182 173l1-14 1-4 1 5 1 3M186 163l1-6 1 7M188 164l1-6 1 3 1 9M217 218l1 12 1-2 1 1M41 284l1-7 1-5 1 1 1-11 1-5 1-10 1 1 1 8 1 0 1-11 1-6 1-2 1 23 1-4 1 15 1 3 1 6 1 25M112 223l1 9 1-15M114 217l1 8 1 8 1-2 1 0 1-4 1-2 1 6 1-6 1-2M123 223l1 4 1-1 1 2 1 1 1-8M136 213l1 9 1-4 1 6 1-21M193 211l1 15 1-15M195 211l1 10 1 4 1-11M213 174l1-8 1-3 1-1 1-7 1 1 1 5 1 11M15 297l1-14 1-6 1 3 1-3 1 1 1-10 1 21M22 289l1-13 1 18M46 379l1 10 1 0 1 2 1 0 1 2 1 1 1-10 1-8M81 256l1-16 1-17 1 5M87 210l1-10 1-4 1 2 1-8 1 9M170 164l1-3 1-3 1 1 1 7M188 172l1-13 1-4 1 9M48 305l1-28 1 10M50 287l1-7 1 11M100 234l1 9 1-5 1-9M155 200l1 17 1 6 1-4 1 1 1-4 1 1 1-3M14 373l1 18 1-6M16 385l1 5 1-5M18 385l1 15 1-12 1-14M124 170l1-3 1-5 1 5 1 3M179 213l1 12 1 1 1 2 1-7 1 0 1 5 1 2 1-5 1-8M215 212l1 11 1 9 1-7 1-13M1 290l1-16 1 3 1 12M73 369l1 16 1-7 1-7M86 274l1 3 1-20M98 243l1 14 1-4 1-10 1-12M105 224l1 8 1 7 1-6 1-12M111 222l1 6 1 0 1 1 1 5 1 8 1-7 1-9 1 1 1 2 1 6 1-14M0 272l1 13M1 285l1-15 1-4 1 9 1-3 1 3 1-2 1 0 1-5 1-6 1 2 1 12 1 5 1-4 1-2 1 7 1 6M46 377l1 9 1-7M48 379l1 13 1-3 1 17 1-10 1-5 1 13 1 3 1-1 1 1 1 9 1 2 1-2 1 2 1 12 1-13 1 3 1 2 1 10 1-1 1-3 1-22 1 1 1-13 1 3 1-15 1-7M76 372l1 8 1 0 1 1 1-26 1-20 1-24M129 169l1-10 1 2 1 1 1-3 1 1 1 3 1-7 1-4 1 2 1 11 1-6 1-4 1 15M145 167l1-7 1 1 1 1 1 20M190 209l1 13 1 0 1-1 1 10 1-13M195 218l1 7 1-3 1 5 1-7 1-6M44 283l1-13 1 5 1 0 1 9M56 302l1-20 1-7 1 16M184 166l1-3 1-2 1-7 1 5 1 9M189 168l1-8 1 0 1-4 1-5 1-1 1 5 1-8 1 4 1 6 1 3 1 3M27 375l1 9 1 3 1-21M77 361l1-2 1 1 1-32M156 179l1-15 1-11 1 13M199 164l1-7 1-3 1 9 1 5M9 289l1-14 1 9 1 8M17 290l1-15 1-7 1 5 1-1 1-3 1 9 1 6M25 288l1-18 1 5 1-3 1 14M34 285l1-10 1 10M44 282l1-6 1-7 1 2 1 4 1 0 1 6 1 5 1 9M82 259l1-30 1-10 1 3M136 217l1 1 1 7 1 7 1-4 1-2 1 1 1-10 1-10M146 211l1 9 1 10 1 2 1-1 1-9 1-3 1-3 1 8 1-1 1-9M7 290l1-17 1 12M9 285l1-4 1-18 1-1 1 12 1-2 1-10 1 8 1-2 1 3 1 14M21 289l1-20 1-8 1-5 1 12 1 4 1 8 1 4 1 15M50 379l1 12 1-21M60 375l1 8 1 7 1-13 1-7M75 368l1 6 1-3 1 2 1-35M97 187l1-10 1-5 1 3 1-7 1 10M179 176l1-12 1-5 1-3 1-6 1 10 1 16M13 363l1 26 1 11 1-16M16 384l1 8 1-16M146 212l1 7 1 3 1 2 1-8M158 206l1 13 1 6 1-4 1 0 1-3 1-6M209 209l1 12 1-12M0 392l1-1 1-1 1 4 1 13 1-33M41 281l1-6 1 7M43 282l1-10 1 10 1-6 1-14 1 16 1-11 1 3 1 6 1-10 1-2 1 5 1-4 1 19 1 1M169 210l1 11 1 4 1-11M182 216l1 7 1 10 1-6 1-4 1-4M188 218l1 14 1-3 1-8 1 10 1-18M214 214l1 8 1 1 1 4 1-2 1-2 1 3M32 371l1 17 1 2 1 13 1-4 1-2 1-13 1-6M83 247l1-24 1-7 1 7M93 199l1-12 1-17 1 17M98 188l1-16 1 2 1 5M156 167l1-7 1 7M171 172l1-14 1 4 1 8M184 165l1-11 1-3 1 9 1 5M60 361l1 27 1 24 1 8 1 1 1 9 1 4 1-3 1 2 1-14 1-3 1-12 1-11 1-4 1 4 1 4 1-19 1 16 1 2 1-15 1-27 1-21 1-26M101 189l1-21 1 8M103 176l1-11 1 4 1 0 1-1 1-12 1 5 1-8 1-1 1 2 1 2 1 7 1-2 1-15 1 3 1 1 1-3 1 2 1 1 1 1 1 1 1-1 1 11 1 3 1 3M161 174l1-17 1-13 1-5 1-1 1 2 1 7 1 0 1 9 1 4 1 0 1 3 1 1 1-5 1 6 1 7M176 172l1-6 1-7 1-2 1-4 1 5 1 13M202 217l1 7 1-3 1 9 1-6 1 4 1 1 1-14M210 214l1 8 1-7M17 296l1-15 1-18 1-5 1-12 1 0 1-17 1 16 1-9 1 6 1 30 1-4 1-1 1 26M45 283l1-10 1 2 1 3 1-4 1-9 1 5 1 8 1 5 1 28M145 208l1 14 1-2 1 7 1-2 1-8 1-6M44 378l1 6 1-1 1-11M65 370l1 4 1 5 1-1 1-9M77 346l1 18 1-21M9 354l1 27 1 11 1 5 1 16 1-11 1 8 1-6 1-15 1-6M51 373l1 10 1 6 1 9 1 5 1-13 1 5 1-26M65 372l1 7 1-5 1 14 1 3 1 5 1-10 1 10 1 9 1-3 1-11 1 13 1 6 1 2 1-21 1-23 1-27 1-37M87 262l1 12 1-18M89 256l1 9 1-1 1 0 1-5 1-2 1-4 1-13M52 307l1-22 1-7 1 14M95 188l1-9 1-5 1 0 1 12M108 171l1-5 1-2 1 6M132 168l1-6 1 7M153 170l1-11 1 1 1 1 1 12M208 211l1 7 1 6 1 2 1 5 1 4 1-4 1 3 1-2 1 4 1-16 1-1M35 377l1 12 1 0 1 4 1-8 1 0 1 8 1-26M43 375l1 10 1-10M47 366l1 19 1 1 1-12M146 209l1 9 1 2 1 6 1-2 1-6 1-1 1 4 1-6M154 215l1 4 1 3 1-2 1-7M177 170l1-8 1-1 1 2 1 6M75 361l1 15 1 14 1-7 1-12 1-26 1-28M168 164l1-3 1-3 1 0 1-6 1-1 1 3 1 2 1-1 1-2 1-5 1-5 1 2 1 7 1-7 1 2 1 2 1 3 1 5 1 3 1 2 1 6M15 382l1 20 1-25M17 377l1 12 1-1 1 6 1 10 1-15 1-10M23 379l1 9 1 6 1 4 1 5 1-6 1-10 1-16M60 369l1 13 1-17M68 361l1 19 1-7M98 183l1-8 1 2 1-3 1 14M107 172l1-3 1-6 1-3 1 6 1-13 1-9 1 5 1 2 1 3 1 0 1 3 1-7 1 2 1 8 1 2 1 3 1-2 1-1 1 0 1-2 1 3 1-5 1 11M137 169l1-11 1 4 1 4M152 168l1-5 1-4 1-3 1-3 1 10 1 1M44 285l1-6 1-13 1 10 1-8 1-10 1 9 1 0 1 7 1 6 1 10M72 296l1-14 1-9 1 1 1 11 1 15M84 234l1-19 1 1M167 218l1 1 1 5 1-6 1 4 1-8M5 286l1-6 1-4 1-5 1-7 1 6 1 11 1 3 1 10M31 375l1 14 1 9 1 4 1-6 1-13 1 5 1 4 1-5 1 14 1 3 1-3 1-8 1-5 1-7 1-9M162 215l1 7 1 13 1-1 1-6 1-9 1-4M169 216l1 8 1-7M1 367l1 24 1 2 1-9 1 5 1-5 1-3 1 3 1 10 1 12 1 3 1-5 1 2 1-3 1-10 1-7 1-6M18 384l1 19 1 5 1-13 1-4 1-3 1 4 1 8 1 9 1-12 1-8 1-8 1 7 1-14M38 381l1 7 1-12M77 357l1 22 1-13 1-24 1-21M82 312l1-3 1-15 1 5 1-5 1-15 1 0 1-6 1-4 1-5 1-2 1-12M131 169l1-7 1-3 1-1 1 3 1-6 1 2 1 12M139 166l1-6 1-8 1 2 1 4 1-7 1 18M145 169l1-5 1-8 1-9 1 6 1 0 1-1 1 4 1-14 1-4 1 7 1 0 1 10 1 4 1 2 1-2 1-2 1-4 1 8 1-14 1 1 1 10 1-1 1 4 1 11M164 165l1-9 1-1 1 7 1-4 1-2 1 8M195 217l1 7 1 4 1-7 1-4M199 217l1 8 1 3 1-11M204 213l1 9 1 12 1-1 1-6 1 0 1-15M211 213l1 9 1 7 1-5 1-9M40 294l1-17 1-1 1 7M43 283l1-10 1 9 1 22M83 248l1-27 1 3M128 179l1-17 1 0 1 5 1 5M150 164l1-5 1 5 1-2 1 5M164 173l1-15 1-2 1 10M167 166l1-8 1 4 1 6M12 299l1-18 1 8M14 289l1-7 1-2 1-9 1 16M89 206l1-10 1-7 1 4 1-4 1-10 1-1 1-3 1 0 1 6M98 181l1-10 1 7M125 171l1-4 1-9 1-6 1 9 1 6M150 206l1 17 1 0 1 2 1 0 1-8 1-1 1 10 1-4 1 2 1 7 1-8 1 1 1 1 1-14M167 214l1 6 1-2 1 5 1 8 1-5 1-5 1 8 1 3 1-3 1 2 1-7 1-6M9 371l1 10 1 8 1-9M14 382l1 4 1 5 1 2 1-14M82 255l1-26 1-16 1-1 1 2M103 181l1-12 1-2 1-6 1 0 1-5 1 1 1 3 1-1 1 8 1-8 1-5 1-3 1 2 1 4 1 2 1 5 1 9M132 176l1-17 1 8 1 2M135 169l1-5 1-1 1-6 1-5 1-7 1-6 1-2 1 5 1 12 1 7 1-2 1-1 1-3 1 10M0 260l1 11 1-2 1-2 1-13 1 39M8 296l1-13 1-9 1 24M53 366l1 27 1-8 1-19M90 216l1-25 1-2 1 5M120 220l1 13 1-1 1-1 1 0 1-1 1 1 1 1 1-4 1 0 1-16M163 209l1 12 1-4M194 162l1-4 1-7 1-8 1 10 1 8 1 9M19 377l1 21 1 4 1 7 1-18 1 6 1-12M42 368l1 17 1-20M197 166l1-14 1 11M202 168l1-6 1 0 1-1 1-1 1-2 1 4 1-1 1-3 1 0 1 8 1 2M213 168l1-3 1 0 1-1 1-6 1 13M28 303l1-18 1-9 1 17M31 293l1-17 1-8 1 19M34 287l1-8 1-7 1 1 1-6 1-8 1-1 1 15 1 0 1 7 1-8 1 5 1 20M47 288l1-9 1 9M49 288l1-7 1 0 1 0 1 20M76 290l1-14 1 20M82 252l1-19 1-5M84 228l1-20 1-5 1-19 1 4 1-1 1-8 1 0 1-2 1-2 1 1 1 3 1-4 1 6 1 2M98 183l1-10 1 1 1 10M206 213l1 10 1-2 1-2 1 7 1 1 1-5 1-4 1 3 1 5 1 3 1-1 1 1 1-1 1-2M0 389l1 0 1-5 1-8M5 356l1 32 1 20 1-8 1 7 1 7 1-6 1-12 1 13 1 0 1-12 1-12M16 385l1 6 1 12 1-11 1-11M20 381l1 8 1 3 1-19M120 177l1-13 1-3 1 4 1 3M125 176l1-14 1 5 1-4 1 6M129 169l1-9 1 9M132 174l1-10 1-8 1 6 1 6M138 170l1-9 1 3 1-5 1 6M147 166l1-7 1 8M217 212l1 8 1 5 1-1M20 290l1-16 1 13M115 217l1 12 1 6 1-2 1 5 1-3 1-3 1-7 1 4 1-4 1 5 1-4 1 1 1-7M142 215l1 5 1 1 1 2 1-6 1 4 1-1 1-14M166 171l1-12 1-8 1-6 1-1 1 4 1 0 1 5 1 13M182 165l1-7 1 0 1-5 1 3 1 6 1 2M191 165l1-6 1-6 1-2 1-2 1 12M52 302l1-16 1-8 1-3 1-7 1 23M59 285l1-8 1 22M77 359l1 5 1-7 1-28M135 208l1 15 1 3 1-5 1 3 1 0 1 10 1-10 1-6 1-1 1-12M209 212l1 5 1 12 1 5 1 9 1-6 1 0 1 0 1-4 1-4 1-10M47 357l1 24 1 11 1 2 1-7 1-21M129 208l1 13 1 4 1-10M174 218l1 7 1 5 1 3 1 0 1-5 1 1 1-8 1 2 1 3 1-4 1-15M13 288l1-17 1-8 1 29M17 285l1-14 1 15M105 231l1 2 1 17 1-16 1 10 1-3 1-6 1-8 1-3M138 167l1-4 1-3 1-1 1-1 1 8M218 174l1-10 1-5M35 283l1-10 1 0 1 9M101 185l1-14 1-2 1 14M104 183l1-15 1-4 1 3 1 4M144 216l1 5 1 2 1-11M151 213l1 5 1-2 1 9 1-14M71 290l1-4 1-8 1 18M81 260l1-26 1-8 1-3 1 7M6 372l1 12 1 5 1-1 1-7 1-10M31 378l1 12 1-3 1 7 1 4 1-11 1-5 1 14 1-13 1-1 1 6 1-16M42 372l1 9 1 5 1-2 1-9M77 356l1 7 1-17M126 222l1 7 1-5 1 8 1-8 1-4 1 0 1-1 1 7 1-9M144 213l1 6 1 4 1 5 1-5 1-9M184 168l1-9 1-9 1 1 1-3 1-2 1 0 1-4 1 4 1-7 1-2 1 8 1 3 1-3 1 9 1 9M104 230l1 7 1-10M25 385l1 16 1-8 1 2 1 9 1-24 1-4M41 368l1 22 1-15M43 375l1 12 1 6 1 1 1-15M73 292l1-14 1-7 1 10 1 8M77 289l1-15 1-7 1-22 1-10 1-14 1-20 1 2 1 1 1 7 1-1M127 218l1 8 1 1 1-2 1-6M147 212l1 5 1 7 1-9M188 205l1 16 1 7 1-5 1-6M193 212l1 8 1 0 1 10 1-7 1-16M204 213l1 7 1 6 1-8M55 290l1-13 1-8 1 7 1-4 1 4 1 17M94 252l1-1 1-1 1 9 1 3 1 0 1-8 1-14 1 3 1 3 1-7 1-15M151 209l1 7 1 2 1 4 1-3 1-1 1-1 1-7M10 364l1 17 1 8 1-4 1-18M23 382l1 25 1 6 1-3 1-10 1 3 1-2 1-2 1-12 1-4 1 5 1-6 1 3 1-9M36 376l1 14 1-7 1-11M41 370l1 13 1 14 1 2 1 14 1-6 1-1 1 3 1-10 1-8 1 0 1 2 1-4 1-30M72 372l1 9 1 3 1-5 1-5 1-2 1-7 1-6 1-39M111 211l1 19 1-1 1 3 1-9M0 395l1 5 1-1 1-1 1-10 1-14M87 216l1-19 1-4 1 0 1 4M116 172l1-7 1-3 1 5 1 4M183 220l1 4 1 3 1 0 1-1 1-10M0 281l1-1 1-9 1 7 1-13 1 8 1-11 1 1 1-3 1 5 1 0 1 16 1 8M33 286l1-20 1-3 1 5 1 5 1 3 1 5M39 281l1-8 1 9M85 269l1 11 1 10 1-5 1-4 1-10 1 1 1-3 1-2 1-10 1 6 1-11 1-9M174 166l1-12 1-2 1 13 1 10M3 287l1-8 1-1 1-4 1 8 1 6M54 300l1-22 1-21 1 7 1 5 1-8 1 9 1 4 1-2 1 10M63 282l1-17 1-2 1 23M72 297l1-20 1 14M101 178l1-9 1 13M151 173l1-17 1 1 1-7 1 9 1-3 1 2 1-2 1-2 1 10M160 164l1-4 1-4 1-4 1 2 1 2 1 0 1 2 1 13M185 220l1 5 1-5M188 219l1 7 1 4 1-9 1-15M38 378l1 6 1 17 1 7 1 3 1 6 1 12 1 2 1 6 1-8 1-15 1-9 1 9 1-11 1 17 1 3 1-9 1-9 1-4 1-12 1 0 1 3 1-5 1-10M109 177l1-13 1-5 1 3 1-3 1 1 1 4 1-1 1 3 1-7 1 0 1 12M122 171l1-12 1 2 1 3 1-2 1 3 1 3M166 162l1-7 1 0 1 8M181 170l1-15 1 3 1 4 1 2M188 167l1-10 1-3 1-4 1-2 1 5 1 4 1 13M1 378l1 11 1 16 1 10 1-5 1 1 1-15 1-1 1 5 1 10 1 5 1-17 1 4 1-19M61 375l1 5 1 7 1-1 1-20M77 359l1 13 1-19 1-17M106 223l1 9 1-1 1 2 1 8 1 0 1 2 1 0 1 2 1-6 1 7 1 0 1-10 1-3 1 0 1-1 1-6 1-1 1 1 1 4 1-2 1-1 1 3 1-11M135 214l1 4 1-1 1 0 1 2 1-1 1 4 1 4 1-1 1-3 1 1 1 2 1 0 1-4 1 5 1-4 1-9M42 378l1 11 1 6 1-5 1 0 1-2 1-7 1 1 1 4 1-15M79 280l1-18 1-14 1-30 1-12 1 3 1 0 1-9 1 0 1 4 1 4M136 214l1 11 1 2 1 4 1-5 1 12 1-7 1 5 1 1 1-4 1-5 1-1 1-2 1-1 1 2 1-2 1 8 1-7 1-3 1-1 1 5 1-1 1-12M165 215l1 8 1-2 1-1 1-2 1-4M174 212l1 10 1 7 1-2 1-13M184 205l1 17 1 5 1 2 1-2 1 6 1 5 1-1 1 6 1-2 1-5 1-6 1-6 1 2 1-9M198 217l1 3 1 2 1 4 1-1 1-12M2 288l1-13 1 16M13 293l1-8 1-12 1-5 1-3 1-4 1 10 1-4 1 2 1-7 1 5 1 13 1 8M26 285l1-6 1 6M28 285l1-23 1 12 1 0 1-11 1 3 1-6 1 0 1 5 1 15M54 290l1-7 1-22 1-7 1 8 1-11 1 3 1-7 1 13 1-7 1 10 1-4 1 8 1 12 1-2 1 25M147 169l1-9 1-2 1 18M174 218l1 8 1 3 1 6 1 1 1-2 1 0 1 0 1 3 1-6 1 3 1-1 1 4 1 5 1-5 1 0 1 1 1 2 1-5 1 2 1-1 1-2 1-3 1-5 1 0 1-9M203 218l1 5 1 1 1-5 1-6M0 282l1-7 1 17M7 287l1-5 1-1 1-17 1 8 1 12 1 26M43 366l1 17 1-9M45 374l1 7 1 11 1-4 1 1 1-1 1 13 1-3 1 7 1-3 1 7 1-9 1-13 1-12M58 375l1 10 1 7 1-20M61 372l1 6 1 4 1-18M156 211l1 10 1-3 1-4M159 214l1 14 1 5 1-4 1-8 1-6M0 267l1 6 1-8 1 6 1 3 1-2 1 22M58 373l1 13 1-15M67 372l1 21 1 9 1 8 1-10 1 2 1-2 1-18 1-22M77 357l1 13 1-5 1-22 1-20M85 262l1 16 1 0 1 2 1-1 1-1 1-18M94 250l1 2 1 0 1-4 1 9 1-5 1 0 1 0 1-15 1-11M106 224l1 14 1-13M159 166l1-8 1 3 1-2 1 7M201 164l1-4 1-2 1 7M206 167l1-4 1-1 1-3 1-4 1 7 1-5 1 2 1 3 1-4 1-10 1 6 1-2 1 4 1 2M52 371l1 20 1 12 1-9 1-7 1 9 1-5 1-21M102 175l1-7 1 18M108 172l1-11 1 5 1 0 1 3M210 214l1 6 1 1 1 1 1-15M13 375l1 15 1 6 1-7 1-2 1 6 1-3 1-4M70 367l1 24 1 1 1-8 1-3 1 3 1-7 1 16 1-15 1-3 1-6 1-7 1-20 1-20 1-11 1-7 1-2 1-26 1-7 1-10M148 216l1 6 1-9M3 378l1 0 1 4 1-15M61 282l1-11 1 24M81 270l1-28 1 7M84 230l1-15 1 8M86 223l1-22 1-6 1 5 1 11M119 173l1-9 1 1 1 6M195 163l1-7 1 11M215 209l1 14 1 8 1-15M218 216l1 10 1-6M5 288l1-18 1-3 1-8 1 5 1 5 1 6 1-8 1 0 1 10 1-11 1 5 1 17M132 213l1 8 1 4 1 13 1-12 1 2 1 5 1 7 1-7 1-7 1-9 1 2 1 8 1-3 1 3 1 4 1 2 1-1 1-2 1-1 1-2 1-16M176 217l1 13 1 6 1-6 1-7 1-5M185 215l1 10 1 4 1-18M193 219l1 6 1-10M204 214l1 9 1-10M97 245l1 11 1-11 1-18M181 165l1-2 1-1 1-2 1-6 1 1 1-11 1 2 1 8 1-3 1 7 1 7M192 165l1-13 1 4 1 1 1-2 1-7 1 8 1 8M199 164l1-11 1-9 1 2 1 0 1-3 1-4 1 3 1 11 1 0 1-3 1 7 1 6 1 5M212 168l1-4 1-7 1 12M215 169l1-5 1-2 1-8 1 4 1 0M0 372l1 21 1 3 1 0 1-1 1 1 1 2 1-15 1 3 1 3 1-18M104 226l1 11 1-2 1 3 1 11 1-3 1 3 1-9 1-5 1-4 1-8M53 383l1 2 1 6 1-5 1 1 1-12M83 248l1-25 1 0M0 257l1 1 1-9 1 8 1 15 1 14M153 212l1 4 1 1 1 1 1 2 1-7M158 213l1 3 1 7 1 1 1 10 1-4 1 9 1-2 1 0 1 1 1-5 1 1 1 0 1-2 1 8 1-2 1-10 1-9M203 169l1-12 1 4 1-5 1-5 1-4 1 11 1-2 1 6 1 10M212 172l1-12 1-1 1 6 1 2M216 167l1-2 1-4 1 7" vector-effect="non-scaling-stroke"/><path d="M0 330.6L0.37 330.7L0.73 330.7L1.1 330.8L1.47 330.8L1.83 330.8L2.2 330.8L2.57 330.9L2.93 331.1L3.3 331.1L3.67 331.2L4.03 331.3L4.4 331.3L4.77 331.3L5.13 331.3L5.5 331.3L5.87 331.2L6.23 331.1L6.6 330.9L6.97 330.6L7.33 330.2L7.7 329.8L8.07 329.5L8.43 330L8.8 330.4L9.17 330.7L9.53 330.6L9.9 330.6L10.27 330.7L10.63 330.9L11 331.1L11.37 331.4L11.73 331.8L12.1 332.1L12.47 332L12.83 331.9L13.2 332L13.57 332.2L13.93 332.4L14.3 332.5L14.67 332.6L15.03 332.7L15.4 332.6L15.77 332.5L16.13 332.3L16.5 332.1L16.87 331.8L17.23 331.8L17.6 332L17.97 332.2L18.33 332.5L18.7 332.8L19.07 333.1L19.43 333.1L19.8 333.1L20.17 333.1L20.53 333L20.9 332.9L21.27 332.8L21.63 332.7L22 332.5L22.37 332.3L22.73 332.2L23.1 332.2L23.47 332.9L23.83 333.6L24.2 333.9L24.57 333.7L24.93 333.6L25.3 333.5L25.67 333.4L26.03 333.4L26.4 333.5L26.77 333.5L27.13 333.5L27.5 333.4L27.87 333.2L28.23 333.1L28.6 333L28.97 332.9L29.33 332.7L29.7 332.5L30.07 332.4L30.43 332.3L30.8 332.2L31.17 332.3L31.53 332.6L31.9 332.8L32.27 332.7L32.63 332.5L33 332.2L33.37 331.9L33.73 331.6L34.1 331.3L34.47 330.9L34.83 330.6L35.2 330.4L35.57 330.4L35.93 330.4L36.3 330.5L36.67 330.5L37.03 330.6L37.4 330.6L37.77 330.6L38.13 330.7L38.5 330.8L38.87 330.9L39.23 330.9L39.6 330.8L39.97 330.6L40.33 331.1L40.7 331.6L41.07 332L41.43 331.9L41.8 331.8L42.17 331.8L42.53 331.9L42.9 332L43.27 331.8L43.63 331.6L44 331.4L44.37 331.6L44.73 331.9L45.1 332L45.47 331.9L45.83 331.8L46.2 331.9L46.57 332L46.93 332.1L47.3 332.2L47.67 332.3L48.03 332.4L48.4 332.2L48.77 332.1L49.13 332.2L49.5 332.5L49.87 332.7L50.23 332.9L50.6 333L50.97 333.1L51.33 333.1L51.7 333L52.07 333L52.43 333L52.8 333L53.17 332.9L53.53 332.9L53.9 332.8L54.27 332.6L54.63 332.3L55 332L55.37 332.3L55.73 332.7L56.1 332.9L56.47 332.7L56.83 332.5L57.2 332.4L57.57 332.2L57.93 332L58.3 331.9L58.67 331.7L59.03 331.6L59.4 331.5L59.77 331.3L60.13 331.3L60.5 331.8L60.87 332.2L61.23 332.2L61.6 332.1L61.97 331.9L62.33 332L62.7 332L63.07 332.1L63.43 332.1L63.8 332.1L64.17 332L64.53 332L64.9 332L65.27 332.1L65.63 332.3L66 332.5L66.37 332.3L66.73 332.1L67.1 332L67.47 332.2L67.83 332.3L68.2 332.4L68.57 332.3L68.93 332.3L69.3 332.3L69.67 332.3L70.03 332.4L70.4 332.4L70.77 332.4L71.13 332.4L71.5 332.4L71.87 332.4L72.23 332.5L72.6 332.6L72.97 332.7L73.33 332.7L73.7 332.6L74.07 332.5L74.43 332.2L74.8 331.9L75.17 331.7L75.53 331.7L75.9 331.7L76.27 331.7L76.63 331.6L77 331.6L77.37 331.7L77.73 331.8L78.1 331.9L78.47 331.9L78.83 326.7L79.2 321.3L79.57 315.9L79.93 310.5L80.3 303.2L80.67 296.1L81.03 288.8L81.4 281.5L81.77 275.6L82.13 270.8L82.5 265.9L82.87 261L83.23 256.2L83.6 251.5L83.97 246.7L84.33 244.9L84.7 243.8L85.07 242.8L85.43 241.8L85.8 240.9L86.17 239.7L86.53 238.2L86.9 236.8L87.27 235.5L87.63 234.3L88 233L88.37 232.3L88.73 231.5L89.1 230.7L89.47 229.8L89.83 229L90.2 228.2L90.57 227.4L90.93 226.7L91.3 225.8L91.67 224.8L92.03 223.9L92.4 222.9L92.77 222L93.13 221.1L93.5 220.3L93.87 219.5L94.23 218.8L94.6 218.1L94.97 217.4L95.33 216.6L95.7 215.9L96.07 215.3L96.43 214.9L96.8 214.6L97.17 214.2L97.53 213.5L97.9 212.8L98.27 212L98.63 211.2L99 210.3L99.37 209.4L99.73 208.4L100.1 207.6L100.47 207.3L100.83 207L101.2 206.5L101.57 205.9L101.93 205.2L102.3 204.5L102.67 203.8L103.03 203.5L103.4 203.4L103.77 203.3L104.13 203L104.5 202.5L104.87 201.9L105.23 201.5L105.6 201.2L105.97 200.8L106.33 200.7L106.7 200.5L107.07 200.3L107.43 199.9L107.8 199.5L108.17 199.3L108.53 199.3L108.9 199.2L109.27 199.2L109.63 199.3L110 199.3L110.37 199.3L110.73 199.3L111.1 199.2L111.47 199.2L111.83 199.2L112.2 198.8L112.57 198.3L112.93 197.8L113.3 197.3L113.67 196.9L114.03 196.5L114.4 196.3L114.77 196.1L115.13 196L115.5 195.9L115.87 195.8L116.23 195.6L116.6 195.2L116.97 194.9L117.33 194.5L117.7 194.3L118.07 194.1L118.43 194.2L118.8 194.2L119.17 194.3L119.53 194.2L119.9 194.2L120.27 194.3L120.63 194.5L121 194.7L121.37 194.5L121.73 194.3L122.1 194.1L122.47 194.2L122.83 194.3L123.2 194.3L123.57 194.4L123.93 194.4L124.3 194.4L124.67 194.4L125.03 194.3L125.4 193.9L125.77 193.5L126.13 193.1L126.5 192.8L126.87 192.4L127.23 192.4L127.6 192.4L127.97 192.5L128.33 192.5L128.7 192.5L129.07 192.4L129.43 192.3L129.8 192.1L130.17 191.9L130.53 191.9L130.9 191.8L131.27 191.8L131.63 191.9L132 191.9L132.37 191.7L132.73 191.5L133.1 191.4L133.47 191.4L133.83 191.4L134.2 191.3L134.57 191.3L134.93 191.2L135.3 191.2L135.67 191.1L136.03 191L136.4 190.7L136.77 190.5L137.13 190.4L137.5 190.6L137.87 190.8L138.23 190.9L138.6 191L138.97 191.1L139.33 190.7L139.7 190.3L140.07 189.9L140.43 190L140.8 190.1L141.17 190.1L141.53 190.2L141.9 190.3L142.27 190.3L142.63 190.3L143 190.4L143.37 190.5L143.73 190.7L144.1 190.8L144.47 190.8L144.83 190.7L145.2 190.7L145.57 190.8L145.93 190.9L146.3 190.7L146.67 190.5L147.03 190.4L147.4 190.6L147.77 190.8L148.13 190.9L148.5 191L148.87 191.1L149.23 191.2L149.6 191.3L149.97 191.4L150.33 191.2L150.7 191.1L151.07 191L151.43 190.9L151.8 190.7L152.17 190.5L152.53 190.3L152.9 190L153.27 189.9L153.63 190L154 190.1L154.37 190.1L154.73 190L155.1 190.1L155.47 190.1L155.83 190.2L156.2 190.3L156.57 190.4L156.93 190.5L157.3 190.4L157.67 190.3L158.03 190.2L158.4 190.1L158.77 189.9L159.13 189.9L159.5 189.9L159.87 190L160.23 190.1L160.6 190.2L160.97 190.3L161.33 190.2L161.7 190.2L162.07 190.1L162.43 189.8L162.8 189.6L163.17 189.5L163.53 189.8L163.9 190L164.27 190L164.63 189.9L165 189.8L165.37 189.7L165.73 189.7L166.1 189.7L166.47 189.9L166.83 190L167.2 190.1L167.57 190.2L167.93 190.2L168.3 190.3L168.67 190.4L169.03 190.5L169.4 190.6L169.77 190.7L170.13 190.8L170.5 190.9L170.87 191L171.23 190.9L171.6 190.7L171.97 190.6L172.33 190.8L172.7 191.2L173.07 191.5L173.43 191.7L173.8 191.9L174.17 191.9L174.53 191.7L174.9 191.5L175.27 191.4L175.63 191.2L176 191.1L176.37 191.1L176.73 191L177.1 191L177.47 190.8L177.83 190.7L178.2 190.6L178.57 190.4L178.93 190.2L179.3 190.2L179.67 190.2L180.03 190.2L180.4 190.3L180.77 190.4L181.13 190.5L181.5 190.6L181.87 190.7L182.23 190.6L182.6 190.6L182.97 190.5L183.33 190.5L183.7 190.5L184.07 190.5L184.43 190.5L184.8 190.6L185.17 190.5L185.53 190.2L185.9 189.8L186.27 189.8L186.63 189.9L187 190L187.37 190L187.73 190L188.1 190.1L188.47 190.2L188.83 190.3L189.2 190.3L189.57 190.3L189.93 190.2L190.3 190.3L190.67 190.4L191.03 190.5L191.4 190.5L191.77 190.5L192.13 190.4L192.5 190.1L192.87 189.9L193.23 189.9L193.6 190.1L193.97 190.3L194.33 190.3L194.7 190.4L195.07 190.4L195.43 190.3L195.8 190.2L196.17 190L196.53 190L196.9 189.9L197.27 189.8L197.63 189.7L198 189.7L198.37 189.7L198.73 189.7L199.1 189.7L199.47 189.9L199.83 190.1L200.2 190.3L200.57 190.5L200.93 190.7L201.3 191L201.67 191.2L202.03 191.4L202.4 191.5L202.77 191.6L203.13 191.7L203.5 191.9L203.87 192.1L204.23 192.2L204.6 192.2L204.97 192.3L205.33 192.3L205.7 192.2L206.07 192.2L206.43 192.1L206.8 192.1L207.17 191.9L207.53 191.7L207.9 191.4L208.27 191.5L208.63 191.7L209 191.9L209.37 191.9L209.73 191.9L210.1 191.9L210.47 191.9L210.83 191.8L211.2 191.9L211.57 192.1L211.93 192.2L212.3 192.2L212.67 192.2L213.03 192.1L213.4 192L213.77 191.9L214.13 191.9L214.5 192.2L214.87 192.4L215.23 192.3L215.6 192L215.97 191.7L216.33 191.6L216.7 191.5L217.07 191.4L217.43 191.4L217.8 191.5L218.17 191.6L218.53 191.8L218.9 192L219.27 192.1L219.63 192.1L220 192.2" stroke="#f00" stroke-width="2" vector-effect="non-scaling-stroke"/></g>
<path d="M1430.4 233.3V541.4" stroke="#000" stroke-width="2.4" stroke-dasharray="6.95 7.5" stroke-dashoffset="1.25" fill="none"/>
<path d="M1324.2 541.4v-3.8M1324.2 233.3v3.8M1350.8 541.4v-3.8M1350.8 233.3v3.8M1377.3 541.4v-3.8M1377.3 233.3v3.8M1403.9 541.4v-3.8M1403.9 233.3v3.8M1430.4 541.4v-3.8M1430.4 233.3v3.8M1457 541.4v-3.8M1457 233.3v3.8M1483.5 541.4v-3.8M1483.5 233.3v3.8M1510.1 541.4v-3.8M1510.1 233.3v3.8M1536.6 541.4v-3.8M1536.6 233.3v3.8M1563.2 541.4v-3.8M1563.2 233.3v3.8M1589.7 541.4v-3.8M1589.7 233.3v3.8M1616.3 541.4v-3.8M1616.3 233.3v3.8M1642.8 541.4v-3.8M1642.8 233.3v3.8M1669.4 541.4v-3.8M1669.4 233.3v3.8M1298.1 503.6h3.8M1695.5 503.6h-3.8M1298.1 464.8h3.8M1695.5 464.8h-3.8M1298.1 426.1h3.8M1695.5 426.1h-3.8M1298.1 387.3h3.8M1695.5 387.3h-3.8M1298.1 348.6h3.8M1695.5 348.6h-3.8M1298.1 309.9h3.8M1695.5 309.9h-3.8M1298.1 271.1h3.8M1695.5 271.1h-3.8" stroke="#6a6a6a" stroke-width="1" fill="none"/>
<rect x="1298.1" y="233.3" width="397.4" height="308.1" fill="none" stroke="#4a4a4a" stroke-width="1.3"/>
<g class="tk" text-anchor="middle"><text x="1297.7" y="558.4">0</text><text x="1324.2" y="558.4">1</text><text x="1350.8" y="558.4">2</text><text x="1377.3" y="558.4">3</text><text x="1403.9" y="558.4">4</text><text x="1430.4" y="558.4">0</text><text x="1457" y="558.4">1</text><text x="1483.5" y="558.4">2</text><text x="1510.1" y="558.4">3</text><text x="1536.6" y="558.4">4</text><text x="1563.2" y="558.4">5</text><text x="1589.7" y="558.4">6</text><text x="1616.3" y="558.4">7</text><text x="1642.8" y="558.4">8</text><text x="1669.4" y="558.4">9</text><text x="1695.9" y="558.4">10</text></g>
<g class="tk" text-anchor="end"><text x="1292.1" y="546.3">0</text><text x="1292.1" y="507.6">1</text><text x="1292.1" y="468.8">2</text><text x="1292.1" y="430.1">3</text><text x="1292.1" y="391.3">4</text><text x="1292.1" y="352.6">5</text><text x="1292.1" y="313.9">6</text><text x="1292.1" y="275.1">7</text><text x="1292.1" y="236.4">8</text></g>
<rect x="1444.4" y="239.4" width="243.8" height="81" rx="1.5" fill="#fff" stroke="#3a3a3a" stroke-width="1.4"/>
<path d="M1454.4 249.7H1485.1" stroke="#00f" stroke-width="1.9"/>
<path d="M1454.4 280H1485.1" stroke="#f00" stroke-width="4.2"/>
<path d="M1454.4 306.5H1485.1" stroke="#000" stroke-width="2.2" stroke-dasharray="10.1 2.3" stroke-dashoffset="4.5"/>
<g class="lg"><text x="1495.9" y="259.4">CT prevalence</text><text x="1493.4" y="287.9">Mean prevalence</text><text x="1493.4" y="314.4">Intervention start</text></g>
<text class="num" text-anchor="middle" x="1328.3" y="283.6">6</text>
<text class="xl" text-anchor="middle" x="1474.7" y="593.8">Time (years)</text>
<text class="yl" text-anchor="middle" transform="translate(1271.7 382.8) rotate(-90)">Prevalence(%)</text>
</g>
<g>
<path d="M1324.2 628.6V942.8M1350.8 628.6V942.8M1377.3 628.6V942.8M1403.9 628.6V942.8M1430.4 628.6V942.8M1457 628.6V942.8M1483.5 628.6V942.8M1510.1 628.6V942.8M1536.6 628.6V942.8M1563.2 628.6V942.8M1589.7 628.6V942.8M1616.3 628.6V942.8M1642.8 628.6V942.8M1669.4 628.6V942.8M1298.1 904.2H1695.5M1298.1 864.7H1695.5M1298.1 825.2H1695.5M1298.1 785.7H1695.5M1298.1 746.2H1695.5M1298.1 706.7H1695.5M1298.1 667.2H1695.5" stroke="#e6e6e6" stroke-width="1.1" fill="none"/>
<g transform="translate(1297.7 943.7) scale(1.81000 -0.39500)" fill="none" stroke="#00f" stroke-width="1.3" stroke-linejoin="round"><path d="M0 372L1 372L2 373L3 374L4 374L5 374L6 374L7 374L8 373L9 374L10 374L11 373L12 374L13 374L14 375L15 375L16 375L17 376L18 377L19 378L20 378L21 378L22 378L23 378L24 379L25 380L26 381L27 381L28 381L29 382L30 383L31 383L32 383L33 383L34 383L35 384L36 384L37 384L38 383L39 382L40 382L41 382L42 381L43 382L44 381L45 380L46 379L47 380L48 380L49 380L50 379L51 380L52 379L53 379L54 379L55 379L56 378L57 378L58 377L59 377L60 376L61 375L62 374L63 373L64 373L65 373L66 372L67 372L68 371L69 370L70 370L71 370L72 370L73 370L74 370L75 367L76 357L77 344L78 330L79 315L80 301L81 286L82 270L83 255L84 243L85 236L86 232L87 229L88 226L89 224L90 220L91 218L92 215L93 212L94 210L95 208L96 206L97 204L98 202L99 201L100 199L101 198L102 196L103 195L104 194L105 194L106 194L107 193L108 193L109 193L110 192L111 191L112 190L113 190L114 189L115 188L116 187L117 186L118 186L119 185L120 185L121 184L122 183L123 183L124 182L125 182L126 182L127 181L128 181L129 181L130 181L131 180L132 180L133 180L134 180L135 180L136 180L137 180L138 180L139 180L140 181L141 182L142 182L143 183L144 183L145 183L146 184L147 184L148 184L149 184L150 184L151 184L152 184L153 184L154 184L155 184L156 185L157 185L158 185L159 185L160 186L161 185L162 185L163 185L164 185L165 184L166 185L167 184L168 184L169 183L170 183L171 184L172 184L173 184L174 184L175 184L176 184L177 184L178 184L179 184L180 185L181 185L182 185L183 185L184 185L185 185L186 185L187 185L188 184L189 184L190 183L191 183L192 183L193 182L194 182L195 182L196 183L197 183L198 184L199 184L200 184L201 185L202 186L203 186L204 186L205 186L206 186L207 185L208 185L209 185L210 184L211 184L212 183L213 183L214 182L215 182L216 181L217 181L218 180L219 180L220 180L220 140L219 140L218 140L217 140L216 140L215 140L214 141L213 141L212 140L211 140L210 139L209 139L208 139L207 139L206 139L205 138L204 138L203 138L202 138L201 138L200 138L199 138L198 139L197 139L196 139L195 140L194 140L193 140L192 141L191 141L190 141L189 140L188 140L187 139L186 139L185 139L184 139L183 138L182 138L181 138L180 138L179 138L178 139L177 140L176 140L175 140L174 141L173 141L172 141L171 142L170 141L169 141L168 141L167 141L166 141L165 141L164 141L163 141L162 141L161 141L160 141L159 141L158 141L157 141L156 141L155 140L154 140L153 139L152 139L151 139L150 139L149 139L148 139L147 138L146 138L145 138L144 139L143 139L142 139L141 139L140 139L139 139L138 139L137 139L136 139L135 139L134 139L133 139L132 139L131 138L130 138L129 138L128 139L127 139L126 139L125 139L124 140L123 140L122 141L121 141L120 141L119 141L118 142L117 141L116 142L115 142L114 142L113 142L112 143L111 144L110 144L109 145L108 146L107 146L106 147L105 148L104 149L103 150L102 151L101 151L100 152L99 154L98 156L97 158L96 160L95 161L94 164L93 165L92 167L91 170L90 172L89 173L88 175L87 176L86 177L85 180L84 185L83 195L82 207L81 219L80 230L79 242L78 254L77 265L76 276L75 283L74 286L73 286L72 287L71 286L70 286L69 286L68 287L67 287L66 288L65 288L64 288L63 288L62 289L61 289L60 289L59 288L58 288L57 287L56 288L55 288L54 288L53 289L52 290L51 292L50 293L49 294L48 295L47 295L46 296L45 296L44 296L43 295L42 294L41 294L40 293L39 293L38 293L37 292L36 291L35 292L34 291L33 291L32 290L31 291L30 291L29 291L28 292L27 292L26 292L25 292L24 293L23 294L22 295L21 296L20 296L19 296L18 296L17 296L16 296L15 296L14 295L13 295L12 295L11 294L10 294L9 295L8 295L7 295L6 295L5 295L4 294L3 294L2 293L1 293L0 292Z" fill="#00f" stroke="#00f" vector-effect="non-scaling-stroke"/><path d="M43 373l1 9 1 0 1 10 1 4 1-31M77 343l1 25 1-49 1-53M94 168l1-11 1-4 1 0 1-13 1 2 1-2 1 1 1-3 1 9 1-3 1-2 1 8M120 183l1 6 1-1 1 0 1-3 1-6M2 308l1-33 1-2 1 0 1 15 1-1 1-11 1 2 1-5 1 6 1 8 1-21 1 11 1 8 1-2 1 15M17 298l1-24 1 5 1-10 1 4 1 1 1-9 1 14 1 9 1 1 1 20M51 300l1-22 1-10 1 12 1 0 1-1 1 6 1 3M109 190l1 3 1 9 1 2 1-1 1-2 1-3 1-6 1 1 1-8M149 145l1-7 1-2 1 1 1-4 1-1 1-1 1 8 1-2 1 2 1-1 1 2 1-8 1 6 1-1 1-4 1 4 1-4 1 0 1 5 1 0 1 0 1 1 1-1 1 5M210 147l1-9 1-3 1-2 1-4 1 5 1 8M0 281l1 23M15 369l1 15 1 2 1-25M18 361l1 20 1 16 1 6 1 8 1 0 1-3 1-17 1-10M77 340l1-1 1-48M87 177l1-4 1-6 1-4 1 4 1 0M94 166l1-7 1-5 1 1 1-5 1-10 1-6 1-6 1 5 1 8 1 7 1 9M137 178l1 5 1-2 1 9 1-11M143 176l1 15 1-11M169 177l1 12 1 6 1-1 1 0 1 2 1 3 1 1 1-2 1-5 1 1 1-1 1 1 1-7 1 0 1 1 1-5M185 183l1 7 1 2 1-6 1-8M12 354l1 23 1 0 1 4 1-10M79 273l1-50 1-16 1-17 1-3 1 0M196 144l1-10 1-3 1 1 1 3 1 1 1 10M3 304l1-17 1 4 1-8 1 9 1 2 1-7 1 8M10 295l1-17 1 6 1-17 1-5 1 7 1 14 1 8 1 9M37 300l1-13 1 11M47 302l1-9 1-2 1-21 1-8 1-4 1 5 1-2 1 13 1 3 1 3 1-6 1 6 1 3 1 2 1-9 1-1 1-17 1 12 1 4 1 5 1 3 1 0 1 2 1-14 1-1 1 17M79 270l1-45 1-27 1 0 1 6M131 179l1 4 1 3 1 0 1-3 1-4M136 179l1 7 1-7M150 184l1 1 1 7 1-11M153 181l1 8 1-9M169 178l1 10 1 0 1-10M175 182l1 7 1-3 1-4M11 295l1-10 1-1 1-5 1 5 1 4 1 14M19 296l1-5 1-5 1 11M45 303l1-18 1 6 1 8M65 289l1-9 1-8 1 22M79 283l1-63 1-20 1-17 1 3 1-3 1 11M143 179l1 12 1-1 1 6 1-7 1 0 1-4 1 1 1-1 1 5 1 7 1 0 1 0 1 3 1-3 1 1 1 6 1-1 1-2 1-12 1 6 1-1 1-4 1-6M166 184l1 4 1 1 1 0 1 3 1-7 1-4M182 183l1 8 1-1 1 4 1 2 1 0 1 9 1-3 1-5 1 0 1-4 1-7 1-5M199 181l1 9 1 1 1 3 1-3 1-4 1-2M45 300l1-11 1 3 1 14M80 240l1-23 1-22 1-2 1 8M109 147l1-7 1-6 1 1 1-3 1-2 1-4 1 8 1-5 1 1 1-4 1 2 1 0 1 2 1 11M123 141l1-6 1-4 1-2 1 9 1-9 1 5 1 10M136 142l1-5 1-4 1 1 1 15M167 183l1 2 1 7 1-1 1-2 1 0 1 1 1 4 1-1 1-1 1 3 1-8 1-3M179 184l1 10 1 5 1 1 1-15M21 371l1 28 1-15 1 4 1 2 1 2 1-3 1-8M28 381l1 16 1-8 1 1 1 1 1-5 1-7M54 365l1 19 1 2 1 9 1-1 1-5 1-17M60 372l1 10 1-5 1 12 1 12 1-4 1-32M70 360l1 12 1 2 1 1 1-4 1-20M109 155l1-13 1-4 1-6 1 1 1 10M127 139l1-4 1 2 1 0 1-7 1 3 1 8M135 139l1-4 1 2 1-2 1-2 1 0 1 9M146 148l1-15 1-3 1-1 1-3 1 2 1-3 1 4 1 11M155 141l1-6 1 0 1-5 1 3 1-4 1 7 1 2 1-5 1 0 1 9M189 142l1-4 1-6 1 6 1 0 1 4M27 301l1-21 1 6 1-12 1 15 1 22M34 296l1-17 1 3 1 13M42 315l1-30 1-1 1 11 1 8M53 289l1-17 1 16M168 141l1-5 1 1 1 8M172 145l1-9 1 0 1 3 1 4M0 302l1-13 1-2 1 3 1 1 1 2 1 10M35 300l1-13 1 3 1-5 1 6 1 16M42 308l1-23 1 5 1 11M76 348l1 21 1 3 1-44 1-63M114 186l1 9 1 1 1-4 1-3 1-4M119 185l1 6 1-9M144 176l1 8 1 7 1 5 1-4 1-4 1-2 1-4M11 369l1 9 1 8 1 8 1 0 1-15 1 9 1-4 1-1 1 14 1 4 1-18 1 3 1-2 1 3 1 9 1-16M29 373l1 15 1-3 1-12M36 381l1 10 1 21 1 11 1-18 1-7 1 8 1 7 1-4 1-5 1-5 1-40M50 378l1 10 1-2 1-14M80 237l1-27 1-28 1 0 1 12M101 151l1-4 1-4 1 10M105 149l1-3 1-6 1 2 1-5 1-2 1 15M162 141l1-10 1-5 1-3 1 6 1 2 1-1 1-3 1 2 1 0 1 3 1-9 1 10 1 6 1-2 1 7M187 142l1-8 1 0 1-7 1 7 1 0 1 5 1 11M204 143l1-8 1-7 1 2 1 1 1 6 1-11 1-3 1 6 1 2 1 0 1 6 1-13 1 4 1 14M73 367l1 17 1-3 1-11 1-1 1 19 1-43 1-61M113 190l1 5 1-9M116 181l1 7 1 3 1-1 1 1 1 3 1 0 1-5 1 7 1-5 1 8 1 4 1-13 1 4 1-3 1-6 1 1 1 2 1-2 1 1 1 8 1 2 1 6 1-3 1-5 1-7 1-1 1-1 1-2 1 2 1-8M152 173l1 15 1 1 1-5M156 183l1 5 1-2 1 6 1-7M202 138l1-8 1 10M218 145l1-8 1-3M76 351l1 14 1 5 1-50 1-49M162 182l1 10 1-5 1 1 1-13M178 182l1 11 1-2 1 2 1-6 1-1 1 5 1-4 1-5M205 185l1 6 1-1 1 9 1-5 1-9 1-3M0 378l1 8 1-14M76 336l1 20 1 13 1-32 1-45M212 183l1 11 1-3 1 9 1-6 1 0 1-6 1-2 1-4M18 305l1-20 1 1 1-16 1 11 1-7 1-8 1 5 1 6 1 7 1-6 1 18M30 294l1-7 1-13 1 19M33 293l1-12 1 0 1-16 1 3 1-18 1 15 1 13 1-1 1 9 1-4 1 11 1 10M50 295l1-8 1-13 1 9 1 17M54 300l1-13 1-7 1 9M58 296l1-16 1 12M77 340l1-2 1-39M81 220l1-20 1-5M165 175l1 11 1 6 1 0 1 1 1-3 1-7M182 183l1 12 1-1 1-5 1-13M211 142l1-6 1 2 1-2 1 8M218 142l1-9 1 5M15 355l1 21 1 6 1-7M34 373l1 12 1 16 1-6 1 9 1-15 1-1 1-12M43 377l1 13 1-2 1-22M88 181l1-14 1 6M113 147l1-7 1-7 1-6 1-2 1 2 1 6 1-1 1-4 1-6 1 9 1 4 1 4M125 139l1-5 1 7M188 182l1 6 1 2 1-6 1 0 1 4 1-6M199 181l1 4 1 3 1 2 1 9 1 8 1 0 1 2 1 1 1 2 1 0 1-1 1 0 1-2 1-2 1-6 1-3 1-4 1-2 1-1 1-4 1 6M13 309l1-20 1 2 1-6 1 16M76 344l1 11 1-5 1-55M212 145l1-10 1 6M41 295l1-6 1 8M129 179l1 7 1 0 1-15M149 174l1 11 1 0 1 6 1 5 1-9 1-6M2 362l1 25 1-15M8 363l1 18 1-13M11 369l1 7 1 7 1 0 1-9M15 374l1 10 1-2 1 2 1 1 1-14M59 291l1-25 1 5 1 6 1 16M69 295l1-17 1-2 1-8 1 9 1 1 1 1 1-26 1-2 1 8M78 259l1-35 1-48 1-9 1-6 1-6 1 7 1-4 1 7 1-2 1 5 1 11M80 233l1-24 1 5M169 143l1-5 1 2 1-7 1-16 1-5 1-1 1 3 1 3 1 8 1 6 1 6 1-12 1-2 1 8 1 4 1-2 1 6M218 145l1-11 1 5M5 374l1 12 1 4 1-20M27 380l1 3 1 13 1 3 1 1 1-6 1 15 1-10 1-10 1-10M67 288l1-9 1 7M69 286l1-19 1 0 1 1 1 13 1 7M215 147l1-10 1-3 1-13 1 6 1 2M5 363l1 21 1-6 1-21M16 368l1 10 1 2 1 12 1-16M20 376l1 6 1 1 1 13 1-33M29 378l1 7 1 9 1 3 1-4 1-3 1-5 1-8M38 383l1 8 1-2 1-3 1-10M52 297l1-15 1 19M80 244l1-36 1-19 1-2 1 8M167 179l1 9 1-2 1-2 1 7 1-2 1-2 1-8M11 301l1-20 1 5 1-8 1 18M79 263l1-46 1-19 1-9 1-10 1 5 1 4M17 371l1 12 1-6M32 364l1 20 1 7 1 4 1-18M76 341l1 23 1-26 1-32M203 183l1 11 1-6 1 5 1-6 1 3 1-2 1-3 1-1M211 184l1 12 1-1 1 6 1 2 1-5 1-12 1-5 1 7 1-2M5 305l1-16 1 4 1-12 1-12 1 1 1 9 1 2 1-4 1 4 1 5 1 5 1 0 1 24M21 302l1-13 1 13M27 301l1-16 1-1 1-13 1 3 1 6 1 1 1-7 1 3 1 9 1 9M37 295l1-6 1-17 1 18 1 5M41 295l1-9 1 4 1 15M77 329l1 13 1-24 1-47M194 140l1-7 1 2 1-5 1 6 1 3M201 139l1-8 1 5 1-2 1-2 1 10M3 370l1 13 1 9 1-13 1 14 1-4 1 6 1-10 1 12 1 4 1-14 1-13M14 374l1 3 1 15 1-2 1-10 1-3M19 377l1 7 1-3 1-27M77 319l1 21 1-33M80 242l1-43 1-9 1-7 1 8M106 187l1 9 1 9 1-2 1 2 1 5 1-6 1 0 1 2 1-13 1-2 1-3 1 6 1 2 1-8 1-4M137 174l1 7 1 8 1 0 1 3 1 0 1 1 1-9 1-7M152 178l1 17 1 7 1-2 1 5 1-2 1-1 1-5 1 2 1-4 1 0 1-2 1-4 1-7M0 296l1-10 1-16 1-2 1 8 1 22M21 305l1-11 1-19 1 4 1 12 1 3M27 292l1-3 1-3 1 3 1 1 1-15 1 21M56 370l1 13 1-17M76 345l1 8 1 24 1-37 1-51M158 180l1 8 1 9 1 3 1-7 1 0 1 2 1 3 1-10 1-5M167 183l1 9 1 1 1-14M187 142l1-7 1-3 1 2 1 8M194 141l1-8 1 2 1 15M207 141l1-8 1 2 1 0 1-4 1-8 1 6 1-2 1 0 1 5 1 10M55 366l1 20 1-9M86 229l1 1 1 2 1-14M93 209l1 2 1 7 1 2 1-10 1 2 1-2 1 2 1-4 1-2 1-1 1-10 1 1 1 4 1 2 1-6 1 0 1-2 1-10M198 180l1 11 1-1 1 1 1 11 1-3 1 0 1-4 1 2 1-1 1 1 1 0 1-5 1-5 1-7M9 304l1-16 1-12 1-14 1-6 1 29 1 6 1 6M17 299l1-10 1 15M42 380l1 8 1-8M44 380l1 18 1-1 1-5 1 1 1-37M66 369l1 13 1-14M77 330l1 13 1-37M87 186l1-14 1-10 1-2 1 5 1 3M157 184l1 7 1-11M183 180l1 10 1 0 1 0 1-4 1 0 1-2M190 180l1 9 1-7M26 301l1-14 1-5 1-11 1 2 1 3 1 4 1 13M69 289l1-5 1-1 1-6 1 14M79 259l1-52 1-13 1-16 1 0 1-7 1 4 1 5M126 141l1-7 1 1 1 6M184 142l1-8 1 9M193 140l1-1 1 0 1-8 1 4 1-9 1 2 1-5 1 2 1 0 1-4 1-4 1 7 1 5 1 12M212 142l1-11 1 7 1-4 1-3 1 8 1 4M25 375l1 13 1-6 1 10 1-2 1-4 1-9M31 377l1 12 1-5 1-11M35 384l1 10 1 2 1 20 1-18 1 15 1-5 1-28M80 245l1-34 1-25 1-6 1 0 1-8 1 1 1 9M87 182l1-16 1-6 1 6 1-8 1-3 1 2 1 1 1 1 1-3 1-1 1 2M100 156l1-9 1 1 1-1 1-7 1-7 1-8 1 4 1 1 1 0 1 1 1 10 1 9M123 143l1-5 1-6 1 5 1-1 1-10 1 7 1-5 1 12M141 140l1-6 1 1 1-10 1 1 1 9 1 1 1-1 1-5 1 7 1 5M212 181l1 8 1 1 1-5 1 0 1-7M218 177l1 11 1-9M138 139l1-4 1-1 1 5M153 181l1 10 1 0 1-8M157 184l1 8 1-2 1 3 1-2 1 4 1 0 1-6 1-8M192 183l1 11 1 4 1-5 1-4 1 6 1 8 1-5 1-3 1-4 1 3 1-1 1-1 1-2 1-3 1 1 1-11M26 371l1 16 1-1 1-13M36 378l1 16 1-8 1-11M39 375l1 20 1-10 1-7M43 373l1 10 1 6 1-13M46 376l1 15 1 2 1-10 1-7M50 376l1 17 1 1 1-2 1 6 1-8 1 2 1-9 1-4 1-24M62 370l1 15 1-15M69 369l1 10 1-2 1-9M72 368l1 8 1 13 1 9 1-15 1 8 1 11 1-36 1-56 1-45M83 241l1 14 1-11 1-4 1 1 1-7 1 0 1 2 1-8 1-2 1-14M93 212l1-1 1 1 1 0 1 9 1-6 1-6 1-4 1-2 1-3 1 1 1 1 1-7 1 1 1-11M77 333l1 14 1-47M213 147l1-12 1 3 1-1 1 6M0 373l1 13 1 9 1-27M3 368l1 7 1 11 1 1 1-11 1 36 1-15 1 5 1-22 1 14 1-8 1 10 1-11 1 2 1-13M56 377l1 6 1 3 1 0 1 2 1-8 1 4 1-12M77 330l1 10 1-23 1-52M117 142l1-5 1 0 1 0 1-1 1-1 1 4 1-1 1 12M129 141l1-7 1-3 1-2 1 2 1-5 1 1 1 4 1-4 1-3 1 1 1 2 1-1 1 3 1 10M166 146l1-6 1-7 1 16M54 301l1-20 1 2 1 8M63 367l1 12 1 3 1 1 1 0 1 6 1-6 1 3 1 4 1-6 1-4 1 2 1-1 1-16 1-4 1 5 1-25 1-49M89 219l1 6 1-9M91 216l1 5 1-1 1 5 1 3 1-8 1 0 1 4 1-3 1-4 1 0 1-8 1-5 1-5 1 2 1 3 1-1 1 0 1-5 1-10M141 147l1-10 1-7 1-4 1 1 1 3 1 6 1 2 1-2 1 8M198 142l1-9 1 1 1 2 1 4M215 140l1-5 1 11M0 317l1-30 1 17M27 299l1-11 1-9 1-2 1 21M32 301l1-20 1 12M53 298l1-20 1 4 1 4 1 1M65 289l1-6 1-1 1 1 1 3M71 291l1-6 1-5 1 3 1-1 1-6M79 251l1-29 1-13 1-19 1-3 1-8 1-2 1-7 1 6M178 175l1 10 1 3 1 1 1 5 1-5 1-2 1 5 1-5 1-2M211 180l1 8 1-15M38 377l1 12 1 0 1-4 1 5 1 5 1 3 1 5 1-8 1-6 1-32M86 230l1 4 1-4 1-5 1-7M209 185l1 1 1 5 1-13M87 227l1 4 1-10M96 205l1 6 1-3 1 1 1-2 1 2 1 0 1 0 1-4 1-3 1-7 1-13M145 140l1-8 1 0 1-7 1 7 1-6 1 2 1 2 1-1 1 4 1 6 1 2M156 141l1-1 1-1 1-6 1 2 1 4 1 5M163 143l1-9 1-2 1-3 1-5 1 5 1 3 1 13M174 141l1-7 1-2 1-3 1-7 1 3 1-6 1-4 1-3 1 5 1 4 1-7 1 5 1-1 1-5 1-1 1 0 1 9 1-1 1-5 1-2 1 6 1-4 1 8 1 3 1 1 1-2 1 0 1-4 1 4 1-2 1 4 1-4 1 11 1 1 1 5M209 140l1-2 1 1 1 0 1-1 1-4 1-3 1-2 1-7 1 10 1 2 1 6M0 269l1 4 1 4 1-15 1 19 1 11 1 18M39 293l1-21 1 15 1 11M42 298l1-20 1 0 1-3 1 11 1 3 1 3 1 12M66 295l1-12 1-16 1 2 1 2 1-3 1-7 1-5 1 1 1 11 1-5 1-11 1 8M78 260l1-22 1-37 1-24 1-13 1-7 1 2 1-10 1 0 1 0 1 1 1 0 1-1 1 5 1-9 1 5 1 7 1 2 1-1 1 5M116 144l1-9 1 12M71 286l1-12 1-5 1 5 1-1 1-3 1 0M80 236l1-27 1-16 1 2M127 173l1 13 1-13M158 149l1-14 1 12M164 152l1-12 1-5 1 2 1-10 1 4 1 1 1-4 1-7 1 0 1 0 1-3 1 1 1 5 1-2 1 0 1 1 1 4 1-2 1-1 1 6 1 0 1-1 1-5 1 8 1 2 1 7M19 296l1-2 1-22 1 11 1 9 1-6 1 4 1 6M27 293l1-8 1 4 1-15 1 17M31 291l1-8 1-3 1-5 1-5 1 10 1 3 1-11 1 0 1 3 1 8 1 2 1-2 1 7 1-3 1 0 1 7 1-4 1 7M49 297l1-8 1-8 1-1 1 0 1-12 1 3 1-1 1 29M79 281l1-57 1-14 1-18 1 0 1 1M106 150l1-5 1-2 1-4 1-7 1 4 1 3 1-4 1-5 1-3 1-5 1-5 1 6 1 5 1 5 1 1 1 8M175 183l1 9 1-1 1-4 1-10M79 273l1-59 1-16 1-3 1-5 1 7M91 177l1-13 1-5 1 9M148 147l1-16 1-1 1 0 1 5 1-3 1-6 1 9 1 13M164 144l1-10 1 6 1 6M192 179l1 6 1 6 1-1 1 3 1-3 1-6M38 382l1 9 1-22M60 292l1-12 1 41M118 144l1-6 1-6 1 3 1 9M161 181l1 11 1-3 1-4M128 177l1 7 1-1 1 4 1-3 1-3 1 4 1 6 1 1 1 10 1-5 1-1 1-4 1 2 1-4 1-10M174 149l1-14 1-3 1-1 1 2 1 11M20 302l1-7 1-9 1 9M23 295l1-7 1-1 1 10M46 357l1 30 1 6 1-17M50 379l1 10 1 5 1-1 1 0 1-25M62 354l1 26 1-7M80 231l1-32 1-19 1-10 1 5 1 5M85 180l1-10 1-1 1 1 1 11M107 148l1-5 1-4 1 0 1-1 1 3 1-2 1 2 1 2M28 381l1 4 1 14 1 8 1-1 1-2 1-1 1-24M36 373l1 19 1 19 1-15 1-15M67 365l1 12 1 5 1-17M77 336l1 4 1-35M148 141l1-7 1 11M152 141l1-3 1 1 1-3 1-3 1 6 1 8M0 370l1 5 1-1 1 7 1-10M4 371l1 17 1 7 1-29M49 375l1 15 1-8 1-5M81 224l1-27 1-3 1-2M19 300l1-23 1-6 1 16 1 1 1 7M58 361l1 21 1 2 1-7 1-6M62 371l1 13 1-3 1-17M77 326l1 16 1-21 1-42M83 254l1-6 1 0 1 6 1 1 1-7 1-10 1-11 1-11M116 142l1-9 1 0 1-4 1 0 1 3 1 5 1 8M147 183l1 6 1-3 1-7M179 141l1-11 1-3 1 10 1 2M186 141l1-6 1-1 1 0 1 3 1 6M2 294l1-5 1 8M18 376l1 5 1 11 1-8 1 3 1 5 1-12 1 2 1 0 1-2M77 326l1 12 1-44M144 181l1 10 1-3 1-8M73 353l1 25 1 0 1-4 1-6 1 10 1-43 1-50M129 176l1 8 1 5 1-9M141 140l1-8 1 0 1 4 1-7 1-3 1 3 1 0 1 8 1-4 1 9M151 142l1-5 1 1 1-4 1 3 1 3 1-1 1-10 1-3 1 8 1-7 1-3 1 2 1-3 1 5 1-1 1 0 1 2 1 7 1 14M204 181l1 10 1-6M7 296l1-19 1-5 1-4 1-7 1 10 1 1 1 9 1-2 1-7 1-9 1-13 1-13 1 14 1 21 1 0 1-1 1 3 1 11 1 5 1-5 1 2 1 30M74 359l1 14 1-25M106 154l1-9 1-4 1 4M143 183l1 12 1-3 1-2 1 10 1 2 1-4 1-5 1 1 1 1 1-8 1-4M154 183l1 2 1 3 1 4 1-4 1-4M0 391l1 7 1 6 1 6 1-11 1-8 1-6 1-11M7 374l1 5 1-38M54 376l1 8 1-1 1 7 1-13M94 204l1 15 1-4 1 4 1-6 1-7 1-2 1-3 1 2 1-8M20 366l1 19 1-2 1 6 1-2 1-11M47 296l1-5 1-13 1 22M76 346l1 5 1 4 1-56M80 247l1-38 1-4 1 3M124 179l1 10 1-4 1-1 1 4 1 2 1-7 1 2 1-3 1-15M187 185l1 2 1 4 1-1 1 3 1-17M0 294l1-14 1-16 1 13 1 21M12 302l1-12 1-6 1 18M16 306l1-11 1-13 1 3 1 4 1 7M79 275l1-47 1-22 1-19 1-3 1 1M80 244l1-38 1-7 1 0M101 151l1-4 1-5 1-1 1 2 1-4 1-7 1-2 1 2 1-5 1 7 1 0 1 6 1 7M123 142l1-8 1 10M205 138l1-8 1-3 1-4 1-3 1 4 1 6 1 2 1 6 1 9M31 376l1 11 1 11 1-22M120 142l1-10 1 1 1 7M14 295l1-5 1-5 1 4 1 5 1 17M21 296l1-5 1-6 1 3 1 16M55 379l1 10 1-5 1-13M77 328l1 17 1-21 1-58M208 181l1 8 1-4 1 0 1 9 1-1 1 5 1 1 1 8 1 1 1-10 1-3 1-10M1 357l1 24 1 6 1-8 1-1 1 1 1 8 1 2 1-4 1 3 1-6 1-13M27 297l1-13 1 4 1 13M77 331l1 20 1-43M93 173l1-10 1-12 1 10M75 362l1 5 1 6 1-3 1-52 1-46M160 141l1-1 1-4 1 4 1-6 1-1 1 6 1 9M179 145l1-9 1-6 1 9M201 148l1-12 1-1 1 0 1 2 1-5 1-4 1 6 1 8M79 249l1-36 1-18 1-14 1-5 1-9 1 1 1-3 1 5 1 5M128 180l1 2 1 9 1-2 1 0 1 9 1-10 1 3 1 8 1-4 1 3 1 1 1 0 1 7 1-7 1-5 1 0 1 3 1-5 1 0 1 6 1-7 1 5 1-7 1 8 1 6 1 2 1 3 1 5 1 2 1-6 1 3 1-2 1-9 1 1 1-4 1 4 1-1 1 0 1-3 1 1 1-8 1 15 1 2 1-2 1 3 1-12 1-1 1 3 1-4 1-10 1 6 1-1 1-6M181 184l1 10 1 3 1-5 1-5 1-6M0 279l1 8 1 7M15 373l1 11 1-30M35 379l1 6 1 14 1 4 1-4 1-12 1 5 1-21M46 367l1 21 1-6 1-15M83 248l1 2 1-2 1-6 1 5 1-1 1-5 1-7 1-5 1-11 1 0 1-3 1 0 1 2 1-13M11 295l1-10 1 17M96 160l1-8 1 2 1-5 1-8 1 3 1 11M198 139l1-11 1 1 1 2 1 14M14 375l1 4 1 6 1-9M25 357l1 35 1-4 1 10 1-15 1-6M36 368l1 19 1 1 1 12 1-1 1 6 1-10 1 10 1-9 1-7 1 12 1 0 1-16 1-7M49 378l1 9 1-8M55 375l1 17 1 13 1 8 1-3 1-7 1 10 1 4 1-8 1 6 1-5 1 4 1-6 1-11 1 1 1 7 1-6 1-21 1 8 1-2 1 7 1-3 1-1 1-2 1-41 1-61M92 212l1 8 1-3 1-19M97 204l1 3 1-1 1-5 1-5M102 192l1 11 1-2 1 4 1-2 1 0 1-3 1 4 1 3 1 9 1-11 1 1 1 1 1-4 1-1 1-6 1-3 1-4 1-7M161 177l1 9 1 5 1 0 1-2 1-8M166 181l1 6 1-1 1-1 1 5 1 3 1 5 1-8 1-3 1 5 1-11M181 185l1 1 1 8 1 7 1 3 1-3 1-2 1-5 1 2 1-3 1 2 1-8 1-7M46 299l1-14 1 8 1-4 1 4M52 297l1-12 1-10 1 0 1 20M56 295l1-11 1 3 1-22 1 11 1 8 1 12M63 288l1-14 1-5 1 9 1 13M71 287l1-10 1 1 1-5 1 11M100 198l1 14 1-5 1 6 1 0 1-2 1 2 1-8 1 2 1 0 1 0 1-10 1-1 1 5 1-3 1-1 1 2 1-4 1-2 1-1 1-3 1 7 1-6 1-6 1-2M171 182l1 11 1 2 1 1 1 1 1-4 1-5 1-2 1-15M44 364l1 19 1 1 1 2 1 14 1-11 1-14M50 375l1 16 1-10 1 1 1 4 1-3 1-23M57 375l1 7 1-4 1-10M67 372l1 30 1-9 1-3 1-13 1-7M77 334l1 4 1-33M122 182l1 7 1-11M192 173l1 10 1 1 1 5 1 3 1-2 1 5 1-1 1-6 1-2 1-1M44 377l1 16 1 6 1 0 1 3 1-3 1-1 1-2 1-20M54 379l1 5 1-4 1 6 1-2 1 9 1-2 1 1 1 4 1-9 1-21M95 170l1-15 1 2 1 3M218 140l1-7 1 9M72 303l1-20 1 1 1-6 1 9M79 244l1-44 1-8 1-9 1-4 1 1 1-10 1 9M96 164l1-7 1-11 1 7 1 9M102 157l1-12 1 3 1 2M147 139l1-2 1-5 1-5 1 0 1 8 1 6M158 143l1-10 1 0 1 8M163 144l1-8 1 19M179 143l1-6 1-2 1-3 1 4 1 5M186 141l1-8 1 9M9 307l1-18 1 17M20 302l1-9 1-5 1-6 1 29M75 362l1 3 1 11 1-14 1-38 1-62M116 183l1 10 1-1 1-8M205 138l1-2 1-2 1-3 1-2 1 5 1 2 1 9M212 145l1-11 1-2 1 7 1 3M217 143l1-9 1 2 1 5M15 373l1 9 1 6 1-6 1 5 1-9M20 378l1 1 1 0 1 4 1-9M187 185l1 7 1-7 1 3 1 10 1-7 1 2 1 3 1-6 1-2 1-16M199 181l1 14 1 5 1-2 1-3 1-4 1-2 1 5 1-1 1 2 1-6 1 1 1 1 1-1 1-11M23 294l1-11 1-14 1 3 1 7 1 2 1 9 1-9 1 30M42 295l1-14 1-3 1 16 1 2M49 307l1-28 1-2 1-9 1 21M55 293l1-15 1-3 1 19M59 298l1-19 1 33M79 281l1-64 1-28 1-8 1-1 1 1 1-2 1 3M98 201l1 6 1 1 1-7 1-4 1-6M155 145l1-9 1 2 1 11M38 296l1-16 1 17M75 328l1 35 1-10 1-7 1-44M154 173l1 12 1 6 1-1 1-4 1-1M159 185l1 6 1-1 1-3 1 1 1-6M168 178l1 11 1 3 1-9M182 184l1 7 1-3 1 2 1 5 1-2 1 0 1-1 1-3 1 4 1-10M192 183l1 11 1 1 1-5 1-3 1 4 1-4 1-6M11 294l1-6 1 10M57 299l1-22 1 3 1 4 1 11M77 338l1 9 1-35M131 142l1-7 1-4 1 0 1 1 1-2 1-7 1 8 1-2 1 2 1-2 1-3 1 7 1-7 1 0 1 1 1 8 1 5M148 140l1-10 1 11M175 184l1 3 1-1 1 9 1-1 1-8 1-3M181 183l1 12 1-7 1-7M184 181l1 6 1-1 1 2 1 1 1-8M5 370l1 12 1-5 1-19M30 380l1 5 1 22 1-3 1-6 1-11 1-15M46 364l1 17 1 9 1-8 1-29M80 235l1-33 1-20 1-5 1 0 1-10 1 8 1-1 1 6M131 140l1-10 1 8 1-7 1 7 1-8 1 8 1-1 1-4 1 2 1-5 1 5 1 2 1 2M146 142l1-6 1 0 1-2 1 18M215 182l1 3 1 2 1-2 1-5M56 289l1-11 1-26 1 15 1 22M60 289l1-21 1-12 1 14 1-15 1 9 1 10 1 4 1 0 1 4 1 21M73 299l1-24 1 10M80 250l1-32 1-29 1 12M147 144l1-7 1-3 1 2 1-2 1-3 1 6 1-1 1 6M0 277l1 13 1 13M6 295l1-16 1 1 1 4 1-8 1 13 1 22M12 311l1-24 1 14M14 301l1-20 1-9 1-19 1 14 1 0 1 17 1 5 1 16M25 294l1-21 1-6 1 14 1 14M67 351l1 25 1 6 1-24M75 367l1 4 1-2 1 0 1-46 1-58M101 193l1 12 1-10M106 184l1 17 1-3 1-5M0 383l1 4 1 26 1-8 1-12 1-9 1 7 1-28M20 365l1 19 1-8M25 368l1 25 1-19M30 381l1 5 1 3 1-13M40 380l1 21 1 2 1-15 1-26M63 371l1 10 1-16M65 365l1 22 1-18M67 369l1 10 1-5 1-7M77 341l1 26 1-44 1-47M82 243l1 19 1 3 1-2 1-20 1-6 1 2 1-7 1-14M90 218l1 2 1 0 1-1 1-1 1-8 1 0 1-7M97 203l1 3 1 1 1-3 1-13M125 142l1-4 1-4 1 1 1-1 1-4 1 4 1 0 1 1 1 3 1 7M158 183l1 3 1 6 1-6 1-2M176 144l1-5 1-2 1-1 1-5 1 7M182 139l1-7 1 2 1-5 1 1 1 4 1-2 1 2 1-4 1-5 1 5 1 4 1-4 1 8 1-6 1 2 1 1 1 7M0 366l1 7 1 5 1 3 1 1 1-4 1-3 1 0 1-17M44 302l1-15 1 3 1 20M65 356l1 21 1-6M67 371l1 5 1-6M69 370l1 8 1-7 1 4 1-8M74 366l1 6 1-22M77 341l1-6 1-34M143 182l1 11 1-1 1 2 1-4 1 5 1-6 1 4 1-8 1 9 1-3 1 7 1-3 1-2 1 2 1-11M170 180l1 10 1 5 1-13M174 176l1 11 1 1 1-3 1 8 1-5 1-1 1-4M216 141l1-9 1 9M219 141l1-10M50 377l1 5 1 12 1-2 1-38M80 231l1-26 1-4 1 2M195 141l1-5 1-5 1-8 1-6 1 0 1 3 1 0 1 0 1 3 1 3 1-1 1 4 1 2 1 4 1 6M77 333l1 4 1-36M86 215l1 15 1 2 1-7 1 2 1 1 1-6 1-7 1-14M131 138l1-5 1 8M182 140l1-9 1 4 1 11M0 298l1-12 1 2 1 6M8 305l1-19 1 13M91 218l1 3 1-10M93 211l1 4 1-14M102 189l1 7 1 7 1-4 1-8M106 191l1 7 1 3 1 3 1-2 1-1 1 0 1-3 1 6 1-9 1 7 1 0 1-1 1-6 1 2 1-2 1 3 1 3 1 0 1-6 1 5 1-8 1-1 1-1 1 6 1-5 1-6 1-9M143 183l1 6 1 4 1-1 1 3 1-10 1-6M207 141l1-9 1 6 1 7M111 190l1 4 1 1 1 7 1-4 1 2 1-1 1 0 1 0 1 0 1-7 1-1 1-2 1-8M130 175l1 11 1-6M142 181l1 7 1-6M6 374l1 5 1 9 1 3 1-16 1-10M63 292l1-14 1-8 1 12 1-5 1-1 1 0 1 19M160 181l1 8 1 4 1 2 1 6 1-1 1-5 1 0 1-7 1 3 1-4 1-12M176 183l1 7 1 5 1-6 1-2 1 0 1 8 1 4 1-4 1-14M185 181l1 9 1 5 1 6 1 1 1-9 1 4 1-7 1-5 1 8 1-7 1-1 1-4M209 184l1 7 1-3 1-9M8 360l1 25 1-2 1-5 1-17M37 299l1-12 1 9M42 303l1-9 1-20 1 18 1-11 1 14M48 309l1-19 1-19 1-23 1 6 1-8 1 0 1-5 1 6 1-5 1 11 1 0 1 13 1-1 1 10 1-11 1 5 1 3 1 8 1 6 1-13 1 24M75 353l1 14 1-8 1 2 1-44 1-59M98 156l1-20 1-3 1-9 1 5 1 6 1 6 1 7M167 143l1-3 1-4 1 9M172 142l1-6 1-6 1-5 1-5 1 2 1 13 1 3M35 304l1-24 1-17 1-4 1 28 1-5 1 19M43 295l1-5 1-7 1-7 1-18 1 8 1-7 1 8 1 3 1 0 1 18 1-6 1-3 1-15 1-16 1 9 1 21 1 20M65 293l1-23 1 14 1 10M69 291l1-11 1 7M73 290l1-17 1 11M78 262l1-22 1-27 1-20 1-12 1-3 1 11M101 155l1-9 1-11 1-2 1-9 1 3 1-3 1-4 1 6 1 3 1-1 1-2 1-4 1-5 1 2 1 0 1 0 1 2 1 1 1 7 1 6 1 3 1 6M131 141l1-4 1-3 1 2 1 4M135 140l1-9 1-2 1 6 1-5 1 7 1 10M192 171l1 16 1-8M199 181l1 10 1-3 1 4 1 5 1-1 1 0 1-4 1-11M10 371l1 6 1 2 1 7 1-4 1-1 1 4 1 1 1 10 1 2 1-21M34 291l1-1 1-15 1 4 1 11 1 23M79 267l1-45 1-19 1-13 1 15M90 175l1-12 1-3 1 7M94 168l1-13 1-2 1 0 1-11 1 0 1 12M32 294l1-4 1-2 1-18 1 3 1-20 1 15 1 12 1 8 1-8 1 8 1 12M46 304l1-18 1-15 1-2 1 10 1 8 1-1 1-2 1 3 1-18 1-18 1-6 1-9 1-1 1 3 1 10 1 9 1-3 1 10 1 1 1-2 1 17 1-4 1-14 1 20 1-14 1 8 1 5 1 8M75 295l1-31 1 3M78 263l1-35 1-39 1-15 1-7 1 4 1-1 1-10 1 4 1 16M89 177l1-6 1-7 1 1 1-4 1-10 1-8 1-3 1 8 1 5 1 3M101 151l1-13 1-3 1 2 1-5 1 6 1-3 1-6 1 2 1 2 1 1 1-5 1-3 1 4 1-2 1 2 1 1 1 4 1 13M159 184l1 4 1 3 1-7M0 273l1 6 1 0 1 7 1-16 1-13 1 24 1 4 1-10 1-2 1-1 1 12 1-4 1-2 1 15 1 7M20 297l1-6 1-4 1 9M26 303l1-24 1-15 1 7 1 6 1 11 1 2M51 298l1-23 1 2 1 4 1-1 1 1 1-7 1 9 1 13M59 296l1-13 1-12 1 8 1 6 1-10 1-2 1-6 1 17 1 18M126 146l1-12 1-3 1 4 1-5 1 5 1 2 1 2M150 139l1-8 1 9M200 182l1 15 1 0 1-1 1-3 1-1 1-1 1-3 1-8M218 170l1 16 1-1M18 299l1-10 1 16M20 305l1-22 1-2 1 12 1 2M25 293l1-20 1 12 1 5 1 0 1-1 1 12M43 296l1-2 1-3 1-8 1 15M47 298l1-16 1-4 1 12 1 1 1 2M119 176l1 16 1-5 1-4M124 175l1 12 1-4 1-1 1 3 1-5M133 178l1 7 1 7 1-1 1-7 1-4M138 180l1 5 1-10M205 180l1 8 1-1 1 5 1-5 1 4 1-8M0 364l1 16 1 1 1 5 1-6 1 16 1 0 1 0 1-16 1-16M12 364l1 20 1 2 1-10 1-2M79 260l1-50 1-21 1-9 1 11 1-4M92 176l1-19 1 0 1 8M95 165l1-11 1 8M102 158l1-14 1 14M113 143l1-5 1-4 1 5 1 1 1 2M199 141l1-10 1 2 1-8 1-1 1 0 1-6 1 1 1-3 1 1 1 2 1-2 1-1 1 1 1 7 1-2 1-1 1 5 1-2 1 1 1-8 1 8M75 367l1 7 1 17 1-6 1-25 1-55 1-26M82 266l1-5 1-15 1-4 1-7 1 1 1 3 1-4 1-11 1-6M187 181l1 4 1 4 1 10 1 3 1 3 1-3 1 1 1 1 1-2 1 9 1 0 1-1 1-8 1-4 1-4 1 4 1 9 1-10 1-2 1-2 1 0 1 1 1-2 1-1 1 0 1-2 1 0 1 4 1 7 1-4 1-6 1-2 1-12M11 295l1-3 1-9 1 11 1 9M23 376l1 4 1 11 1-8 1 6 1-8M28 381l1 8 1 9 1-19M47 297l1-24 1-7 1 13 1 2 1-14 1-11 1-2 1 15 1 6 1 1 1 9 1-6 1-11 1 7 1 6 1-5 1 9 1 3M65 288l1-10 1-7 1 18M92 209l1 8 1-8M196 177l1 18 1-4 1 0 1 0 1-8M77 320l1 15 1-38M96 199l1 10 1-12M28 376l1 12 1-5M30 383l1 19 1-5 1 9 1 14 1-15 1 13 1 8 1-6 1-6 1 16 1-13 1-16 1 3 1 0 1-16 1-5 1 7 1 7 1-2 1 0 1 7 1 4 1 6 1-3 1-3 1 6 1-3 1-11 1 3 1 8 1 8 1 0 1 6 1 11 1-8 1-22 1-3 1 4 1 3 1-7 1-15 1-7 1 9 1-3 1-16 1-17M76 352l1 1 1-5 1-40M27 299l1-18 1 4 1-2 1-4 1 0 1-9 1-3 1 8 1-7 1 0 1-6 1-2 1 8 1 4 1-2 1 1 1-4 1 12 1 21M62 289l1-6 1-18 1-12 1-6 1 3 1 13 1 7 1 22M80 245l1-42 1-14 1-1 1-7 1 1M126 140l1-3 1-3 1-8 1 6 1 2 1 4 1 4M187 145l1-14 1 1 1 6 1-3 1 4 1 5M6 373l1 11 1 8 1-11 1-5 1-12M36 300l1-25 1 9 1 8 1 0 1 8M79 267l1-45 1-24 1-23 1 6 1-2 1 0 1 5M127 178l1 6 1 0 1-1 1 2 1-7M132 178l1 7 1-3 1-1 1-1M21 366l1 13 1 5 1-8M54 373l1 24 1-23M77 328l1 14 1-33M104 188l1 10 1 1 1-5 1 5 1 0 1-3 1-1 1-2 1-10M127 141l1-9 1 4 1-9 1 3 1 3 1 0 1-3 1 4 1 1 1 8M137 143l1-15 1 5 1-4 1 2 1-1 1 1 1-4 1 2 1-5 1-4 1 5 1 3 1 7 1 5M152 141l1-5 1-5 1 0 1-2 1 0 1-7 1-5 1-4 1-6 1 5 1-2 1 4 1 8 1 0 1 11 1 8M205 144l1-6 1-4 1 15M3 370l1 9 1 7 1-9 1-5M35 297l1-15 1 3 1 38M71 367l1 18 1-4 1 5 1-4 1 1 1-4 1-14 1-34 1-51M103 152l1-5 1-2 1-4 1 1 1 5M119 143l1-5 1-1 1 0 1 1 1-3 1 4M148 183l1 3 1 6 1 1 1 4 1-6 1-9M157 180l1 9 1 2 1-4 1-2M162 184l1 7 1 8 1-5 1 4 1-7 1 2 1-7 1 6 1-3 1-1 1-3 1 0 1-2M21 370l1 15 1 12 1 21 1-19 1 4 1-14 1 1 1 10 1 2 1-8 1-7 1-7M36 369l1 36 1-20 1 3 1 7 1 18 1-17 1-25M54 365l1 23 1-26M80 242l1-30 1-11 1-2M87 181l1-17 1 0 1 6 1 0M91 170l1-4 1-11 1 14M133 171l1 15 1 1 1-5 1-1 1 4 1 0 1 7 1-10M188 141l1-4 1-2 1-3 1 6 1 3M217 140l1-5 1 3 1 5M79 269l1-44 1-15 1-16 1 3M87 182l1-13 1 3 1-4 1 0 1 4M132 175l1 7 1 5 1 0 1-4 1-3M137 180l1 6 1-5 1-10M147 180l1 5 1 2 1-2 1 3 1 5 1-6 1-8M174 182l1 4 1 5 1-7M177 184l1 11 1 1 1-1 1 5 1 0 1-7 1-5 1-3M185 185l1 6 1 1 1 3 1-3 1-1 1 1 1-4 1-11M33 293l1-9 1 11M35 295l1-18 1 6 1 6 1-30 1-2 1 0 1 15 1 7 1-4 1-8 1 19 1 20M181 143l1-7 1-5 1-2 1 6 1 5M188 142l1-6 1-9 1-1 1 4 1-5 1 1 1 6 1 5 1-4 1-4 1 6 1 4M217 150l1-13 1-7 1 5M0 283l1 1 1-11 1 2 1-1 1 4 1 4 1 10 1 0 1 20M30 379l1 5 1 28 1-17 1-11 1-13M43 370l1 24 1 5 1 11 1 4 1-4 1 13 1-19 1-9 1 2 1 9 1-19 1 4 1 3 1-2 1 7 1 1 1-25M88 176l1-8 1-7 1-2 1-1 1-7 1 1 1 6 1-9 1 0 1 7M0 281l1 14M1 295l1-9 1 6 1 13M95 203l1 9 1 8 1-2 1 5 1 1 1 5 1-7 1-4 1 1 1 1 1 5 1-2 1-4 1-2 1-6 1 0 1-3 1-7 1-17M146 176l1 10 1 2 1 2 1-1 1-2 1-9M176 144l1-10 1 6M178 140l1-7 1 0 1 3 1-2 1-1 1-4 1 10M0 277l1 2 1 14M2 293l1-4 1 0 1-7 1-3 1-4 1 3 1 5 1-11 1 9 1 12 1 8M24 306l1-20 1-7 1 8 1 15M54 375l1 19 1 6 1-7 1 3 1 3 1-4 1-15 1 16 1-20 1-13M76 354l1-5 1-9 1-38M126 178l1 6 1 4 1-5 1-6M169 148l1-8 1-7 1-1 1-7 1-7 1-4 1 2 1 0 1 4 1 6 1 8 1 5M190 147l1-12 1 3 1 3M0 265l1-10 1 12 1-8 1 2 1 4 1-1 1 16 1 4 1 12M10 302l1-13 1 13M35 293l1-7 1 18M42 300l1-8 1-7 1 7 1 20M64 296l1-20 1 1 1-8 1-4 1-6 1 8 1 18 1-9 1 4 1-13 1 14 1 2M79 250l1-53 1-12 1-14 1 6 1-4 1 6 1-2M91 174l1-11 1-2 1 1 1-13 1-7 1-6 1-4 1-4 1 1 1 3 1 4 1 1 1 3 1-4 1-1 1-2 1 8 1 2 1 1M110 144l1-5 1-5 1-4 1-4 1 2 1 6 1-3 1 5 1 5M124 140l1-7 1-3 1-9 1 11 1-4 1 8 1 10M156 141l1-5 1 2 1-3 1 1 1 2 1-4 1 0 1 9M175 177l1 11 1 0 1 0 1 3 1-12M32 379l1 10 1-5 1 2 1 1 1-36M76 340l1 17 1 4 1-24 1-57M84 243l1-1 1-10M86 232l1 4 1-8 1 7 1-16M0 401l1 4 1 0 1-11 1 2 1-1 1 7 1 6 1 8 1 6 1 5 1-22 1 5 1-10 1-1 1-11 1 6 1 12 1 8 1 0 1 6 1 3 1-5 1-1 1-8 1 8 1 2 1-14 1 0 1 3 1-2 1-23M31 383l1 20 1-1 1-12 1-2 1 3 1 6 1 12 1-3 1-7 1-12 1-15M62 372l1 11 1-5 1 2 1 7 1-13 1-13M69 367l1 8 1 2 1-18M72 359l1 19 1-15M76 353l1-5 1-7 1-39M135 180l1 3 1 1 1 1 1 13 1-4 1 0 1-10 1-6M197 181l1 7 1 12 1 2 1 0 1-3 1-6 1-10M211 184l1 5 1-7M0 378l1 2 1-9M20 369l1 13 1-3 1 5 1 2 1 0 1-9M38 365l1 18 1 1 1 16 1 10 1 0 1-11 1 13 1 4 1-7 1 4 1 3 1-7 1 2 1-5 1-1 1-12 1 15 1-7 1 5 1-4 1 3 1-1 1-9 1-8 1 17 1-5 1-24 1-1 1 0 1 5 1 5 1-8 1 5 1 16 1 0 1-2 1 3 1-6 1 5 1-9 1-31 1-67M181 182l1 6 1 1 1 6 1-5 1-8M8 360l1 20 1 9 1-19M142 171l1 13 1 6 1-6 1-3M146 181l1 8 1 0 1-8M154 183l1 10 1 4 1-1 1 1 1-11 1-8M163 176l1 10 1-1 1 6 1-6 1 1 1 0 1 3 1-7M9 368l1 14 1 4 1 0 1 6 1-12 1-3 1 0 1-2M24 373l1 18 1 2 1-1 1-1 1-37M56 375l1 16 1-18M76 337l1 13 1-14 1-21M140 143l1-9 1 6M76 347l1 15 1-9 1-22 1-64M91 215l1 5 1-2 1-9M95 204l1 11 1 1 1-5 1-9 1-10M101 190l1 12 1-7M106 188l1 9 1 1 1-4 1 0 1-6M115 185l1 8 1-3 1-8M160 148l1-12 1 4 1 3M165 142l1-3 1-1 1-7 1 2 1-2 1 0 1 1 1 5 1 2 1 5M216 141l1-10 1 5 1-1 1-7M24 303l1-14 1-16 1 7 1 6 1-6 1-5 1 2 1 5 1 31M116 146l1-6 1-6 1 1 1 7M141 145l1-8 1-5 1 1 1-7 1-2 1 4 1 2 1 3 1-2 1 9M177 140l1-6 1-1 1-1 1 6M79 269l1-54 1-16 1-24 1-6 1 16M84 185l1-11 1 3M86 177l1-2 1-7 1 1 1 5M93 166l1-14 1-9 1-8 1-1 1-3 1 0 1 7 1 4 1 0 1-8 1-4 1 3 1 10 1 13M131 149l1-22 1 3 1 3 1 2 1-3 1 6 1 2M138 140l1-8 1-7 1-1 1 0 1 4 1 8 1 1 1 6M147 143l1-12 1 6 1 9M196 177l1 7 1 2 1 3 1-1 1-2 1 4 1-9M207 184l1 6 1-4 1 9 1 3 1 0 1-7 1 1 1 0 1-5 1-6M77 329l1 8 1-42M80 245l1-32 1-7 1-5M89 220l1 6 1 0 1-11M111 190l1 5 1 4 1 12 1-10 1 0 1 3 1-10 1-8 1 6 1-5 1 0 1-3 1 4 1 3 1-11M157 142l1-4 1-4 1 2 1 5M164 144l1-7 1-8 1 1 1-3 1-9 1-6 1 10 1 4 1-4 1-4 1 0 1 1 1 4 1 0 1 5 1-1 1-1 1-4 1-2 1-8 1 2 1 2 1 1 1-7 1 4 1 2 1-3 1-5 1 3 1 17 1 2 1 11M196 141l1-8 1 2 1-5 1 6 1 6M0 277l1 13 1-5 1 8 1-1 1 7M5 299l1-10 1 7M73 363l1 25 1 6 1-6 1-7 1 9 1-41 1-54M83 240l1 4 1 1 1 2 1 0 1-2 1 0 1 1 1-15 1 4 1-11 1-3 1-2 1-7 1-2 1 4 1-7 1-10M110 144l1-4 1-2 1 4M200 141l1-8 1 6M60 363l1 13 1-1 1 4 1 0 1-1 1-25M73 368l1 17 1-13 1 5 1 16 1 7 1-46 1-65M115 182l1 7 1 2 1 2 1-9M123 182l1 12 1-1 1-2 1-6 1-11M172 182l1 8 1-1 1-1 1-9M75 358l1 0 1-8 1 10 1-41 1-55M109 189l1 8 1 5 1-4 1-11M119 185l1 2 1 0 1 2 1 7 1-3 1 6 1 1 1-6 1-3 1 2 1-14M63 361l1 18 1-4 1-7M67 367l1 12 1-6 1-4M80 231l1-18 1-14 1-9 1 2M92 215l1 3 1 0 1-19M191 182l1 6 1-9M216 180l1 3 1 8 1-2 1-8M68 369l1 12 1-3 1-8M71 370l1 2 1 4 1-15M75 367l1 6 1 8 1 0 1-20 1-59 1-34M85 235l1 7 1-5 1-1 1-6 1-2 1-8 1-10M110 146l1-10 1 0 1-6 1 4 1 5 1-4 1 1 1 5 1 1M125 141l1-4 1-2 1-4 1-5 1 3 1 1 1-5 1-1 1 5 1 13M215 178l1 6 1 2 1 2 1-4 1-4M11 357l1 22 1 13 1 4 1-2 1 20 1-13 1 3 1-18 1 2 1 8 1-3 1-3 1-20M27 373l1 13 1 4 1-8M35 384l1 6 1-12M77 343l1 7 1-35M141 178l1 10 1-1 1-6M144 181l1 9 1-5 1 4 1 0 1-7M199 143l1-7 1-17 1-2 1 5 1-5 1-3 1 9 1 5 1 6 1 9" vector-effect="non-scaling-stroke"/><path d="M0 332.3L0.37 332.6L0.73 332.9L1.1 333.2L1.47 333.3L1.83 333.3L2.2 333.4L2.57 333.4L2.93 333.4L3.3 333.3L3.67 333.1L4.03 333L4.4 333.2L4.77 333.4L5.13 333.6L5.5 333.9L5.87 334.3L6.23 334.3L6.6 334.2L6.97 334.2L7.33 334.1L7.7 334L8.07 334L8.43 334.1L8.8 334.1L9.17 334.2L9.53 334.3L9.9 334.5L10.27 334.5L10.63 334.5L11 334.5L11.37 334.4L11.73 334.4L12.1 334.4L12.47 334.5L12.83 334.6L13.2 334.9L13.57 335.4L13.93 335.9L14.3 336.4L14.67 337L15.03 337.5L15.4 337.7L15.77 337.8L16.13 338L16.5 338.1L16.87 338.2L17.23 338.3L17.6 338.4L17.97 338.5L18.33 338.2L18.7 337.8L19.07 337.5L19.43 337.4L19.8 337.3L20.17 337.2L20.53 337.1L20.9 337L21.27 337L21.63 336.9L22 336.8L22.37 336.9L22.73 337L23.1 337.1L23.47 337.1L23.83 337.2L24.2 337.3L24.57 337.6L24.93 337.8L25.3 338L25.67 338.2L26.03 338.4L26.4 338.5L26.77 338.5L27.13 338.4L27.5 338.1L27.87 337.8L28.23 337.9L28.6 338.2L28.97 338.4L29.33 338.3L29.7 338.1L30.07 337.9L30.43 337.8L30.8 337.7L31.17 337.6L31.53 337.4L31.9 337.3L32.27 337.6L32.63 338L33 338.4L33.37 338.1L33.73 337.7L34.1 337.3L34.47 336.9L34.83 336.5L35.2 336.4L35.57 336.3L35.93 336.3L36.3 336.6L36.67 337L37.03 337.4L37.4 337.3L37.77 337.3L38.13 337.3L38.5 337.5L38.87 337.7L39.23 337.7L39.6 337.7L39.97 337.7L40.33 337.9L40.7 338L41.07 338.1L41.43 338L41.8 337.8L42.17 337.6L42.53 337.4L42.9 337.1L43.27 337.2L43.63 337.3L44 337.4L44.37 337.9L44.73 338.3L45.1 338.6L45.47 338.5L45.83 338.3L46.2 338.3L46.57 338.5L46.93 338.7L47.3 338.6L47.67 338.6L48.03 338.5L48.4 338.2L48.77 338L49.13 337.8L49.5 337.5L49.87 337.2L50.23 336.8L50.6 336.6L50.97 336.3L51.33 336L51.7 335.6L52.07 335.4L52.43 335.6L52.8 335.7L53.17 335.7L53.53 335.5L53.9 335.2L54.27 335.5L54.63 335.9L55 336.4L55.37 336.2L55.73 336L56.1 335.9L56.47 335.9L56.83 336L57.2 336.1L57.57 336.2L57.93 336.3L58.3 336.1L58.67 335.7L59.03 335.4L59.4 335.1L59.77 334.7L60.13 334.4L60.5 334.2L60.87 333.9L61.23 334L61.6 334.2L61.97 334.5L62.33 334.5L62.7 334.4L63.07 334.4L63.43 334.1L63.8 333.8L64.17 333.6L64.53 333.4L64.9 333.2L65.27 333L65.63 332.9L66 332.7L66.37 332.3L66.73 332L67.1 331.7L67.47 331.9L67.83 332.1L68.2 332.1L68.57 332L68.93 332L69.3 331.7L69.67 331.4L70.03 331.1L70.4 331.1L70.77 331.2L71.13 331.2L71.5 331.3L71.87 331.4L72.23 331.5L72.6 331.6L72.97 331.8L73.33 332L73.7 332.1L74.07 332.2L74.43 332.5L74.8 332.7L75.17 332.6L75.53 332.1L75.9 331.5L76.27 331.3L76.63 331.2L77 331.1L77.37 331.1L77.73 331.2L78.1 331.2L78.47 331.2L78.83 310.1L79.2 289.2L79.57 268.3L79.93 252.4L80.3 243.4L80.67 234.4L81.03 225.4L81.4 216.5L81.77 212.5L82.13 211.9L82.5 211.4L82.87 210.9L83.23 210.3L83.6 209.5L83.97 208.8L84.33 207.9L84.7 206.9L85.07 206L85.43 205.2L85.8 204.4L86.17 203.7L86.53 203.1L86.9 202.4L87.27 201.9L87.63 201.4L88 200.8L88.37 199.8L88.73 198.7L89.1 197.7L89.47 196.7L89.83 195.8L90.2 194.9L90.57 194.1L90.93 193.4L91.3 192.5L91.67 191.5L92.03 190.6L92.4 189.6L92.77 188.5L93.13 187.6L93.5 186.7L93.87 185.8L94.23 184.8L94.6 183.8L94.97 182.7L95.33 181.7L95.7 181.1L96.07 180.5L96.43 180.2L96.8 179.8L97.17 179.4L97.53 178.9L97.9 178.3L98.27 177.8L98.63 177.2L99 176.6L99.37 176L99.73 175.3L100.1 174.7L100.47 174.3L100.83 173.8L101.2 173.4L101.57 173.1L101.93 172.8L102.3 172.3L102.67 171.9L103.03 171.7L103.4 171.6L103.77 171.4L104.13 171.2L104.5 171.1L104.87 170.9L105.23 170.7L105.6 170.5L105.97 170.3L106.33 170L106.7 169.7L107.07 169.4L107.43 169.3L107.8 169.2L108.17 169.1L108.53 168.9L108.9 168.7L109.27 168.5L109.63 168.4L110 168.2L110.37 168.1L110.73 168L111.1 167.9L111.47 167.7L111.83 167.5L112.2 167.2L112.57 166.8L112.93 166.4L113.3 166.3L113.67 166.1L114.03 166L114.4 165.7L114.77 165.3L115.13 165.1L115.5 165L115.87 164.8L116.23 164.7L116.6 164.5L116.97 164.3L117.33 164.1L117.7 164L118.07 163.8L118.43 163.6L118.8 163.3L119.17 163.2L119.53 163.1L119.9 163L120.27 162.8L120.63 162.5L121 162.3L121.37 162.5L121.73 162.7L122.1 162.8L122.47 162.7L122.83 162.6L123.2 162.6L123.57 162.5L123.93 162.5L124.3 162.4L124.67 162.2L125.03 162.1L125.4 162L125.77 161.8L126.13 161.6L126.5 161.3L126.87 161L127.23 160.8L127.6 160.6L127.97 160.4L128.33 160.5L128.7 160.5L129.07 160.5L129.43 160.6L129.8 160.6L130.17 160.6L130.53 160.6L130.9 160.6L131.27 160.5L131.63 160.4L132 160.2L132.37 160.2L132.73 160.1L133.1 160.1L133.47 160.1L133.83 160.2L134.2 160.3L134.57 160.4L134.93 160.4L135.3 160.4L135.67 160.3L136.03 160.1L136.4 160.2L136.77 160.2L137.13 160.2L137.5 160.2L137.87 160.2L138.23 160.1L138.6 160L138.97 159.9L139.33 160.1L139.7 160.2L140.07 160.4L140.43 160.4L140.8 160.5L141.17 160.5L141.53 160.5L141.9 160.5L142.27 160.7L142.63 160.8L143 161L143.37 161L143.73 161.1L144.1 161.1L144.47 161.2L144.83 161.2L145.2 161.1L145.57 161L145.93 160.9L146.3 160.9L146.67 160.9L147.03 160.8L147.4 160.8L147.77 160.8L148.13 160.8L148.5 160.7L148.87 160.7L149.23 160.7L149.6 160.6L149.97 160.6L150.33 160.7L150.7 160.9L151.07 161L151.43 161.3L151.8 161.6L152.17 161.7L152.53 161.7L152.9 161.6L153.27 161.6L153.63 161.5L154 161.5L154.37 161.5L154.73 161.5L155.1 161.6L155.47 161.7L155.83 161.9L156.2 161.9L156.57 161.9L156.93 161.8L157.3 161.7L157.67 161.7L158.03 161.6L158.4 161.5L158.77 161.3L159.13 161.2L159.5 161.4L159.87 161.5L160.23 161.6L160.6 161.5L160.97 161.5L161.33 161.5L161.7 161.6L162.07 161.7L162.43 161.7L162.8 161.8L163.17 161.8L163.53 161.7L163.9 161.7L164.27 161.6L164.63 161.5L165 161.5L165.37 161.3L165.73 161.1L166.1 161L166.47 161L166.83 161.1L167.2 161L167.57 161L167.93 160.9L168.3 160.9L168.67 160.9L169.03 160.9L169.4 161.2L169.77 161.4L170.13 161.6L170.5 161.7L170.87 161.7L171.23 161.7L171.6 161.7L171.97 161.7L172.33 161.7L172.7 161.8L173.07 161.8L173.43 161.7L173.8 161.5L174.17 161.5L174.53 161.4L174.9 161.4L175.27 161.4L175.63 161.5L176 161.5L176.37 161.5L176.73 161.5L177.1 161.4L177.47 161.3L177.83 161.2L178.2 161.1L178.57 161.1L178.93 161L179.3 160.9L179.67 160.8L180.03 160.7L180.4 160.9L180.77 161.1L181.13 161.2L181.5 161.1L181.87 161.1L182.23 161.1L182.6 161.3L182.97 161.4L183.33 161.5L183.7 161.6L184.07 161.7L184.43 161.7L184.8 161.8L185.17 161.8L185.53 161.7L185.9 161.6L186.27 161.5L186.63 161.4L187 161.3L187.37 161.4L187.73 161.5L188.1 161.6L188.47 161.6L188.83 161.5L189.2 161.5L189.57 161.6L189.93 161.6L190.3 161.7L190.67 161.8L191.03 161.8L191.4 161.7L191.77 161.6L192.13 161.5L192.5 161.4L192.87 161.4L193.23 161.4L193.6 161.6L193.97 161.7L194.33 161.5L194.7 161.2L195.07 161L195.43 161.1L195.8 161.1L196.17 161.1L196.53 161.1L196.9 161L197.27 161.1L197.63 161.2L198 161.3L198.37 161.3L198.73 161.2L199.1 161.1L199.47 161L199.83 160.8L200.2 160.8L200.57 160.9L200.93 161.1L201.3 161.1L201.67 161.2L202.03 161.2L202.4 161.1L202.77 160.9L203.13 160.9L203.5 161L203.87 161.2L204.23 161.3L204.6 161.5L204.97 161.6L205.33 161.5L205.7 161.3L206.07 161.1L206.43 160.8L206.8 160.5L207.17 160.4L207.53 160.4L207.9 160.4L208.27 160.6L208.63 160.8L209 160.9L209.37 161L209.73 161.1L210.1 161.1L210.47 161.1L210.83 161.1L211.2 161.2L211.57 161.5L211.93 161.7L212.3 161.5L212.67 161.3L213.03 161.1L213.4 160.9L213.77 160.7L214.13 160.6L214.5 160.7L214.87 160.7L215.23 160.7L215.6 160.6L215.97 160.5L216.33 160.4L216.7 160.2L217.07 160L217.43 159.9L217.8 159.9L218.17 159.8L218.53 159.7L218.9 159.6L219.27 159.6L219.63 159.6L220 159.5" stroke="#f00" stroke-width="2" vector-effect="non-scaling-stroke"/></g>
<path d="M1430.4 628.6V942.8" stroke="#000" stroke-width="2.4" stroke-dasharray="7.45 7.6" stroke-dashoffset="7.85" fill="none"/>
<path d="M1324.2 942.8v-3.8M1324.2 628.6v3.8M1350.8 942.8v-3.8M1350.8 628.6v3.8M1377.3 942.8v-3.8M1377.3 628.6v3.8M1403.9 942.8v-3.8M1403.9 628.6v3.8M1430.4 942.8v-3.8M1430.4 628.6v3.8M1457 942.8v-3.8M1457 628.6v3.8M1483.5 942.8v-3.8M1483.5 628.6v3.8M1510.1 942.8v-3.8M1510.1 628.6v3.8M1536.6 942.8v-3.8M1536.6 628.6v3.8M1563.2 942.8v-3.8M1563.2 628.6v3.8M1589.7 942.8v-3.8M1589.7 628.6v3.8M1616.3 942.8v-3.8M1616.3 628.6v3.8M1642.8 942.8v-3.8M1642.8 628.6v3.8M1669.4 942.8v-3.8M1669.4 628.6v3.8M1298.1 904.2h3.8M1695.5 904.2h-3.8M1298.1 864.7h3.8M1695.5 864.7h-3.8M1298.1 825.2h3.8M1695.5 825.2h-3.8M1298.1 785.7h3.8M1695.5 785.7h-3.8M1298.1 746.2h3.8M1695.5 746.2h-3.8M1298.1 706.7h3.8M1695.5 706.7h-3.8M1298.1 667.2h3.8M1695.5 667.2h-3.8" stroke="#6a6a6a" stroke-width="1" fill="none"/>
<rect x="1298.1" y="628.6" width="397.4" height="314.2" fill="none" stroke="#4a4a4a" stroke-width="1.3"/>
<g class="tk" text-anchor="middle"><text x="1297.7" y="959.8">0</text><text x="1324.2" y="959.8">1</text><text x="1350.8" y="959.8">2</text><text x="1377.3" y="959.8">3</text><text x="1403.9" y="959.8">4</text><text x="1430.4" y="959.8">0</text><text x="1457" y="959.8">1</text><text x="1483.5" y="959.8">2</text><text x="1510.1" y="959.8">3</text><text x="1536.6" y="959.8">4</text><text x="1563.2" y="959.8">5</text><text x="1589.7" y="959.8">6</text><text x="1616.3" y="959.8">7</text><text x="1642.8" y="959.8">8</text><text x="1669.4" y="959.8">9</text><text x="1695.9" y="959.8">10</text></g>
<g class="tk" text-anchor="end"><text x="1292.1" y="947.7">0</text><text x="1292.1" y="908.2">1</text><text x="1292.1" y="868.7">2</text><text x="1292.1" y="829.2">3</text><text x="1292.1" y="789.7">4</text><text x="1292.1" y="750.2">5</text><text x="1292.1" y="710.7">6</text><text x="1292.1" y="671.2">7</text><text x="1292.1" y="631.7">8</text></g>
<rect x="1444.4" y="638.3" width="243.8" height="81.4" rx="1.5" fill="#fff" stroke="#3a3a3a" stroke-width="1.4"/>
<path d="M1454.4 648.6H1485.1" stroke="#00f" stroke-width="1.9"/>
<path d="M1454.4 678.9H1485.1" stroke="#f00" stroke-width="4.2"/>
<path d="M1454.4 705.4H1485.1" stroke="#000" stroke-width="2.2" stroke-dasharray="10.1 2.3" stroke-dashoffset="4.5"/>
<g class="lg"><text x="1495.9" y="658.3">CT prevalence</text><text x="1493.4" y="686.8">Mean prevalence</text><text x="1493.4" y="713.3">Intervention start</text></g>
<text class="num" text-anchor="middle" x="1327" y="674.6">7</text>
<text class="xl" text-anchor="middle" x="1474.7" y="1000.1">Time (years)</text>
<text class="yl" text-anchor="middle" transform="translate(1274.1 779.4) rotate(-90)">Prevalence(%)</text>
</g>
<g>
<path d="M1325.5 1020.7V1328.8M1352 1020.7V1328.8M1378.6 1020.7V1328.8M1405.2 1020.7V1328.8M1431.7 1020.7V1328.8M1458.3 1020.7V1328.8M1484.9 1020.7V1328.8M1511.4 1020.7V1328.8M1538 1020.7V1328.8M1564.6 1020.7V1328.8M1591.1 1020.7V1328.8M1617.7 1020.7V1328.8M1644.3 1020.7V1328.8M1670.8 1020.7V1328.8M1299.3 1291H1697M1299.3 1252.2H1697M1299.3 1213.5H1697M1299.3 1174.8H1697M1299.3 1136H1697M1299.3 1097.3H1697M1299.3 1058.5H1697" stroke="#e6e6e6" stroke-width="1.1" fill="none"/>
<g transform="translate(1298.9 1329.7) scale(1.81136 -0.38737)" fill="none" stroke="#00f" stroke-width="1.3" stroke-linejoin="round"><path d="M0 380L1 380L2 380L3 380L4 381L5 381L6 381L7 381L8 381L9 381L10 381L11 383L12 383L13 382L14 383L15 384L16 384L17 384L18 383L19 382L20 381L21 381L22 381L23 379L24 379L25 378L26 378L27 378L28 379L29 379L30 379L31 380L32 380L33 381L34 382L35 382L36 382L37 382L38 382L39 382L40 381L41 381L42 379L43 378L44 378L45 378L46 378L47 378L48 378L49 378L50 379L51 381L52 382L53 382L54 382L55 383L56 383L57 383L58 383L59 383L60 382L61 381L62 381L63 381L64 381L65 381L66 381L67 382L68 383L69 384L70 386L71 386L72 387L73 388L74 389L75 384L76 372L77 357L78 341L79 324L80 307L81 290L82 273L83 255L84 241L85 235L86 231L87 227L88 224L89 222L90 219L91 215L92 212L93 209L94 206L95 204L96 201L97 199L98 197L99 195L100 193L101 191L102 190L103 188L104 187L105 186L106 184L107 183L108 182L109 182L110 181L111 181L112 180L113 180L114 180L115 179L116 179L117 178L118 178L119 178L120 177L121 177L122 176L123 176L124 175L125 175L126 175L127 175L128 175L129 175L130 175L131 175L132 175L133 175L134 176L135 175L136 175L137 175L138 175L139 175L140 175L141 174L142 174L143 173L144 173L145 173L146 174L147 174L148 174L149 174L150 174L151 173L152 173L153 173L154 173L155 172L156 172L157 172L158 172L159 172L160 172L161 172L162 173L163 173L164 173L165 173L166 173L167 173L168 174L169 174L170 174L171 174L172 174L173 174L174 174L175 173L176 173L177 173L178 173L179 173L180 173L181 173L182 173L183 173L184 173L185 173L186 173L187 173L188 173L189 173L190 174L191 174L192 174L193 175L194 175L195 175L196 175L197 175L198 174L199 174L200 173L201 173L202 173L203 172L204 172L205 171L206 172L207 172L208 172L209 172L210 172L211 172L212 173L213 173L214 174L215 174L216 173L217 173L218 173L219 172L220 172L220 128L219 128L218 129L217 129L216 130L215 130L214 130L213 131L212 132L211 132L210 133L209 133L208 133L207 133L206 132L205 131L204 131L203 130L202 129L201 128L200 127L199 127L198 126L197 126L196 126L195 127L194 127L193 128L192 128L191 128L190 128L189 129L188 129L187 129L186 129L185 129L184 129L183 130L182 130L181 131L180 131L179 131L178 131L177 132L176 132L175 132L174 132L173 132L172 132L171 132L170 132L169 132L168 132L167 132L166 133L165 133L164 132L163 132L162 132L161 132L160 133L159 132L158 132L157 132L156 132L155 132L154 132L153 132L152 132L151 132L150 133L149 133L148 133L147 133L146 133L145 133L144 133L143 133L142 133L141 133L140 133L139 133L138 133L137 133L136 133L135 133L134 133L133 132L132 132L131 132L130 131L129 131L128 131L127 131L126 131L125 131L124 131L123 131L122 131L121 131L120 131L119 132L118 132L117 133L116 134L115 135L114 136L113 136L112 136L111 137L110 138L109 138L108 138L107 138L106 139L105 139L104 139L103 140L102 140L101 141L100 142L99 143L98 144L97 146L96 148L95 150L94 153L93 156L92 159L91 161L90 164L89 167L88 170L87 172L86 175L85 178L84 183L83 193L82 207L81 221L80 234L79 247L78 261L77 273L76 285L75 293L74 296L73 296L72 295L71 295L70 294L69 293L68 293L67 293L66 294L65 295L64 296L63 296L62 296L61 297L60 298L59 297L58 297L57 297L56 296L55 295L54 295L53 294L52 295L51 294L50 295L49 295L48 294L47 295L46 295L45 295L44 295L43 294L42 294L41 294L40 293L39 292L38 290L37 289L36 289L35 289L34 288L33 288L32 288L31 289L30 290L29 291L28 291L27 292L26 292L25 293L24 293L23 294L22 294L21 294L20 293L19 292L18 290L17 289L16 288L15 288L14 288L13 287L12 287L11 287L10 287L9 288L8 288L7 287L6 287L5 285L4 283L3 282L2 281L1 280L0 278Z" fill="#00f" stroke="#00f" vector-effect="non-scaling-stroke"/><path d="M3 377l1 25 1-8 1-13M6 381l1 23 1-8 1-1 1 9 1-29M11 375l1 13 1-12M33 379l1 8 1-13M36 378l1 17 1-11 1-25M46 369l1 18 1-4 1 2 1 23 1-6 1 6 1 7 1-17 1-10 1 4 1-15M76 366l1 7 1-7 1-33 1-57M86 230l1 2 1 0 1-15M175 171l1 10 1-7 1-4M178 170l1 9 1 0 1-1 1 1 1-4 1-1 1-3M12 294l1-8 1-6 1-1 1 7 1 11M69 384l1 9 1-8M80 236l1-28 1-14 1 9M130 175l1 5 1 1 1-2 1-4M173 171l1 4 1 2 1 8 1-1 1-7 1-3 1-13M181 169l1 6 1 1 1 0 1 0 1 2 1-5M59 307l1-10 1-6 1 16M67 379l1 6 1 8 1 4 1 5 1 2 1 16 1-7 1 5 1-4 1-4 1-9 1-48 1-57M81 274l1 0 1 2 1-1 1-4 1-8 1-7 1-5 1-10 1-8 1 3 1-1 1-3 1-7 1-1 1-6 1-3 1-3 1-2 1-13 1-1 1-3 1 0 1 4 1 1 1-2 1-4 1 0 1-4 1-6 1 6 1-3 1-3 1 1 1-3 1-7M57 307l1-28 1-5 1 4 1 17 1-3 1 1 1-2 1-3 1 13M79 262l1-46 1-13 1-6 1-10 1-2M185 171l1 4 1 3 1 4 1 0 1 2 1-3 1-8M0 276l1-10 1 7 1 10M3 283l1-6 1 9M58 303l1-9 1 1 1-14 1 3 1 1 1 14M64 299l1-10 1-2 1 4 1-7 1 8 1 4M79 260l1-44 1-25 1 0 1-3 1 9M100 142l1-11 1-4 1-2 1 1 1 5 1 5 1 4M123 167l1 9 1 5 1 0 1-2 1-6M155 142l1-11 1-3 1-2 1 2 1 2 1-5 1 11M198 129l1-7 1 11M29 376l1 13 1 7 1 3 1 0 1-13 1-4M54 375l1 17 1-11M70 386l1 9 1 2 1-14M74 384l1 3 1 1 1 12 1-6 1-37 1-65M96 200l1 1 1 3 1-5 1-5 1 4 1 2 1-7 1-7M41 300l1-11 1 11M66 310l1-24 1-3 1-6 1 7 1-5 1 2 1-10 1-7 1-1 1 4 1 14M78 278l1-33 1-35 1-25 1-3 1 10 1-16 1 2M85 178l1-4 1-3 1-10 1 1 1-8 1-8 1 1 1 11M9 369l1 14 1 11 1-4 1 14 1 1 1-7 1-8 1-21M37 368l1 19 1-5M41 376l1 13 1-18M61 299l1-10 1-3 1 28M79 283l1-58 1-18 1-14 1 10M167 168l1 11 1 5 1-3 1-7M172 174l1 8 1-5 1-1 1 6 1-5 1-6M184 171l1 6 1 1 1 2 1-16M40 380l1 4 1 0 1 12 1 1 1-8 1-9 1 6 1 7 1-15M60 379l1 24 1-4 1-3 1-7 1-14M76 362l1-4 1 4 1-46M98 191l1 7 1 3 1-4 1-3 1 4 1-12M105 185l1 1 1-2 1 5 1 0 1 2 1 1 1 10 1 2 1 0 1-4 1-9 1 10 1 1 1-1 1-3 1-3 1-11 1-8M191 172l1 9 1-4 1-4M196 175l1 5 1-1 1 0 1-1 1-9M211 169l1 10 1-6M57 304l1-8 1-5 1 4 1-1 1-4 1 22M77 341l1 11 1-62M79 290l1-65 1-14 1-11 1 4M111 138l1-8 1-6 1 5 1 2 1 4M158 142l1-16 1-1 1 0 1-4 1-7 1 0 1 7 1 0 1-3 1-3 1-1 1 3 1-7 1 3 1-3 1 2 1-4 1-6 1 3 1 7 1 3 1-5 1-3 1 4 1 9 1 0 1 4 1 7M3 375l1 10 1 0 1 2 1-15M47 298l1-10 1 4 1-1 1-4 1-14 1 0 1-5 1 18 1 23M108 139l1-8 1-1 1 4 1 10M168 137l1-13 1 6 1-4 1 3 1-6 1 4 1-2 1 2 1 11M194 173l1 6 1-1 1 5 1-4 1 0 1-6M8 295l1-14 1 16M19 297l1-12 1-3 1-7 1-2 1 14 1 3 1-16 1 11 1 7M46 316l1-29 1 2 1-2 1-13 1-6 1-2 1 18 1 5 1 12M57 297l1-8 1 2 1 17M80 241l1-35 1-13 1-13 1-5 1-9 1 8 1 4M77 351l1 1 1-46M133 167l1 11 1 2 1 1 1 0 1-2 1 3 1-1 1 1 1 8 1-1 1-5 1 0 1-3 1 1 1-2 1 3 1-4 1-1 1 7 1-3 1 6 1-1 1 4 1-6 1-5 1 6 1-1 1 0 1-1 1-2 1 3 1-6 1-1 1 7 1 5 1-8 1 1 1-6 1-9M54 373l1 18 1-7 1-13M72 307l1-22 1-16 1 1 1 9 1 10M78 297l1-61 1-46 1-19 1-7 1 3 1 5 1-12 1-3 1 6 1 0 1 2 1-1M91 164l1-11 1-4 1 1 1-7 1 5M96 148l1-8 1-3 1-1 1 1 1-1 1-4 1 9M142 172l1 6 1 3 1 1 1-7 1-3M39 296l1-10 1 0 1 22M191 165l1 14 1 2 1-4 1 5 1-1 1-6M2 301l1-20 1-17 1 5 1 5 1 6 1 16M89 172l1-9 1-4 1-4 1-6 1-8 1 0 1-3 1 3 1 0 1 1 1 2M104 146l1-9 1-3 1-1 1 4 1 7M6 368l1 18 1 2 1-9M39 292l1-12 1-2 1-18 1 5 1-2 1 4 1 7 1 13 1 7M48 294l1-2 1-3 1 1 1 9M68 383l1 16 1-6 1-21M75 369l1 19 1-7 1 2 1-50 1-54M214 132l1-3 1-5 1 0 1-2 1 8M219 130l1-10M43 374l1 10 1-10M124 134l1-7 1 1 1-1 1-1 1-3 1 8M130 131l1-6 1 5 1-6 1 1 1 5 1-4 1-7 1 1 1-4 1 4 1 2 1 6 1 6M0 267l1 8 1 25M25 356l1 26 1 1 1 13 1 10 1-15 1 11 1 1 1-9 1 2 1-4 1 7 1 8 1-13 1-9 1-28M80 245l1-42 1-10 1-1 1 6M160 167l1 14 1-6 1-3M209 172l1 9 1 0 1-4 1-1 1-7M18 296l1-11 1 2 1 6 1 1M28 293l1-11 1 9M30 291l1-7 1 0 1-5 1 8 1 6M43 294l1-9 1-3 1 4 1 16M47 302l1-12 1 4 1-9 1 10M54 305l1-17 1-3 1 20M80 244l1-26 1-19 1 5M125 175l1 3 1 0 1 2 1-11M201 173l1 3 1 13 1 1 1-3 1 0 1-3 1 3 1 4 1-7 1-2 1-5 1-2 1 4 1 1 1-2 1 5 1-1 1 6 1-3M63 302l1-7 1-11 1 5 1 1 1-3 1-9 1 8 1-6 1 6 1 4 1 18M79 286l1-59 1-23 1-4 1-9 1 1M141 172l1 7 1 0 1-6M145 166l1 9 1 3 1 1 1-10M168 133l1-8 1 5 1-5 1 2 1 2 1 0 1 6M34 297l1-14 1 21M76 361l1 8 1 6 1-41 1-63M135 169l1 7 1 6 1 5 1 1 1-3 1-8 1 5 1 4 1-3 1 6 1 0 1-1 1 2 1-3 1 3 1 2 1-6 1-1 1-5 1-1 1-10M156 169l1 5 1 3 1-1 1-5M162 169l1 6 1 3 1 3 1-6 1-6M189 168l1 7 1 4 1 4 1 1 1-2 1 1 1-5 1 3 1-4 1-2 1 4 1-8M204 169l1 5 1 8 1-3 1 4 1-8 1 7 1-1 1-4 1-10M213 167l1 14 1 4 1-5 1-6 1 2 1-11M28 309l1-19 1-9 1 28M33 306l1-24 1-18 1 7 1 18M37 289l1-1 1-21 1 18 1-4 1-3 1 6 1 21M45 304l1-17 1-12 1 4 1 11 1 23M53 303l1-15 1-6 1 16M56 298l1-5 1-9 1-8 1-6 1 8 1 2 1 1 1-4 1 16 1 4M79 279l1-54 1-24 1 8M99 143l1-6 1 1 1-3 1 4 1-5 1-1 1 0 1-4 1-4 1-3 1 1 1-5 1 0 1 6 1 1 1-3 1-5 1 0 1-4 1 0 1-4 1 0 1 3 1-2 1-3 1 0 1 4 1 8 1-4 1 1 1 6 1-2 1 4 1 3 1 4 1 5M135 136l1-6 1 1 1 0 1-8 1-4 1-1 1 1 1 12 1 6M151 135l1-8 1 0 1 11M189 170l1 7 1 2 1 8 1 2 1-8 1 3 1-5 1 0 1 7 1-2 1 0 1 6 1 3 1-5 1-1 1-1 1 3 1-4 1-3 1-10M209 172l1 8 1-5 1-8M63 362l1 25 1-22M79 270l1-56 1-22 1-6 1-5 1 3M94 167l1-18 1-9 1 3 1 10M114 142l1-9 1-8 1-6 1 2 1 7 1 1 1 1 1-5 1-3 1 4 1-3 1 6 1 0 1-1 1 5M170 132l1-5 1 9M194 135l1-9 1-5 1 8M80 235l1-30 1-15 1 17M103 142l1-10 1 3 1 8M109 138l1-7 1 6M112 140l1-9 1-1 1 5M206 171l1 5 1 2 1-2 1-7M64 381l1 3 1 11 1-3 1 1 1 1 1-6 1 8 1-3 1 9 1-10 1 15 1 0 1-3 1 8 1-43 1-69M83 253l1-9 1 2 1-7 1-13M90 218l1 5 1-10 1 0 1-2 1-9M97 199l1 5 1-2 1-3 1-7 1-2M191 128l1-9 1 1 1-1 1 1 1 2 1 4M0 389l1-2 1-18M24 295l1-8 1-4 1 1 1-11 1 1 1 0 1-17 1-3 1 9 1-1 1 13 1-1 1 1 1 13 1-16 1 1 1 21M79 289l1-57 1-30 1-1 1 5M90 165l1-8 1-4 1 0 1 7M150 137l1-7 1-1 1-2 1 3 1-1 1-2 1 2 1 11M159 137l1-8 1-3 1 4 1-11 1 0 1-5 1 3 1 2 1-2 1-5 1 3 1 2 1-2 1 4 1 3 1-2 1 5 1 6 1-2 1 6M12 368l1 24 1-13M77 357l1-11 1-24M84 224l1 16 1-11M139 142l1-11 1-2 1-1 1 4 1 1M1 369l1 19 1-3 1 15 1 4 1 0 1-6 1 4 1 0 1 2 1-7 1 3 1 17 1-4 1 0 1-5 1-1 1-7 1-12 1-5 1-3M42 377l1 7 1-4 1-1 1-22M59 377l1 12 1 12 1-19 1-32M76 366l1 6 1-9 1-47M80 247l1-33 1-20 1-13 1 0 1 4M86 179l1-12 1 11M97 154l1-12 1-5 1 6M122 175l1 2 1 5 1-7M157 170l1 7 1-3 1-5M175 173l1 2 1 5 1 6 1-6 1-4 1 11 1-10 1-3 1 2 1 8 1-7 1-9M75 375l1 8 1 5 1-7 1-61M85 216l1 24 1-5 1-4 1-8 1-5M94 206l1 0 1 2 1-7 1 0 1-8M109 181l1 3 1 0 1 0 1 4 1 2 1-9 1-8M155 168l1 8 1 4 1-7 1-4M50 367l1 22 1 3 1-12M80 251l1-36 1-8M143 170l1 13 1 3 1-6 1 0 1-2 1 8 1-1 1-1 1-7 1 0 1 2 1-11M216 133l1-6 1-8 1 4 1 2M13 375l1 13 1 12 1-21M17 384l1 10 1-11 1 13 1-2 1 3 1-1 1-4 1 1 1 19 1-8 1-2 1-5 1-8 1-4 1-5M128 131l1-4 1-2 1 0 1 0 1-1 1-4 1 4 1 7 1 7M197 127l1-5 1 3 1-2 1 1 1 1 1-2 1 10M64 300l1-11 1-13 1-12 1 17 1-3 1-14 1 12 1 14 1 2 1-5 1 13M79 265l1-60 1-17 1-10 1-5 1-9 1 14M85 178l1-11 1 3 1 1M129 175l1 1 1 4 1-1 1-1 1-3M164 173l1 2 1 4 1-1 1-9M213 166l1 12 1 8 1 3 1-9 1 0 1-6 1-9M17 379l1 9 1 8 1 1 1 10 1 3 1 0 1-17 1-2 1-1 1-8 1-6M51 378l1 16 1-2 1 7 1 3 1 1 1 3 1 13 1-15 1-6 1-1 1-12 1-17M79 275l1-58 1-19 1-6 1-13 1 1 1-4 1 4M93 160l1-12 1-14 1-1 1 5 1 10M99 143l1-7 1 11M107 139l1-8 1-9 1-1 1 3 1 7 1-2 1-5 1 2 1-2 1 8 1-1 1-7 1 4 1 9M124 133l1-8 1-2 1-2 1 4 1-1 1-3 1 7 1 8M209 165l1 11 1 4 1-12M74 374l1 11 1-8 1 23 1-2 1-61 1-61M123 135l1-11 1 9M125 133l1-6 1 0 1 1 1 0 1-4 1 3 1-7 1 7 1 2 1 7M147 134l1-2 1-4 1-13 1-2 1 2 1 10 1-1 1 11M160 136l1-8 1-3 1 3 1 5M22 301l1-14 1 7M24 294l1-9 1-6 1 21M51 303l1-14 1 5M53 294l1-10 1 18M57 306l1-15 1 3 1 26M147 133l1-4 1-3 1-3 1-3 1-1 1 1 1 6 1 8M177 171l1 10 1-16M200 168l1 10 1-3 1-9M33 373l1 10 1 11 1-8 1-9M39 372l1 11 1 3 1-4 1 6 1-3 1-1 1 15 1 4 1 6 1-11 1-6 1-11M77 331l1 16 1-48M80 246l1-30 1-12 1-8M114 171l1 11 1 9 1-7 1-4 1-10M122 173l1 10 1-2 1 1 1 4 1 3 1 2 1-1 1 2 1 1 1-3 1 0 1 2 1 0 1 3 1-2 1-2 1 1 1-2 1-3 1-9 1 2 1-7M172 135l1-6 1 0 1-6 1-5 1 2 1-5 1-1 1-4 1 3 1 5 1-2 1 1 1-1 1-8 1 1 1 1 1 8 1 0 1 7 1 1 1 2M62 380l1 7 1-9M65 380l1 7 1-8M68 372l1 17 1-27M112 142l1-8 1-5 1 5 1-7 1-4 1 1 1 2 1 2 1 9M123 132l1-2 1-4 1 0 1 6M200 170l1 5 1 0 1 2 1-4 1-10M1 289l1-21 1 1 1 0 1 4 1 12 1-14 1 4 1 12 1 5M12 288l1-17 1 0 1-7 1 8 1-6 1 8 1-5 1-2 1 17 1 5 1 8M59 369l1 30 1-2 1-4 1-14M68 376l1 27 1-24M72 376l1 16 1 6 1-2 1-20 1 7 1-24 1-40M86 187l1-19 1-5 1 4M90 165l1-8 1-7 1 2 1-2 1-8 1-4 1 0 1-3 1-2 1 4 1 2 1-9 1 0 1 2 1 5 1 4M113 139l1-10 1-5 1-1 1 2 1 2 1-1 1-6 1-1 1 8 1 2 1 3M146 140l1-9 1-1 1-3 1-3 1 5 1-1 1 7M155 136l1-13 1-8 1 0 1-4 1 3 1 5 1-4 1 0 1 0 1 5 1 4 1-2 1 6 1-11 1-2 1 1 1-1 1 11 1 8M175 133l1-6 1 18M179 137l1-7 1-5 1-6 1-3 1 0 1 7 1-3 1 6 1 4M193 134l1-15 1 5 1-3 1-2 1 2 1-2 1-7 1-1 1 7 1 0 1 3 1 0 1-1 1 4 1 0 1-4 1 2 1 4 1 4 1-2 1 4M0 271l1 3 1-11 1-3 1 5 1 4 1 16 1 11M28 295l1-8 1-14 1 3 1 1 1 9 1-5 1 11M63 296l1-18 1 2 1-1 1 25M76 357l1 2 1 14 1-41 1-55M83 244l1 4 1-7 1 4 1-4 1-7 1-4 1-1 1-6 1 1 1 2 1-4 1-8 1-9 1-3 1-12M144 136l1-7 1-2 1-6 1-4 1 8 1 1 1-1 1-4 1-3 1-4 1-5 1 2 1 3 1 3 1 2 1 0 1 12 1 12M188 168l1 9 1 3 1 0 1-7M29 314l1-28 1-11 1 1 1 5 1-7 1-7 1-10 1-13 1 23 1-1 1 16 1-14 1 1 1 19 1 12M44 300l1-22 1 12 1-18 1 3 1 1 1-2 1-7 1 2 1-9 1 3 1 5 1-7 1 22 1 16M68 302l1-19 1-9 1-1 1-4 1 31M77 346l1 6 1-34M111 174l1 9 1-2 1 5 1 5 1-1 1-3 1-8 1-4M207 138l1-13 1-1 1 8 1 0M211 132l1-7 1-1 1 3 1-5 1 2 1 4 1 5M24 299l1-11 1-9 1-12 1 4 1 4 1-1 1 11 1 8M79 287l1-54 1-25 1-8 1 1M122 175l1 7 1-5 1-3M158 165l1 8 1 4 1-2 1 0 1-4M163 171l1 7 1-1 1 3 1-2 1 4 1 9 1-7 1-6 1 3 1 2 1-2 1-10M176 171l1 9 1-4 1-13M55 363l1 27 1-7M60 374l1 8 1 6 1-2 1-8M79 263l1-49 1-22 1-15 1-4 1 7 1-5 1-9 1 5 1-9 1-4 1-5 1 7 1 0M104 141l1-8 1-4 1 0 1 5 1 9M114 136l1-6 1-2 1 4 1-2 1 0 1 6M131 132l1-1 1-2 1-6 1 3 1 1 1 0 1 10M177 140l1-11 1-3 1 1 1-5 1 2 1 0 1 2 1 3M185 129l1-4 1-5 1 0 1-1 1-1 1-2 1 1 1 3 1 0 1 8M15 295l1-11 1-2 1 3 1 18M58 302l1-14 1 4 1 2 1-6 1-15 1 0 1-10 1-16 1 6 1 0 1 11 1 1 1 12 1 5 1-3 1-14 1 16 1-9 1 17M79 253l1-49 1-21 1 3 1-5 1 2M192 129l1-7 1 6M195 133l1-11 1 1 1-8 1 3 1 0 1 7 1-2 1 1 1-1 1 1 1 0 1 1 1-1 1 3 1 6M64 305l1-17 1 7M67 297l1-23 1 7 1-17 1 13 1-4 1-4 1-12 1 10 1 12 1 7M79 255l1-54 1-28 1-3 1 2 1-6 1 9 1-1 1-1M171 132l1-14 1 0 1 9 1 1 1 7M214 131l1-3 1-9 1 6 1 2 1 9M0 269l1-10 1 10 1 14M3 283l1-3 1 3 1-2 1-18 1-2 1 0 1 0 1-10 1 5 1-10 1 3 1 12 1 9 1 1 1 19M18 290l1-9 1 2 1 10 1-2 1 3M54 363l1 28 1 5 1-4 1 0 1-2 1 4 1 4 1-2 1-8 1-7M80 236l1-20 1-13 1-11 1-1M87 178l1-13 1 8M110 138l1-6 1-5 1 4 1-7 1 1 1 4 1-12 1 3 1 7 1-1 1-1 1 0 1 5 1-7 1 4 1-4 1-5 1 7 1 2 1-1 1-1 1 4 1 2 1 6M196 168l1 9 1 13 1-3 1 1 1 2 1-3 1-4 1 0 1-8 1-6M17 377l1 7 1 12 1-21M51 294l1-23 1-4 1 4 1 13 1 13M59 308l1-15 1-2 1 28M76 337l1 30 1-15 1-28M87 225l1 5 1-7 1-8M98 192l1 6 1-3 1 1 1-7M167 139l1-12 1 6M185 131l1-6 1-5 1 14M200 127l1-4 1 3 1-1 1 3 1 0 1 15M0 389l1-2 1 6 1-3 1-1 1-5 1-21M79 265l1-63 1 3 1-2 1 4M137 134l1-6 1 0 1 6M214 173l1 2 1 2 1 7 1 6 1-3 1-3M53 379l1 18 1-1 1 4 1 5 1 16 1 5 1 1 1-2 1-10 1-16 1-13 1 2 1 3 1-16M71 364l1 26 1 16 1 14 1 14 1-9 1 2 1-2 1-50 1-73M169 137l1-6 1-4 1 11M182 133l1-10 1-6 1 0 1-5 1 9 1 3 1 4 1-2 1 12M17 379l1 18 1-12 1 5 1-13M22 373l1 21 1-3 1-11 1-3M30 369l1 21 1-21M35 380l1 20 1-3 1-2 1 16 1-19 1-21M53 379l1 7 1 19 1-3 1-13 1-13M80 247l1-37 1-7 1-2M189 135l1-14 1 4 1-9 1-1 1 0 1 0 1 8 1 0 1 9M206 133l1-6 1 9M3 376l1 15 1 7 1-14 1-6M8 380l1 6 1 0 1-2 1 7 1 18 1-10 1-10 1-6M33 369l1 14 1 9 1 0 1 0 1-12M79 279l1-51 1-26 1-2 1-1M118 136l1-8 1-1 1 1 1-5 1 2 1 4 1 5M146 136l1-11 1-1 1 3 1-2 1 5 1-6 1-2 1 13M188 168l1 16 1 1 1 6 1-5 1-1 1 4 1 1 1 3 1-11 1 5 1-4 1 2 1-1 1-2 1-2 1 2 1 2 1-3 1-2 1-4 1 2 1-2 1-3M211 172l1 9 1 0 1-1 1 1 1 6 1-1 1 2 1 0 1 4M39 302l1-19 1 20M42 310l1-28 1 11 1 12M46 295l1-5 1 21M49 297l1-7 1 7M51 297l1-12 1 16M75 378l1 4 1-3 1 12 1-64 1-71M143 133l1-2 1-9 1 6 1 0 1 13M151 132l1-5 1-2 1 5 1-4 1-3 1 7 1-3 1 3 1 3M196 129l1-4 1-3 1 2 1 2 1-4 1 3 1 5M79 278l1-63 1-18 1-6 1 0 1-3M95 156l1-13 1-7 1-6 1-2 1-4 1-10 1 4 1-1 1-2 1 1 1 9 1-5 1 0 1 6 1-3 1 5 1-5 1 8 1 1 1-3 1 3 1 8M133 132l1-4 1 8M194 127l1-8 1 8M22 296l1-16 1-1 1-11 1-3 1 17 1-12 1 15 1 19M40 296l1-16 1 23M75 380l1 3 1-11 1 3 1-47 1-63M105 185l1 8 1-3 1-3 1 6 1 4 1-4 1-4 1-8 1-9M117 175l1 4 1 5 1-4 1-2 1-2M163 170l1 8 1-10M167 170l1 12 1 4 1-1 1-15M172 171l1 7 1 2 1 4 1-2 1 5 1-5 1-1 1 6 1-9 1-3 1 0 1 0 1-1 1-8M216 132l1-7 1-3 1 4 1 4M55 295l1-6 1-6 1 14M78 295l1-50 1-31 1-24 1-9 1 6 1-1M86 175l1-10 1-11 1-6 1-7 1-4 1 1 1 2 1-3 1-1 1 2 1-4 1 2 1-7 1 8 1 4M136 170l1 11 1 3 1-7 1-4M209 172l1 7 1 5 1-3 1-8M24 293l1-8 1-14 1 0 1-5 1 2 1 23M80 235l1-29 1-20 1-3 1 5M87 173l1-8 1 13M92 163l1-12 1-8 1-5 1 0 1 3 1 8M3 373l1 14 1-2 1-12M6 373l1 17 1 13 1-2 1-6 1-5 1-12M12 378l1 13 1 17 1-4 1-17 1 7 1-14M18 380l1 15 1 1 1 7 1-11 1 7 1-7 1-14M25 378l1 8 1-12M75 359l1 21 1-8 1-4 1-59M90 219l1-2 1-3 1 4 1-6 1-1 1 9 1-3 1-9 1-4 1-2 1 5 1-14 1-2 1 3 1-6 1 3 1-13M147 137l1-9 1 7M213 172l1 8 1-11M0 381l1 5 1 14 1-20M5 381l1 5 1-1 1 6 1 1 1 2 1-15M39 381l1 11 1-6 1-4 1 3 1 6 1-9 1-21M54 379l1 7 1 4 1-7M74 379l1 7 1-12 1-9 1-12 1-73M79 280l1-49 1-23 1 6M136 135l1-10 1-7 1 1 1-2 1 0 1 3 1 1 1 2 1-1 1 6 1 12M155 171l1 5 1 8 1-6 1-1 1 5 1-5 1-4M172 167l1 11 1 6 1 3 1 3 1-1 1-3 1 3 1-3 1-10 1 0 1-11M0 257l1 6 1 1 1 12 1 4 1 3 1 16M22 375l1 18 1-5 1-8 1-9M48 369l1 10 1 30 1 4 1 15 1 2 1-13 1-25 1-6 1 9 1-4 1-4 1 6 1-4 1-15M79 278l1-55 1-29 1-6 1 14M153 136l1-9 1 3 1-4 1 5 1 11M179 171l1 6 1-2 1 2 1-1 1 0 1 0 1 0 1 6 1-3 1-5 1-5M191 166l1 9 1 9 1 1 1-1 1 1 1 0 1 1 1 4 1-4 1 1 1 3 1-8 1 3 1 0 1-3 1 5 1-5 1-6 1 0 1 4 1-5 1-5M80 236l1-35 1-2 1 4M149 168l1 8 1 2 1-5M168 132l1-12 1-4 1 3 1 1 1-2 1-3 1 5 1 4 1 8M4 291l1-16 1 19M8 291l1-8 1-3 1-16 1 23M17 305l1-17 1-2 1 1 1 22M79 283l1-57 1-27 1-16 1 14M88 170l1-9 1-11 1 8 1-3 1-11 1-5 1-9 1 0 1-4 1-1 1 1 1-5 1 4 1-7 1 6 1-1 1 10 1 5 1-1 1-3 1 5M109 139l1-8 1-5 1 2 1-8 1 7 1 6 1-3 1-2 1-4 1-3 1 0 1-4 1-1 1 2 1 4 1 9M205 160l1 18 1-11M7 287l1-16 1 10 1 10M10 291l1-7 1-11 1-2 1 4 1 17M76 372l1 5 1-15 1-59M113 177l1 5 1 6 1-5 1-1 1 7 1-12M175 133l1-10 1 0 1 1 1-2 1 3 1-4 1-9 1 4 1-4 1 6 1-2 1 4 1-5 1 7 1 6M77 345l1 6 1-39M142 135l1-3 1 0 1 0 1-6 1 1 1 4 1-2 1 1 1 7M158 132l1-1 1-5 1-11 1 0 1 1 1-6 1-2 1-3 1-4 1 0 1 4 1-1 1 4 1 6 1 2 1 5 1-2 1 10 1 5M55 307l1-12 1-17 1 0 1-2 1-6 1 0 1 5 1 16 1-16 1 8 1 28M76 366l1 13 1 13 1-49 1-54M83 251l1 4 1-7 1-2 1-11 1-1 1 5 1-10 1-16M91 213l1 4 1-1 1-2 1-2 1-7 1-2 1-4 1-12M103 186l1 9 1-5 1-8M133 132l1-2 1-2 1 5M166 170l1 8 1-3 1-3M174 173l1 6 1-8M196 171l1 6 1 3 1-9M21 296l1-12 1-21 1-1 1 5 1 3 1 2 1-8 1-4 1 14 1 0 1-16 1 13 1-12 1 8 1 5 1 13 1 4 1 21M79 273l1-56 1-10 1 5M106 148l1-12 1-4 1-2 1 6 1 1M0 269l1 6 1 4 1-15 1 0 1 2 1 6 1-9 1 5 1 7 1 19M10 294l1-16 1-12 1 9 1-6 1 2 1-1 1-11 1 15 1 2 1-10 1 5 1 1 1-4 1 13 1-14 1 3 1 7 1 26M32 295l1-13 1-3 1 10M35 289l1-12 1 13M125 172l1 10 1 1 1 7 1 1 1 2 1-4 1-1 1-5 1-11M143 169l1 9 1-5M163 133l1-2 1-12 1-2 1 3 1 5 1-1 1 4 1 6M179 133l1-5 1-4 1-1 1 5 1 5M190 133l1-7 1-5 1 3 1-6 1-2 1 7 1 7M0 264l1 16M69 294l1-7 1-4 1 17M72 300l1-11 1 17M79 288l1-61 1-14 1-15 1-13 1 8M131 173l1 4 1 6 1-4 1-12M148 172l1 4 1 4 1-5 1 2 1 5 1-9M44 367l1 12 1 0 1 14 1-2 1-1 1-5 1 2 1 7 1 5 1 1 1-12 1-8M78 276l1-36 1-41 1-17 1 0 1-8 1-2 1-11 1 2 1-7 1 4 1-11 1-1 1 12 1 0M117 167l1 12 1 6 1 0 1 1 1-10M168 174l1 1 1 4 1-14M44 306l1-22 1-15 1-9 1 6 1 15 1-2 1 9 1 16M52 304l1-15 1 6M79 272l1-65 1-16 1-9 1-1 1 15M159 172l1 7 1 5 1-6 1-12M24 373l1 9 1 3 1-10M29 377l1 16 1 4 1 14 1-4 1-1 1 1 1 8 1-2 1 2 1-11 1-10 1-1 1 2 1-1 1-19M61 371l1 18 1-5 1-7M100 191l1 5 1-12M215 173l1 5 1-5M24 375l1 13 1-13M27 373l1 9 1-1 1 6 1 2 1-5 1-14M75 378l1-5 1-7 1 0 1-54M105 144l1-6 1-5 1 5M114 136l1-6 1 1 1-6 1-8 1 1 1 7 1 0 1 4 1 7M132 135l1-7 1-2 1 1 1 8M139 133l1-6 1 3 1 3M165 136l1-8 1 1 1 6M168 135l1-9 1 0 1 5 1 8M0 269l1-7 1-9 1 9 1-3 1-1 1 5 1-12 1-9 1 8 1-3 1 2 1-3 1-1 1 11 1 0 1 15 1 23M19 302l1-18 1 9 1-7 1 18M23 304l1-19 1-12 1 10 1-3 1-3 1 25M29 302l1-21 1 16M31 297l1-14 1 11M48 300l1-12 1-12 1 9 1-3 1 24M61 305l1-16 1 21M70 296l1-14 1 17M90 164l1-10 1 5M113 176l1 10 1 3 1-3 1-4 1 6 1 3 1 2 1 3 1-3 1-9 1-5 1 10 1-10 1 2 1-7M128 174l1 6 1 2 1 4 1-11M148 166l1 11 1 3 1 1 1 6 1-5 1-5 1-6M163 172l1 5 1 8 1-7 1-3 1-14M5 294l1-20 1 10 1-6 1 24M22 309l1-20 1 3 1 12M26 292l1-8 1 4 1 0 1-16 1 12 1 3 1-10 1 3 1 0 1 1 1 7 1-1 1-7 1 2 1-3 1 19M46 304l1-15 1 10M75 377l1 9 1-4 1 10 1-54 1-67M104 143l1-6 1-3 1 2 1 2M45 304l1-13 1-6 1 7 1-19 1 0 1-4 1-12 1 8 1 11 1-3 1 3 1 19 1 5M65 299l1-15 1-1 1 25M79 286l1-60 1-19 1-9 1 2M119 176l1 2 1 3 1 3 1-11M34 288l1-7 1 12M38 290l1-18 1 3 1 15 1 1 1 4M54 299l1-13 1 8 1 9M75 354l1 20 1-16 1-12 1-43M80 238l1-30 1-6 1-5M175 138l1-11 1 7M213 131l1-2 1-4 1-3 1 3 1 0 1-2 1 2M13 309l1-22 1-9 1 4 1-6 1 1 1-6 1 9 1 1 1 7 1 12M28 293l1-13 1-9 1 1 1 8 1-5 1 0 1 15M53 297l1-19 1-1 1-1 1 4 1 19M80 234l1-29 1 6M212 173l1 1 1 5 1 5 1-6 1-5M18 381l1 19 1 5 1-2 1-2 1-6 1-2 1 2 1-11 1-5 1-1M34 380l1 7 1-11M43 372l1 16 1 2 1 13 1 12 1-16 1 7 1 11 1-18 1 3 1-6 1 8 1 7 1-9 1 20 1 3 1 4 1 15 1-7 1 4 1 0 1-6 1-24 1-4 1-22 1-15M74 388l1 8 1 1 1 2 1-6 1-46 1-77M73 385l1 16 1-17M123 173l1 9 1-5 1-1 1 0 1 2 1-4M211 132l1-4 1 1 1-3 1 2 1 0 1-5 1 4 1 5M219 132l1-12M10 374l1 17 1-10M17 367l1 19 1 4 1 6 1-4 1-15M26 376l1 11 1-1 1 11 1-8 1-6 1-3M36 377l1 10 1 4 1 4 1-16M40 379l1 8 1-25M58 381l1 7 1 3 1 8 1-2 1-8 1 19 1-11 1-11 1-1 1-12M68 373l1 13 1 7 1 5 1 6 1 4 1-24M75 368l1 11 1-6 1 7 1-68M80 244l1-28 1-8M84 190l1-20 1-10 1 0 1 6 1-6 1-1 1 3M93 157l1-6 1-5 1-5 1-4 1-1 1 12M38 305l1-28 1 25M77 357l1 13 1-28 1-69M140 169l1 10 1 0 1-2 1 9 1 1 1 0 1 0 1 3 1 0 1-4 1 0 1-1 1-10 1-11M164 134l1-4 1-5 1 1 1 6M179 139l1-13 1 2 1-3 1 5M184 129l1-2 1-7 1-6 1 1 1 0 1 3 1-7 1 3 1 2 1-2 1 5 1 0 1 4 1 1 1 3M199 127l1-2 1 0 1 0 1-3 1-7 1 1 1 2 1-7 1 10 1 3 1 5 1 0 1 3M12 300l1-14 1-13 1 5 1 13M21 300l1-16 1 2 1 15M77 348l1 14 1-43M128 173l1 3 1 3 1 3 1 2 1 2 1-1 1-6 1 5 1-3 1 0 1-2 1-1 1-2 1-1 1-1 1 2 1-13M166 133l1-2 1-7 1 10M170 140l1-10 1-4 1 9M216 166l1 10 1 2 1-4 1 3M34 382l1 12 1 10 1 2 1-8 1 1 1-15 1-15M80 235l1-24 1 5M107 181l1 5 1-1 1 1 1-3 1 2 1-10M114 176l1 7 1 1 1-2 1 0 1 1 1-1 1-9M121 173l1 6 1 5 1-7 1 2 1 2 1-1 1-5M130 172l1 4 1 8 1 3 1 4 1-4 1-4 1-5 1 2 1-7M202 169l1 8 1 3 1-7 1 1 1-5M210 171l1 7 1-4 1-6M214 170l1 12 1-7 1-4M0 279l1-7 1-14 1 7 1-12 1 27 1 0 1-2 1-9 1 4 1 11 1-16 1 5 1 3 1-2 1 7 1 5 1 6M58 369l1 17 1 1 1-2 1-3 1 8 1 1 1 19 1 12 1-13 1 6 1-6 1 11 1-6 1-8 1-5 1-11 1-41M77 356l1-6 1-40M135 175l1 4 1 2 1 6 1-1 1 5 1 0 1-6 1 8 1-1 1 0 1-9 1-6 1 0 1-7M58 368l1 18 1 16 1 3 1-4 1 11 1-4 1-9 1 1 1-5 1 5 1 3 1 19 1-10 1-13 1-4 1 3 1-4 1-25M76 369l1-8 1 17 1-38 1-72M146 136l1-5 1-3 1 4 1 1M32 375l1 13 1-9M75 373l1 5 1 7 1-2 1-28 1-72M82 252l1 8 1-11 1-5 1-5 1-12M98 197l1 5 1-10M100 192l1 5 1-3 1-16M120 131l1-3 1 1 1-7 1 11M124 133l1-8 1 3 1 4M158 132l1-9 1 7 1 3M198 173l1 7 1 1 1-7 1 3 1-3 1-4M209 166l1 13 1-1 1-7M36 370l1 16 1 20 1-8 1 0 1-12 1-9M87 225l1 7 1 3 1-13 1-8M102 189l1 5 1 1 1-3 1-8M31 373l1 14 1-20M75 383l1 16 1-4 1 10 1-57 1-60M109 172l1 14 1-3 1-4M208 138l1-6 1-2 1-2 1 0 1-2 1 6M219 130l1-10M13 291l1-12 1 5 1 14M27 315l1-36 1-3 1 5 1 16M33 303l1-24 1 6 1-1 1-9 1 7 1 10M79 272l1-63 1-14 1-18 1 3 1 8M167 171l1 9 1 1 1 9 1-10 1 14 1-12 1-4 1 3 1-14M182 171l1 8 1 0 1 0 1-1 1-4 1 1 1-7M7 378l1 9 1 13 1 2 1 13 1-8 1-5 1 6 1-6 1 16 1 6 1-10 1 5 1-3 1-12 1 1 1 0 1 1 1-9 1-6 1 6 1-8 1 2 1-2 1-3 1-22M64 374l1 14 1 2 1 14 1-3 1-1 1-3 1 10 1 6 1 4 1-10 1 4 1 13 1-14 1 6 1-43 1-80M83 248l1 1 1-5 1-4 1-5 1-4 1-2 1 3 1 4 1-7 1-13 1-1 1-5 1-6 1-14M12 382l1 2 1 7 1-14M17 383l1 17 1-32M77 345l1 2 1-38M139 173l1 3 1-1 1 5 1-2 1-7M187 140l1-16 1 0 1 6M0 382l1 11 1 10 1-1 1-2 1-4 1-21M42 306l1-18 1 0 1 1 1 12M48 308l1-15 1-3 1 5M79 281l1-54 1-8 1-4M161 171l1 3 1 4 1-5M216 173l1 10 1 2 1 0 1-1M0 381l1 16 1-11 1-4 1-10M28 373l1 11 1-1 1-4M31 379l1 13 1 23 1-17 1-14 1 3 1 13 1-2 1-5 1-11 1 16 1-1 1-11 1-9M77 352l1 2 1-39M80 239l1-29 1-21 1 0 1 6M102 146l1-9 1-9 1 5 1 6M21 308l1-18 1-3 1 10M69 305l1-19 1 8 1-12 1 17M141 134l1-5 1 2 1-4 1 3 1 0 1-5 1 7 1-1 1 3M152 137l1-12 1-1 1-1 1 3 1-2 1 11M158 135l1-4 1-5 1 1 1 1 1 14M210 145l1-15 1-3 1 5M54 372l1 18 1-9M56 381l1 11 1 6 1-9 1-17M76 363l1 3 1 0 1-49M80 249l1-34 1-10 1 6M105 142l1-8 1-3 1 7M210 140l1-11 1-2 1-3 1-3 1 3 1 1 1-1 1-3 1 2 1 1M0 388l1 11 1-3 1 14 1-14 1-15M5 381l1 14 1-13 1 4 1-4 1 9 1 26 1-16 1-1 1 12 1-2 1-4 1-11 1-2 1-23M25 365l1 22 1-15M32 372l1 28 1-22M35 369l1 16 1 3 1 7 1 4 1-12 1-17M44 378l1 1 1 12 1-24M79 255l1-40 1-23 1-5 1-11 1-10 1 1 1-8 1-5 1 14 1-1M191 128l1-1 1-8 1 1 1-5 1 0 1 10 1-2 1 3 1 3M31 303l1-19 1-20 1 7 1 8 1 5 1-6 1-2 1-23 1 1 1 10 1 15 1-5 1-7 1 4 1 2 1-2 1-6 1 8 1 15 1 13M56 300l1-11 1 7 1-1 1 6M76 361l1 2 1-24M170 173l1 6 1 1 1-5 1-4M186 169l1 12 1-10M12 293l1-14 1 2 1-6 1-18 1 15 1-5 1 6 1 16 1 9M21 298l1-13 1 14M75 336l1 38 1-7 1 18 1-34 1-96M130 172l1 6 1 0 1 4 1-7M134 175l1 2 1 6 1-1 1-4 1 8 1-3 1 10 1-9 1-2 1 5 1-1 1-3 1 1 1 4 1-8 1-4 1 4 1 1 1 11 1-4 1-7 1-3 1 6 1 3 1-8 1 3 1 6 1 5 1 5 1 5 1 0 1-6 1-1 1-3 1 1 1-5 1-2 1-7 1-2 1-2 1 1 1 4 1 0 1-7 1 9 1-2 1-7 1 1 1 7 1 2 1-1 1-2 1 5 1 3 1 6 1 1 1-1 1-5 1 3 1-11 1-8M77 354l1-4 1-34M134 134l1-13 1 3 1-2 1 2 1-1 1 0 1 6 1-2 1-5 1 4 1 11M163 139l1-10 1-5 1-1 1 2 1 2 1 1 1 0 1 6M173 134l1-6 1-6 1 8 1 4M196 129l1-9 1-7 1-4 1 2 1-3 1 5 1-4 1 3 1 2 1 1 1 1 1-1 1 3 1 9 1-11 1-4 1-2 1-8 1 10 1 6 1-4 1 9 1-6 1 2M33 299l1-12 1-5 1-12 1 14 1-13 1 9 1 25M46 302l1-13 1 18M60 302l1-15 1 20M63 300l1-15 1-6 1-5 1 4 1-4 1 12 1 6 1 13M71 305l1-18 1 16M79 263l1-35 1-23 1 3M157 132l1-2 1-3 1-1 1-2 1 10M191 130l1-3 1-8 1-9 1 5 1-9 1 3 1 0 1 7 1 0 1 9 1 12M211 133l1-6 1-1 1 0 1 3 1 2M13 376l1 8 1 4 1 12 1-8 1 5 1-8 1 12 1-23M30 370l1 16 1 10 1 2 1-13 1-6M50 371l1 24 1-20M77 351l1 4 1-53M106 184l1 4 1-3 1-5M132 137l1-6 1-3 1-3 1 4 1-1 1 0 1 2 1 4M181 173l1 5 1-3 1-5M193 173l1 4 1 4 1 4 1-2 1-5 1 1 1 0 1-4 1-5M215 174l1 6 1 0 1-4 1-3 1-3M29 375l1 6 1 4 1-23M36 381l1 13 1-14M41 381l1-1 1 6 1-3 1-11M48 373l1 12 1 20 1-15 1-5 1-20M119 137l1-8 1-10 1-1 1 12 1-2 1 8M205 167l1 10 1-9M32 371l1 16 1-4 1-2M41 377l1 14 1 7 1 16 1 0 1-4 1-5 1-7 1 0 1-21M50 377l1 19 1 10 1-8 1 1 1-17M76 364l1 6 1-3 1-48M132 137l1-11 1 4 1 5M146 173l1 5 1 8 1-1 1-2 1-1 1-4 1 8 1-7 1 4 1 3 1-2 1-10 1-3M171 174l1 8 1-2 1-1 1 0 1 2 1-6 1-12M180 171l1 9 1 0 1 1 1-1 1 0 1-7M211 170l1 8 1 2 1 0 1 6 1-4 1-2 1 0 1 3 1-5M41 298l1-9 1 0 1 11M44 300l1-11 1 9M48 299l1-9 1 5M77 346l1 18 1-52M103 187l1 2 1 7 1 1 1-4 1-6 1 3 1-2 1 4 1-6 1-2 1 6 1 5 1-4 1-9 1 2 1 3 1 1 1-7 1-5M122 176l1 11 1-3 1-15M134 176l1 11 1-2 1-5 1-4 1-3M156 170l1 9 1-7M158 172l1 8 1-8M1 377l1 6 1 8 1 0 1 2 1-6 1-17M16 377l1 31 1-13 1-1 1 11 1 10 1-10 1-6 1 12 1-23 1-10M27 368l1 19 1 3 1-22M80 240l1-29 1 0M155 171l1 2 1 2 1 2 1-2 1-1 1 3 1-6M0 240l1 0 1 7 1 7 1 0 1 9 1-14 1 12 1 9 1 17 1 6M30 291l1-8 1 1 1-4 1 0 1 5 1-6 1 14M38 290l1-4 1-7 1-7 1-7 1-4 1 10 1 4 1 6 1 23M53 303l1-15 1 7M68 380l1 16 1-7 1-3M71 386l1 20 1 2 1-12 1-29M76 371l1 6 1-15 1-49M125 169l1 8 1 4 1 7 1 7 1 0 1-6 1-4 1 7 1-1 1-4 1-2 1 4 1-6 1-3 1 1 1-5 1-4M168 169l1 7 1 1 1 4 1-2 1-2 1-7M21 313l1-20 1-5 1 18M40 375l1 12 1-5 1-14M76 343l1 28 1-21 1-32M98 190l1 7 1 5 1 1 1-9 1-4 1-14M108 182l1 6 1 7 1-4 1-4 1 7 1 3 1-8 1 2 1 1 1-3 1-5 1-10M128 175l1 6 1-8M170 173l1 7 1-1 1-3 1-3M174 173l1 9 1-7 1 5 1 0 1-8M0 381l1 8 1 8 1 6 1-12 1-6 1 2 1-2 1 13 1-9 1-13M14 379l1 10 1-18M28 313l1-25 1-7 1 5 1 8M66 358l1 26 1 7 1 20 1-3 1-2 1-7 1-17M73 382l1 19 1 8 1 2 1 5 1 5 1-56 1-77M82 256l1 2 1 1 1-5 1-11 1-9 1-8 1-10M89 216l1 4 1 4 1-6 1 4 1 15 1-10 1-16 1-8 1 2 1-4 1 8 1-13 1-6M201 173l1 6 1 0 1 1 1-6 1 0 1-8M48 369l1 15 1-11M50 373l1 10 1 2 1 2 1 5 1 9 1-16 1 3 1 1 1-11M77 338l1 14 1-56M208 168l1 9 1 7 1-2 1-3 1 2 1-7M214 174l1 6 1-7M10 296l1-13 1-3 1-7 1-2 1 4 1-5 1 8 1 3 1 25M25 294l1-5 1-3 1 14M51 299l1-15 1 12M53 296l1-23 1-1 1 9 1-5 1 5 1 24M64 378l1 5 1 1 1 3 1 1 1-20M70 379l1 13 1 6 1 8 1-2 1-7 1-6 1 1 1-14 1-32 1-54M83 255l1-2 1-5 1-19M86 229l1 4 1-1 1 3 1-7 1-11 1 0 1 2 1-13M99 192l1 3 1 1 1-6M103 185l1 3 1 4 1 0 1 0 1 1 1-4 1-6 1-1 1 9 1-3 1 7 1-1 1 9 1-1 1 0 1-3 1 1 1 1 1-1 1-1 1 1 1-2 1 2 1-3 1-5 1-11 1 0 1-2 1-4M158 132l1-4 1-1 1-2 1-1 1 0 1 6 1 3M189 134l1-8 1 0 1-7 1 7 1 5M9 378l1 11 1 8 1 2 1 0 1-5 1-1 1 8 1-8 1 1 1-30M41 379l1 18 1-3 1-15 1-6M52 297l1-10 1 5 1-1 1 8M79 283l1-59 1-19 1-1 1-8M100 143l1-11 1-1 1-1 1-7 1-7 1 10 1-6 1-5 1 1 1-4 1-1 1 3 1 6 1 3 1 3 1-1 1-1 1 0 1 3 1-5 1-8 1 4 1 6 1 2 1 2 1 1 1 0 1-1 1-4 1-1 1 1 1 8M136 141l1-9 1-5 1 0 1-4 1 6 1 15M148 170l1 5 1 8 1 0 1 2 1 0 1-10 1-4M177 138l1-10 1-1 1-4 1 7 1-1 1-5 1-2 1-3 1 1 1 5 1 1 1 1 1 5M0 378l1 11 1 4 1-10 1 4 1-6M5 381l1 6 1 3 1 10 1-4 1-1 1-1 1 4 1-1 1-6 1-1 1-8M18 374l1 21 1-5 1 5 1-17M23 371l1 25 1 4 1-5 1 0 1 5 1-11 1-7 1 0 1-2M32 380l1 12 1-1 1 4 1-3 1 2 1-12M55 295l1-11 1-16 1 5 1 9 1 2 1 4 1 0 1-9 1-1 1-4 1 11 1 6 1-1 1-13 1-6 1-1 1 10 1 14 1-4 1 0 1-21 1-6 1-8 1-38 1-35 1-8 1 1 1-3 1 8 1-2M0 422l1 2 1-3 1-17 1 2 1 10 1-8 1 5 1-10 1-22M31 363l1 19 1 24 1-15 1-15M39 379l1 12 1 0 1-14M42 377l1 8 1 15 1 5 1 8 1-14 1-4 1 6 1-5 1-6 1 11 1-5 1 2 1-5 1 12 1-25M156 135l1-16 1-1 1-1 1 2 1 3 1 8 1 8M175 134l1-6 1-5 1 5 1-6 1-3 1 7 1 4M79 271l1-51 1-21 1-1 1 2M164 173l1 8 1-7 1 2 1-1 1-3M0 268l1-2 1 22M5 287l1-14 1 10 1-17 1 23M10 290l1-12 1-3 1 6 1-18 1-6 1 6 1-2 1 6 1 6 1 3 1 5 1 11 1 2M63 299l1-8 1 18M76 362l1 4 1 4 1-24 1-71M88 220l1 10 1-14M94 205l1 1 1-1 1 2 1-7 1-6M61 309l1-14 1-9 1-6 1-1 1-1 1-9 1 0 1 2 1 5 1-7 1 7 1 7 1 24M79 278l1-51 1-29 1-3 1-4 1-6M88 175l1-17 1-10 1 6 1-8 1 5 1-4 1-6 1-4 1-11 1 0 1-5 1-4 1 7 1 5 1-3 1 0 1 3 1-6 1 11 1 4M108 138l1-5 1 9M192 135l1-8 1-5 1 2 1 1 1-2 1 1 1 0 1 1 1-1 1-5 1-5 1-7 1 7 1 0 1 6 1-5 1 3 1-1 1 9 1-7 1 3 1 2 1 1 1 3 1-5 1-3 1 3 1 4M74 297l1-8 1-22 1-3 1 16M79 257l1-41 1-2 1-4M137 139l1-11 1 2 1-2 1-6 1 0 1-5 1-6 1-5 1 4 1-3 1 9 1 7 1 1 1 2 1 4 1 0 1 2M159 160l1 18 1 1 1-2 1-3 1-7M188 169l1 9 1 3 1 6 1-6 1 0 1 2 1-1 1-7M214 168l1 11 1 0 1 0 1-6M74 382l1 14 1 4 1-18 1 1 1-57 1-68M141 172l1 9 1-8M80 234l1-25 1-7 1-10 1 3M43 375l1 15 1 3 1-20M47 369l1 12 1 6 1-11M65 372l1 10 1 17 1 1 1-5 1-10M77 345l1 4 1-31M105 184l1 3 1 3 1 2 1 1 1 1 1-3 1-6 1-2 1-3" vector-effect="non-scaling-stroke"/><path d="M0 331.3L0.37 331.7L0.73 332.2L1.1 332.5L1.47 332.6L1.83 332.6L2.2 332.8L2.57 333L2.93 333.2L3.3 333.4L3.67 333.6L4.03 333.8L4.4 333.8L4.77 333.9L5.13 333.9L5.5 333.7L5.87 333.6L6.23 333.5L6.6 333.5L6.97 333.6L7.33 333.5L7.7 333.4L8.07 333.4L8.43 333.5L8.8 333.7L9.17 333.9L9.53 334L9.9 334.2L10.27 334.1L10.63 333.8L11 333.6L11.37 333.8L11.73 333.9L12.1 334.1L12.47 334.3L12.83 334.5L13.2 334.7L13.57 334.7L13.93 334.8L14.3 334.9L14.67 335.1L15.03 335.3L15.4 335.7L15.77 336.2L16.13 336.5L16.5 336.5L16.87 336.4L17.23 336.6L17.6 336.9L17.97 337.2L18.33 337.2L18.7 337.2L19.07 337.1L19.43 336.7L19.8 336.4L20.17 336.3L20.53 336.5L20.9 336.7L21.27 336.5L21.63 336.1L22 335.8L22.37 335.6L22.73 335.5L23.1 335.4L23.47 335.4L23.83 335.5L24.2 335.4L24.57 335.1L24.93 334.9L25.3 335L25.67 335.3L26.03 335.5L26.4 335.6L26.77 335.8L27.13 335.9L27.5 336.1L27.87 336.4L28.23 336.6L28.6 336.8L28.97 337.1L29.33 336.8L29.7 336.3L30.07 336.1L30.43 336.6L30.8 337.1L31.17 337.3L31.53 337.3L31.9 337.2L32.27 337.1L32.63 337L33 336.8L33.37 336.5L33.73 336.1L34.1 336L34.47 336.4L34.83 336.9L35.2 337.1L35.57 337.3L35.93 337.5L36.3 337.7L36.67 337.9L37.03 338.1L37.4 338L37.77 337.9L38.13 337.7L38.5 337.3L38.87 336.9L39.23 336.6L39.6 336.5L39.97 336.4L40.33 336.5L40.7 336.6L41.07 336.8L41.43 337L41.8 337.2L42.17 337.3L42.53 337L42.9 336.8L43.27 336.9L43.63 337.1L44 337.4L44.37 337.2L44.73 337L45.1 336.8L45.47 336.8L45.83 336.7L46.2 336.8L46.57 337L46.93 337.1L47.3 337.4L47.67 337.6L48.03 337.8L48.4 337.6L48.77 337.5L49.13 337.2L49.5 336.8L49.87 336.3L50.23 336.4L50.6 336.7L50.97 337L51.33 336.7L51.7 336.4L52.07 336.1L52.43 336.1L52.8 336.1L53.17 336.1L53.53 336L53.9 335.9L54.27 336.1L54.63 336.3L55 336.6L55.37 336.7L55.73 336.8L56.1 336.8L56.47 336.8L56.83 336.7L57.2 336.8L57.57 337.1L57.93 337.4L58.3 337.6L58.67 337.8L59.03 337.9L59.4 338.2L59.77 338.5L60.13 338.7L60.5 338.8L60.87 338.8L61.23 338.8L61.6 338.6L61.97 338.4L62.33 338.2L62.7 338L63.07 337.8L63.43 337.5L63.8 337.3L64.17 337.1L64.53 336.8L64.9 336.5L65.27 336.6L65.63 336.8L66 337L66.37 337L66.73 337L67.1 337.1L67.47 337.2L67.83 337.3L68.2 337.3L68.57 337.3L68.93 337.3L69.3 337.7L69.67 338.2L70.03 338.6L70.4 338.5L70.77 338.5L71.13 338.6L71.5 339.1L71.87 339.6L72.23 339.7L72.6 339.6L72.97 339.5L73.33 339.6L73.7 339.6L74.07 339.5L74.43 339.4L74.8 339.3L75.17 339.2L75.53 339.3L75.9 339.3L76.27 339.4L76.63 339.4L77 339.5L77.37 339.4L77.73 339.3L78.1 339L78.47 338.4L78.83 311.6L79.2 285L79.57 258.4L79.93 246L80.3 237.2L80.67 228.5L81.03 219.8L81.4 214.2L81.77 213.1L82.13 212.1L82.5 210.9L82.87 209.7L83.23 208.6L83.6 207.5L83.97 206.4L84.33 205.4L84.7 204.4L85.07 203.5L85.43 202.5L85.8 201.6L86.17 200.6L86.53 199.4L86.9 198.3L87.27 197.3L87.63 196.3L88 195.4L88.37 194.3L88.73 193.3L89.1 192.2L89.47 190.9L89.83 189.6L90.2 188.5L90.57 187.6L90.93 186.7L91.3 185.9L91.67 185.1L92.03 184.3L92.4 183.4L92.77 182.5L93.13 181.5L93.5 180.6L93.87 179.6L94.23 178.5L94.6 177.3L94.97 176.1L95.33 175L95.7 174L96.07 172.9L96.43 171.9L96.8 170.9L97.17 169.9L97.53 169L97.9 168.6L98.27 168.2L98.63 167.8L99 167.3L99.37 167.1L99.73 166.8L100.1 166.5L100.47 166.2L100.83 165.8L101.2 165.5L101.57 165.1L101.93 164.7L102.3 164.6L102.67 164.4L103.03 164.3L103.4 164.1L103.77 163.9L104.13 163.6L104.5 163.3L104.87 162.9L105.23 162.6L105.6 162.3L105.97 162L106.33 161.9L106.7 161.7L107.07 161.5L107.43 161.3L107.8 161L108.17 160.8L108.53 160.6L108.9 160.4L109.27 160.3L109.63 160.2L110 160.2L110.37 159.9L110.73 159.7L111.1 159.4L111.47 159.2L111.83 158.9L112.2 158.7L112.57 158.5L112.93 158.2L113.3 158L113.67 157.8L114.03 157.7L114.4 157.6L114.77 157.5L115.13 157.4L115.5 157.3L115.87 157.2L116.23 157.1L116.6 156.9L116.97 156.8L117.33 156.4L117.7 156.1L118.07 155.9L118.43 155.8L118.8 155.7L119.17 155.5L119.53 155.4L119.9 155.3L120.27 155.2L120.63 155L121 154.9L121.37 154.7L121.73 154.6L122.1 154.6L122.47 154.6L122.83 154.7L123.2 154.7L123.57 154.7L123.93 154.6L124.3 154.5L124.67 154.3L125.03 154.2L125.4 154.2L125.77 154.2L126.13 154.2L126.5 154.1L126.87 154.1L127.23 154L127.6 153.9L127.97 153.8L128.33 153.9L128.7 154L129.07 154.1L129.43 154.2L129.8 154.4L130.17 154.5L130.53 154.6L130.9 154.7L131.27 154.7L131.63 154.6L132 154.5L132.37 154.5L132.73 154.5L133.1 154.4L133.47 154.4L133.83 154.4L134.2 154.3L134.57 154.3L134.93 154.2L135.3 154.2L135.67 154.1L136.03 154.1L136.4 153.9L136.77 153.7L137.13 153.6L137.5 153.6L137.87 153.6L138.23 153.5L138.6 153.4L138.97 153.2L139.33 153.2L139.7 153.2L140.07 153.2L140.43 153.2L140.8 153.2L141.17 153.3L141.53 153.4L141.9 153.5L142.27 153.6L142.63 153.6L143 153.7L143.37 153.6L143.73 153.5L144.1 153.4L144.47 153.4L144.83 153.3L145.2 153.3L145.57 153.2L145.93 153.2L146.3 153.2L146.67 153.2L147.03 153.2L147.4 153.2L147.77 153.2L148.13 153.2L148.5 153.2L148.87 153.3L149.23 153.3L149.6 153.2L149.97 153.1L150.33 153.2L150.7 153.2L151.07 153.3L151.43 153.2L151.8 153.2L152.17 153.2L152.53 153.1L152.9 153.1L153.27 153.1L153.63 153.1L154 153.1L154.37 153.1L154.73 153.1L155.1 153L155.47 152.8L155.83 152.7L156.2 152.5L156.57 152.4L156.93 152.2L157.3 152.3L157.67 152.4L158.03 152.5L158.4 152.6L158.77 152.7L159.13 152.8L159.5 152.7L159.87 152.7L160.23 152.7L160.6 152.7L160.97 152.7L161.33 152.8L161.7 153L162.07 153.2L162.43 153.2L162.8 153.3L163.17 153.4L163.53 153.5L163.9 153.6L164.27 153.6L164.63 153.6L165 153.6L165.37 153.6L165.73 153.5L166.1 153.5L166.47 153.5L166.83 153.6L167.2 153.5L167.57 153.5L167.93 153.4L168.3 153.3L168.67 153L169.03 152.8L169.4 152.8L169.77 152.8L170.13 152.7L170.5 152.7L170.87 152.7L171.23 152.8L171.6 152.9L171.97 153.1L172.33 153L172.7 153L173.07 152.9L173.43 152.8L173.8 152.7L174.17 152.7L174.53 152.8L174.9 152.8L175.27 152.9L175.63 152.8L176 152.8L176.37 152.9L176.73 152.9L177.1 152.9L177.47 152.8L177.83 152.7L178.2 152.7L178.57 152.7L178.93 152.8L179.3 152.6L179.67 152.3L180.03 152.1L180.4 152.1L180.77 152.2L181.13 152.2L181.5 152.3L181.87 152.3L182.23 152.3L182.6 152.3L182.97 152.3L183.33 152.2L183.7 152.2L184.07 152.1L184.43 152.1L184.8 152.1L185.17 152.2L185.53 152.4L185.9 152.6L186.27 152.6L186.63 152.5L187 152.4L187.37 152.3L187.73 152.2L188.1 152.2L188.47 152.3L188.83 152.3L189.2 152.3L189.57 152.2L189.93 152.1L190.3 152.1L190.67 152L191.03 152L191.4 152L191.77 152L192.13 152.1L192.5 152.3L192.87 152.4L193.23 152.4L193.6 152.2L193.97 152L194.33 152.2L194.7 152.4L195.07 152.6L195.43 152.7L195.8 152.8L196.17 152.9L196.53 152.8L196.9 152.8L197.27 152.7L197.63 152.6L198 152.4L198.37 152.4L198.73 152.3L199.1 152.3L199.47 152.3L199.83 152.3L200.2 152.3L200.57 152.1L200.93 152L201.3 152.1L201.67 152.2L202.03 152.4L202.4 152.4L202.77 152.4L203.13 152.5L203.5 152.6L203.87 152.7L204.23 152.7L204.6 152.6L204.97 152.6L205.33 152.7L205.7 152.9L206.07 153.1L206.43 153L206.8 153L207.17 152.9L207.53 152.8L207.9 152.6L208.27 152.6L208.63 152.6L209 152.7L209.37 152.9L209.73 153.2L210.1 153.3L210.47 153.3L210.83 153.3L211.2 153.2L211.57 153L211.93 152.9L212.3 152.8L212.67 152.8L213.03 152.8L213.4 152.7L213.77 152.5L214.13 152.5L214.5 152.7L214.87 152.9L215.23 153L215.6 152.9L215.97 152.9L216.33 152.9L216.7 152.9L217.07 152.9L217.43 152.8L217.8 152.7L218.17 152.7L218.53 152.7L218.9 152.7L219.27 152.7L219.63 152.7L220 152.7" stroke="#f00" stroke-width="2" vector-effect="non-scaling-stroke"/></g>
<path d="M1431.7 1020.7V1328.8" stroke="#000" stroke-width="2.4" stroke-dasharray="6.95 7.5" stroke-dashoffset="1.25" fill="none"/>
<path d="M1325.5 1328.8v-3.8M1325.5 1020.7v3.8M1352 1328.8v-3.8M1352 1020.7v3.8M1378.6 1328.8v-3.8M1378.6 1020.7v3.8M1405.2 1328.8v-3.8M1405.2 1020.7v3.8M1431.7 1328.8v-3.8M1431.7 1020.7v3.8M1458.3 1328.8v-3.8M1458.3 1020.7v3.8M1484.9 1328.8v-3.8M1484.9 1020.7v3.8M1511.4 1328.8v-3.8M1511.4 1020.7v3.8M1538 1328.8v-3.8M1538 1020.7v3.8M1564.6 1328.8v-3.8M1564.6 1020.7v3.8M1591.1 1328.8v-3.8M1591.1 1020.7v3.8M1617.7 1328.8v-3.8M1617.7 1020.7v3.8M1644.3 1328.8v-3.8M1644.3 1020.7v3.8M1670.8 1328.8v-3.8M1670.8 1020.7v3.8M1299.3 1291h3.8M1697 1291h-3.8M1299.3 1252.2h3.8M1697 1252.2h-3.8M1299.3 1213.5h3.8M1697 1213.5h-3.8M1299.3 1174.8h3.8M1697 1174.8h-3.8M1299.3 1136h3.8M1697 1136h-3.8M1299.3 1097.3h3.8M1697 1097.3h-3.8M1299.3 1058.5h3.8M1697 1058.5h-3.8" stroke="#6a6a6a" stroke-width="1" fill="none"/>
<rect x="1299.3" y="1020.7" width="397.7" height="308.1" fill="none" stroke="#4a4a4a" stroke-width="1.3"/>
<g class="tk" text-anchor="middle"><text x="1298.9" y="1345.8">0</text><text x="1325.5" y="1345.8">1</text><text x="1352" y="1345.8">2</text><text x="1378.6" y="1345.8">3</text><text x="1405.2" y="1345.8">4</text><text x="1431.7" y="1345.8">0</text><text x="1458.3" y="1345.8">1</text><text x="1484.9" y="1345.8">2</text><text x="1511.4" y="1345.8">3</text><text x="1538" y="1345.8">4</text><text x="1564.6" y="1345.8">5</text><text x="1591.1" y="1345.8">6</text><text x="1617.7" y="1345.8">7</text><text x="1644.3" y="1345.8">8</text><text x="1670.8" y="1345.8">9</text><text x="1697.4" y="1345.8">10</text></g>
<g class="tk" text-anchor="end"><text x="1293.3" y="1333.7">0</text><text x="1293.3" y="1295">1</text><text x="1293.3" y="1256.2">2</text><text x="1293.3" y="1217.5">3</text><text x="1293.3" y="1178.8">4</text><text x="1293.3" y="1140">5</text><text x="1293.3" y="1101.3">6</text><text x="1293.3" y="1062.5">7</text><text x="1293.3" y="1023.8">8</text></g>
<rect x="1447.5" y="1028.6" width="244" height="81.4" rx="1.5" fill="#fff" stroke="#3a3a3a" stroke-width="1.4"/>
<path d="M1457.5 1038.9H1488.2" stroke="#00f" stroke-width="1.9"/>
<path d="M1457.5 1069.2H1488.2" stroke="#f00" stroke-width="4.2"/>
<path d="M1457.5 1095.7H1488.2" stroke="#000" stroke-width="2.2" stroke-dasharray="10.1 2.3" stroke-dashoffset="4.5"/>
<g class="lg"><text x="1499" y="1048.6">CT prevalence</text><text x="1496.5" y="1077.1">Mean prevalence</text><text x="1496.5" y="1103.6">Intervention start</text></g>
<text class="num" text-anchor="middle" x="1328" y="1069.2">8</text>
<text class="xl" text-anchor="middle" x="1474.7" y="1384.6">Time (years)</text>
<text class="yl" text-anchor="middle" transform="translate(1274.1 1172.4) rotate(-90)">Prevalence(%)</text>
</g>
<g>
<path d="M1325.5 1421.6V1728.2M1352 1421.6V1728.2M1378.6 1421.6V1728.2M1405.2 1421.6V1728.2M1431.7 1421.6V1728.2M1458.3 1421.6V1728.2M1484.9 1421.6V1728.2M1511.4 1421.6V1728.2M1538 1421.6V1728.2M1564.6 1421.6V1728.2M1591.1 1421.6V1728.2M1617.7 1421.6V1728.2M1644.3 1421.6V1728.2M1670.8 1421.6V1728.2M1299.3 1690.6H1697M1299.3 1652H1697M1299.3 1613.5H1697M1299.3 1574.9H1697M1299.3 1536.3H1697M1299.3 1497.8H1697M1299.3 1459.2H1697" stroke="#e6e6e6" stroke-width="1.1" fill="none"/>
<g transform="translate(1298.9 1729.1) scale(1.81136 -0.38550)" fill="none" stroke="#00f" stroke-width="1.3" stroke-linejoin="round"><path d="M0 379L1 378L2 378L3 377L4 377L5 376L6 374L7 374L8 373L9 373L10 372L11 371L12 371L13 372L14 372L15 373L16 373L17 373L18 373L19 373L20 372L21 372L22 371L23 371L24 371L25 372L26 373L27 373L28 373L29 375L30 375L31 376L32 377L33 377L34 378L35 378L36 378L37 378L38 377L39 377L40 377L41 377L42 376L43 374L44 373L45 373L46 373L47 373L48 373L49 372L50 373L51 373L52 374L53 375L54 375L55 375L56 376L57 376L58 376L59 375L60 373L61 372L62 371L63 372L64 371L65 370L66 369L67 368L68 369L69 370L70 370L71 369L72 368L73 368L74 370L75 363L76 349L77 333L78 317L79 300L80 284L81 266L82 248L83 229L84 217L85 211L86 209L87 206L88 203L89 201L90 198L91 196L92 194L93 192L94 189L95 187L96 185L97 183L98 181L99 179L100 178L101 177L102 176L103 176L104 175L105 175L106 175L107 174L108 174L109 173L110 172L111 172L112 171L113 171L114 170L115 170L116 169L117 169L118 169L119 169L120 168L121 169L122 169L123 169L124 169L125 169L126 169L127 170L128 170L129 169L130 169L131 169L132 169L133 168L134 168L135 168L136 168L137 168L138 169L139 169L140 169L141 170L142 170L143 170L144 170L145 171L146 171L147 171L148 170L149 170L150 170L151 170L152 170L153 170L154 170L155 170L156 170L157 170L158 171L159 171L160 171L161 171L162 171L163 171L164 172L165 171L166 172L167 172L168 172L169 172L170 172L171 172L172 172L173 172L174 172L175 172L176 172L177 172L178 172L179 172L180 172L181 172L182 172L183 172L184 172L185 172L186 172L187 172L188 171L189 171L190 170L191 169L192 169L193 169L194 169L195 169L196 168L197 168L198 168L199 169L200 169L201 169L202 169L203 169L204 169L205 169L206 169L207 169L208 169L209 169L210 169L211 169L212 168L213 168L214 168L215 169L216 169L217 169L218 170L219 170L220 170L220 128L219 128L218 128L217 128L216 128L215 128L214 128L213 129L212 129L211 128L210 129L209 129L208 129L207 129L206 130L205 130L204 130L203 131L202 131L201 131L200 131L199 132L198 132L197 132L196 132L195 132L194 132L193 132L192 132L191 132L190 132L189 132L188 132L187 132L186 132L185 132L184 132L183 131L182 131L181 131L180 132L179 132L178 132L177 131L176 131L175 130L174 130L173 129L172 129L171 128L170 129L169 128L168 128L167 128L166 128L165 128L164 129L163 129L162 129L161 129L160 129L159 129L158 130L157 130L156 130L155 130L154 130L153 130L152 130L151 130L150 130L149 131L148 131L147 131L146 131L145 131L144 132L143 132L142 132L141 132L140 133L139 133L138 133L137 133L136 133L135 133L134 133L133 133L132 133L131 132L130 132L129 132L128 132L127 132L126 132L125 131L124 131L123 131L122 131L121 131L120 131L119 130L118 130L117 130L116 130L115 130L114 130L113 130L112 130L111 131L110 131L109 132L108 132L107 133L106 133L105 134L104 135L103 136L102 136L101 136L100 137L99 138L98 139L97 139L96 140L95 140L94 141L93 143L92 145L91 147L90 149L89 150L88 152L87 154L86 156L85 159L84 163L83 172L82 186L81 200L80 214L79 228L78 241L77 254L76 266L75 277L74 283L73 282L72 282L71 282L70 282L69 281L68 282L67 284L66 285L65 284L64 286L63 286L62 287L61 287L60 287L59 286L58 286L57 284L56 284L55 283L54 282L53 282L52 282L51 283L50 283L49 283L48 284L47 284L46 285L45 286L44 286L43 286L42 287L41 288L40 289L39 290L38 290L37 290L36 291L35 291L34 292L33 293L32 293L31 293L30 294L29 294L28 294L27 295L26 295L25 295L24 294L23 294L22 294L21 293L20 291L19 291L18 289L17 288L16 288L15 288L14 288L13 288L12 288L11 289L10 290L9 292L8 291L7 291L6 289L5 288L4 286L3 285L2 284L1 283L0 282Z" fill="#00f" stroke="#00f" vector-effect="non-scaling-stroke"/><path d="M22 299l1-9 1-3 1 7 1 1M80 218l1-21 1-20 1-7 1-5M85 161l1-11 1 4M110 172l1 5 1 1 1 3 1-2 1 0 1-3 1 5 1-5 1-4 1 5 1-6 1 4 1-9M123 166l1 12 1 1 1-2 1-3 1-3 1-6M155 131l1-9 1 1 1 2 1-2 1 8M14 288l1-26 1 9 1 14 1 17M43 289l1-20 1 1 1-11 1 4 1-10 1 8 1-6 1-3 1-10 1 6 1-8 1 10 1 19 1-1 1-14 1 11 1 6 1 19M79 249l1-54 1-30 1-11 1-1 1-2 1-6 1 7 1-6 1 0 1 3 1 2M173 129l1-2 1-3 1 1 1-6 1-2 1-1 1 6 1-1 1 0 1 2 1-4 1 1 1 10 1 5M11 363l1 10 1 4 1-19M26 353l1 26 1 9 1-8 1 4 1-16M36 374l1 7 1 12 1-13 1 8 1-14M79 258l1-59 1-17 1-9 1 4M87 156l1-11 1 4 1-3 1 3M95 144l1-10 1-6 1-4 1-3 1-7 1-2 1-5 1 2 1-5 1 8 1 5 1 0 1-2 1-4 1 4 1-1 1 6 1 2 1 4 1 0 1 5M133 134l1-11 1 6 1 5M7 291l1-11 1 11 1 11M13 290l1-13 1 4 1 10M16 291l1-6 1-6 1 14M68 292l1-17 1 12M78 276l1-63 1-41 1-16 1 15 1-4 1-5 1-5 1 5M172 131l1-8 1-1 1 2 1 2 1-9 1-1 1-2 1 3 1 10 1-2 1-4 1 8 1-2 1-4 1-9 1 4 1-5 1 6 1 0 1 4 1 2 1 3 1 1 1 1 1-6 1 8M198 132l1-8 1 8M211 132l1-9 1 1 1 6M66 363l1 10 1-4M75 353l1 5 1 10 1 12 1-67 1-66M79 249l1-49 1-19 1-7 1-8 1-1M138 165l1 7 1 3 1-2 1-1 1 10 1 3 1-3 1 4 1-3 1-8 1-1 1 0 1-9M152 165l1 11 1-6M191 169l1 5 1 2 1 3 1-5 1-2 1 3 1 5 1-4 1-4 1-1 1-4M202 167l1 12 1-3 1 7 1 3 1-3 1-4 1-4 1-6M76 329l1 13 1-13 1-51M80 215l1-29 1 5M94 187l1 5 1-2 1-8M97 182l1 2 1 3 1-10M146 171l1 6 1-5 1-3M39 292l1-11 1 21M75 363l1-7 1 23 1 3 1-72 1-60M83 228l1-3 1 2 1-19M116 163l1 10 1-3 1 4 1-3 1-4M161 132l1-7 1 1 1-3 1 3 1 5M168 129l1-3 1-2 1 5M188 132l1-7 1 14M6 292l1-7 1-8 1-8 1 9 1 5 1-5 1-8 1 2 1 13 1-5 1 14M79 244l1-44 1-15 1-4 1 4M129 167l1 4 1 3 1-9M157 131l1-3 1-9 1 8 1 4M185 139l1-13 1 6M211 129l1-5 1 1 1 5M48 290l1-16 1-7 1 12 1-15 1 6 1-4 1-4 1 16 1 9M57 287l1-10 1 10M59 287l1-11 1 10 1 14M74 355l1 10 1 28 1-11 1 3 1-85M128 170l1 6 1-2 1-1 1-5M160 132l1-9 1 5 1 12M174 133l1-8 1 6M202 168l1 7 1 0 1-13M217 128l1-8 1 4 1-4M37 371l1 17 1 6 1 11 1-5 1 10 1 0 1-18 1-7 1-18M58 360l1 17 1 9 1-3 1-23M112 171l1 6 1-2 1-9M165 169l1 8 1 3 1 8 1 2 1-6 1-4 1-4 1-4M186 169l1 4 1 8 1-7 1-3 1-5M32 308l1-22 1 9M75 339l1 23 1-1 1 10 1-57 1-63M102 144l1-11 1 0 1-6 1 0 1 5 1 2M116 131l1-4 1 0 1-1 1-1 1 3 1-1 1 8M193 169l1 1 1 4 1-4 1 5 1 4 1 7 1-3 1-6 1-8M27 368l1 11 1 4 1-16M31 369l1 11 1 1 1 12 1-24M76 343l1 2 1 0 1-62M80 219l1-28 1-2M124 169l1 3 1 6 1-6 1-2M148 169l1 5 1 3 1 3 1-9 1-4M204 160l1 18 1-5 1 1 1-2 1 3 1 3 1 3 1-7 1 7 1 10 1-5 1-8 1 5 1-6 1 1 1-3M0 386l1-6 1 13 1-8 1-21M18 373l1 11 1 5 1-22M22 362l1 22 1 0 1-23M52 294l1-23 1-11 1-4 1-7 1-9 1 9 1 5 1 11 1 12 1 5 1 3 1-4 1 0 1 6M66 287l1-11 1-18 1-17 1 2 1 3 1 3 1 12 1 13 1-3 1 13M79 241l1-43 1-11 1-4 1 3M115 168l1 8 1-7M0 392l1-4 1-15M2 373l1 7 1 11 1-7 1-20M22 314l1-24 1-17 1 12 1-1 1 10 1-8 1-1 1 13M76 341l1 0 1-5 1-51M83 227l1-2 1-8 1-5 1-2 1-12M123 166l1 4 1 1 1 3 1 3 1-5 1-5M0 284l1-6 1 23M35 306l1-17 1-13 1-19 1-16 1 2 1 1 1-2 1 28 1-5 1 14 1-14 1-3 1 7 1-15 1-7 1 7 1 0 1 23 1-3 1-5 1-3 1-3 1 10 1 11 1 6M60 290l1-8 1-3 1 9M63 288l1-15 1 6 1 17M77 329l1 19 1-51M108 157l1 17 1 1 1 4 1-7 1-3M115 169l1 7 1 1 1-9M118 168l1 5 1 8 1-8 1-3 1-5M124 164l1 12 1-8M0 263l1-2 1 14 1 15M76 330l1 6 1 0 1-63M95 184l1 9 1 1 1-6 1-11M99 177l1 3 1 4 1-2 1 0 1 2 1-1 1-5 1 2 1-3 1-15M193 132l1-3 1-7 1 0 1-2 1 4 1 1 1 10M207 132l1-4 1-2 1-5 1 9M43 287l1-8 1 22M49 286l1-4 1-5 1 4 1-9 1 19M79 256l1-49 1-18 1-3M114 132l1-7 1-4 1 3 1 3 1-11 1 4 1 1 1 3 1 4 1 13M202 159l1 11 1 3 1 3 1-3 1-2 1 2 1-2 1-3M213 168l1 7 1-6M7 373l1 20 1 10 1-10 1-13 1 1 1 10 1 2 1 6 1-2 1 0 1-17 1-14M74 356l1 18 1-4 1-3 1 23 1-80 1-65M83 226l1-1 1 2 1-2 1-2 1-6 1-5 1-5 1 0 1-5 1-3 1-4 1 8 1 0 1 7 1-4 1-3 1-1 1-4 1 1 1-2 1 2 1-7 1-3 1-5 1 2 1 3 1-4 1-3 1 0 1-6 1-9M161 133l1-10 1-2 1 1 1 0 1 9M177 132l1-3 1-4 1 3 1 2 1-6 1 0 1 1 1 4 1 8M193 134l1-5 1-2 1 0 1-4 1-4 1 0 1 7 1 1 1-4 1-4 1 0 1-3 1-1 1-3 1 0 1 4 1-5 1 0 1 3 1 4 1 1 1 6 1 0 1-5 1 3 1 2 1 1M6 297l1-13 1-16 1-11 1-7 1 8 1 7 1 0 1 12 1 5 1 12M16 294l1-12 1 15M71 287l1-14 1-7 1 13 1-12 1 17M79 235l1-49 1-8 1-1 1-18 1 4M96 150l1-17 1 9M110 172l1 1 1 0 1 6 1-8 1 3 1 4 1 5 1-7 1-13M195 165l1 8 1-4 1 8 1-7 1-3M200 167l1 10 1 4 1-5 1-6 1 1 1-1 1-4M4 289l1-4 1-6 1-7 1 16 1 13M16 289l1-2 1-4 1-9 1 1 1 7 1 10 1 5M23 297l1-10 1 0 1-1 1 11M30 298l1-14 1 6 1 9M33 299l1-13 1-1 1 3 1 6M76 342l1-3 1-9 1-63M79 267l1-64 1-9 1 4M118 130l1-7 1 0 1-4 1-4 1-2 1-3 1 0 1 6 1 4 1 0 1 9 1 4M153 137l1-15 1 0 1-3 1 2 1 3 1 9M79 230l1-46 1-8 1 0 1-14 1 4M168 169l1 12 1-4 1-7M0 259l1 19 1-9 1 10 1 16M60 304l1-27 1 3 1 22M76 330l1 19 1-7 1-72M79 270l1-69 1-23 1-13 1 1 1-12 1 4 1-6 1-14 1-4 1-4 1-2 1 12 1 6M96 140l1-8 1 6 1 4M74 352l1 12 1-8 1-7 1-5 1-56M80 226l1-32 1-3M96 140l1-9 1 0 1-1 1 1 1-1 1-9 1-2 1 10 1-1 1 5M127 133l1-3 1-4 1 9M192 140l1-15 1 4 1 6M202 137l1-9 1-1 1 2 1 0 1-2 1-5 1 5 1 3M211 136l1-13 1 2 1-1 1-7 1 5 1-1 1 3 1 11M29 295l1-3 1-10 1 6 1 9M63 356l1 17 1 17 1-6 1-7 1-7 1 24 1 9 1-9 1-12 1 7 1 5 1 1 1-18 1-8 1 28 1-73 1-54M84 212l1 11 1-5 1-3 1-14M101 137l1-6 1-1 1-8 1 1 1 5 1 9M131 141l1-14 1-1 1 5 1 10M196 133l1-6 1 5M202 132l1-5 1-4 1 5 1 7M206 135l1-13 1 4 1 0 1-2 1-5 1 0 1-1 1 1 1 0 1 0 1 13M6 372l1 10 1 7 1-13 1-6M71 360l1 22 1-11 1-23M75 358l1-5 1-13 1-20 1-60M79 260l1-48 1-18 1 18M86 208l1-1 1-2 1 3 1-4 1-5 1-3 1-2 1-4 1 4 1-2 1-4 1-6 1-1 1 1 1-6M101 176l1 7 1-2 1 3 1-4 1 2 1 6 1-8 1-3 1-4 1 4 1-1 1 2 1-11M170 135l1-15 1 6 1 1 1-5 1-5 1 8 1 8M33 298l1-14 1-2 1 14M36 296l1-8 1-5 1 11M40 291l1-16 1-4 1-13 1 7 1 9 1 12M64 289l1-10 1-12 1-5 1 12 1-17 1 20 1 8M79 257l1-60 1-9 1-1M120 131l1-4 1-9 1 2 1 4 1 5 1-9 1-6 1 3 1 4 1-5 1-5 1 6 1 3 1-3 1 2 1 0 1 6 1 1 1-4 1 4 1 5 1 2M181 170l1 11 1-3 1-3 1-11M33 354l1 25 1 4 1-1 1 0 1-24M79 238l1-40 1-14 1 2M112 131l1-8 1-4 1 1 1 3 1 7M148 131l1-3 1-4 1-1 1 4 1-2 1 3 1-1 1 6M189 135l1-9 1 6M29 370l1 13 1-13M77 325l1 2 1-53M80 220l1-26 1 2M22 303l1-15 1-12 1-6 1-8 1 0 1-12 1-1 1 10 1-13 1 3 1-3 1-2 1 7 1 3 1-14 1 4 1 14 1-5 1 10 1 13 1 8 1 10M74 361l1 5 1-14 1-3 1 5 1-59M91 191l1 5 1-1 1 0 1-9M125 134l1-9 1 0 1-1 1 0 1-2 1 9 1 8M144 168l1 7 1 4 1 2 1-3 1 1 1-14M189 136l1-9 1 3 1 1 1 9M32 296l1-13 1-4 1 12M35 291l1-9 1 13M37 295l1-8 1 1 1-8 1 3 1 0 1 13M46 300l1-20 1-2 1 1 1 4M79 239l1-43 1-19 1-1 1-5 1 2M14 360l1 15 1 11 1-1 1-18M36 299l1-17 1 8M67 284l1-22 1 9 1 5 1-3 1-7 1 4 1 0 1 5 1 1M78 280l1-55 1-62 1-22 1 6 1 7 1 3 1-3 1-7 1-8 1 8 1-1 1 1 1-8 1-7 1-3 1-2 1-4 1 6 1 1 1-4 1 5 1 3 1 9M110 138l1-9 1-6 1 4 1 3M186 134l1-9 1 0 1 0 1 0 1 0 1 0 1 9M0 368l1 25 1-4 1-8 1-5M4 376l1 1 1 3 1 1 1 0 1-1 1-3 1 18 1-11 1-8 1-2 1 16 1 0 1-27M32 376l1 10 1 12 1-8 1-8 1-7M79 247l1-41 1-17 1 4M122 166l1 4 1 5 1-3 1 1 1 2 1-9M128 166l1 14 1 4 1-2 1 2 1-2 1 1 1-9 1 3 1-4 1 4 1-3 1 1 1 1 1 0 1-1 1-7M181 167l1 6 1 4 1-5M0 399l1 2 1 5 1 12 1-5 1-17 1-6 1-7 1-11M79 252l1-51 1-22 1-6 1-20 1 5 1 0 1 1M195 167l1 11 1-10M217 128l1-5 1-1 1 0M0 244l1 18 1-8 1 10 1 4 1 1 1-6 1 0 1-3 1 9 1 4 1 13 1-8 1 19M55 289l1-10 1 4 1-9 1 3 1 7 1-5 1 1 1-6 1-22 1 4 1-1 1 2 1 15 1 10M71 291l1-16 1-2 1-6 1 9 1 24M79 238l1-52 1-21 1-5 1-5 1-4 1-2 1 8M93 143l1-6 1-7 1-3 1-3 1-1 1-5 1 11 1 1 1 8M148 134l1-8 1 5M161 129l1-8 1-7 1 8 1 0 1 3 1 2 1-1 1 7M23 298l1-6 1-5 1 14M31 298l1-11 1 9M63 289l1-16 1-11 1 10 1 9 1-1 1-9 1 16M135 143l1-15 1 4 1-1 1 2M34 366l1 21 1-13M76 337l1-2 1 5 1-48M0 266l1-4 1-12 1 0 1 17 1-7 1 8 1-10 1 0 1-11 1 4 1-4 1 12 1 14 1 2 1 2 1 6 1 4 1 17M71 290l1-16 1 22M151 130l1-7 1 0 1 7M35 371l1 14 1-3 1 14 1-11 1-9M44 373l1 22 1-14 1-2 1 1 1 4 1 5 1-25M53 371l1 13 1 8 1 7 1 0 1-17 1-18M71 361l1 8 1 9 1-5 1 4 1 2 1 1 1-2 1-65 1-64M117 169l1 6 1-2 1 1 1 2 1 1 1-1 1-2 1 1 1-3 1 4 1 6 1-3 1 9 1-7 1 2 1-4 1-1 1 8 1-2 1 1 1-5 1-3 1-4 1-1 1 6 1 5 1 7 1-5 1-3 1-1 1 1 1-4 1 0 1-2 1-3 1-4M164 169l1 7 1-3 1-2M174 172l1 4 1 1 1 0 1-4 1 3 1 0 1 4 1-1 1-6 1-4M184 169l1 4 1 8 1-4 1-1 1 2 1-7 1 4 1-5 1 4 1-7M211 162l1 11 1 1 1-4 1-3M47 363l1 13 1 3 1-1 1-13M77 306l1 20 1-64M80 221l1-33 1-2M102 141l1-7 1-3 1-9 1 0 1 8 1 3M112 135l1-10 1 8M133 141l1-11 1-5 1 7 1 6M171 169l1 9 1 1 1 1 1 3 1-5 1 2 1 4 1-3 1-7 1-6M187 168l1 9 1-2 1 3 1-6 1 7 1 13 1-1 1 3 1-5 1-6 1 0 1-7 1-3 1-1 1-2 1 7 1-6 1-1 1-2M75 357l1-2 1 12 1-10 1-73M119 136l1-15 1 2 1 4 1 5M127 135l1-5 1-1 1-2 1-4 1 2 1 0 1 7 1-1 1 0 1 6M137 137l1-11 1-1 1-5 1 2 1-2 1 1 1 0 1 1 1 10M185 136l1-6 1-4 1-3 1 9M75 335l1 22 1-29M77 328l1-5 1-44M79 279l1-73 1-34 1 1 1-7 1-2M137 135l1-4 1-7 1 4 1 3 1 5M11 370l1 15 1-4 1-9M14 372l1 10 1-1 1 4 1 3 1 11 1 10 1-2 1-7 1-23 1-9M28 361l1 20 1 5 1-6 1 5 1 18 1-18 1-6 1-3M36 376l1 18 1 0 1 1 1-9 1-6 1 1 1-8M58 363l1 25 1-9 1 10 1 11 1-6 1-9 1-2 1-12 1 0 1-16M70 370l1 17 1-28M77 329l1 8 1-60M89 200l1 4 1-11M91 193l1 4 1 0 1 1 1 3 1-12 1-5 1-11M101 166l1 12 1 5 1-6 1 8 1-8 1-7M108 172l1 7 1-8M22 312l1-26 1 2 1 12M56 300l1-26 1-6 1-1 1-5 1 3 1 14 1-13 1-2 1 1 1 13 1-7 1-6 1-7 1-8 1 10 1 0 1-2 1-2 1-6 1 17M79 231l1-51 1-15 1-3 1-5 1-5 1 7M86 162l1-9 1-8 1-6 1-2 1-3 1-5 1 7 1-14 1 1 1 0 1-8 1 7 1 4 1 17M196 133l1-3 1-3 1 2 1-3 1-2 1 4 1 7M5 354l1 29 1-35M58 369l1 7 1 8 1-11 1 1 1-29M77 333l1-1 1-46M159 132l1-8 1 6M161 130l1-5 1 0 1-8 1 7 1-6 1 1 1 10M168 129l1-7 1-9 1-1 1 4 1-4 1-6 1 6 1-2 1 2 1 3 1 3 1 2 1 0 1 5 1-4 1 3 1-6 1 0 1 4 1 3 1 5 1 6M0 401l1-19 1-10M29 317l1-30 1-5 1 16M70 282l1-12 1 2 1 2 1 4 1-19 1 15M79 236l1-44 1-16 1 3 1-8 1 8M101 140l1-8 1-3 1 4 1-1 1 11M119 132l1-10 1-4 1 1 1-1 1-1 1-1 1 6 1 5 1-1 1 0 1 3 1-5 1 8 1 4M50 283l1-2 1-23 1 8 1 15 1-2 1-6 1 13M57 286l1-5 1-10 1 14 1-11 1 8 1-3 1-8 1-2 1-10 1 16 1 11M79 241l1-60 1-4 1-12 1 7M115 165l1 10 1 2 1-12M147 165l1 8 1 2 1-4 1-3M180 172l1 7 1-3 1 2 1-6M21 356l1 21 1-10M27 362l1 20 1-9M49 297l1-16 1 0 1-14 1 10 1-11 1-4 1-6 1-15 1 1 1 11 1 7 1-6 1 4 1 1 1-7 1 12 1-6 1 4 1 5 1-6 1 15 1-1 1 7M79 251l1-44 1-18 1-12 1-13 1 12M110 133l1-7 1 2 1 8M141 166l1 11 1-7M183 165l1 12 1-14M211 166l1 3 1 4 1-6M25 301l1-7 1-4 1-4 1 7 1 28M31 303l1-15 1 11M55 374l1 13 1 1 1 3 1-2 1 7 1-12 1-10 1-11M80 214l1-25 1 0M69 360l1 15 1-4 1-1 1-33M76 346l1 12 1-4 1-57M122 138l1-14 1 0 1 4 1 7M155 166l1 6 1 4 1 1 1-3 1 0 1 1 1 6 1-1 1 0 1-5 1 1 1-6M173 171l1 2 1 0 1 2 1 2 1-1 1 7 1 3 1 2 1-4 1-1 1 3 1 1 1 0 1-10 1 3 1 2 1-5 1-5 1-11M200 136l1-11 1 10M43 361l1 21 1-3 1 3 1-4 1-3 1 5 1-9M76 330l1 11 1-23 1-74M79 244l1-54 1-22 1-6 1-5 1-4 1 0 1-2 1-4 1 4 1 1M150 131l1-6 1-4 1-4 1 5 1 2 1 4 1 1 1-4 1-2 1 7M189 133l1-5 1-5 1 8 1-1 1 2M25 303l1-13 1-8 1 14M77 333l1 13 1-56M139 136l1-9 1 1 1-5 1 1 1-2 1 6 1 4M181 172l1 3 1-1 1 8 1 1 1-2 1 2 1-9 1 10 1-5 1 1 1-1 1 1 1 2 1 1 1 0 1-2 1-4 1-1 1 0 1-1 1-6M202 169l1 5 1 3 1-10M206 163l1 8 1 3 1 6 1-1 1-7 1 5 1 7 1-6 1-6 1-3M216 169l1 4 1-2 1 11 1-1M32 369l1 16 1-3 1 5 1 5 1 1 1 7 1-4 1-4 1-32M57 298l1-27 1 2 1 0 1-5 1-10 1-2 1-9 1 12 1 2 1-4 1 14 1 14M69 285l1-20 1-3 1-16 1-6 1 6 1-2 1 3 1 10M78 261l1-53 1-40 1-15 1 5 1-6 1 0 1-4 1-18 1 6 1-4 1 9 1 0 1-1 1 3 1-5 1 5M94 143l1-5 1-3 1-6 1-7 1-5 1-4 1-2 1-4 1-2 1 10 1 0 1 4 1-4 1 1 1 1 1 8 1 3 1-4 1 2 1-2 1 10M119 134l1-7 1-1 1 6M133 168l1 9 1 0 1-8 1-9M158 130l1-5 1-4 1 1 1-1 1 0 1 5 1-2 1 4M170 130l1-8 1 8M203 167l1 11 1 8 1-4 1-7 1 1 1 4 1-3 1-2 1-6 1-2M0 388l1-9 1-4M3 376l1 5 1 4 1 12 1-11 1-13M8 373l1 13 1-2 1-5 1-16M25 354l1 25 1-12M27 367l1 21 1-15M36 376l1 8 1-10M75 354l1 6 1 7 1 0 1-54 1-65M84 215l1 6 1-2 1 2 1-8 1 0 1 0 1-7 1 0 1 0 1 1 1 0 1-6 1-7 1-6 1 1 1-2 1-6 1 0 1-5M143 132l1-1 1-4 1-4 1-4 1 4 1 5 1 0 1 0 1-6 1 1 1 6 1 2M159 135l1-11 1 5M161 129l1-8 1 3 1 2 1-6 1-3 1 5 1 1 1 0 1 3 1 2M177 135l1-6 1-1 1-3 1 2 1 1 1-6 1-2 1-2 1-10 1 4 1-3 1 0 1 2 1 1 1 3 1-2 1 2 1 5 1-7 1 6 1 2 1-7 1 0 1 2 1-6 1 12 1 0 1-3 1-6 1 7 1-8 1 1 1 5 1 7 1 4M217 130l1-5 1-3 1 5M22 371l1 6 1-12M45 302l1-25 1 6 1-10 1-6 1 7 1 1 1 0 1 7M76 340l1 7 1 1 1-69M127 166l1 5 1 3 1-5M166 166l1 9 1 0 1 2 1 1 1 3 1-6 1-1 1-9M194 168l1 6 1 4 1-10M218 170l1 5 1 2M40 365l1 18 1-6 1 6 1 13 1 0 1-9 1 1 1-22M79 237l1-52 1-21 1 6 1 8M133 163l1 9 1 2 1 5 1-5 1 8 1-2 1 2 1-1 1-2 1 4 1-1 1 5 1 4 1-4 1-3 1 6 1 4 1-2 1-2 1 2 1-8 1 3 1-6 1-2 1 7 1-4 1-2 1-6 1-8M211 168l1 5 1 0 1-1 1-1 1 1 1 4 1 5 1-7 1 1M0 283l1-18 1-5 1-4 1 18 1 17M20 302l1-19 1-3 1 1 1 15M33 298l1-11 1-2 1-1 1 7M39 293l1-11 1 6M44 287l1-20 1 1 1-6 1 10 1 5 1 1 1 19M57 295l1-14 1 6M59 287l1-22 1 14 1 8M62 287l1-10 1 10M77 330l1-1 1-64M79 265l1-58 1-23 1-2 1-1M14 298l1-23 1 0 1-8 1 24M18 291l1-6 1 10M26 311l1-25 1 14M30 296l1-11 1 0 1 17M77 303l1 24 1-50M102 176l1 10 1 7 1-3 1 0 1-6 1 1 1-7 1 2 1-5 1-5M168 168l1 8 1-2 1 2 1 1 1-8M182 132l1-4 1-3 1-2 1 8 1 8M2 285l1-8 1 3 1-20 1 2 1 1 1 0 1-1 1 1 1 2 1 0 1 1 1 7 1 9 1-19 1 1 1 2 1 19 1-12 1-12 1 4 1-2 1 1 1 2 1 6 1 12 1 31M32 307l1-24 1 22M40 301l1-20 1 20M44 303l1-18 1-15 1 37M77 328l1 10 1-58M90 197l1 0 1 3 1-13M124 160l1 10 1 4 1-1 1 6 1 6 1-8 1 4 1 1 1-8 1-6M156 170l1 7 1 0 1-3 1-1 1 4 1 3 1-13M173 168l1 5 1 9 1 1 1 0 1-7 1 0 1-5M180 171l1 7 1 0 1 6 1-4 1 4 1 3 1 0 1-6 1-11M9 369l1 8 1-2 1-10M23 367l1 5 1 8 1 6 1 0 1-4 1-4 1 0 1-1 1 8 1 6 1 2 1-2 1-3 1-10M37 378l1 7 1-11M43 373l1 1 1 7 1-18M76 343l1-4 1-10 1-53M107 135l1-8 1 3 1-2 1 0 1 0 1-3 1-9 1 2 1 3 1-2 1 8 1 3M182 137l1-11 1 4 1 1 1-2 1 3M190 132l1-5 1 3 1 5M197 132l1-9 1 5 1 4M213 164l1 10 1 3 1 4 1-3 1 5 1-4 1-8M11 302l1-16 1-2 1-8 1-5 1-2 1-4 1 5 1 8 1-4 1 2 1-14 1 8 1 1 1 9 1-6 1-7 1-1 1-4 1-15 1 4 1-19 1-1 1-9 1 15 1 5 1 7 1-9 1 6 1 7 1-1 1-16 1 6 1 9 1 12 1 10 1 2 1 13M49 288l1-12 1 1 1-1 1 4 1-2 1 5M77 315l1 17 1-53M124 136l1-7 1-3 1 12M134 135l1-8 1-7 1-2 1 8 1 2 1 8M140 136l1-5 1-8 1 7 1-4 1 1 1 3 1-6 1-7 1-6 1-4 1 5 1 5 1 4 1 3 1 11M166 132l1-8 1 2 1-5 1 8M32 305l1-15 1-6 1 26M43 291l1-8 1 2 1-2 1-5 1 12M70 282l1-6 1-3 1-3 1 3 1 10M79 230l1-55 1-7 1-12 1-6 1 1 1 7 1-4 1-7 1-1 1-2 1 0 1-2 1-1 1-3 1 8M94 146l1-8 1-4 1-9 1 2 1 3 1 2 1 1 1 5M121 133l1-6 1-6 1 6 1 3 1 3M0 426l1 8 1-11 1-2 1 3 1 4 1 2 1 1 1-9 1-10 1-12 1-4 1-10 1-3 1 5 1-13 1-16M18 364l1 25 1-10 1-12M28 363l1 19 1-2 1-3 1 1 1-7M70 369l1 5 1-13M72 361l1 14 1-6M74 369l1-2 1-1 1-3 1 3 1-69M89 191l1 9 1 3 1-3 1 1 1 3 1-5 1-4 1-5 1-11M110 133l1-7 1 0 1 4M132 168l1 8 1 1 1 2 1-1 1-7 1-4M138 167l1 3 1 5 1-3 1 0 1 3 1 4 1-2 1 0 1-7M154 168l1 3 1 5 1-8M49 355l1 25 1 11 1 9 1-7 1 7 1 7 1-1 1 4 1-7 1 0 1-6 1 6 1-1 1 7 1-2 1-8 1 2 1-5 1 11 1-31 1-8M75 354l1 2 1 9 1-3 1-64M38 300l1-14 1-2 1 7M50 357l1 22 1 2 1 9 1-6 1-18M75 335l1 34 1-3 1-1 1-61 1-70M96 140l1-7 1 1 1 6M142 133l1-7 1-5 1 8 1-6 1-4 1 5 1 2 1-2 1 6M166 136l1-16 1 5 1-1 1 1 1 4M4 374l1 5 1 10 1-22M26 331l1 43 1 2 1 4 1 1 1-25M75 351l1 0 1-11 1-26M79 244l1-51 1-13 1-5 1 6M130 138l1-10 1 0 1 0 1-2 1 3 1 1 1 6M214 165l1 6 1 7 1 1 1-2 1-1 1 0M2 376l1 18 1-1 1-3 1-11 1-2 1-9M79 239l1-51 1-25 1 3 1 2 1-9 1 5M184 139l1-13 1-1 1 3 1 13M79 236l1-42 1-18 1 11M119 133l1-10 1 2 1 7M138 169l1 7 1-4 1-4M141 168l1 8 1-2 1 5 1-1 1 2 1 0 1-4 1-5 1-3M154 159l1 16 1 3 1-3 1-5M75 354l1 15 1 11 1 10 1-69 1-63M84 216l1 2 1-2 1 1 1-9 1-4 1-4 1 0 1-2 1-3 1-6M130 134l1-7 1-9 1 8 1 9M203 132l1-9 1-2 1-2 1-2 1 8 1-9 1 6 1-1 1-1 1-3 1 4 1 4 1 13M0 380l1 16 1-14 1-2 1-11M22 368l1 8 1-15M63 296l1-14 1-5 1-6 1-4 1 13 1 2M76 328l1 12 1 10 1-71M104 174l1 7 1 5 1-7 1-9M166 129l1-6 1 2 1 6M3 299l1-26 1-10 1-6 1-2 1-6 1 0 1 6 1 15 1-13 1-1 1 1 1 9 1 14 1 15M23 301l1-12 1 8M45 363l1 16 1-6M58 370l1 8 1 6 1-4 1-3 1-7M63 370l1 9 1-5 1 9 1 7 1-14 1-15M79 239l1-39 1-21 1-2 1 19M150 166l1 5 1 7 1 0 1 1 1-2 1-2 1-5M76 339l1 26 1 0 1-57 1-70M139 136l1-8 1 4M141 132l1-4 1-1 1 1 1-1 1 1 1 5M179 167l1 6 1 5 1 1 1 1 1-3 1-6M212 136l1-9 1-6 1 8M28 360l1 18 1 22 1-3 1-4 1-17M79 256l1-59 1-17 1 8M156 165l1 8 1 3 1 0 1-2 1-11M164 168l1 5 1 12 1-6 1 2 1 1 1 2 1 4 1 3 1-4 1-2 1 3 1-5 1-1 1-1 1 2 1-3 1-8M1 284l1-20 1-5 1 5 1 7 1 9 1 25M39 290l1-8 1 1 1-5 1 12M43 290l1-15 1 7 1 7M47 284l1-12 1 0 1 7 1 1 1-18 1 8 1 16M76 325l1 13 1 4 1-57M0 280l1-1 1-1 1 5 1 5M21 351l1 31 1-12M24 367l1 15 1-12M36 372l1 7 1 9 1 7 1 10 1 4 1-1 1 6 1-21 1-5 1-17M47 361l1 14 1-2 1 7 1 4 1 8 1-9 1 2 1 15 1-7 1-27M71 282l1-8 1 3 1 11M76 317l1 24 1 12 1-76M80 221l1-29 1-3M105 174l1 8 1-3 1-7M150 160l1 12 1 4 1 3 1-2 1-1 1-2 1-4M157 170l1 3 1 10 1-1 1 1 1 3 1-4 1-5 1 3 1 6 1-3 1 1 1-4 1 2 1 2 1-4 1-3 1 9 1 3 1 2 1-1 1-5 1-6 1 6 1 3 1-4 1-4 1-3 1 3 1-11M190 161l1 14 1 0 1-3 1-3M194 169l1 2 1 0 1-1 1 1 1 6 1 1 1-6 1-6M203 161l1 11 1 3 1 4 1-3 1-6 1 2 1 1 1-6M216 168l1 6 1-7M218 167l1 10 1-2M0 272l1 1 1 6 1-2 1 8 1 24M79 272l1-59 1-21 1 0M196 133l1-8 1 10M199 136l1-7 1-4 1-10 1 2 1-2 1 4 1 4 1-6 1 2 1 3 1 6 1 12M217 129l1-9 1 9M13 361l1 20 1 13 1 17 1-14 1-26M18 371l1 9 1-17M77 319l1 5 1-63M79 261l1-52 1-18 1 0M129 132l1-3 1 2 1-3 1 5M50 369l1 11 1 3 1-19M58 361l1 22 1-7 1-14M77 314l1 12 1-67M80 215l1-29 1 3M94 143l1-10 1-4 1 2 1 2 1 1 1 6M100 140l1-10 1 2 1 12M111 133l1-6 1-7 1 3 1 10M167 138l1-15 1 11M190 169l1 10 1-12M79 237l1-49 1-10 1 8M32 294l1-7 1 4 1-4 1-13 1 3 1 2 1 1 1-2 1-19 1-6 1 6 1-9 1-13 1 8 1 20 1 8 1 1 1-4 1 24M79 247l1-57 1-8 1-1 1 5M125 131l1-6 1-6 1 6 1 3 1 5M202 135l1-10 1 4 1-3 1-5 1-4 1-2 1 4 1 10M216 131l1-8 1 4 1 4M1 363l1 19 1-1 1 9 1-10 1 4 1 4 1-2 1 0 1-18M11 362l1 24 1-13 1-7M15 363l1 18 1 5 1 7 1 13 1 9 1-25 1 5 1 3 1 6 1 10 1-13 1-4 1 3 1 3 1-13 1 10 1 5 1-5 1-26M42 371l1 22 1-1 1-2 1-1 1-2 1-8 1 21 1-10 1-24M74 366l1 3 1 0 1-5 1 15 1-70 1-63M92 149l1-12 1 0 1-2 1 1 1-4 1-4 1-7 1-9 1 0 1-6 1 0 1-2 1 9 1 2 1-1 1-2 1 0 1-2 1 5 1 6 1 7 1 0 1-2 1 12M159 131l1-7 1 4 1 8M162 136l1-8 1-3 1-6 1-8 1 2 1 4 1-1 1-3 1 3 1-1 1 0 1-6 1-1 1 3 1 7 1 10 1 0 1 2 1 7M215 130l1-6 1-2 1-4 1 3 1-4M79 232l1-58 1-21 1 1 1-6 1-5 1 3 1-2 1 8 1 20M115 169l1 4 1 10 1 6 1-6 1-5 1 0 1-2 1-4 1-8M125 167l1 7 1 1 1-4 1-2M130 167l1 5 1 0 1 2 1-3 1 2 1-6M141 169l1 10 1 3 1 0 1 4 1-10 1-5M147 171l1 4 1-3 1 2 1-1 1-2 1 0 1-6M12 297l1-16 1-13 1 5 1 9 1-4 1 10 1 11M77 322l1 20 1-52M80 224l1-37 1 0M90 155l1-15 1-1 1 5M93 144l1-10 1 4 1 7M148 161l1 10 1 6 1 2 1 2 1-6 1-5M156 167l1 9 1-1 1-2 1 5 1 3 1 3 1-6 1-2 1-4 1 2 1-3M174 172l1 3 1 6 1-6 1 0 1-4M199 165l1 5 1 7 1-1 1-7M203 169l1 4 1-1 1-2 1 9 1-4 1-2 1-4M213 165l1 12 1-2 1-3 1-1 1-1M13 359l1 20 1 9 1-13 1 3 1-4 1-5M32 369l1 17 1-4 1 6 1 8 1 18 1 9 1 5 1-1 1-2 1-4 1-23 1-5 1 14 1-5 1-14 1-4 1-18M51 368l1 9 1-1 1 16 1-11 1 4 1 3 1-1 1-8 1-5 1 6 1-10M69 369l1 9 1-5 1 6 1 3 1-13M75 362l1 23 1-17 1-3 1-72M77 327l1-2 1-53M79 272l1-66 1-14 1-11 1-1M144 134l1-7 1-3 1 1 1-4 1 2 1 3 1-1 1-5 1-11 1 3 1-5 1 10 1 3 1 1 1-6 1 8 1 0 1 11M195 136l1-16 1-2 1 7 1-5 1 5 1 1 1-4 1 3 1-8 1 3 1 9 1 1M207 130l1-4 1-4 1 1 1-5 1-2 1 1 1 3 1-3 1 8 1-2 1 4 1-2 1-1M50 371l1 8 1 16 1-8 1 1 1 4 1 2 1-11 1 6 1 2 1-9 1 5 1-4 1 1 1-23M64 361l1 14 1 16 1-10 1-16M75 360l1 18 1-13 1-12 1-63M94 142l1-11 1 1 1 3 1 6M158 171l1 9 1 0 1 4 1-6 1 3 1 0 1 2 1-10 1-1M211 131l1-9 1 0 1 0 1 2 1 4M216 128l1-8 1-2 1 0 1 1M1 368l1 22 1-14M3 376l1 7 1 7 1-6 1-21M75 339l1 14 1 2 1 12 1-63 1-45M132 141l1-10 1-3 1 2 1 16M0 291l1-10 1-15 1 27M38 301l1-16 1-7 1 11M42 293l1-21 1 5 1 14M75 353l1 5 1 18 1-21 1-73M88 161l1-16 1 2 1-2 1 1M113 170l1 8 1 7 1-4 1 1 1-3 1-3 1 2 1-1 1-4 1-2 1-6M151 134l1-7 1-2 1-5 1-8 1 0 1-1 1-1 1 0 1 3 1 5 1 0 1 1 1 1 1 10M22 303l1-12 1-2 1 30M32 301l1-14 1 15M75 351l1 12 1 3 1-14 1-72M80 216l1-28 1-7 1 12M0 397l1 14 1-5 1-6 1 7 1-1 1 12 1-17 1 7 1-7 1 0 1-10 1-6 1 6 1 8 1-1 1 1 1 7 1-16 1-10 1-22M20 358l1 19 1 10 1 11 1 2 1 9 1-7 1 8 1 10 1-12 1-17 1-9 1-9M36 378l1 8 1 18 1-1 1-2 1-6 1-18 1-16M64 297l1-17 1 0 1 13M67 293l1-13 1-5 1-9 1-5 1 7 1 9 1-1 1 6M78 268l1-50 1-26 1-9 1 1 1-10M86 162l1-10 1-8 1-5 1 6 1-6 1-7 1-5 1 15M203 131l1-9 1 8M206 131l1-9 1 5 1 0 1 8M9 309l1-29 1 16M33 310l1-21 1-4 1-4 1-9 1 19M61 360l1 16 1 5 1 0 1-10 1 24 1-11 1-15M68 369l1 2 1 13 1 8 1-5 1-17 1-1M75 353l1 4 1-2 1-9 1-55M126 165l1 6 1 6 1-3 1-1 1 1 1-7M137 159l1 14 1 2 1-7M142 168l1 7 1-14M13 293l1-12 1-1 1-6 1 6 1-6 1 17M19 291l1-14 1 2 1 17M65 363l1 17 1-27M77 316l1 7 1-61M145 135l1-5 1-3 1-4 1-6 1-9 1 3 1 7 1 2 1 3 1-4 1 0 1 9 1 3M160 137l1-11 1-3 1 3 1 3M202 167l1 4 1-1 1 4 1-10M13 289l1-5 1-3 1 14M59 370l1 8 1-3 1-9M66 369l1 6 1-11M77 308l1 15 1-46M80 214l1-19 1 2M170 135l1-8 1-4 1 3 1 3 1 7M177 133l1-5 1 0 1-1 1 0 1-3 1 5 1 11M54 364l1 19 1-8M56 375l1 8 1-21M75 359l1 5 1 1 1 14 1-70 1-58M82 233l1 0 1 2 1-12 1-9 1 0 1-1 1 8 1 0 1-7 1-1 1 0 1-4 1-7 1-12 1-9M191 166l1 4 1 11 1-4 1-2 1-3 1-2 1-3M16 370l1 16 1-16M20 371l1 17 1 14 1-16 1 7 1-19 1-28M30 295l1-10 1-5 1-1 1 13M65 363l1 17 1-2 1-18M77 328l1-3 1-55M79 270l1-57 1-22 1 9M211 163l1 7 1 6 1 0 1-6 1 7 1-3 1 3 1-4 1-12M77 329l1 14 1-63M96 181l1 3 1 1 1 2 1-2 1 0 1-5 1-3 1-2M108 174l1 2 1 3 1 4 1-4 1-10M159 169l1 3 1 1 1 5 1 1 1-1 1 3 1-6 1 4 1-9M170 168l1 5 1 4 1-2 1 1 1 3 1-6 1-9M202 167l1 4 1-1 1 5 1-6M206 169l1 5 1-8M210 163l1 7 1 5 1-7M213 168l1 4 1 5 1-3 1 0 1-5M0 253l1 19 1-3 1 16M16 370l1 7 1 0 1 8 1 1 1 8 1 26 1-12 1 0 1-5 1 0 1-3 1-9 1-23M52 283l1-6 1 18M54 295l1-32 1 9 1 13M74 366l1-2 1 3 1-4 1 11 1-60 1-75M88 203l1 0 1 0 1-2 1-4 1-2 1 5 1-7 1-11M121 158l1 13 1 5 1-11M124 165l1 6 1 4 1-1 1-5M130 167l1 8 1 1 1 2 1 0 1-5 1 2 1-7M201 131l1-6 1 1 1 0 1-2 1-5 1 7 1-1 1-4 1-4 1 5 1 13M77 296l1 28 1-56M79 268l1-62 1-8 1 5M130 135l1-5 1-8 1 1 1 10M134 133l1-1 1-8 1 7 1 1 1 10M151 169l1 4 1 2 1-9M163 166l1 8 1 2 1 1 1-7M167 170l1 11 1-2 1-2 1-7M171 170l1 3 1 5 1-3 1 1 1 4 1-2 1-3 1-3M179 172l1 1 1 6 1 7 1 0 1-3 1-2 1-3 1 0 1-6 1 4 1 3 1 0 1-4 1 1 1-10M210 129l1-5 1-4 1 2 1 6M79 233l1-47 1-19 1 0 1 1 1-13 1-5 1-2 1-3 1 3 1-3 1 7M90 152l1-9 1-7 1-5 1 5 1 4M100 148l1-14 1-1 1-6 1 3 1-5 1-5 1-7 1 7 1 0 1-8 1 2 1 5 1-6 1-8 1 2 1-1 1 1 1 3 1 3 1-4 1 5 1 5 1 8 1-1 1 4 1 2M153 170l1 5 1-3 1-5M157 169l1 5 1 2 1-7M179 171l1 7 1-11M188 171l1 7 1-2 1-4 1-5M30 299l1-23 1 8 1 29M76 330l1 4 1 7 1-60M80 216l1-25 1-1M135 167l1 14 1 2 1-1 1 7 1-10 1 3 1-4 1-4 1-5M145 167l1 5 1 6 1 0 1-5 1-4M52 296l1-15 1-6 1-4 1 1 1-1 1 14 1 11M72 368l1 5 1-5M75 347l1 4 1 17 1-14 1-54M106 173l1 2 1 4 1 6 1 0 1 6 1-4 1-4 1-1 1-8 1-3 1 6 1-2 1-3 1-6M121 168l1 6 1-1 1 2 1-7M165 129l1-2 1 0 1-3 1-6 1 6 1 2 1 6M41 371l1 8 1 5 1-21M49 363l1 16 1-10M80 217l1-38 1-11 1 9M20 356l1 33 1-14 1-11M53 298l1-19 1-1 1-3 1 2 1 15M75 356l1-5 1-6 1-10 1-52M108 133l1-6 1-2 1 9M0 257l1 6 1 0 1 8 1 16M5 295l1-7 1-4 1-5 1 13M46 367l1 14 1-15M55 368l1 14 1-6M65 362l1 15 1 12 1-2 1 8 1-5 1-18 1 16 1 7 1-8 1-4 1-10 1 5 1-17 1-69M91 196l1 3 1-3 1 1 1-10M95 187l1 4 1-4 1-5 1 3 1-1 1 2 1-4 1-5 1 2 1-1 1-10M114 169l1 4 1 5 1-1 1 2 1 0 1-3 1-1 1 0 1-1 1 2 1-4 1 1 1 1 1-5M192 132l1-8 1-1 1 4 1-4 1-2 1 3 1 11M13 372l1 10 1-18M64 295l1-14 1-12 1 6 1 3 1 1 1 20M77 327l1 5 1-57M124 166l1 5 1 4 1-7M136 163l1 8 1-1 1 6 1 2 1 3 1 5 1-4 1 5 1-3 1 1 1-2 1-3 1 1 1 0 1 6 1 1 1-6 1 2 1-5 1-2 1 2 1 1 1-4 1 3 1 4 1-2 1 4 1-1 1 4 1-4 1-2 1 4 1-1 1 0 1-7 1-2 1 8 1-3 1 6 1-6 1-7 1-2M4 292l1-8 1 1 1-6 1 18M9 298l1-13 1-19 1 4 1-11 1 21 1-8 1 5 1 1 1-5 1 19M19 292l1-8 1-3 1 6 1 13M24 307l1-17 1-4 1 15M27 301l1-16 1 0 1-10 1 7 1 15M32 297l1-9 1 10M34 298l1-8 1-6 1-8 1-6 1 8 1 1 1-5 1 7 1 7M43 288l1-15 1-1 1 14M75 361l1 5 1 1 1-3 1-80M85 209l1 6 1-14M119 169l1 2 1 1 1 5 1-3 1-6M128 166l1 8 1-3 1-6M7 356l1 35 1 1 1-16 1-15M18 298l1-24 1-1 1 10 1-5 1 12 1-2 1-13 1 11 1-10 1-8 1-3 1 27 1 8M76 349l1-13 1 0 1-67M79 269l1-63 1-21 1-8 1 5M18 364l1 14 1-8M40 376l1 8 1-2 1-2 1 2 1 3 1-9 1-8M58 295l1-10 1-6 1-13 1 8 1-12 1-3 1-3 1 24 1 0 1 16M78 279l1-52 1-49 1-8 1 0 1 1 1 6M181 134l1-7 1-5 1-4 1-3 1-1 1 1 1 3 1 7 1 1 1 5 1 4M200 138l1-14 1-1 1 8M0 383l1 13 1-4 1-19M19 307l1-35 1 19 1 9M22 300l1-8 1-4 1 4 1-14 1 1 1 18M31 303l1-20 1 7 1 4M48 372l1 16 1-5 1-20M51 363l1 28 1-12 1 4 1-5 1-2M58 376l1 3 1-1 1-18M61 360l1 19 1 15 1-19 1 5 1-1 1 1 1-12M68 368l1 14 1-4 1-17M74 367l1 16 1-13 1-3 1-8 1-92M106 167l1 11 1-2 1 4 1 5 1 1 1-5 1-13M135 137l1-5 1-4 1 4 1-8 1-5 1 0 1 2 1-4 1 3 1 4 1 1 1 0 1-3 1 5 1-6 1 2 1-6 1 0 1-6 1 0 1 10 1-2 1 8 1-1 1 4M0 391l1-15M1 376l1 6 1 11 1 5 1 5 1 5 1-1 1-15 1 5 1 3 1 17 1 1 1-8 1 15 1-14 1-1 1-2 1-19 1-5 1 9 1 0 1 11 1-16 1 2 1 9 1-5 1 12 1-9 1 2 1 13 1-5 1-9 1-2 1-11 1-6 1-4M36 375l1 7 1 2 1 11 1-2 1 2 1 2 1-6 1-2 1 12 1 1 1-4 1 0 1 1 1-1 1 3 1-2 1 3 1-6 1-15 1-17M58 371l1 7 1 1 1 3 1 5 1-6 1-11M66 366l1 15 1-2 1 4 1 11 1-10 1 16 1 10 1-8 1-17 1-1 1-3 1-2 1-75 1-68M110 170l1 6 1-1 1 5 1-2 1-2 1 1 1-8M125 137l1-11 1 3 1-5 1 6 1 7M138 140l1-9 1-3 1 8M76 348l1 0 1 8 1-46 1-63M124 132l1-12 1 6 1 7M79 258l1-62 1-17 1 7M90 198l1 5 1-10M147 131l1-7 1-6 1 12M77 321l1 17 1-53M172 172l1 7 1-1 1-6M40 307l1-25 1-7 1-3 1 2 1-8 1 2 1-2 1 11 1-14 1 6 1-1 1-1 1 9 1-11 1-6 1 7 1 18M77 328l1 1 1-49M129 134l1-7 1 1 1 8M133 133l1-11 1 8 1-1 1 4M189 137l1-11 1-2 1 9M192 133l1-2 1-4 1 5M80 214l1-19 1 4M94 148l1-13 1 2 1 0 1 3M111 133l1-5 1-3 1-4 1-3 1 10 1 8M136 133l1-4 1-2 1 2 1 3 1 4M174 134l1-5 1-4 1 5 1 2M2 287l1-20 1-1 1 11 1-1 1-3 1-6 1 12 1 9 1-11 1 2 1-1 1 4 1 11M48 357l1 16 1 5 1 6 1 10 1-16 1 6 1 9 1 5 1 1 1-8 1 1 1-13 1-1 1-9M75 353l1-3 1-2 1 0 1-59M92 191l1 7 1-11M103 174l1 9 1-3 1 2 1 1 1 0 1-3 1-8M159 130l1-3 1-4 1-2 1-3 1 4 1 7M167 128l1-8 1 1 1 6 1-9 1-3 1 2 1 2 1 0 1 10 1-1 1-6 1 2 1-1 1-8 1 6 1-4 1 4 1 0 1-4 1 11 1 6M24 368l1 10 1 5 1 14 1-11 1-8 1 15 1-3 1-6 1-2 1-7M34 375l1 6 1-1 1 5 1 1 1-8 1-1M77 323l1 6 1-62M121 163l1 10 1 5 1-6 1 2 1-4 1 2 1 3 1 3 1-2 1-8M136 167l1 7 1 2 1-10M141 163l1 11 1-2 1 3 1-4M189 166l1 12 1-6 1-4M15 288l1-15 1 5 1-13 1 19 1-9 1 5 1 3 1 15M79 250l1-62 1-12 1-3 1-4 1 3M95 141l1-6 1 5M116 130l1-2 1-3 1 8M0 274l1 4 1 26M48 360l1 13 1 11 1-17M53 371l1 8 1-3 1 8 1-13M57 371l1 11 1 8 1-2 1-1 1-12 1 12 1-12 1-4 1-2M66 369l1 10 1 20 1 14 1-12 1-15 1-2 1 6 1 6 1-6 1-4 1-1 1 1 1-66 1-72M190 142l1-12 1-1 1-2 1-4 1 4 1 2 1 0 1 3M214 132l1-13 1 8 1-4 1 5M218 128l1-3 1-2M11 353l1 20 1 6 1 5 1-3 1 14 1 2 1 6 1-5 1 7 1 13 1-5 1 7 1 0 1 0 1-8 1-10 1 4 1 0 1 1 1-26 1-15M32 366l1 20 1-1 1 1 1-11M36 375l1 18 1 6 1 1 1-20 1 9 1 10 1-2 1-5 1-5 1-6 1 10 1-1 1 18 1 2 1-7 1-21 1 8 1 5 1-8 1-8 1 2 1-10M59 367l1 10 1 0 1-10M65 355l1 20 1 6 1-6 1-3 1-2M71 369l1 4 1-3 1-19M75 349l1 1 1-2 1-24 1-53M85 206l1 4 1 1 1-12M98 177l1 5 1 7 1-2 1 6 1-5 1-1 1-1 1-2 1-11M192 166l1 5 1 3 1-1 1-1 1-8" vector-effect="non-scaling-stroke"/><path d="M0 327.7L0.37 327.6L0.73 327.5L1.1 327.5L1.47 327.6L1.83 327.8L2.2 328.1L2.57 328.4L2.93 328.7L3.3 329.1L3.67 329.5L4.03 329.8L4.4 330L4.77 330.2L5.13 330.5L5.5 330.8L5.87 331.1L6.23 331.1L6.6 330.8L6.97 330.5L7.33 330.6L7.7 330.7L8.07 330.8L8.43 330.9L8.8 331.1L9.17 331.1L9.53 330.9L9.9 330.7L10.27 330.8L10.63 331.1L11 331.3L11.37 331.5L11.73 331.7L12.1 331.9L12.47 331.8L12.83 331.8L13.2 331.8L13.57 331.8L13.93 331.8L14.3 331.6L14.67 331.4L15.03 331.2L15.4 331.4L15.77 331.6L16.13 331.8L16.5 331.7L16.87 331.7L17.23 331.6L17.6 331.6L17.97 331.5L18.33 331.8L18.7 332.1L19.07 332.3L19.43 332.2L19.8 332L20.17 332L20.53 332.3L20.9 332.6L21.27 332.5L21.63 332.1L22 331.8L22.37 332L22.73 332.2L23.1 332.4L23.47 332.7L23.83 332.9L24.2 333.1L24.57 333.3L24.93 333.6L25.3 333.5L25.67 333.4L26.03 333.3L26.4 333.3L26.77 333.3L27.13 333.4L27.5 333.7L27.87 334L28.23 334.1L28.6 334.2L28.97 334.2L29.33 334.2L29.7 334.2L30.07 334.1L30.43 333.5L30.8 332.9L31.17 332.5L31.53 332.3L31.9 332.2L32.27 332.2L32.63 332.3L33 332.4L33.37 332.5L33.73 332.6L34.1 332.6L34.47 332.5L34.83 332.3L35.2 332.3L35.57 332.5L35.93 332.6L36.3 332.9L36.67 333.1L37.03 333.3L37.4 333.5L37.77 333.6L38.13 333.7L38.5 333.5L38.87 333.4L39.23 333.5L39.6 333.7L39.97 333.9L40.33 333.4L40.7 332.8L41.07 332.3L41.43 332.2L41.8 332L42.17 331.8L42.53 331.7L42.9 331.5L43.27 331.2L43.63 330.8L44 330.5L44.37 330.6L44.73 330.8L45.1 330.9L45.47 330.9L45.83 330.8L46.2 330.6L46.57 330.4L46.93 330.3L47.3 330.1L47.67 329.9L48.03 329.7L48.4 329.7L48.77 329.6L49.13 329.7L49.5 330L49.87 330.2L50.23 330.4L50.6 330.4L50.97 330.4L51.33 330.4L51.7 330.3L52.07 330.2L52.43 329.9L52.8 329.6L53.17 329.6L53.53 330.1L53.9 330.6L54.27 330.8L54.63 330.9L55 331.1L55.37 331.1L55.73 331.2L56.1 331.1L56.47 331L56.83 330.9L57.2 330.9L57.57 331.2L57.93 331.4L58.3 331.7L58.67 332.1L59.03 332.4L59.4 332.3L59.77 332.1L60.13 332.2L60.5 332.5L60.87 332.9L61.23 333.1L61.6 333.2L61.97 333.3L62.33 332.8L62.7 332.3L63.07 331.8L63.43 331.4L63.8 330.9L64.17 330.8L64.53 331L64.9 331.3L65.27 331.7L65.63 332L66 332.4L66.37 331.9L66.73 331.3L67.1 330.9L67.47 330.7L67.83 330.4L68.2 330.4L68.57 330.4L68.93 330.5L69.3 330.4L69.67 330.3L70.03 330.2L70.4 330L70.77 329.7L71.13 329.5L71.5 329.3L71.87 329.2L72.23 329.1L72.6 328.9L72.97 328.8L73.33 329L73.7 329.2L74.07 329.4L74.43 329.3L74.8 329.3L75.17 329.3L75.53 329.6L75.9 329.9L76.27 329.9L76.63 329.8L77 329.7L77.37 330L77.73 330.2L78.1 330.4L78.47 330.4L78.83 290.5L79.2 250.6L79.57 228.8L79.93 218.9L80.3 208.9L80.67 198.9L81.03 197.8L81.4 196.9L81.77 196L82.13 195L82.5 193.9L82.87 192.9L83.23 191.8L83.6 190.6L83.97 189.5L84.33 188.4L84.7 187.2L85.07 186.1L85.43 185.2L85.8 184.3L86.17 183.4L86.53 182.3L86.9 181.3L87.27 180.3L87.63 179.4L88 178.5L88.37 177.9L88.73 177.2L89.1 176.6L89.47 175.9L89.83 175.2L90.2 174.5L90.57 173.7L90.93 173L91.3 172.2L91.67 171.4L92.03 170.6L92.4 169.7L92.77 168.9L93.13 168.1L93.5 167.5L93.87 166.9L94.23 166.1L94.6 165L94.97 164L95.33 163.2L95.7 162.4L96.07 161.7L96.43 161.2L96.8 160.8L97.17 160.4L97.53 160.1L97.9 159.8L98.27 159.4L98.63 159L99 158.5L99.37 157.9L99.73 157.4L100.1 156.8L100.47 156.3L100.83 155.8L101.2 155.5L101.57 155.2L101.93 154.9L102.3 154.5L102.67 153.9L103.03 153.7L103.4 153.6L103.77 153.5L104.13 153.5L104.5 153.5L104.87 153.5L105.23 153.4L105.6 153.2L105.97 153L106.33 152.8L106.7 152.7L107.07 152.6L107.43 152.6L107.8 152.6L108.17 152.6L108.53 152.6L108.9 152.6L109.27 152.5L109.63 152.3L110 152.1L110.37 152L110.73 151.9L111.1 151.8L111.47 151.7L111.83 151.7L112.2 151.5L112.57 151.4L112.93 151.2L113.3 151.1L113.67 151L114.03 151L114.4 150.7L114.77 150.4L115.13 150.2L115.5 150.3L115.87 150.4L116.23 150.3L116.6 150.2L116.97 150L117.33 149.8L117.7 149.7L118.07 149.6L118.43 149.6L118.8 149.6L119.17 149.6L119.53 149.5L119.9 149.5L120.27 149.5L120.63 149.7L121 149.8L121.37 149.7L121.73 149.6L122.1 149.6L122.47 149.6L122.83 149.5L123.2 149.5L123.57 149.5L123.93 149.4L124.3 149.4L124.67 149.4L125.03 149.4L125.4 149.5L125.77 149.7L126.13 149.7L126.5 149.6L126.87 149.5L127.23 149.4L127.6 149.5L127.97 149.5L128.33 149.6L128.7 149.7L129.07 149.8L129.43 149.7L129.8 149.5L130.17 149.5L130.53 149.6L130.9 149.8L131.27 149.8L131.63 149.8L132 149.7L132.37 149.7L132.73 149.6L133.1 149.5L133.47 149.6L133.83 149.7L134.2 149.8L134.57 149.9L134.93 150L135.3 150.1L135.67 150.2L136.03 150.3L136.4 150.3L136.77 150.4L137.13 150.4L137.5 150.4L137.87 150.4L138.23 150.3L138.6 150L138.97 149.8L139.33 149.8L139.7 149.9L140.07 150L140.43 149.9L140.8 149.9L141.17 149.9L141.53 150.1L141.9 150.3L142.27 150.2L142.63 150.1L143 150L143.37 150.1L143.73 150.1L144.1 150.2L144.47 150.3L144.83 150.3L145.2 150.4L145.57 150.3L145.93 150.3L146.3 150.2L146.67 150L147.03 149.8L147.4 149.7L147.77 149.7L148.13 149.6L148.5 149.7L148.87 149.8L149.23 149.7L149.6 149.6L149.97 149.5L150.33 149.5L150.7 149.5L151.07 149.6L151.43 149.6L151.8 149.7L152.17 149.7L152.53 149.7L152.9 149.7L153.27 149.7L153.63 149.8L154 149.8L154.37 149.8L154.73 149.7L155.1 149.7L155.47 149.6L155.83 149.6L156.2 149.6L156.57 149.8L156.93 150L157.3 150.1L157.67 150.1L158.03 150.1L158.4 150.1L158.77 150L159.13 150L159.5 149.9L159.87 149.8L160.23 149.8L160.6 149.8L160.97 149.9L161.33 149.9L161.7 150L162.07 150L162.43 150.1L162.8 150.1L163.17 150.2L163.53 150.2L163.9 150.3L164.27 150.3L164.63 150.3L165 150.4L165.37 150.4L165.73 150.5L166.1 150.5L166.47 150.5L166.83 150.5L167.2 150.4L167.57 150.3L167.93 150.2L168.3 150.1L168.67 150L169.03 149.9L169.4 149.9L169.77 150L170.13 150L170.5 149.8L170.87 149.6L171.23 149.5L171.6 149.5L171.97 149.5L172.33 149.4L172.7 149.4L173.07 149.4L173.43 149.6L173.8 149.8L174.17 149.9L174.53 150L174.9 150L175.27 150.1L175.63 150.3L176 150.4L176.37 150.5L176.73 150.5L177.1 150.6L177.47 150.6L177.83 150.5L178.2 150.5L178.57 150.5L178.93 150.5L179.3 150.7L179.67 150.9L180.03 151.1L180.4 151.1L180.77 151.1L181.13 151L181.5 151L181.87 150.9L182.23 150.8L182.6 150.8L182.97 150.8L183.33 150.8L183.7 150.8L184.07 150.9L184.43 150.8L184.8 150.8L185.17 150.8L185.53 151.1L185.9 151.3L186.27 151.2L186.63 151L187 150.9L187.37 150.8L187.73 150.7L188.1 150.7L188.47 150.6L188.83 150.6L189.2 150.6L189.57 150.5L189.93 150.4L190.3 150.4L190.67 150.3L191.03 150.2L191.4 150L191.77 149.7L192.13 149.6L192.5 149.5L192.87 149.4L193.23 149.4L193.6 149.5L193.97 149.6L194.33 149.7L194.7 149.8L195.07 149.9L195.43 149.9L195.8 150L196.17 150L196.53 149.8L196.9 149.7L197.27 149.7L197.63 149.8L198 149.9L198.37 150.1L198.73 150.3L199.1 150.5L199.47 150.6L199.83 150.6L200.2 150.5L200.57 150.2L200.93 149.9L201.3 149.9L201.67 149.9L202.03 149.9L202.4 150.1L202.77 150.3L203.13 150.4L203.5 150.2L203.87 150.1L204.23 150.1L204.6 150.2L204.97 150.3L205.33 150.1L205.7 149.9L206.07 149.7L206.43 149.7L206.8 149.8L207.17 149.7L207.53 149.5L207.9 149.2L208.27 149.1L208.63 149.1L209 149.2L209.37 149.2L209.73 149.3L210.1 149.3L210.47 149.2L210.83 149.2L211.2 149.2L211.57 149.3L211.93 149.4L212.3 149.4L212.67 149.4L213.03 149.5L213.4 149.6L213.77 149.6L214.13 149.6L214.5 149.5L214.87 149.3L215.23 149.4L215.6 149.5L215.97 149.7L216.33 149.7L216.7 149.7L217.07 149.7L217.43 149.6L217.8 149.6L218.17 149.6L218.53 149.6L218.9 149.7L219.27 149.6L219.63 149.4L220 149.3" stroke="#f00" stroke-width="2" vector-effect="non-scaling-stroke"/></g>
<path d="M1431.7 1421.6V1728.2" stroke="#000" stroke-width="2.4" stroke-dasharray="7.25 7.35" stroke-dashoffset="7" fill="none"/>
<path d="M1325.5 1728.2v-3.8M1325.5 1421.6v3.8M1352 1728.2v-3.8M1352 1421.6v3.8M1378.6 1728.2v-3.8M1378.6 1421.6v3.8M1405.2 1728.2v-3.8M1405.2 1421.6v3.8M1431.7 1728.2v-3.8M1431.7 1421.6v3.8M1458.3 1728.2v-3.8M1458.3 1421.6v3.8M1484.9 1728.2v-3.8M1484.9 1421.6v3.8M1511.4 1728.2v-3.8M1511.4 1421.6v3.8M1538 1728.2v-3.8M1538 1421.6v3.8M1564.6 1728.2v-3.8M1564.6 1421.6v3.8M1591.1 1728.2v-3.8M1591.1 1421.6v3.8M1617.7 1728.2v-3.8M1617.7 1421.6v3.8M1644.3 1728.2v-3.8M1644.3 1421.6v3.8M1670.8 1728.2v-3.8M1670.8 1421.6v3.8M1299.3 1690.6h3.8M1697 1690.6h-3.8M1299.3 1652h3.8M1697 1652h-3.8M1299.3 1613.5h3.8M1697 1613.5h-3.8M1299.3 1574.9h3.8M1697 1574.9h-3.8M1299.3 1536.3h3.8M1697 1536.3h-3.8M1299.3 1497.8h3.8M1697 1497.8h-3.8M1299.3 1459.2h3.8M1697 1459.2h-3.8" stroke="#6a6a6a" stroke-width="1" fill="none"/>
<rect x="1299.3" y="1421.6" width="397.7" height="306.6" fill="none" stroke="#4a4a4a" stroke-width="1.3"/>
<g class="tk" text-anchor="middle"><text x="1298.9" y="1745.2">0</text><text x="1325.5" y="1745.2">1</text><text x="1352" y="1745.2">2</text><text x="1378.6" y="1745.2">3</text><text x="1405.2" y="1745.2">4</text><text x="1431.7" y="1745.2">0</text><text x="1458.3" y="1745.2">1</text><text x="1484.9" y="1745.2">2</text><text x="1511.4" y="1745.2">3</text><text x="1538" y="1745.2">4</text><text x="1564.6" y="1745.2">5</text><text x="1591.1" y="1745.2">6</text><text x="1617.7" y="1745.2">7</text><text x="1644.3" y="1745.2">8</text><text x="1670.8" y="1745.2">9</text><text x="1697.4" y="1745.2">10</text></g>
<g class="tk" text-anchor="end"><text x="1293.3" y="1733.1">0</text><text x="1293.3" y="1694.6">1</text><text x="1293.3" y="1656">2</text><text x="1293.3" y="1617.5">3</text><text x="1293.3" y="1578.9">4</text><text x="1293.3" y="1540.3">5</text><text x="1293.3" y="1501.8">6</text><text x="1293.3" y="1463.2">7</text><text x="1293.3" y="1424.7">8</text></g>
<rect x="1444.4" y="1429" width="243.8" height="81.3" rx="1.5" fill="#fff" stroke="#3a3a3a" stroke-width="1.4"/>
<path d="M1454.4 1439.3H1485.1" stroke="#00f" stroke-width="1.9"/>
<path d="M1454.4 1469.6H1485.1" stroke="#f00" stroke-width="4.2"/>
<path d="M1454.4 1496.1H1485.1" stroke="#000" stroke-width="2.2" stroke-dasharray="10.1 2.3" stroke-dashoffset="4.5"/>
<g class="lg"><text x="1495.9" y="1449">CT prevalence</text><text x="1493.4" y="1477.5">Mean prevalence</text><text x="1493.4" y="1504">Intervention start</text></g>
<text class="num" text-anchor="middle" x="1328.5" y="1479.2">9</text>
<text class="xl" text-anchor="middle" x="1474.7" y="1784.6">Time (years)</text>
<text class="yl" text-anchor="middle" transform="translate(1274.4 1580.6) rotate(-90)">Prevalence(%)</text>
</g>
</svg></body></html>
